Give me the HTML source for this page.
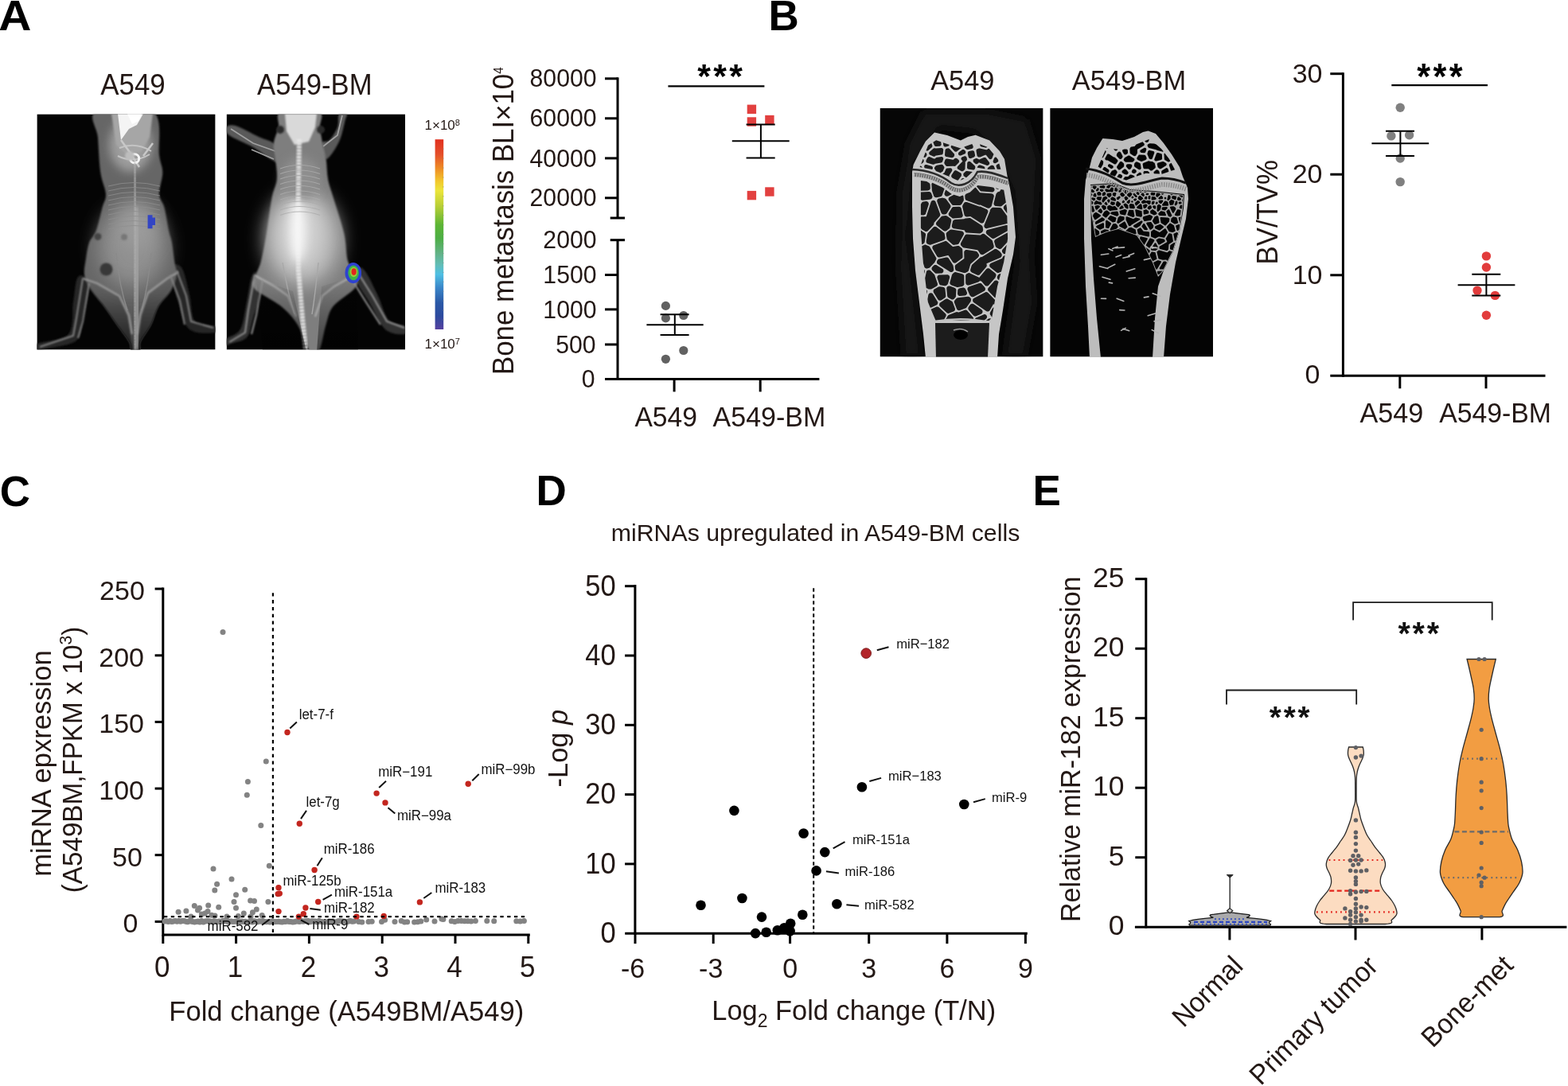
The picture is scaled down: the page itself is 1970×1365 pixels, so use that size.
<!DOCTYPE html>
<html><head><meta charset="utf-8"><title>Figure</title>
<style>
html,body{margin:0;padding:0;background:#fff;}
body{width:1970px;height:1365px;overflow:hidden;}
svg{display:block;}
text{font-family:'Liberation Sans', Arial, Helvetica, sans-serif;}
</style></head><body>
<svg width="1970" height="1365" viewBox="0 0 1970 1365">
<rect width="1970" height="1365" fill="#fff"/>
<text transform="translate(-1.8,37.5) scale(1.075,1.02)" font-size="53" font-weight="bold" fill="#000">A</text>
<text transform="translate(965.6,37.6) scale(1,1.02)" font-size="53" text-anchor="start" font-weight="bold" fill="#000" >B</text>
<text transform="translate(-0.2,635.6) scale(1,1.02)" font-size="53" text-anchor="start" font-weight="bold" fill="#000" >C</text>
<text transform="translate(673.6,634.8) scale(1,1.02)" font-size="53" text-anchor="start" font-weight="bold" fill="#000" >D</text>
<text transform="translate(1297.6,635.0) scale(1,1.02)" font-size="53" text-anchor="start" font-weight="bold" fill="#000" >E</text>
<text transform="translate(167.0,119.4) scale(1,1.04)" font-size="34.9" text-anchor="middle" font-weight="normal" fill="#231815" >A549</text>
<text transform="translate(395.3,119.4) scale(1,1.04)" font-size="34.7" text-anchor="middle" font-weight="normal" fill="#231815" >A549-BM</text>
<defs>
<filter id="b1" x="-20%" y="-20%" width="140%" height="140%"><feGaussianBlur stdDeviation="2.5"/></filter>
<filter id="b2" x="-60%" y="-60%" width="220%" height="220%"><feGaussianBlur stdDeviation="6"/></filter>
<filter id="b3" x="-100%" y="-100%" width="300%" height="300%"><feGaussianBlur stdDeviation="12"/></filter>
<filter id="b05" x="-20%" y="-20%" width="140%" height="140%"><feGaussianBlur stdDeviation="0.7"/></filter>
<filter id="b1s" x="-30%" y="-30%" width="160%" height="160%"><feGaussianBlur stdDeviation="1.2"/></filter>
<clipPath id="cm1"><rect x="46.4" y="143.4" width="224.2" height="296.2"/></clipPath>
<clipPath id="cm2"><rect x="284.6" y="143.4" width="224.5" height="296.2"/></clipPath>
<clipPath id="cb1"><rect x="1105.5" y="136" width="205.1" height="312.5"/></clipPath>
<clipPath id="cb2"><rect x="1319.2" y="136" width="204.8" height="312.5"/></clipPath>
<linearGradient id="cbar" x1="0" y1="0" x2="0" y2="1">
<stop offset="0" stop-color="#e1301f"/><stop offset="0.08" stop-color="#e4502a"/><stop offset="0.15" stop-color="#ee8a25"/>
<stop offset="0.22" stop-color="#f2c72c"/><stop offset="0.27" stop-color="#ece53a"/><stop offset="0.35" stop-color="#b9cf36"/>
<stop offset="0.45" stop-color="#5cb534"/><stop offset="0.52" stop-color="#4dae45"/><stop offset="0.6" stop-color="#62b286"/>
<stop offset="0.66" stop-color="#62bdb6"/><stop offset="0.71" stop-color="#4fbfe3"/><stop offset="0.78" stop-color="#3a86c9"/>
<stop offset="0.86" stop-color="#2a58a6"/><stop offset="0.93" stop-color="#2c4a9e"/><stop offset="1" stop-color="#5641a0"/>
</linearGradient>
<radialGradient id="body1" cx="0.5" cy="0.5" r="0.5"><stop offset="0" stop-color="#a8a8a8"/><stop offset="0.7" stop-color="#8c8c8c"/><stop offset="1" stop-color="#5a5a5a"/></radialGradient>
<radialGradient id="body2" cx="0.45" cy="0.45" r="0.55"><stop offset="0" stop-color="#e8e8e8"/><stop offset="0.5" stop-color="#c4c4c4"/><stop offset="1" stop-color="#7a7a7a"/></radialGradient>
</defs>
<g clip-path="url(#cm1)">
<rect x="46.4" y="143.4" width="224.2" height="296.2" fill="#040404"/>
<path d="M98.0,348.0C101.3,344.0 111.0,347.3 112.0,356.0C113.0,364.7 106.7,388.0 104.0,400.0C101.3,412.0 103.3,421.7 96.0,428.0C88.7,434.3 68.3,436.0 60.0,438.0C51.7,440.0 48.3,441.0 46.0,440.0C43.7,439.0 39.3,435.3 46.0,432.0C52.7,428.7 78.3,428.7 86.0,420.0C93.7,411.3 90.0,392.0 92.0,380.0C94.0,368.0 94.7,352.0 98.0,348.0Z" fill="#262626" filter="url(#b1s)"/>
<path d="M214.0,338.0C214.7,330.7 224.0,330.7 228.0,336.0C232.0,341.3 235.2,358.7 238.0,370.0C240.8,381.3 239.7,397.3 245.0,404.0C250.3,410.7 265.8,407.7 270.0,410.0C274.2,412.3 275.3,417.3 270.0,418.0C264.7,418.7 245.7,420.3 238.0,414.0C230.3,407.7 228.0,392.7 224.0,380.0C220.0,367.3 213.3,345.3 214.0,338.0Z" fill="#262626" filter="url(#b1s)"/>
<path d="M120.8,140.0C109.3,145.5 122.1,160.2 123.0,173.0C123.9,185.8 124.6,205.2 126.3,217.0C128.0,228.8 132.6,236.7 133.0,244.0C133.4,251.3 130.5,253.3 128.5,261.0C126.5,268.7 123.5,282.7 120.8,290.0C118.0,297.3 114.1,299.2 112.0,305.0C109.9,310.8 109.0,318.3 108.0,325.0C107.0,331.7 105.2,338.8 106.0,345.0C106.8,351.2 108.6,355.3 112.7,362.0C116.8,368.7 125.1,377.4 130.8,385.0C136.5,392.6 141.4,400.0 146.7,407.5C152.0,415.0 159.5,424.2 162.6,430.0C165.7,435.8 162.8,440.0 165.0,442.0C167.2,444.0 174.1,444.0 176.0,442.0C177.9,440.0 173.9,435.8 176.2,430.0C178.5,424.2 186.1,415.0 189.9,407.5C193.7,400.0 194.8,392.1 199.0,385.0C203.2,377.9 211.2,371.7 215.0,365.0C218.8,358.3 221.3,350.8 222.0,345.0C222.7,339.2 220.4,336.7 219.4,330.0C218.4,323.3 217.2,311.7 216.0,305.0C214.8,298.3 213.6,297.3 212.0,290.0C210.4,282.7 208.5,268.7 206.5,261.0C204.5,253.3 200.4,251.3 200.0,244.0C199.6,236.7 204.3,225.2 204.3,217.0C204.3,208.8 202.0,207.8 200.0,195.0C198.0,182.2 205.4,149.2 192.2,140.0C179.0,130.8 132.3,134.5 120.8,140.0Z" fill="#666" filter="url(#b1s)"/>
<ellipse cx="166" cy="310" rx="42" ry="50" fill="#8f8f8f" filter="url(#b3)"/>
<ellipse cx="172" cy="285" rx="22" ry="30" fill="#9c9c9c" filter="url(#b3)"/>
<linearGradient id="m1dark" x1="0" y1="0" x2="0" y2="1"><stop offset="0" stop-color="#000" stop-opacity="0"/><stop offset="1" stop-color="#000" stop-opacity="0.55"/></linearGradient>
<clipPath id="m1clip"><path d="M120.8,140.0C109.3,145.5 122.1,160.2 123.0,173.0C123.9,185.8 124.6,205.2 126.3,217.0C128.0,228.8 132.6,236.7 133.0,244.0C133.4,251.3 130.5,253.3 128.5,261.0C126.5,268.7 123.5,282.7 120.8,290.0C118.0,297.3 114.1,299.2 112.0,305.0C109.9,310.8 109.0,318.3 108.0,325.0C107.0,331.7 105.2,338.8 106.0,345.0C106.8,351.2 108.6,355.3 112.7,362.0C116.8,368.7 125.1,377.4 130.8,385.0C136.5,392.6 141.4,400.0 146.7,407.5C152.0,415.0 159.5,424.2 162.6,430.0C165.7,435.8 162.8,440.0 165.0,442.0C167.2,444.0 174.1,444.0 176.0,442.0C177.9,440.0 173.9,435.8 176.2,430.0C178.5,424.2 186.1,415.0 189.9,407.5C193.7,400.0 194.8,392.1 199.0,385.0C203.2,377.9 211.2,371.7 215.0,365.0C218.8,358.3 221.3,350.8 222.0,345.0C222.7,339.2 220.4,336.7 219.4,330.0C218.4,323.3 217.2,311.7 216.0,305.0C214.8,298.3 213.6,297.3 212.0,290.0C210.4,282.7 208.5,268.7 206.5,261.0C204.5,253.3 200.4,251.3 200.0,244.0C199.6,236.7 204.3,225.2 204.3,217.0C204.3,208.8 202.0,207.8 200.0,195.0C198.0,182.2 205.4,149.2 192.2,140.0C179.0,130.8 132.3,134.5 120.8,140.0Z"/></clipPath>
<g clip-path="url(#m1clip)" filter="url(#b1s)"><polygon points="96,346 150,372 160,398 168,445 90,445" fill="url(#m1dark)"/><polygon points="228,338 186,370 178,398 172,445 245,445" fill="url(#m1dark)"/><rect x="90" y="370" width="160" height="75" fill="url(#m1dark)" opacity="0.7"/></g>
<path d="M171,260 L173,330 L173,380 L171,440" stroke="#a8a8a8" stroke-width="8" fill="none" filter="url(#b1)" opacity="0.75"/>
<ellipse cx="164" cy="182" rx="27" ry="34" fill="#9c9c9c" filter="url(#b2)"/>
<path d="M140,143 L192,143 L188,172 L178,190 L160,196 L146,182 Z" fill="#a6a6a6" filter="url(#b1s)"/>
<path d="M150,186 Q170,178 190,190 M148,196 Q168,206 188,194" stroke="#c4c4c4" stroke-width="2" fill="none" filter="url(#b05)"/>
<path d="M148,143 L180,143 L172,157 L162,162 L152,176 Z" fill="#f4f4f4" filter="url(#b05)"/>
<path d="M160,143 L178,143 L174,152 L166,156 Z" fill="#ffffff" filter="url(#b05)"/>
<path d="M152,176 L162,190 L175,210 M192,180 L180,196" stroke="#c8c8c8" stroke-width="2.5" fill="none" filter="url(#b05)"/>
<circle cx="169.1" cy="199.3" r="5.6" fill="none" stroke="#f4f4f4" stroke-width="3"/>
<circle cx="163" cy="196" r="6" fill="#bdbdbd" filter="url(#b1s)"/>
<path d="M169.4,205 L170,260 L169.5,330 L169,400 L169.5,440" stroke="#b0b0b0" stroke-width="4" fill="none" stroke-dasharray="2.2 1.4" filter="url(#b1s)"/>
<path d="M136,234 Q168,225 201,234" stroke="#8e8e8e" stroke-width="1" fill="none" opacity="0.8"/>
<path d="M136,240 Q168,231 201,240" stroke="#8e8e8e" stroke-width="1" fill="none" opacity="0.8"/>
<path d="M136,246 Q168,237 201,246" stroke="#8e8e8e" stroke-width="1" fill="none" opacity="0.8"/>
<path d="M136,252 Q168,243 201,252" stroke="#8e8e8e" stroke-width="1" fill="none" opacity="0.8"/>
<path d="M136,258 Q168,249 201,258" stroke="#8e8e8e" stroke-width="1" fill="none" opacity="0.8"/>
<path d="M136,264 Q168,255 201,264" stroke="#8e8e8e" stroke-width="1" fill="none" opacity="0.8"/>
<path d="M136,270 Q168,261 201,270" stroke="#8e8e8e" stroke-width="1" fill="none" opacity="0.8"/>
<path d="M136,276 Q168,267 201,276" stroke="#8e8e8e" stroke-width="1" fill="none" opacity="0.8"/>
<path d="M136,282 Q168,273 201,282" stroke="#8e8e8e" stroke-width="1" fill="none" opacity="0.8"/>
<path d="M136,288 Q168,279 201,288" stroke="#8e8e8e" stroke-width="1" fill="none" opacity="0.8"/>
<circle cx="122.9" cy="297.4" r="4.5" fill="#444" filter="url(#b1s)"/>
<circle cx="133.5" cy="338.5" r="8" fill="#383838" filter="url(#b1s)"/>
<circle cx="156" cy="298" r="4" fill="#777" filter="url(#b1s)"/>
<path d="M104,350 L122,356 L150,372 L162,396 L166,420 M224,342 L210,350 L186,368 L176,396 L172,420" stroke="#9a9a9a" stroke-width="2.2" fill="none" filter="url(#b1s)"/>
<path d="M104,350 L96,400 L92,422 L50,436 M112,356 L104,404 L98,425" stroke="#858585" stroke-width="2" fill="none" filter="url(#b1s)"/>
<path d="M222,340 L234,372 L240,404 L268,412 M214,346 L226,378 L232,408" stroke="#858585" stroke-width="2" fill="none" filter="url(#b1s)"/>
<path d="M146,318 Q150,360 160,390 M190,318 Q186,360 178,390" stroke="#8a8a8a" stroke-width="1.4" fill="none" filter="url(#b05)"/>
<path d="M185.6,270.2 h5.9 v3.4 h3.5 v9.4 h-3.5 v4.3 h-5.9 z" fill="#3345c4"/>
</g>
<g clip-path="url(#cm2)">
<rect x="284.6" y="143.4" width="224.5" height="296.2" fill="#040404"/>
<path d="M346.0,182.0C350.5,187.3 353.0,201.0 352.0,204.0C351.0,207.0 345.7,203.2 340.0,200.0C334.3,196.8 326.7,190.0 318.0,185.0C309.3,180.0 293.7,174.2 288.0,170.0C282.3,165.8 282.7,162.0 284.0,160.0C285.3,158.0 289.2,156.0 296.0,158.0C302.8,160.0 316.7,168.0 325.0,172.0C333.3,176.0 341.5,176.7 346.0,182.0Z" fill="#5a5a5a" filter="url(#b1s)"/>
<path d="M346,190 L318,180 L290,162 M344,200 L316,188" stroke="#a0a0a0" stroke-width="1.8" fill="none" filter="url(#b05)"/>
<path d="M404.0,180.0C403.3,184.0 406.3,200.3 410.0,200.0C413.7,199.7 422.0,186.3 426.0,178.0C430.0,169.7 432.3,155.8 434.0,150.0C435.7,144.2 437.3,144.2 436.0,143.0C434.7,141.8 428.0,140.2 426.0,143.0C424.0,145.8 426.0,154.5 424.0,160.0C422.0,165.5 417.3,172.7 414.0,176.0C410.7,179.3 404.7,176.0 404.0,180.0Z" fill="#5a5a5a" filter="url(#b1s)"/>
<path d="M406,184 L424,170 L430,145" stroke="#a0a0a0" stroke-width="1.8" fill="none" filter="url(#b05)"/>
<path d="M318.0,344.0C321.7,339.3 332.0,342.7 332.0,352.0C332.0,361.3 321.7,388.0 318.0,400.0C314.3,412.0 314.7,418.7 310.0,424.0C305.3,429.3 294.3,430.3 290.0,432.0C285.7,433.7 285.0,435.0 284.0,434.0C283.0,433.0 281.0,429.3 284.0,426.0C287.0,422.7 297.7,421.7 302.0,414.0C306.3,406.3 307.3,391.7 310.0,380.0C312.7,368.3 314.3,348.7 318.0,344.0Z" fill="#333" filter="url(#b1s)"/>
<path d="M440.0,340.0C438.7,333.0 450.3,333.0 456.0,338.0C461.7,343.0 468.7,359.3 474.0,370.0C479.3,380.7 482.2,395.3 488.0,402.0C493.8,408.7 505.5,407.0 509.0,410.0C512.5,413.0 513.2,419.3 509.0,420.0C504.8,420.7 491.5,420.7 484.0,414.0C476.5,407.3 471.3,392.3 464.0,380.0C456.7,367.7 441.3,347.0 440.0,340.0Z" fill="#333" filter="url(#b1s)"/>
<path d="M353.0,140.0C344.6,143.3 351.5,153.3 350.0,160.0C348.5,166.7 344.5,173.3 343.8,180.0C343.1,186.7 345.3,192.5 346.0,200.0C346.7,207.5 348.7,216.9 348.0,225.0C347.3,233.1 343.8,237.0 341.6,248.5C339.4,260.0 337.1,280.8 334.8,294.0C332.5,307.2 330.1,319.5 328.0,328.0C325.9,336.5 323.5,339.3 322.0,345.0C320.5,350.7 313.8,355.4 318.9,362.0C324.0,368.6 343.8,377.2 352.9,384.8C362.0,392.4 367.3,398.0 373.4,407.5C379.5,417.0 384.8,436.2 389.3,442.0C393.8,447.8 397.2,447.8 400.6,442.0C404.0,436.2 406.7,417.0 409.7,407.5C412.7,398.0 412.8,392.4 418.8,384.8C424.9,377.2 441.1,368.6 446.0,362.0C450.9,355.4 449.5,350.7 448.0,345.0C446.5,339.3 439.6,336.5 437.0,328.0C434.4,319.5 435.4,307.2 432.4,294.0C429.4,280.8 422.2,260.0 418.8,248.5C415.4,237.0 413.5,233.1 412.0,225.0C410.5,216.9 410.8,207.5 409.7,200.0C408.6,192.5 406.5,186.7 405.2,180.0C403.9,173.3 402.8,166.7 402.0,160.0C401.2,153.3 408.8,143.3 400.6,140.0C392.4,136.7 361.4,136.7 353.0,140.0Z" fill="#7e7e7e" filter="url(#b1s)"/>
<ellipse cx="380" cy="300" rx="46" ry="58" fill="#bdbdbd" filter="url(#b3)"/>
<ellipse cx="376" cy="292" rx="22" ry="40" fill="#dadada" filter="url(#b3)"/>
<ellipse cx="378" cy="225" rx="24" ry="28" fill="#8e8e8e" filter="url(#b2)"/>
<path d="M358,143 L398,143 L396,160 L388,178 L370,182 L360,165 Z" fill="#d9d9d9" filter="url(#b1s)"/>
<circle cx="352" cy="163" r="5" fill="#2c2c2c" filter="url(#b1s)"/>
<circle cx="403" cy="163" r="5" fill="#2c2c2c" filter="url(#b1s)"/>
<path d="M376,175 L375,230 L374,290 L375,340 L380,400 L384,440" stroke="#e8e8e8" stroke-width="6" fill="none" stroke-dasharray="3 1.2" filter="url(#b1s)"/>
<ellipse cx="374" cy="290" rx="9" ry="40" fill="#f7f7f7" filter="url(#b2)"/>
<path d="M352,212.0 Q376,203.0 402,212.0" stroke="#ababab" stroke-width="1.1" fill="none" opacity="0.85"/>
<path d="M352,218.5 Q376,209.5 402,218.5" stroke="#ababab" stroke-width="1.1" fill="none" opacity="0.85"/>
<path d="M352,225.0 Q376,216.0 402,225.0" stroke="#ababab" stroke-width="1.1" fill="none" opacity="0.85"/>
<path d="M352,231.5 Q376,222.5 402,231.5" stroke="#ababab" stroke-width="1.1" fill="none" opacity="0.85"/>
<path d="M352,238.0 Q376,229.0 402,238.0" stroke="#ababab" stroke-width="1.1" fill="none" opacity="0.85"/>
<path d="M352,244.5 Q376,235.5 402,244.5" stroke="#ababab" stroke-width="1.1" fill="none" opacity="0.85"/>
<path d="M352,251.0 Q376,242.0 402,251.0" stroke="#ababab" stroke-width="1.1" fill="none" opacity="0.85"/>
<path d="M352,257.5 Q376,248.5 402,257.5" stroke="#ababab" stroke-width="1.1" fill="none" opacity="0.85"/>
<path d="M352,264.0 Q376,255.0 402,264.0" stroke="#ababab" stroke-width="1.1" fill="none" opacity="0.85"/>
<path d="M352,270.5 Q376,261.5 402,270.5" stroke="#ababab" stroke-width="1.1" fill="none" opacity="0.85"/>
<path d="M320,346 L345,360 L362,372 L372,398 M448,344 L420,360 L405,372 L396,398" stroke="#b0b0b0" stroke-width="2.2" fill="none" filter="url(#b1s)"/>
<path d="M320,346 L312,390 L308,418 L288,430 M330,352 L322,396 L316,420" stroke="#959595" stroke-width="2" fill="none" filter="url(#b1s)"/>
<path d="M448,340 L468,372 L486,404 L508,412 M440,348 L460,380 L478,408" stroke="#959595" stroke-width="2" fill="none" filter="url(#b1s)"/>
<path d="M355,330 Q362,370 370,395 M400,330 Q396,370 392,395" stroke="#a8a8a8" stroke-width="1.4" fill="none" filter="url(#b05)"/>
<linearGradient id="m2dark" x1="0" y1="0" x2="0" y2="1"><stop offset="0" stop-color="#000" stop-opacity="0"/><stop offset="1" stop-color="#000" stop-opacity="0.5"/></linearGradient>
<polygon points="322,350 368,366 385,442 330,442" fill="url(#m2dark)"/>
<polygon points="448,346 404,360 398,442 450,442" fill="url(#m2dark)"/>
<ellipse cx="443.8" cy="343.1" rx="10.3" ry="13.1" fill="#2f43d0" filter="url(#b05)"/>
<ellipse cx="444.1" cy="342.8" rx="6.8" ry="9.4" fill="#3fb548"/>
<ellipse cx="444.4" cy="342" rx="4.6" ry="6.2" fill="#9ccc3a"/>
<ellipse cx="444.6" cy="341.6" rx="3.1" ry="4.3" fill="#e3261d"/>
</g>
<rect x="546.6" y="175.2" width="10.6" height="238.8" fill="url(#cbar)"/>
<line x1="556.0" y1="187.1" x2="557.6" y2="187.1" stroke="#888" stroke-width="0.6" />
<line x1="556.0" y1="199.1" x2="557.6" y2="199.1" stroke="#888" stroke-width="0.6" />
<line x1="556.0" y1="211.0" x2="557.6" y2="211.0" stroke="#888" stroke-width="0.6" />
<line x1="556.0" y1="223.0" x2="557.6" y2="223.0" stroke="#888" stroke-width="0.6" />
<line x1="556.0" y1="234.9" x2="557.6" y2="234.9" stroke="#888" stroke-width="0.6" />
<line x1="556.0" y1="246.8" x2="557.6" y2="246.8" stroke="#888" stroke-width="0.6" />
<line x1="556.0" y1="258.8" x2="557.6" y2="258.8" stroke="#888" stroke-width="0.6" />
<line x1="556.0" y1="270.7" x2="557.6" y2="270.7" stroke="#888" stroke-width="0.6" />
<line x1="556.0" y1="282.7" x2="557.6" y2="282.7" stroke="#888" stroke-width="0.6" />
<line x1="556.0" y1="294.6" x2="557.6" y2="294.6" stroke="#888" stroke-width="0.6" />
<line x1="556.0" y1="306.5" x2="557.6" y2="306.5" stroke="#888" stroke-width="0.6" />
<line x1="556.0" y1="318.5" x2="557.6" y2="318.5" stroke="#888" stroke-width="0.6" />
<line x1="556.0" y1="330.4" x2="557.6" y2="330.4" stroke="#888" stroke-width="0.6" />
<line x1="556.0" y1="342.4" x2="557.6" y2="342.4" stroke="#888" stroke-width="0.6" />
<line x1="556.0" y1="354.3" x2="557.6" y2="354.3" stroke="#888" stroke-width="0.6" />
<line x1="556.0" y1="366.2" x2="557.6" y2="366.2" stroke="#888" stroke-width="0.6" />
<line x1="556.0" y1="378.2" x2="557.6" y2="378.2" stroke="#888" stroke-width="0.6" />
<line x1="556.0" y1="390.1" x2="557.6" y2="390.1" stroke="#888" stroke-width="0.6" />
<line x1="556.0" y1="402.1" x2="557.6" y2="402.1" stroke="#888" stroke-width="0.6" />
<text transform="translate(533.5,162.6) scale(1,1.0)" font-size="17" text-anchor="start" font-weight="normal" fill="#231815" >1×10<tspan font-size="11" dy="-5">8</tspan></text>
<text transform="translate(533.5,438.0) scale(1,1.0)" font-size="17" text-anchor="start" font-weight="normal" fill="#231815" >1×10<tspan font-size="11" dy="-5">7</tspan></text>
<line x1="776.0" y1="97.3" x2="776.0" y2="274.0" stroke="#000" stroke-width="3" />
<line x1="766.7" y1="274.0" x2="785.0" y2="274.0" stroke="#000" stroke-width="3" />
<line x1="776.0" y1="301.7" x2="776.0" y2="477.9" stroke="#000" stroke-width="3" />
<line x1="766.7" y1="301.7" x2="785.0" y2="301.7" stroke="#000" stroke-width="3" />
<line x1="760.0" y1="98.8" x2="776.0" y2="98.8" stroke="#000" stroke-width="3" />
<line x1="760.0" y1="148.8" x2="776.0" y2="148.8" stroke="#000" stroke-width="3" />
<line x1="760.0" y1="198.9" x2="776.0" y2="198.9" stroke="#000" stroke-width="3" />
<line x1="760.0" y1="248.8" x2="776.0" y2="248.8" stroke="#000" stroke-width="3" />
<line x1="760.0" y1="345.5" x2="776.0" y2="345.5" stroke="#000" stroke-width="3" />
<line x1="760.0" y1="388.9" x2="776.0" y2="388.9" stroke="#000" stroke-width="3" />
<line x1="760.0" y1="433.0" x2="776.0" y2="433.0" stroke="#000" stroke-width="3" />
<line x1="760.0" y1="476.4" x2="1029.4" y2="476.4" stroke="#000" stroke-width="3" />
<line x1="847.1" y1="476.4" x2="847.1" y2="492.4" stroke="#000" stroke-width="3" />
<line x1="955.2" y1="476.4" x2="955.2" y2="492.4" stroke="#000" stroke-width="3" />
<text transform="translate(749.5,109.4) scale(1,1.04)" font-size="30.2" text-anchor="end" font-weight="normal" fill="#231815" >80000</text>
<text transform="translate(749.5,159.4) scale(1,1.04)" font-size="30.2" text-anchor="end" font-weight="normal" fill="#231815" >60000</text>
<text transform="translate(749.5,209.5) scale(1,1.04)" font-size="30.2" text-anchor="end" font-weight="normal" fill="#231815" >40000</text>
<text transform="translate(749.5,259.4) scale(1,1.04)" font-size="30.2" text-anchor="end" font-weight="normal" fill="#231815" >20000</text>
<text transform="translate(749.5,312.3) scale(1,1.04)" font-size="30.2" text-anchor="end" font-weight="normal" fill="#231815" >2000</text>
<text transform="translate(749.5,356.1) scale(1,1.04)" font-size="30.2" text-anchor="end" font-weight="normal" fill="#231815" >1500</text>
<text transform="translate(749.5,399.5) scale(1,1.04)" font-size="30.2" text-anchor="end" font-weight="normal" fill="#231815" >1000</text>
<text transform="translate(748.5,443.6) scale(1,1.04)" font-size="30.2" text-anchor="end" font-weight="normal" fill="#231815" >500</text>
<text transform="translate(747.5,487.0) scale(1,1.04)" font-size="30.2" text-anchor="end" font-weight="normal" fill="#231815" >0</text>
<text transform="translate(644.5,471.0) rotate(-90) scale(1,1.04)" font-size="34.8" fill="#231815">Bone metastasis BLI×10<tspan font-size="15" dy="-12">4</tspan></text>
<circle cx="836.4" cy="384.4" r="5.6" fill="#616161" />
<circle cx="836.4" cy="399.9" r="5.6" fill="#616161" />
<circle cx="858.8" cy="396.5" r="5.6" fill="#616161" />
<circle cx="858.8" cy="440.5" r="5.6" fill="#616161" />
<circle cx="836.4" cy="451.3" r="5.6" fill="#616161" />
<line x1="812.4" y1="408.3" x2="883.7" y2="408.3" stroke="#000" stroke-width="2" />
<line x1="829.6" y1="395.3" x2="865.6" y2="395.3" stroke="#000" stroke-width="2" />
<line x1="829.6" y1="420.9" x2="865.6" y2="420.9" stroke="#000" stroke-width="2" />
<line x1="847.8" y1="395.3" x2="847.8" y2="420.9" stroke="#000" stroke-width="2" />
<rect x="938.7" y="131.6" width="11.4" height="11.4" fill="#e2403f"/>
<rect x="938.7" y="147.3" width="11.4" height="11.4" fill="#e2403f"/>
<rect x="961.2" y="144.9" width="11.4" height="11.4" fill="#e2403f"/>
<rect x="938.7" y="239.9" width="11.4" height="11.4" fill="#e2403f"/>
<rect x="961.2" y="235.3" width="11.4" height="11.4" fill="#e2403f"/>
<line x1="919.8" y1="177.3" x2="991.7" y2="177.3" stroke="#000" stroke-width="2" />
<line x1="937.6" y1="156.4" x2="973.7" y2="156.4" stroke="#000" stroke-width="2" />
<line x1="937.6" y1="198.6" x2="973.7" y2="198.6" stroke="#000" stroke-width="2" />
<line x1="955.9" y1="156.4" x2="955.9" y2="198.6" stroke="#000" stroke-width="2" />
<line x1="839.4" y1="108.3" x2="960.4" y2="108.3" stroke="#000" stroke-width="2.3" />
<text transform="translate(906.2,110.3) scale(1,0.98)" font-size="42.8" text-anchor="middle" font-weight="bold" fill="#000" letter-spacing="3.3">***</text>
<text transform="translate(836.6,535.8) scale(1,1.04)" font-size="33.6" text-anchor="middle" font-weight="normal" fill="#231815" >A549</text>
<text transform="translate(966.4,535.8) scale(1,1.04)" font-size="34.0" text-anchor="middle" font-weight="normal" fill="#231815" >A549-BM</text>
<text transform="translate(1209.3,113.0) scale(1,1.04)" font-size="34.4" text-anchor="middle" font-weight="normal" fill="#231815" >A549</text>
<text transform="translate(1418.5,113.0) scale(1,1.04)" font-size="34.4" text-anchor="middle" font-weight="normal" fill="#231815" >A549-BM</text>
<g clip-path="url(#cb1)">
<rect x="1105.5" y="136" width="205.1" height="312.5" fill="#060606"/>
<path d="M1160,140 L1240,140 L1290,150 L1305,200 L1302,260 L1296,320 L1300,380 L1288,448 L1262,448 L1278,330 L1272,240 L1250,190 L1225,165 L1180,160 L1150,205 L1142,300 L1158,448 L1135,448 L1128,330 L1130,240 L1140,180 Z" fill="#131313" filter="url(#b2)"/>
<polygon points="1174.0,166.5 1190.0,170.0 1206.9,176.4 1216.0,172.0 1225.6,169.8 1243.2,176.4 1256.0,190.0 1262.0,200.0 1265.5,221.0 1269.0,237.0 1273.0,260.0 1276.0,298.0 1273.0,320.0 1266.0,350.0 1260.0,390.0 1255.0,420.0 1253.0,450.0 1163.0,450.0 1160.0,420.0 1155.0,380.0 1150.0,340.0 1147.0,300.0 1146.0,260.0 1146.0,216.0 1147.6,207.1 1156.0,190.0 1163.0,177.5" fill="#c6c6c6"/>
<path d="M1167.6,238.7L1167.8,238.5L1168.1,238.3L1168.3,238.0L1168.4,237.8L1168.6,237.5L1168.7,237.2L1168.8,236.9L1168.8,236.6L1168.9,236.2L1168.8,235.9L1168.6,232.2L1168.5,231.9L1168.5,231.6L1168.4,231.3L1168.2,231.0L1168.1,230.7L1167.9,230.5L1167.7,230.2L1167.5,230.0L1167.2,229.8L1167.0,229.7L1164.2,228.1L1156.9,227.0L1156.9,239.8L1165.8,239.4L1166.1,239.3L1166.4,239.3L1166.7,239.2L1167.0,239.1L1167.3,238.9ZM1174.5,247.7L1174.7,247.9L1175.0,248.0L1175.3,248.1L1175.6,248.2L1175.9,248.2L1176.2,248.2L1176.5,248.2L1176.8,248.2L1181.5,247.2L1181.8,247.1L1182.1,247.0L1182.4,246.9L1182.7,246.7L1182.9,246.5L1183.2,246.3L1183.4,246.0L1183.6,245.7L1183.7,245.4L1183.9,245.1L1186.6,237.3L1184.5,235.8L1171.4,229.7L1171.3,229.8L1171.1,230.0L1170.9,230.2L1170.8,230.5L1170.6,230.8L1170.5,231.0L1170.4,231.3L1170.4,231.6L1170.4,231.9L1170.4,232.2L1170.9,239.5L1171.0,239.7L1171.0,240.0L1171.1,240.3L1173.1,246.1L1173.3,246.4L1173.4,246.7L1173.6,246.9L1173.8,247.1L1174.0,247.4L1174.2,247.6ZM1159.2,251.7L1159.5,251.7L1168.3,250.7L1168.6,250.6L1168.9,250.5L1169.2,250.4L1169.5,250.3L1169.8,250.1L1170.1,249.9L1170.3,249.7L1170.6,249.5L1170.8,249.2L1171.0,249.0L1171.1,248.7L1171.2,248.4L1171.3,248.1L1171.4,247.8L1171.5,247.5L1171.5,247.1L1171.4,246.8L1171.4,246.5L1171.3,246.2L1170.2,243.2L1170.1,242.9L1170.0,242.7L1169.8,242.4L1169.6,242.2L1169.4,241.9L1169.1,241.7L1168.9,241.6L1168.6,241.4L1168.3,241.3L1168.0,241.2L1167.7,241.1L1167.4,241.1L1167.1,241.1L1156.9,241.6L1156.9,250.9L1157.5,251.2L1157.7,251.4L1158.0,251.5L1158.3,251.6L1158.6,251.7L1158.9,251.7ZM1187.3,249.4L1187.0,249.3L1184.6,248.7L1184.3,248.7L1184.1,248.6L1183.8,248.6L1183.5,248.7L1183.2,248.7L1179.8,249.4L1179.5,249.5L1179.2,249.6L1178.9,249.7L1178.7,249.9L1178.4,250.0L1178.2,250.2L1178.0,250.5L1177.8,250.7L1177.6,251.0L1177.5,251.3L1177.4,251.5L1177.3,251.8L1177.3,252.1L1177.2,252.4L1177.2,252.7L1177.3,253.1L1177.3,253.4L1177.4,253.6L1182.5,267.5L1182.7,267.8L1182.8,268.0L1183.0,268.3L1183.2,268.5L1183.5,268.8L1183.7,269.0L1184.0,269.1L1184.3,269.3L1184.6,269.4L1184.9,269.5L1185.2,269.5L1185.5,269.5L1185.9,269.5L1187.3,269.4L1187.6,269.3L1188.0,269.3L1188.3,269.2L1188.6,269.0L1188.8,268.8L1189.1,268.6L1189.3,268.4L1189.5,268.2L1189.7,267.9L1194.0,261.0L1194.2,260.7L1194.3,260.4L1194.4,260.1L1194.4,259.8L1194.5,259.5L1194.5,259.2L1194.5,258.9L1194.4,258.6L1194.3,258.2L1194.2,258.0L1194.0,257.7L1193.9,257.4L1188.8,250.5L1188.6,250.3L1188.4,250.1L1188.1,249.9L1187.9,249.7L1187.6,249.6ZM1161.9,269.9L1162.2,269.7L1162.4,269.5L1162.6,269.2L1162.8,269.0L1163.0,268.7L1163.1,268.4L1163.2,268.1L1166.7,257.2L1166.7,256.9L1166.8,256.6L1166.8,256.3L1166.8,256.0L1166.8,255.6L1166.7,255.3L1166.6,255.0L1166.4,254.7L1166.3,254.5L1166.1,254.2L1165.9,254.0L1165.6,253.8L1165.4,253.6L1165.1,253.4L1164.8,253.3L1164.5,253.2L1164.2,253.1L1163.9,253.1L1163.6,253.1L1163.2,253.1L1160.3,253.4L1160.0,253.5L1159.7,253.6L1159.4,253.7L1159.1,253.8L1158.8,254.0L1158.6,254.2L1158.3,254.4L1158.1,254.7L1157.9,255.0L1156.9,256.7L1156.9,270.3L1160.1,270.4L1160.4,270.4L1160.8,270.3L1161.1,270.2L1161.4,270.1L1161.6,270.0ZM1174.2,252.2L1173.9,252.1L1173.6,252.0L1173.3,251.9L1173.0,251.8L1172.7,251.8L1172.4,251.8L1172.0,251.9L1171.7,251.9L1171.4,252.0L1171.1,252.2L1170.9,252.3L1170.6,252.5L1170.4,252.7L1170.2,252.9L1170.0,253.2L1169.8,253.5L1169.7,253.8L1169.6,254.1L1164.0,271.5L1164.0,271.7L1163.9,271.7L1163.9,271.8L1163.8,271.9L1163.8,271.9L1163.7,272.0L1163.7,272.1L1163.6,272.1L1163.5,272.1L1163.4,272.2L1163.3,272.2L1163.2,272.2L1163.1,272.2L1158.9,272.2L1158.5,272.2L1158.2,272.2L1157.9,272.3L1157.6,272.4L1157.3,272.5L1157.0,272.7L1156.9,272.8L1156.9,286.0L1156.9,286.1L1157.0,286.4L1157.0,286.7L1157.2,287.0L1157.3,287.3L1157.5,287.5L1157.7,287.8L1157.9,288.0L1158.1,288.2L1158.4,288.4L1162.0,290.6L1162.2,290.7L1162.5,290.9L1162.8,290.9L1163.1,291.0L1163.4,291.0L1163.7,291.1L1164.1,291.0L1164.4,291.0L1164.7,290.9L1164.9,290.8L1165.2,290.6L1165.5,290.5L1165.7,290.3L1166.0,290.1L1172.6,283.1L1172.8,282.8L1172.9,282.6L1173.1,282.3L1173.2,282.0L1173.3,281.8L1173.4,281.5L1173.4,281.2L1173.4,280.8L1173.4,280.4L1173.4,280.3L1173.5,280.2L1173.5,280.1L1173.5,280.0L1173.6,279.9L1173.6,279.8L1173.7,279.7L1180.5,272.0L1180.7,271.7L1180.9,271.5L1181.0,271.2L1181.1,270.9L1181.2,270.6L1181.3,270.3L1181.3,270.0L1181.3,269.7L1181.3,269.3L1181.2,269.0L1181.1,268.7L1175.6,253.9L1175.5,253.6L1175.3,253.3L1175.1,253.1L1174.9,252.8L1174.7,252.6L1174.5,252.4ZM1176.0,280.6L1176.0,280.9L1176.0,281.2L1176.0,281.5L1176.1,281.8L1176.2,282.1L1176.3,282.4L1176.4,282.7L1176.6,282.9L1176.8,283.2L1177.0,283.4L1177.2,283.6L1185.4,289.9L1185.7,290.1L1186.0,290.3L1186.3,290.4L1186.6,290.5L1186.9,290.5L1187.2,290.6L1187.5,290.6L1187.9,290.5L1188.2,290.5L1188.5,290.4L1188.8,290.3L1189.1,290.1L1189.3,289.9L1192.3,287.6L1192.5,287.4L1192.7,287.2L1192.9,286.9L1193.1,286.7L1193.3,286.4L1193.4,286.1L1193.5,285.8L1195.2,277.9L1195.2,277.6L1195.3,277.3L1195.3,277.0L1195.2,276.6L1195.2,276.4L1195.1,276.1L1194.9,275.8L1194.8,275.5L1194.6,275.3L1194.4,275.0L1194.2,274.8L1194.0,274.6L1190.2,271.8L1189.9,271.6L1189.6,271.4L1189.3,271.3L1188.9,271.2L1188.6,271.2L1188.3,271.1L1187.9,271.1L1184.5,271.5L1184.2,271.5L1183.9,271.6L1183.6,271.7L1183.3,271.8L1183.1,272.0L1182.8,272.1L1182.6,272.3L1182.4,272.5L1176.8,278.9L1176.6,279.2L1176.4,279.4L1176.3,279.7L1176.2,280.0L1176.1,280.3ZM1164.1,305.5L1164.3,305.7L1164.5,306.0L1164.7,306.2L1165.0,306.4L1165.3,306.6L1165.5,306.7L1167.3,307.5L1167.6,307.6L1167.9,307.7L1168.2,307.8L1168.5,307.8L1168.8,307.8L1169.1,307.8L1169.4,307.7L1169.7,307.6L1185.4,301.9L1185.7,301.8L1186.0,301.6L1186.3,301.4L1186.5,301.2L1186.8,301.0L1187.0,300.7L1187.1,300.5L1187.3,300.2L1187.4,299.9L1187.5,299.6L1187.5,299.3L1187.6,298.9L1187.5,298.6L1187.5,298.3L1186.8,294.3L1186.7,293.9L1186.6,293.6L1186.4,293.3L1186.3,293.0L1186.1,292.8L1185.8,292.5L1185.6,292.3L1176.7,285.5L1176.5,285.3L1176.2,285.1L1175.9,285.0L1175.6,284.9L1175.3,284.9L1175.0,284.8L1174.7,284.8L1174.4,284.8L1174.1,284.9L1173.8,285.0L1173.5,285.1L1173.2,285.2L1172.9,285.4L1172.7,285.6L1172.5,285.8L1165.9,292.8L1165.7,293.0L1165.5,293.3L1165.3,293.6L1165.2,293.9L1165.1,294.2L1165.0,294.5L1163.7,303.3L1163.7,303.6L1163.7,304.0L1163.7,304.3L1163.8,304.6L1163.9,304.9L1164.0,305.2ZM1161.4,305.1L1161.5,304.9L1161.6,304.6L1161.7,304.3L1161.8,304.0L1163.0,295.6L1163.1,295.3L1163.1,295.0L1163.0,294.7L1163.0,294.4L1162.9,294.1L1162.8,293.8L1162.6,293.5L1162.5,293.3L1162.3,293.0L1162.0,292.8L1161.8,292.6L1161.5,292.4L1156.9,289.6L1156.9,290.0L1158.2,307.2L1160.0,306.4L1160.3,306.2L1160.5,306.0L1160.8,305.8L1161.0,305.6L1161.2,305.4ZM1173.7,330.6L1173.9,330.4L1174.1,330.2L1174.2,329.9L1176.0,326.6L1176.2,326.3L1176.3,326.0L1176.3,325.6L1176.4,325.3L1176.4,325.0L1176.4,324.7L1176.3,324.3L1176.2,324.0L1176.1,323.7L1175.9,323.4L1168.3,310.6L1168.2,310.3L1167.9,310.1L1167.7,309.8L1167.5,309.6L1167.2,309.5L1166.9,309.3L1163.7,307.9L1163.4,307.7L1163.1,307.7L1162.8,307.6L1162.5,307.6L1162.2,307.6L1161.9,307.6L1161.6,307.7L1161.3,307.8L1161.0,307.9L1158.3,309.2L1159.9,329.9L1160.0,331.1L1161.2,335.1L1161.3,335.4L1161.4,335.7L1161.6,336.0L1161.7,336.2L1162.0,336.5L1162.2,336.7L1162.5,336.9L1162.7,337.1L1162.8,337.1L1163.1,337.2L1163.4,337.3L1163.7,337.4L1164.0,337.4L1164.3,337.5L1164.6,337.4L1164.9,337.4L1166.5,337.1L1166.8,337.0L1167.1,336.9L1167.4,336.8L1167.7,336.6L1167.9,336.4L1168.2,336.2ZM1184.3,342.8L1184.5,342.6L1184.7,342.4L1184.9,342.1L1185.1,341.9L1185.2,341.6L1185.3,341.3L1185.4,341.0L1185.4,340.7L1185.4,340.3L1185.4,340.0L1185.3,339.7L1185.3,339.4L1185.1,339.1L1185.0,338.8L1184.8,338.6L1184.6,338.3L1184.4,338.1L1184.2,337.9L1183.9,337.7L1177.0,333.4L1176.8,333.2L1176.5,333.1L1176.2,333.0L1175.9,332.9L1175.6,332.9L1175.3,332.9L1175.0,332.9L1174.7,333.0L1174.4,333.0L1174.1,333.1L1173.8,333.3L1173.5,333.4L1173.3,333.6L1173.1,333.8L1171.4,335.5L1171.2,335.7L1171.0,336.0L1170.9,336.2L1170.7,336.5L1170.6,336.8L1170.6,337.1L1170.5,337.4L1170.5,337.7L1170.5,338.1L1170.6,338.4L1170.7,338.7L1170.8,339.0L1170.9,339.2L1171.1,339.5L1171.2,339.8L1171.5,340.0L1174.3,342.8L1174.6,343.1L1174.8,343.3L1175.1,343.4L1175.4,343.5L1175.7,343.7L1176.0,343.7L1176.3,343.8L1176.7,343.8L1182.3,343.6L1182.6,343.6L1182.9,343.6L1183.2,343.5L1183.5,343.4L1183.8,343.2L1184.1,343.0ZM1161.8,340.1L1161.7,339.8L1161.5,339.6L1161.4,339.3L1161.2,339.1L1161.0,338.9L1161.6,343.9L1162.0,342.0L1162.0,341.7L1162.1,341.3L1162.0,341.0L1162.0,340.7L1161.9,340.4ZM1167.3,339.4L1167.0,339.4L1166.7,339.4L1166.4,339.4L1166.1,339.5L1165.8,339.6L1165.5,339.7L1165.2,339.9L1165.0,340.1L1164.7,340.3L1164.5,340.5L1164.3,340.8L1164.2,341.0L1164.0,341.3L1163.9,341.6L1163.8,341.9L1162.2,349.4L1163.7,361.9L1166.0,363.1L1166.3,363.3L1166.6,363.4L1166.9,363.5L1167.2,363.5L1167.5,363.5L1169.0,363.5L1169.3,363.5L1169.6,363.5L1169.9,363.4L1170.2,363.3L1170.5,363.2L1176.3,360.0L1176.6,359.8L1176.9,359.6L1177.1,359.4L1177.3,359.2L1177.5,358.9L1177.7,358.7L1177.8,358.4L1177.9,358.1L1178.0,357.7L1178.0,357.4L1178.0,357.1L1178.0,356.8L1177.9,356.5L1177.9,356.2L1174.4,345.9L1174.3,345.6L1174.2,345.4L1174.0,345.1L1173.8,344.9L1173.6,344.7L1169.2,340.3L1169.0,340.1L1168.7,339.9L1168.5,339.8L1168.2,339.6L1167.9,339.5L1167.6,339.4ZM1193.0,347.4L1192.9,347.1L1192.8,346.9L1192.6,346.6L1192.4,346.3L1192.2,346.1L1191.9,345.9L1191.7,345.7L1191.4,345.6L1191.1,345.4L1190.8,345.3L1190.5,345.3L1190.2,345.2L1189.9,345.2L1180.5,345.5L1180.2,345.5L1179.9,345.6L1179.6,345.6L1179.3,345.8L1179.0,345.9L1178.8,346.1L1178.5,346.3L1178.3,346.5L1178.1,346.7L1177.9,347.0L1177.7,347.2L1177.6,347.5L1177.5,347.8L1177.4,348.1L1177.4,348.5L1177.4,348.8L1177.4,349.1L1177.5,349.4L1177.6,349.7L1179.9,356.5L1180.0,356.8L1180.1,357.1L1180.3,357.3L1180.5,357.6L1180.7,357.8L1181.0,358.0L1181.2,358.2L1181.5,358.4L1181.8,358.5L1182.1,358.6L1182.4,358.6L1186.6,359.3L1186.9,359.3L1187.2,359.3L1187.5,359.3L1187.8,359.2L1188.1,359.1L1188.4,359.0L1188.7,358.9L1189.0,358.7L1189.9,358.0L1190.2,357.8L1190.4,357.6L1190.6,357.3L1190.7,357.1L1190.9,356.8L1191.0,356.6L1191.1,356.3L1193.1,349.3L1193.1,349.0L1193.2,348.7L1193.2,348.4L1193.2,348.1L1193.1,347.7ZM1164.7,364.9L1164.5,364.7L1164.3,364.4L1164.0,364.2L1164.0,364.2L1164.7,369.7L1165.1,367.1L1165.1,366.8L1165.1,366.5L1165.1,366.2L1165.0,365.8L1164.9,365.5L1164.8,365.2ZM1172.8,364.7L1172.7,365.0L1172.6,365.3L1172.6,365.6L1172.6,365.9L1172.6,366.2L1172.6,366.5L1172.7,366.8L1172.8,367.1L1172.9,367.4L1173.0,367.7L1178.3,376.2L1178.5,376.5L1178.7,376.7L1178.9,377.0L1179.1,377.2L1179.4,377.3L1179.7,377.5L1180.0,377.6L1180.3,377.7L1180.6,377.7L1180.9,377.8L1181.3,377.8L1181.6,377.7L1181.9,377.6L1182.2,377.5L1182.5,377.4L1182.8,377.2L1186.9,374.5L1187.1,374.4L1187.4,374.1L1187.6,373.9L1187.8,373.7L1187.9,373.4L1188.1,373.1L1188.2,372.8L1188.3,372.5L1188.3,372.2L1188.3,371.9L1188.3,371.6L1187.5,363.7L1187.5,363.4L1187.4,363.1L1187.3,362.7L1187.2,362.5L1187.0,362.2L1186.8,361.9L1186.6,361.7L1186.3,361.5L1186.1,361.3L1185.8,361.1L1185.5,361.0L1185.2,360.9L1184.8,360.8L1181.0,360.3L1180.7,360.2L1180.4,360.2L1180.2,360.2L1179.9,360.3L1179.6,360.4L1179.3,360.5L1179.0,360.6L1174.3,363.2L1174.0,363.3L1173.7,363.5L1173.5,363.7L1173.3,364.0L1173.1,364.2L1173.0,364.5ZM1176.7,383.5L1177.0,383.3L1177.2,383.1L1177.5,382.8L1177.7,382.6L1177.8,382.3L1178.0,382.0L1178.0,381.9L1178.1,381.6L1178.2,381.3L1178.3,381.0L1178.3,380.7L1178.3,380.4L1178.3,380.1L1178.2,379.8L1178.1,379.5L1178.0,379.2L1177.8,379.0L1172.2,369.7L1172.0,369.4L1171.8,369.2L1171.6,369.0L1171.3,368.8L1171.1,368.6L1170.8,368.5L1170.5,368.4L1170.2,368.3L1169.9,368.2L1169.6,368.2L1169.3,368.2L1169.0,368.2L1168.7,368.3L1168.4,368.4L1168.1,368.5L1167.8,368.6L1167.6,368.8L1167.3,369.0L1167.1,369.2L1166.9,369.4L1166.7,369.7L1166.6,370.0L1166.5,370.2L1166.4,370.5L1166.3,370.8L1165.4,376.0L1165.9,379.8L1168.8,386.8L1168.9,386.8L1169.2,386.8L1169.5,386.7L1169.8,386.6L1170.1,386.5L1176.4,383.6ZM1188.7,396.0L1188.7,395.7L1188.6,395.4L1188.5,395.1L1188.4,394.9L1188.3,394.6L1188.1,394.3L1187.9,394.1L1187.7,393.9L1179.6,386.3L1179.3,386.1L1179.1,385.9L1178.8,385.8L1178.5,385.7L1178.2,385.6L1177.9,385.5L1177.6,385.5L1177.3,385.5L1177.0,385.5L1176.7,385.5L1176.4,385.6L1176.1,385.8L1169.6,388.7L1175.6,403.1L1185.3,403.1L1188.3,397.8L1188.4,397.5L1188.5,397.2L1188.6,397.0L1188.7,396.7L1188.7,396.3ZM1186.7,244.8L1186.8,245.1L1187.0,245.3L1187.2,245.6L1187.4,245.8L1187.6,246.1L1187.9,246.3L1188.1,246.4L1188.4,246.6L1188.7,246.7L1189.0,246.8L1189.4,246.8L1189.7,246.8L1190.0,246.8L1190.3,246.8L1190.6,246.7L1190.9,246.6L1191.2,246.5L1195.9,243.9L1195.7,243.9L1195.6,243.8L1195.6,243.8L1195.5,243.7L1188.2,238.4L1186.7,242.6L1186.6,242.9L1186.5,243.2L1186.5,243.5L1186.5,243.8L1186.5,244.1L1186.6,244.5ZM1191.9,248.8L1191.8,249.1L1191.7,249.4L1191.6,249.7L1191.6,250.0L1191.6,250.3L1191.6,250.6L1191.7,251.0L1191.7,251.3L1191.9,251.6L1192.0,251.9L1192.2,252.1L1195.7,256.8L1195.9,257.1L1196.1,257.3L1196.3,257.5L1196.6,257.7L1196.9,257.8L1197.1,257.9L1197.4,258.0L1197.7,258.1L1198.0,258.1L1198.4,258.1L1205.7,257.9L1206.0,257.9L1206.3,257.9L1206.6,257.8L1206.9,257.6L1207.2,257.5L1207.5,257.3L1207.7,257.1L1207.9,256.9L1208.1,256.6L1208.3,256.4L1210.4,252.8L1210.6,252.5L1210.7,252.1L1210.8,251.8L1210.9,251.5L1210.9,251.2L1210.9,250.8L1210.5,247.2L1210.5,246.9L1210.4,246.6L1210.3,246.3L1210.1,246.0L1210.0,245.7L1209.8,245.5L1209.7,245.4L1206.3,246.8L1206.3,246.9L1206.2,246.9L1206.1,246.9L1206.0,246.9L1205.9,246.9L1205.8,246.9L1205.7,246.9L1198.4,244.7L1193.3,247.4L1193.0,247.6L1192.7,247.8L1192.5,248.0L1192.3,248.2L1192.1,248.5ZM1206.9,260.6L1206.7,260.4L1206.4,260.3L1206.2,260.1L1205.9,260.0L1205.6,259.9L1205.3,259.8L1205.0,259.8L1204.6,259.8L1198.5,259.9L1198.2,260.0L1197.8,260.0L1197.5,260.1L1197.2,260.2L1197.0,260.4L1196.7,260.5L1196.4,260.7L1196.2,261.0L1196.0,261.2L1195.8,261.5L1192.2,267.4L1192.0,267.6L1191.9,267.9L1191.8,268.2L1191.7,268.6L1191.7,268.9L1191.7,269.2L1191.7,269.5L1191.8,269.8L1191.9,270.1L1192.0,270.4L1192.1,270.7L1192.3,271.0L1192.5,271.2L1192.7,271.4L1193.0,271.6L1196.0,273.8L1196.2,274.0L1196.5,274.2L1196.8,274.3L1197.1,274.4L1197.4,274.4L1197.8,274.5L1198.1,274.5L1206.8,273.8L1207.1,273.8L1207.4,273.7L1207.7,273.6L1208.0,273.5L1208.2,273.4L1208.5,273.2L1208.7,273.0L1208.9,272.8L1209.1,272.5L1209.3,272.3L1209.5,272.0L1209.6,271.7L1209.7,271.4L1209.7,271.1L1209.8,270.8L1209.8,270.5L1209.7,270.2L1209.7,269.9L1207.8,262.2L1207.8,261.9L1207.6,261.6L1207.5,261.4L1207.3,261.1L1207.1,260.9ZM1212.6,254.1L1212.3,254.2L1212.0,254.3L1211.8,254.5L1211.5,254.7L1211.3,254.9L1211.1,255.2L1210.9,255.5L1209.6,257.8L1209.4,258.1L1209.3,258.4L1209.2,258.7L1209.2,259.0L1209.1,259.3L1209.1,259.6L1209.2,259.9L1209.2,260.2L1211.5,270.0L1211.6,270.3L1211.7,270.6L1211.9,270.9L1212.0,271.1L1212.2,271.4L1212.4,271.6L1212.7,271.8L1212.9,272.0L1213.2,272.1L1213.5,272.2L1213.8,272.3L1214.1,272.4L1214.4,272.5L1214.7,272.5L1215.0,272.4L1218.9,272.1L1219.0,272.1L1219.1,272.1L1219.2,272.1L1219.3,272.1L1219.4,272.1L1219.4,272.2L1219.6,272.2L1231.7,280.1L1231.9,280.3L1232.2,280.4L1232.5,280.5L1232.8,280.6L1233.1,280.6L1233.4,280.6L1233.8,280.6L1234.1,280.6L1234.4,280.5L1234.7,280.4L1234.9,280.2L1235.2,280.1L1235.5,279.9L1235.7,279.7L1235.9,279.5L1236.1,279.2L1236.2,278.9L1236.4,278.7L1241.2,267.1L1241.3,266.8L1241.3,266.5L1241.4,266.2L1241.4,265.9L1241.4,265.6L1241.3,265.3L1241.3,265.0L1241.2,264.7L1241.0,264.4L1240.9,264.2L1240.7,263.9L1240.5,263.7L1240.3,263.5L1240.0,263.3L1239.8,263.1L1239.5,263.0L1232.6,259.9L1232.3,259.8L1232.0,259.7L1231.7,259.6L1231.3,259.6L1231.0,259.6L1230.7,259.6L1230.7,259.7L1230.6,259.7L1230.5,259.7L1230.4,259.6L1230.3,259.6L1230.2,259.6L1214.8,254.1L1214.5,254.0L1214.2,253.9L1213.9,253.9L1213.5,253.9L1213.2,253.9L1212.9,254.0ZM1197.8,277.0L1197.6,277.3L1197.4,277.5L1197.2,277.8L1197.1,278.1L1196.9,278.3L1196.9,278.7L1195.8,283.4L1195.8,283.7L1195.8,284.0L1195.8,284.3L1195.8,284.6L1195.9,284.9L1196.0,285.2L1196.1,285.5L1196.2,285.7L1196.4,286.0L1196.6,286.2L1196.8,286.4L1197.1,286.6L1197.3,286.8L1197.6,286.9L1197.9,287.1L1198.2,287.2L1198.5,287.2L1211.1,289.2L1211.3,289.2L1211.3,289.2L1211.4,289.3L1211.5,289.3L1211.6,289.3L1211.6,289.4L1211.7,289.5L1211.8,289.5L1211.8,289.6L1211.9,289.8L1212.4,290.8L1212.5,291.1L1212.7,291.4L1212.9,291.6L1213.1,291.8L1213.4,292.0L1213.6,292.2L1213.9,292.3L1214.2,292.5L1214.5,292.5L1214.8,292.6L1215.1,292.6L1230.3,293.5L1230.6,293.5L1230.9,293.5L1231.2,293.4L1231.5,293.3L1231.8,293.2L1232.1,293.1L1232.3,292.9L1233.7,291.9L1234.0,291.7L1234.2,291.5L1234.4,291.3L1234.5,291.0L1234.7,290.8L1234.8,290.5L1234.9,290.2L1235.1,289.7L1235.1,289.4L1235.2,289.1L1235.2,288.9L1235.2,288.6L1235.1,288.3L1234.7,285.5L1234.6,285.2L1234.6,284.9L1234.4,284.7L1234.3,284.4L1234.1,284.1L1234.0,283.9L1233.8,283.7L1233.5,283.5L1233.3,283.3L1219.7,274.5L1219.5,274.3L1219.2,274.2L1218.9,274.1L1218.6,274.0L1218.3,274.0L1218.0,274.0L1217.7,274.0L1213.2,274.4L1212.9,274.5L1212.6,274.6L1212.3,274.7L1212.0,274.8L1211.7,275.0L1211.5,275.1L1211.5,275.2L1211.4,275.2L1211.3,275.2L1211.3,275.3L1211.2,275.3L1211.1,275.3L1210.9,275.3L1199.8,276.1L1199.4,276.2L1199.1,276.3L1198.8,276.4L1198.5,276.5L1198.3,276.6L1198.0,276.8ZM1188.7,293.6L1188.7,293.9L1188.7,294.2L1188.7,294.5L1188.7,294.9L1189.6,300.0L1189.7,300.3L1189.8,300.6L1189.9,300.9L1190.1,301.1L1190.2,301.4L1190.4,301.6L1190.6,301.8L1196.4,307.0L1196.7,307.2L1196.9,307.4L1197.2,307.6L1197.5,307.7L1197.8,307.8L1198.1,307.8L1198.4,307.9L1198.8,307.9L1199.1,307.8L1202.7,307.2L1203.0,307.2L1203.3,307.1L1203.6,306.9L1203.9,306.8L1204.2,306.6L1204.4,306.4L1204.7,306.1L1204.9,305.9L1205.0,305.6L1210.6,295.2L1210.8,294.9L1210.9,294.6L1210.9,294.3L1211.0,294.0L1211.0,293.7L1211.0,293.4L1210.9,293.0L1210.8,292.7L1210.7,292.4L1210.6,292.1L1210.4,291.9L1210.2,291.6L1210.0,291.4L1209.7,291.2L1209.5,291.0L1209.2,290.8L1208.9,290.7L1208.6,290.6L1208.3,290.5L1195.6,288.6L1195.3,288.6L1195.0,288.6L1194.6,288.6L1194.3,288.7L1194.0,288.8L1193.7,288.9L1193.4,289.0L1193.2,289.2L1189.9,291.8L1189.7,292.0L1189.4,292.2L1189.2,292.4L1189.1,292.7L1188.9,293.0L1188.8,293.3ZM1213.2,295.0L1212.9,295.2L1212.7,295.4L1212.5,295.6L1212.3,295.9L1212.2,296.1L1207.2,305.3L1207.1,305.6L1207.0,305.9L1206.9,306.2L1206.9,306.5L1206.8,306.8L1206.9,307.1L1206.9,307.4L1207.0,307.7L1207.1,308.0L1207.2,308.3L1207.4,308.6L1207.5,308.8L1207.7,309.1L1208.0,309.3L1209.8,310.9L1210.1,311.1L1210.4,311.3L1210.7,311.4L1211.1,311.5L1211.4,311.6L1228.0,314.3L1228.2,314.4L1228.3,314.4L1228.4,314.4L1228.5,314.5L1228.5,314.5L1228.6,314.6L1228.7,314.7L1228.8,314.8L1231.3,318.7L1231.5,319.0L1231.7,319.2L1232.0,319.4L1232.2,319.6L1232.5,319.8L1232.7,319.9L1233.0,320.0L1233.3,320.1L1233.6,320.1L1233.9,320.2L1234.3,320.2L1234.6,320.1L1234.9,320.0L1235.2,319.9L1235.4,319.8L1235.7,319.7L1247.3,312.4L1247.5,312.2L1247.8,312.0L1248.0,311.8L1248.2,311.5L1248.3,311.2L1248.5,310.9L1248.6,310.6L1248.7,310.3L1248.7,310.0L1248.8,309.7L1248.7,309.4L1248.7,309.1L1248.6,308.8L1247.0,303.1L1246.9,302.8L1246.7,302.5L1246.6,302.2L1246.4,302.0L1246.2,301.8L1245.9,301.5L1237.3,294.5L1237.0,294.3L1236.7,294.1L1236.4,294.0L1236.1,293.9L1235.8,293.8L1235.5,293.8L1235.2,293.8L1234.8,293.8L1234.5,293.9L1234.2,294.0L1233.9,294.1L1233.6,294.2L1233.4,294.4L1232.3,295.2L1232.1,295.3L1232.1,295.3L1232.0,295.3L1231.9,295.4L1231.8,295.4L1231.7,295.4L1231.6,295.4L1215.2,294.5L1214.9,294.4L1214.6,294.5L1214.3,294.5L1214.0,294.6L1213.7,294.7L1213.4,294.9ZM1188.2,303.0L1187.9,303.1L1187.6,303.1L1187.3,303.1L1187.0,303.2L1173.4,308.2L1173.1,308.3L1172.8,308.4L1172.6,308.6L1172.3,308.8L1172.1,309.0L1171.9,309.3L1171.8,309.5L1171.6,309.8L1171.5,310.1L1171.4,310.4L1171.3,310.7L1171.3,311.0L1171.3,311.3L1171.3,311.6L1171.4,312.0L1171.5,312.2L1171.6,312.5L1171.7,312.8L1177.2,321.9L1177.3,322.2L1177.5,322.4L1177.7,322.6L1178.0,322.8L1178.2,323.0L1178.5,323.2L1178.8,323.3L1179.1,323.4L1179.4,323.5L1179.7,323.5L1180.0,323.5L1180.3,323.5L1180.6,323.4L1190.8,321.1L1191.0,321.1L1191.1,321.1L1191.2,321.1L1191.2,321.1L1191.3,321.1L1191.4,321.1L1191.5,321.2L1191.6,321.2L1191.7,321.3L1191.7,321.3L1191.8,321.4L1191.9,321.5L1196.9,329.2L1197.1,329.5L1197.3,329.7L1197.5,329.9L1197.7,330.1L1198.0,330.3L1198.2,330.4L1198.5,330.5L1198.8,330.6L1199.1,330.6L1199.4,330.7L1199.7,330.7L1200.0,330.6L1200.3,330.6L1200.6,330.5L1200.9,330.4L1201.2,330.2L1201.4,330.1L1208.2,325.1L1208.5,324.9L1208.7,324.7L1208.9,324.5L1209.1,324.2L1209.2,323.9L1209.4,323.7L1209.5,323.4L1209.5,323.0L1209.6,322.7L1209.6,322.4L1209.3,314.1L1209.3,313.8L1209.2,313.5L1209.1,313.1L1209.0,312.8L1208.8,312.5L1208.6,312.3L1208.4,312.0L1208.2,311.8L1205.7,309.7L1205.5,309.5L1205.2,309.4L1204.9,309.2L1204.7,309.1L1204.4,309.0L1204.1,309.0L1203.8,309.0L1203.4,309.0L1203.1,309.0L1197.5,309.9L1197.3,309.9L1197.2,309.9L1197.1,309.9L1197.1,309.9L1197.0,309.9L1196.9,309.8L1196.8,309.8L1196.7,309.8L1196.6,309.7L1190.2,303.9L1190.0,303.7L1189.7,303.5L1189.4,303.4L1189.2,303.2L1188.9,303.1L1188.5,303.1ZM1230.0,321.4L1230.0,321.1L1230.0,320.8L1230.0,320.4L1229.9,320.1L1229.8,319.8L1229.7,319.5L1229.5,319.2L1228.2,317.2L1228.0,317.0L1227.8,316.7L1227.5,316.5L1227.3,316.3L1227.0,316.1L1226.7,316.0L1226.4,315.9L1226.1,315.8L1214.9,314.0L1214.6,314.0L1214.3,313.9L1214.0,314.0L1213.7,314.0L1213.4,314.1L1213.1,314.2L1212.8,314.4L1212.5,314.5L1212.3,314.7L1212.1,315.0L1211.9,315.2L1211.7,315.5L1211.5,315.7L1211.4,316.0L1211.3,316.3L1211.2,316.6L1211.2,316.9L1211.2,317.3L1211.4,324.5L1211.4,324.6L1211.4,324.7L1211.4,324.8L1211.4,324.9L1211.3,325.0L1211.3,325.0L1211.3,325.1L1211.2,325.2L1211.1,325.2L1211.0,325.3L1201.0,332.6L1200.7,332.8L1200.5,333.0L1200.3,333.3L1200.1,333.5L1200.0,333.8L1199.9,334.1L1199.8,334.4L1199.7,334.7L1199.7,335.0L1199.7,335.3L1199.7,335.6L1200.0,337.9L1200.1,338.3L1200.2,338.5L1200.3,338.8L1200.4,339.1L1200.6,339.4L1200.8,339.6L1201.0,339.8L1201.2,340.0L1201.5,340.2L1201.8,340.4L1202.0,340.5L1202.3,340.6L1210.9,343.0L1211.3,343.0L1211.6,343.1L1211.9,343.1L1212.3,343.1L1212.6,343.0L1212.9,342.9L1213.2,342.8L1215.4,341.7L1215.7,341.5L1216.0,341.3L1216.2,341.1L1216.4,340.9L1216.6,340.6L1216.8,340.3L1216.9,340.0L1217.1,339.7L1219.2,332.4L1219.2,332.2L1219.3,332.2L1219.3,332.1L1219.4,332.0L1219.4,332.0L1219.5,331.8L1229.0,323.4L1229.2,323.1L1229.4,322.9L1229.6,322.6L1229.7,322.3L1229.9,322.0L1230.0,321.7ZM1195.2,342.1L1195.5,342.0L1195.8,342.0L1196.1,341.9L1196.4,341.8L1196.7,341.6L1197.0,341.5L1197.2,341.3L1197.4,341.1L1197.6,340.8L1197.8,340.6L1198.0,340.3L1198.1,340.0L1198.2,339.7L1198.3,339.4L1198.3,339.1L1198.3,338.7L1198.3,338.4L1197.7,334.4L1197.6,334.0L1197.5,333.7L1197.4,333.4L1197.2,333.1L1191.9,324.8L1191.7,324.6L1191.5,324.3L1191.2,324.1L1191.0,323.9L1190.7,323.8L1190.4,323.6L1190.1,323.5L1189.8,323.4L1189.5,323.4L1189.1,323.4L1188.8,323.4L1188.5,323.5L1179.9,325.4L1179.6,325.5L1179.3,325.6L1179.1,325.7L1178.8,325.9L1178.6,326.1L1178.4,326.3L1178.2,326.5L1178.0,326.8L1177.8,327.0L1177.3,327.9L1177.2,328.2L1177.1,328.5L1177.0,328.8L1177.0,329.1L1177.0,329.4L1177.0,329.8L1177.0,330.1L1177.1,330.4L1177.2,330.7L1177.4,331.0L1177.5,331.3L1177.7,331.5L1177.9,331.7L1178.2,331.9L1178.4,332.1L1193.4,341.6L1193.7,341.7L1194.0,341.9L1194.3,342.0L1194.6,342.0L1194.9,342.1ZM1193.5,354.5L1193.4,354.8L1193.4,355.1L1193.3,355.4L1193.4,355.8L1193.4,356.1L1193.5,356.4L1193.6,356.7L1193.8,357.0L1193.9,357.2L1194.1,357.5L1194.3,357.7L1194.6,357.9L1194.8,358.1L1195.1,358.2L1195.4,358.4L1201.7,360.8L1201.9,360.9L1202.2,360.9L1202.5,361.0L1202.8,361.0L1203.1,361.0L1203.4,360.9L1208.8,359.9L1209.1,359.8L1209.4,359.7L1209.7,359.6L1210.0,359.4L1210.2,359.2L1210.5,359.0L1210.7,358.8L1210.9,358.5L1211.0,358.3L1211.2,358.0L1211.3,357.7L1211.4,357.4L1211.4,357.1L1211.4,356.7L1211.3,347.4L1211.3,347.0L1211.3,346.7L1211.2,346.4L1211.1,346.1L1210.9,345.8L1210.8,345.6L1210.6,345.3L1210.4,345.1L1210.1,344.9L1209.9,344.7L1209.6,344.5L1209.3,344.4L1209.0,344.3L1201.3,342.2L1201.0,342.1L1200.7,342.1L1200.4,342.1L1200.1,342.1L1199.8,342.1L1199.5,342.2L1199.2,342.3L1198.9,342.4L1198.7,342.6L1198.4,342.8L1197.0,344.0L1196.8,344.2L1196.6,344.4L1196.4,344.7L1196.2,345.0L1196.1,345.3L1196.0,345.6ZM1237.7,364.4L1237.9,364.1L1237.9,363.8L1238.0,363.5L1238.0,363.2L1238.0,362.9L1237.9,362.5L1237.8,362.2L1237.7,361.9L1237.6,361.7L1237.4,361.4L1237.2,361.1L1233.6,357.0L1233.4,356.7L1233.2,356.5L1232.9,356.3L1232.7,356.2L1232.4,356.1L1232.1,356.0L1231.8,355.9L1231.4,355.9L1231.1,355.8L1230.8,355.9L1230.5,355.9L1230.2,356.0L1217.6,360.3L1217.3,360.4L1217.0,360.5L1216.7,360.7L1216.5,360.9L1216.3,361.1L1216.0,361.3L1215.9,361.6L1215.7,361.9L1215.6,362.1L1215.5,362.4L1215.4,362.7L1215.4,363.1L1215.4,363.4L1215.4,363.7L1215.5,364.0L1215.5,364.3L1215.6,364.6L1218.3,370.7L1218.4,370.9L1218.6,371.2L1218.8,371.4L1219.0,371.6L1219.6,372.3L1219.9,372.5L1220.1,372.7L1220.4,372.9L1220.7,373.0L1221.0,373.1L1221.3,373.2L1221.6,373.3L1221.9,373.3L1222.2,373.3L1222.5,373.2L1222.8,373.1L1223.1,373.0L1223.4,372.9L1236.3,366.0L1236.6,365.9L1236.8,365.7L1237.1,365.5L1237.3,365.2L1237.5,365.0L1237.6,364.7ZM1212.0,362.0L1211.7,361.9L1211.5,361.8L1211.2,361.7L1210.9,361.6L1210.6,361.5L1210.3,361.5L1210.0,361.5L1209.6,361.6L1205.8,362.3L1205.5,362.4L1205.2,362.5L1204.9,362.6L1204.6,362.8L1204.4,362.9L1204.2,363.1L1204.0,363.4L1203.8,363.6L1203.6,363.9L1203.5,364.1L1203.3,364.4L1203.3,364.7L1203.2,365.0L1203.2,365.3L1203.0,368.8L1203.0,369.1L1203.0,369.4L1203.1,369.7L1203.2,370.0L1203.3,370.3L1203.4,370.6L1203.6,370.8L1203.8,371.1L1204.0,371.3L1204.2,371.5L1204.5,371.7L1204.8,371.8L1205.0,371.9L1205.3,372.0L1205.6,372.1L1205.9,372.1L1206.3,372.1L1206.6,372.1L1212.2,371.5L1212.5,371.4L1212.8,371.3L1213.1,371.2L1213.4,371.1L1213.6,370.9L1213.9,370.7L1214.1,370.5L1214.3,370.3L1214.5,370.0L1214.7,369.7L1214.8,369.5L1214.9,369.2L1215.0,368.9L1215.0,368.5L1215.0,368.2L1215.0,367.9L1214.9,367.6L1214.9,367.3L1214.7,367.0L1213.2,363.4L1213.0,363.2L1212.9,362.9L1212.7,362.7L1212.5,362.4L1212.3,362.2ZM1191.5,359.5L1191.2,359.7L1190.9,359.8L1190.6,360.0L1190.4,360.1L1190.2,360.4L1190.0,360.6L1189.8,360.8L1189.6,361.1L1189.5,361.4L1189.4,361.7L1189.3,362.0L1189.3,362.3L1189.3,362.6L1189.3,362.9L1190.1,371.7L1190.2,372.0L1190.3,372.3L1190.4,372.6L1190.5,372.9L1190.6,373.2L1190.8,373.4L1191.0,373.6L1191.2,373.9L1191.5,374.0L1191.7,374.2L1194.9,376.0L1195.2,376.2L1195.5,376.3L1195.8,376.4L1196.1,376.4L1196.4,376.4L1196.7,376.4L1197.0,376.4L1197.3,376.4L1197.6,376.3L1197.9,376.2L1198.1,376.0L1198.4,375.9L1198.6,375.7L1198.8,375.5L1200.2,374.1L1200.4,373.8L1200.6,373.5L1200.7,373.3L1200.8,373.0L1200.9,372.7L1201.0,372.3L1201.0,372.0L1201.4,365.0L1201.4,364.6L1201.4,364.3L1201.3,364.0L1201.2,363.7L1201.1,363.5L1201.0,363.2L1200.8,362.9L1200.6,362.7L1200.4,362.5L1200.1,362.3L1199.9,362.1L1199.6,361.9L1199.3,361.8L1193.6,359.6L1193.3,359.5L1193.0,359.4L1192.7,359.4L1192.4,359.4L1192.1,359.4L1191.8,359.5ZM1203.4,389.8L1203.6,389.9L1203.9,390.1L1204.2,390.1L1204.5,390.2L1204.9,390.2L1205.2,390.2L1205.5,390.2L1205.8,390.1L1206.1,390.0L1212.8,387.5L1213.1,387.4L1213.4,387.2L1213.7,387.1L1213.9,386.9L1214.1,386.6L1214.3,386.4L1219.2,379.6L1219.4,379.3L1219.5,379.0L1219.7,378.8L1219.7,378.5L1219.8,378.2L1220.0,377.0L1220.0,376.7L1220.0,376.4L1219.9,376.0L1219.9,375.7L1219.8,375.4L1219.6,375.1L1219.5,374.8L1219.3,374.6L1219.1,374.3L1218.6,373.8L1218.3,373.6L1218.1,373.4L1217.8,373.2L1217.5,373.1L1217.2,373.0L1216.9,372.9L1216.5,372.8L1216.2,372.8L1215.9,372.8L1203.4,374.3L1203.1,374.3L1202.8,374.4L1202.5,374.5L1202.2,374.7L1202.0,374.9L1201.7,375.1L1201.5,375.3L1199.7,377.2L1199.5,377.4L1199.3,377.7L1199.2,378.0L1199.0,378.3L1198.9,378.6L1198.9,378.9L1198.8,379.2L1198.8,379.5L1198.9,379.9L1198.9,380.2L1199.0,380.5L1202.0,388.2L1202.1,388.5L1202.3,388.7L1202.4,389.0L1202.6,389.2L1202.9,389.4L1203.1,389.6ZM1180.3,381.7L1180.2,382.0L1180.1,382.3L1180.1,382.6L1180.1,382.9L1180.1,383.3L1180.1,383.6L1180.2,383.9L1180.3,384.2L1180.5,384.5L1180.6,384.8L1180.8,385.0L1181.1,385.2L1189.4,393.0L1189.6,393.2L1189.9,393.4L1190.2,393.6L1190.5,393.7L1190.8,393.8L1191.1,393.8L1191.5,393.9L1191.8,393.9L1192.1,393.8L1192.4,393.7L1192.7,393.6L1198.0,391.6L1198.2,391.4L1198.5,391.3L1198.8,391.1L1199.0,390.9L1199.2,390.7L1199.4,390.4L1199.6,390.2L1199.7,389.9L1199.8,389.6L1199.9,389.3L1200.0,389.0L1200.0,388.7L1200.0,388.4L1199.9,388.1L1199.9,387.8L1199.8,387.5L1197.0,380.1L1196.8,379.8L1196.7,379.5L1196.5,379.3L1196.3,379.0L1196.1,378.8L1195.8,378.6L1195.6,378.5L1191.2,376.0L1190.9,375.8L1190.6,375.7L1190.3,375.6L1190.0,375.6L1189.7,375.5L1189.3,375.6L1189.0,375.6L1188.7,375.7L1188.4,375.8L1188.1,375.9L1187.8,376.1L1181.5,380.2L1181.2,380.4L1181.0,380.6L1180.8,380.9L1180.6,381.1L1180.4,381.4ZM1234.1,393.2L1234.3,393.0L1234.4,392.7L1234.4,392.4L1234.5,392.1L1234.5,391.8L1234.5,391.4L1234.5,391.1L1234.4,390.8L1234.3,390.5L1234.1,390.3L1234.0,390.0L1233.8,389.7L1233.6,389.5L1233.4,389.3L1233.1,389.1L1223.3,382.3L1223.1,382.2L1222.8,382.0L1222.5,381.9L1222.2,381.8L1221.9,381.8L1221.6,381.7L1221.3,381.8L1221.0,381.8L1220.7,381.9L1220.4,382.0L1220.1,382.1L1219.8,382.2L1219.6,382.4L1219.3,382.6L1219.1,382.8L1218.9,383.1L1216.9,385.8L1216.8,386.1L1216.6,386.3L1216.5,386.6L1216.4,386.9L1216.4,387.2L1216.3,387.5L1216.3,387.8L1216.4,388.1L1216.4,388.4L1216.5,388.7L1216.6,389.0L1216.8,389.3L1216.9,389.5L1217.1,389.8L1222.9,396.4L1223.1,396.6L1223.4,396.8L1223.6,397.0L1223.9,397.2L1224.2,397.3L1224.5,397.4L1224.8,397.5L1225.1,397.5L1225.4,397.5L1225.7,397.5L1226.0,397.4L1226.3,397.4L1226.6,397.3L1232.6,394.7L1232.9,394.5L1233.1,394.4L1233.4,394.2L1233.6,394.0L1233.8,393.8L1234.0,393.5ZM1223.0,399.8L1222.9,399.5L1222.8,399.2L1222.6,398.9L1222.5,398.7L1222.3,398.5L1215.5,390.7L1215.3,390.4L1215.0,390.2L1214.8,390.0L1214.5,389.9L1214.2,389.7L1213.9,389.7L1213.6,389.6L1213.2,389.6L1212.9,389.6L1212.6,389.6L1212.3,389.7L1212.0,389.8L1204.6,392.5L1204.4,392.6L1204.3,392.6L1204.3,392.6L1204.2,392.6L1204.1,392.6L1204.0,392.6L1203.8,392.5L1203.2,392.3L1202.9,392.2L1202.6,392.1L1202.2,392.1L1201.9,392.1L1201.6,392.2L1201.3,392.2L1201.0,392.3L1192.3,395.7L1192.1,395.9L1191.8,396.0L1191.5,396.2L1191.3,396.4L1191.1,396.6L1190.9,396.9L1190.7,397.1L1187.4,403.1L1222.7,403.1L1222.8,402.9L1222.8,402.6L1223.0,401.0L1223.1,400.7L1223.1,400.4L1223.0,400.1ZM1253.0,237.7L1253.3,237.8L1253.6,237.8L1253.9,237.8L1254.2,237.8L1254.5,237.7L1254.8,237.6L1255.1,237.5L1255.3,237.4L1251.0,236.3L1251.2,236.5L1251.4,236.8L1251.6,237.0L1251.8,237.2L1252.1,237.4L1252.4,237.5L1252.7,237.6ZM1232.8,240.5L1233.1,240.5L1233.4,240.6L1246.0,241.6L1246.4,241.6L1246.7,241.5L1247.0,241.5L1247.3,241.4L1247.6,241.3L1247.9,241.1L1248.2,241.0L1248.4,240.8L1248.6,240.5L1248.8,240.3L1249.0,240.0L1249.2,239.8L1249.3,239.5L1249.4,239.2L1249.5,238.9L1249.5,238.5L1249.5,238.2L1249.5,237.9L1249.4,237.6L1249.3,237.3L1249.2,237.0L1249.0,236.7L1248.9,236.4L1248.3,235.7L1244.8,234.9L1228.3,232.9L1226.9,234.2L1231.2,239.4L1231.4,239.6L1231.6,239.9L1231.9,240.1L1232.2,240.2L1232.4,240.4ZM1255.7,240.8L1255.6,240.8L1255.5,240.8L1254.4,241.1L1254.1,241.2L1253.8,241.3L1253.5,241.4L1253.3,241.6L1253.1,241.8L1252.8,242.0L1252.2,242.7L1252.0,242.9L1251.8,243.2L1251.6,243.5L1251.5,243.8L1251.4,244.1L1248.6,255.1L1248.5,255.4L1248.5,255.7L1248.5,256.1L1248.5,256.4L1248.6,256.7L1248.7,257.0L1248.8,257.3L1248.9,257.5L1249.1,257.8L1249.3,258.1L1249.5,258.3L1249.8,258.5L1250.0,258.7L1250.3,258.8L1250.6,258.9L1250.9,259.0L1251.2,259.1L1251.5,259.1L1256.8,259.4L1257.1,259.4L1257.4,259.3L1257.7,259.3L1258.0,259.2L1258.3,259.1L1258.5,259.0L1258.8,258.8L1259.0,258.6L1263.9,254.6L1261.2,238.7L1257.6,237.9L1256.2,240.3L1256.1,240.5L1256.0,240.5L1256.0,240.6L1255.9,240.7L1255.8,240.7ZM1218.6,241.7L1218.5,241.7L1218.4,241.8L1218.3,241.8L1213.7,243.8L1213.3,244.1L1213.1,244.4L1212.9,244.6L1212.7,244.9L1212.6,245.2L1212.4,245.5L1212.3,245.8L1212.3,246.1L1212.3,246.5L1212.3,246.8L1212.5,249.4L1212.6,249.7L1212.6,250.0L1212.7,250.3L1212.9,250.5L1213.0,250.8L1213.2,251.1L1213.4,251.3L1213.6,251.5L1213.8,251.7L1214.1,251.8L1214.4,252.0L1214.6,252.1L1229.7,257.5L1230.0,257.6L1230.4,257.7L1230.7,257.7L1231.0,257.7L1231.4,257.6L1231.6,257.6L1231.7,257.6L1231.8,257.6L1231.8,257.6L1231.9,257.6L1232.0,257.6L1232.1,257.7L1240.5,261.5L1240.8,261.6L1241.1,261.7L1241.5,261.7L1241.8,261.7L1242.1,261.7L1242.4,261.7L1242.7,261.6L1243.0,261.5L1243.3,261.4L1243.6,261.2L1243.8,261.0L1244.1,260.8L1245.0,259.9L1245.2,259.7L1245.4,259.5L1245.5,259.2L1245.7,259.0L1245.8,258.7L1245.9,258.4L1248.7,247.3L1248.8,247.0L1248.8,246.7L1248.8,246.4L1248.8,246.1L1248.7,245.8L1248.6,245.5L1248.5,245.2L1248.4,244.9L1248.2,244.7L1248.0,244.4L1247.8,244.2L1247.5,244.0L1247.3,243.8L1247.0,243.7L1246.7,243.5L1246.4,243.4L1246.1,243.4L1245.8,243.3L1231.6,242.2L1231.4,242.2L1231.3,242.2L1231.2,242.2L1231.2,242.1L1231.1,242.1L1231.0,242.0L1230.9,242.0L1230.8,241.8L1226.5,236.6L1226.3,236.3L1226.1,236.1L1225.8,235.9L1225.6,235.8L1225.3,235.6L1225.3,235.6ZM1261.0,259.9L1260.9,260.2L1260.8,260.5L1260.8,260.8L1260.8,261.1L1260.8,261.4L1260.8,261.7L1260.9,262.1L1261.0,262.4L1261.2,262.6L1261.4,262.9L1265.3,268.2L1265.1,262.1L1264.2,256.6L1261.9,258.6L1261.7,258.8L1261.5,259.0L1261.3,259.3L1261.1,259.6ZM1236.5,285.0L1236.6,285.3L1236.8,285.6L1236.9,285.8L1237.1,286.1L1237.4,286.3L1237.6,286.5L1237.9,286.7L1238.1,286.9L1238.4,287.0L1238.7,287.1L1239.1,287.2L1239.4,287.2L1239.7,287.2L1240.0,287.2L1240.3,287.1L1264.4,281.2L1264.5,281.1L1264.6,281.1L1264.7,281.1L1264.8,281.1L1264.9,281.1L1265.6,281.3L1265.3,271.4L1258.8,262.4L1258.6,262.2L1258.4,262.0L1258.1,261.8L1257.9,261.6L1257.6,261.4L1257.3,261.3L1257.0,261.2L1256.7,261.2L1256.4,261.1L1248.2,260.7L1247.9,260.7L1247.5,260.8L1247.2,260.8L1246.9,260.9L1246.6,261.1L1246.3,261.2L1246.1,261.4L1245.8,261.6L1244.8,262.7L1244.6,262.9L1244.4,263.1L1244.2,263.4L1244.1,263.7L1244.0,263.9L1243.9,264.2L1243.8,264.5L1243.8,264.9L1243.8,265.2L1243.8,265.2L1243.8,265.3L1243.8,265.4L1243.8,265.4L1243.7,265.6L1236.6,282.8L1236.5,283.1L1236.4,283.4L1236.4,283.7L1236.4,284.0L1236.4,284.4L1236.4,284.7ZM1239.4,289.9L1239.2,290.2L1239.1,290.4L1239.0,290.7L1238.9,291.0L1238.8,291.3L1238.8,291.6L1238.7,291.9L1238.8,292.2L1238.8,292.5L1238.9,292.8L1239.0,293.1L1239.1,293.4L1239.3,293.7L1239.5,293.9L1239.7,294.1L1239.9,294.4L1245.9,299.2L1246.1,299.4L1246.4,299.5L1246.7,299.7L1247.0,299.8L1247.3,299.8L1247.6,299.9L1247.9,299.9L1248.3,299.9L1248.6,299.8L1248.9,299.7L1249.2,299.6L1249.5,299.5L1265.8,290.2L1265.7,283.2L1265.4,283.1L1265.1,283.0L1264.8,283.0L1264.5,283.0L1264.2,283.1L1263.9,283.1L1241.2,288.8L1240.9,288.9L1240.6,289.0L1240.3,289.1L1240.1,289.3L1239.8,289.5L1239.6,289.7ZM1250.5,301.0L1250.2,301.2L1250.0,301.4L1249.8,301.6L1249.6,301.9L1249.5,302.1L1249.4,302.4L1249.3,302.7L1249.2,303.0L1249.1,303.3L1249.1,303.6L1249.1,303.9L1249.2,304.2L1249.3,304.5L1250.7,309.4L1250.8,309.7L1250.9,310.0L1251.1,310.2L1251.3,310.5L1251.5,310.7L1251.7,310.9L1251.9,311.1L1252.2,311.3L1252.5,311.4L1253.5,311.9L1253.6,312.0L1253.8,312.1L1254.3,312.4L1254.5,312.6L1254.8,312.7L1255.1,312.8L1255.4,312.9L1255.7,313.0L1256.0,313.0L1256.3,313.0L1256.6,313.0L1256.9,312.9L1257.2,312.8L1257.5,312.7L1257.8,312.6L1258.1,312.4L1258.3,312.2L1258.5,312.0L1265.4,304.4L1266.1,299.9L1265.9,292.6L1265.7,292.6L1265.4,292.7L1265.1,292.8L1264.8,292.9L1264.6,293.0L1250.7,300.8ZM1258.9,315.1L1258.9,315.4L1258.9,315.7L1258.9,316.0L1259.0,316.4L1259.1,316.7L1259.2,317.0L1259.4,317.2L1259.6,317.5L1260.0,318.1L1260.2,318.3L1260.4,318.5L1260.7,318.7L1260.9,318.8L1261.2,319.0L1261.4,319.1L1261.7,319.2L1262.0,319.2L1262.3,319.3L1262.9,319.3L1264.8,307.7L1259.7,313.4L1259.5,313.6L1259.3,313.9L1259.2,314.2L1259.0,314.5L1259.0,314.8ZM1231.4,323.6L1231.2,323.8L1221.5,332.5L1221.3,332.7L1221.1,332.9L1221.0,333.1L1220.8,333.4L1220.7,333.7L1220.6,333.9L1219.2,338.6L1219.2,338.9L1219.1,339.2L1219.1,339.6L1219.1,339.9L1219.2,340.2L1219.3,340.5L1219.4,340.8L1219.5,341.1L1219.7,341.4L1219.9,341.6L1220.1,341.8L1220.4,342.1L1220.7,342.2L1220.9,342.4L1227.5,345.5L1227.8,345.7L1228.1,345.8L1228.4,345.8L1228.8,345.9L1229.1,345.9L1229.4,345.8L1229.7,345.8L1230.0,345.7L1230.3,345.5L1230.6,345.4L1230.9,345.2L1231.1,345.0L1231.3,344.7L1239.0,335.7L1239.2,335.4L1239.4,335.1L1239.6,334.8L1239.7,334.5L1239.7,334.2L1239.8,333.9L1239.8,333.6L1239.8,333.2L1239.7,332.9L1239.6,332.0L1239.5,331.9L1239.5,331.8L1239.5,331.7L1239.5,331.6L1239.6,331.5L1239.6,331.4L1239.6,331.4L1239.7,331.3L1239.7,331.2L1239.8,331.1L1239.8,331.1L1239.9,331.0L1240.0,331.0L1240.1,330.9L1256.6,324.0L1256.8,323.8L1257.1,323.7L1257.4,323.5L1257.6,323.3L1257.8,323.0L1258.0,322.8L1258.2,322.5L1258.4,322.0L1258.5,321.7L1258.6,321.4L1258.7,321.1L1258.8,320.8L1258.8,320.5L1258.8,320.2L1258.7,319.9L1258.6,319.6L1258.5,319.3L1258.4,319.1L1258.3,318.8L1258.1,318.5L1256.3,316.3L1256.2,316.1L1256.0,315.9L1255.7,315.7L1253.0,313.7L1252.7,313.5L1252.4,313.4L1252.0,313.2L1251.7,313.1L1251.4,313.0L1251.1,312.9L1250.8,312.9L1250.5,312.9L1250.2,313.0L1249.8,313.0L1249.5,313.1L1249.3,313.3L1249.0,313.4L1234.1,322.8L1233.9,322.9L1233.8,323.0L1233.7,323.0L1233.7,323.0L1233.6,323.0L1233.4,323.0L1233.2,323.0L1232.9,323.0L1232.6,323.1L1232.3,323.2L1232.0,323.3L1231.7,323.5ZM1243.5,332.2L1243.4,332.5L1243.3,332.8L1243.2,333.1L1243.2,333.4L1243.2,333.7L1243.2,334.1L1243.2,334.4L1243.3,334.7L1243.4,335.0L1243.6,335.2L1243.7,335.5L1243.9,335.8L1244.1,336.0L1244.4,336.2L1251.9,342.3L1252.2,342.4L1252.4,342.6L1252.7,342.7L1253.0,342.8L1253.3,342.9L1253.6,342.9L1253.9,343.0L1254.2,342.9L1254.5,342.9L1254.8,342.8L1255.1,342.7L1258.0,341.6L1261.1,329.8L1262.6,321.1L1262.4,321.1L1262.1,321.2L1261.8,321.3L1261.5,321.4L1261.3,321.5L1261.0,321.7L1260.8,321.9L1260.5,322.1L1260.3,322.3L1260.2,322.6L1260.0,322.8L1259.1,324.6L1259.0,324.7L1259.0,324.8L1258.9,324.8L1258.8,324.9L1258.8,325.0L1258.7,325.0L1258.5,325.1L1245.1,330.8L1244.8,330.9L1244.6,331.1L1244.3,331.2L1244.1,331.5L1243.9,331.7L1243.7,331.9ZM1253.8,345.7L1253.7,345.9L1253.5,346.2L1253.4,346.5L1253.0,347.5L1252.9,347.8L1252.8,348.1L1252.8,348.4L1252.8,348.7L1252.8,349.0L1252.9,349.3L1252.9,349.6L1253.0,349.9L1253.2,350.2L1253.3,350.4L1253.5,350.7L1253.7,350.9L1255.1,352.3L1257.4,343.8L1255.2,344.6L1255.0,344.7L1254.7,344.9L1254.5,345.1L1254.2,345.2L1254.0,345.5ZM1214.0,357.4L1214.2,357.7L1214.4,357.9L1214.7,358.1L1214.9,358.2L1215.2,358.4L1215.5,358.5L1215.8,358.5L1216.2,358.6L1216.5,358.6L1216.8,358.6L1217.1,358.5L1217.4,358.4L1229.2,354.4L1229.5,354.3L1229.8,354.2L1230.0,354.0L1230.3,353.8L1230.5,353.6L1230.7,353.4L1230.9,353.1L1231.1,352.8L1231.1,352.7L1231.1,352.7L1231.4,352.9L1231.7,353.0L1231.9,353.2L1232.2,353.3L1232.5,353.4L1232.5,353.4L1232.8,353.4L1232.9,353.4L1232.9,353.5L1233.0,353.5L1233.1,353.6L1233.2,353.6L1233.3,353.8L1237.3,358.5L1237.6,358.8L1237.8,359.0L1238.1,359.2L1238.4,359.3L1238.7,359.4L1239.0,359.5L1239.3,359.6L1239.6,359.6L1239.9,359.6L1240.2,359.6L1240.6,359.5L1240.9,359.5L1241.2,359.3L1241.4,359.2L1241.7,359.0L1242.0,358.8L1242.2,358.6L1250.1,349.6L1250.2,349.4L1250.4,349.2L1250.5,348.9L1250.6,348.6L1251.3,346.9L1251.4,346.6L1251.5,346.3L1251.5,346.0L1251.5,345.7L1251.5,345.4L1251.4,345.1L1251.4,344.8L1251.2,344.5L1251.1,344.2L1250.9,344.0L1250.8,343.7L1250.5,343.5L1250.3,343.3L1243.6,337.9L1243.3,337.7L1243.1,337.6L1242.8,337.4L1242.5,337.3L1242.2,337.2L1241.9,337.2L1241.6,337.2L1241.3,337.2L1241.0,337.2L1240.7,337.3L1240.4,337.4L1240.1,337.6L1239.8,337.7L1239.6,337.9L1239.4,338.1L1239.1,338.3L1230.8,348.2L1230.6,348.4L1230.4,348.7L1230.3,349.0L1230.3,349.0L1230.1,348.9L1229.8,348.7L1229.6,348.5L1218.8,343.4L1218.5,343.2L1218.2,343.2L1217.9,343.1L1217.6,343.1L1217.3,343.1L1216.9,343.1L1216.6,343.2L1216.3,343.3L1216.0,343.4L1214.9,343.9L1214.6,344.1L1214.4,344.3L1214.1,344.5L1213.9,344.7L1213.7,345.0L1213.5,345.3L1213.4,345.6L1213.3,345.9L1213.2,346.2L1213.1,346.5L1213.1,346.8L1213.2,355.4L1213.2,355.7L1213.3,356.0L1213.3,356.3L1213.5,356.6L1213.6,356.9L1213.8,357.2ZM1241.0,363.7L1241.1,364.0L1241.1,364.3L1241.2,364.6L1241.3,364.9L1241.4,365.2L1241.6,365.5L1241.8,365.8L1242.0,366.0L1249.7,373.9L1250.0,374.1L1250.2,374.3L1250.5,374.5L1250.5,374.5L1253.1,359.8L1253.1,359.8L1254.6,354.3L1253.7,353.4L1253.4,353.2L1253.2,353.0L1252.9,352.8L1252.7,352.7L1252.4,352.6L1252.1,352.5L1251.8,352.5L1251.5,352.5L1251.2,352.5L1250.8,352.5L1250.5,352.6L1250.3,352.7L1250.0,352.8L1249.7,352.9L1249.5,353.1L1249.2,353.3L1249.0,353.5L1241.8,361.7L1241.6,361.9L1241.5,362.2L1241.3,362.5L1241.2,362.8L1241.1,363.1L1241.1,363.4ZM1222.3,376.3L1222.2,376.6L1222.1,376.9L1222.1,377.2L1222.1,377.5L1222.1,377.9L1222.1,378.2L1222.2,378.5L1222.3,378.8L1222.4,379.0L1222.6,379.3L1222.8,379.6L1223.0,379.8L1223.2,380.0L1223.5,380.2L1239.0,391.0L1239.2,391.1L1239.5,391.3L1239.8,391.4L1240.1,391.5L1240.4,391.5L1240.7,391.5L1241.0,391.5L1241.3,391.5L1241.7,391.4L1241.9,391.3L1242.2,391.2L1242.5,391.0L1242.8,390.9L1243.0,390.7L1243.2,390.4L1243.4,390.2L1243.6,389.9L1247.6,382.9L1247.7,382.7L1247.7,382.7L1247.8,382.6L1247.9,382.5L1247.9,382.5L1248.0,382.4L1248.1,382.4L1248.2,382.4L1248.3,382.4L1248.5,382.3L1248.7,382.3L1248.7,382.3L1248.9,382.5L1249.1,382.7L1250.1,376.9L1250.1,376.8L1249.9,376.7L1241.4,368.0L1241.1,367.8L1240.9,367.6L1240.6,367.4L1240.3,367.3L1240.0,367.2L1239.7,367.1L1239.4,367.0L1239.1,367.0L1238.8,367.0L1238.5,367.1L1238.2,367.2L1237.9,367.3L1237.6,367.4L1223.8,374.8L1223.5,374.9L1223.3,375.1L1223.0,375.3L1222.8,375.5L1222.6,375.8L1222.5,376.1ZM1243.8,394.7L1243.8,395.0L1243.9,395.3L1244.0,395.6L1244.2,395.8L1244.4,396.1L1244.6,396.3L1244.8,396.6L1244.8,396.6L1245.0,396.7L1245.0,396.8L1245.1,396.9L1246.3,398.7L1248.5,386.4L1248.2,386.5L1248.0,386.6L1247.7,386.8L1247.4,387.0L1247.2,387.3L1247.0,387.5L1246.9,387.8L1244.1,392.6L1244.0,392.9L1243.9,393.1L1243.8,393.4L1243.7,393.8L1243.7,394.1L1243.7,394.4ZM1240.0,398.9L1240.0,398.6L1240.0,398.3L1240.0,397.9L1240.0,397.6L1239.9,397.3L1239.8,397.0L1239.6,396.8L1239.5,396.5L1239.3,396.2L1239.1,396.0L1238.8,395.8L1238.6,395.6L1238.3,395.5L1238.0,395.3L1237.7,395.2L1237.4,395.1L1237.1,395.1L1236.8,395.1L1236.5,395.1L1236.2,395.2L1235.9,395.2L1235.6,395.4L1226.7,399.2L1226.4,399.3L1226.1,399.5L1225.8,399.7L1225.6,399.9L1225.4,400.2L1225.2,400.4L1225.1,400.7L1224.9,401.0L1224.8,401.4L1224.8,401.7L1224.7,402.3L1224.7,402.6L1224.7,402.9L1224.7,403.1L1236.1,403.1L1238.9,400.7L1239.1,400.5L1239.3,400.3L1239.5,400.0L1239.7,399.8L1239.8,399.5L1239.9,399.2ZM1243.2,400.2L1242.8,400.3L1242.5,400.4L1242.2,400.5L1242.0,400.6L1241.7,400.8L1241.4,401.0L1238.9,403.1L1242.6,403.1L1245.1,400.6L1245.0,400.6L1244.7,400.4L1244.4,400.3L1244.1,400.3L1243.8,400.2L1243.5,400.2Z" fill="#1c1c1c"/>
<path d="M1174.3,183.3L1174.5,183.5L1174.6,183.6L1174.9,183.7L1175.1,183.8L1175.3,183.9L1175.4,183.9L1175.6,184.0L1175.8,184.0L1176.1,184.0L1176.3,184.0L1180.4,183.7L1180.6,183.7L1180.9,183.7L1181.1,183.6L1181.3,183.5L1181.5,183.4L1181.7,183.3L1181.9,183.1L1182.0,183.0L1182.2,182.8L1182.3,182.6L1182.4,182.4L1182.5,182.2L1182.6,181.9L1182.6,181.7L1182.6,181.5L1182.6,181.3L1182.6,181.0L1182.2,178.3L1176.2,176.3L1172.3,178.8L1173.8,182.5L1173.9,182.7L1174.0,182.9L1174.1,183.1ZM1185.9,183.8L1186.0,184.0L1186.2,184.1L1186.4,184.3L1186.6,184.4L1186.8,184.5L1187.1,184.5L1187.3,184.6L1187.5,184.6L1187.8,184.6L1188.0,184.6L1188.3,184.5L1190.9,183.8L1191.1,183.8L1191.3,183.7L1191.5,183.6L1191.7,183.4L1191.8,183.3L1192.0,183.2L1192.1,183.0L1193.0,181.9L1184.8,179.2L1185.3,182.5L1185.3,182.8L1185.4,183.0L1185.5,183.2L1185.6,183.4L1185.7,183.6ZM1164.8,189.6L1165.1,189.6L1165.3,189.6L1165.5,189.5L1165.8,189.4L1166.0,189.3L1166.2,189.2L1166.4,189.0L1170.6,185.3L1170.7,185.2L1170.9,185.0L1171.0,184.8L1171.1,184.6L1171.2,184.4L1171.3,184.2L1171.4,184.0L1171.4,183.7L1171.4,183.5L1171.4,183.3L1171.4,183.1L1171.3,182.8L1171.2,182.6L1170.4,180.5L1170.3,180.3L1170.2,180.1L1166.0,182.8L1163.5,189.3L1163.7,189.4L1163.9,189.5L1164.1,189.5L1164.4,189.6L1164.6,189.6ZM1194.7,184.1L1194.7,184.3L1194.7,184.6L1194.7,184.8L1194.8,185.0L1194.8,185.3L1194.9,185.5L1195.1,185.7L1195.2,185.9L1195.4,186.1L1199.1,190.0L1199.3,190.2L1199.5,190.3L1199.7,190.5L1199.9,190.6L1200.1,190.6L1200.3,190.7L1200.6,190.7L1200.8,190.8L1201.0,190.8L1201.3,190.7L1201.5,190.7L1201.7,190.6L1201.9,190.5L1202.2,190.4L1202.3,190.2L1206.9,186.5L1207.1,186.4L1207.2,186.2L1207.4,186.0L1207.5,185.8L1207.6,185.7L1206.4,186.1L1206.3,186.2L1206.2,186.2L1206.1,186.2L1206.0,186.2L1205.8,186.2L1205.7,186.2L1205.6,186.1L1195.4,182.7L1195.2,183.0L1195.1,183.2L1194.9,183.4L1194.8,183.6L1194.8,183.8ZM1167.2,192.0L1167.2,192.2L1167.2,192.5L1167.2,192.7L1167.2,193.0L1167.3,193.2L1167.3,193.4L1167.4,193.6L1167.5,193.9L1167.7,194.1L1167.8,194.2L1168.0,194.4L1168.2,194.6L1168.4,194.7L1168.6,194.8L1172.5,196.5L1172.7,196.6L1173.0,196.7L1173.2,196.7L1173.5,196.7L1173.7,196.7L1174.0,196.7L1174.2,196.6L1174.4,196.5L1174.7,196.4L1174.9,196.3L1175.8,195.6L1175.9,195.5L1176.0,195.5L1176.1,195.4L1176.2,195.4L1176.4,195.4L1182.7,194.6L1182.9,194.6L1183.1,194.5L1183.4,194.5L1183.6,194.4L1183.8,194.2L1184.0,194.1L1184.1,193.9L1184.3,193.8L1184.4,193.6L1184.5,193.4L1184.6,193.2L1184.7,192.9L1184.8,192.7L1184.8,192.5L1185.2,188.6L1185.2,188.4L1185.2,188.1L1185.1,187.9L1185.1,187.7L1185.0,187.5L1184.9,187.3L1184.8,187.1L1184.6,186.9L1184.5,186.7L1184.3,186.6L1184.1,186.4L1183.9,186.3L1183.7,186.2L1183.5,186.1L1183.3,186.0L1183.1,186.0L1182.8,186.0L1182.6,186.0L1175.8,186.5L1175.7,186.5L1175.6,186.5L1175.5,186.5L1175.3,186.4L1174.9,186.3L1174.6,186.2L1174.4,186.2L1174.1,186.2L1173.9,186.2L1173.6,186.2L1173.4,186.3L1173.2,186.4L1173.0,186.5L1172.8,186.6L1172.6,186.8L1168.0,190.8L1167.8,191.0L1167.7,191.1L1167.5,191.3L1167.4,191.5L1167.3,191.8ZM1187.3,195.8L1187.4,196.0L1187.6,196.2L1187.8,196.4L1187.9,196.6L1188.1,196.7L1188.3,196.8L1188.6,196.9L1188.8,197.0L1189.0,197.0L1195.6,198.2L1195.9,198.2L1196.1,198.2L1196.4,198.2L1196.6,198.1L1196.8,198.1L1197.1,198.0L1197.3,197.9L1197.5,197.7L1197.7,197.6L1198.3,197.0L1198.5,196.8L1198.6,196.6L1198.8,196.4L1198.9,196.2L1199.0,196.0L1199.0,195.7L1199.1,195.5L1199.1,194.8L1199.2,194.5L1199.1,194.3L1199.1,194.1L1199.1,193.9L1199.0,193.6L1198.9,193.4L1198.8,193.2L1198.6,193.0L1198.5,192.9L1193.0,187.0L1192.8,186.9L1192.6,186.7L1192.4,186.6L1192.2,186.5L1192.0,186.4L1191.7,186.4L1191.5,186.3L1191.3,186.3L1191.1,186.3L1190.8,186.3L1190.6,186.4L1189.3,186.7L1189.1,186.8L1188.9,186.9L1188.6,187.0L1188.5,187.2L1188.3,187.3L1188.1,187.5L1188.0,187.7L1187.8,187.9L1187.7,188.1L1187.6,188.4L1187.6,188.6L1187.5,188.8L1187.0,194.5L1187.0,194.7L1187.0,194.9L1187.1,195.2L1187.1,195.4L1187.2,195.6ZM1161.5,197.9L1161.8,197.9L1162.0,197.8L1162.2,197.7L1162.5,197.6L1162.7,197.5L1162.9,197.4L1163.1,197.2L1163.2,197.1L1163.4,196.9L1163.5,196.7L1164.1,195.6L1164.3,195.4L1164.3,195.2L1164.4,194.9L1164.4,194.7L1164.5,194.5L1164.5,194.2L1164.4,194.0L1164.4,193.8L1164.3,193.4L1164.2,193.2L1164.1,193.0L1164.0,192.8L1163.9,192.6L1163.8,192.4L1163.6,192.2L1163.4,192.1L1163.3,192.0L1162.7,191.6L1160.4,197.6L1160.4,197.6L1160.6,197.7L1160.8,197.8L1161.1,197.8L1161.3,197.9ZM1173.2,206.8L1173.4,206.7L1173.6,206.6L1173.9,206.5L1174.1,206.4L1174.2,206.2L1174.4,206.0L1174.4,206.0L1174.5,206.0L1174.6,205.9L1174.7,205.8L1174.8,205.8L1174.9,205.8L1175.1,205.7L1182.4,204.4L1182.6,204.4L1182.8,204.3L1183.1,204.2L1183.3,204.1L1183.5,204.0L1183.6,203.8L1183.8,203.6L1183.9,203.4L1184.1,203.2L1184.2,203.0L1184.3,202.8L1185.1,200.2L1185.2,200.0L1185.2,199.7L1185.2,199.5L1185.2,199.3L1185.2,199.0L1185.1,198.8L1185.1,198.6L1185.0,198.3L1184.8,198.1L1184.7,197.9L1184.5,197.8L1184.4,197.6L1184.2,197.5L1184.0,197.3L1183.7,197.2L1183.5,197.1L1183.3,197.1L1183.0,197.1L1182.8,197.1L1182.6,197.1L1177.6,197.7L1177.3,197.7L1177.1,197.8L1176.9,197.8L1176.7,197.9L1176.4,198.1L1174.6,199.4L1174.5,199.5L1174.4,199.5L1174.3,199.6L1174.1,199.6L1174.0,199.6L1173.9,199.6L1173.8,199.6L1173.6,199.6L1173.5,199.6L1173.3,199.5L1168.4,197.3L1168.2,197.2L1167.9,197.2L1167.7,197.1L1167.5,197.1L1167.2,197.1L1167.0,197.1L1166.8,197.2L1166.6,197.3L1166.3,197.4L1166.1,197.5L1166.0,197.6L1165.8,197.8L1165.6,197.9L1165.5,198.1L1165.3,198.3L1163.9,200.8L1163.8,201.0L1163.7,201.2L1163.5,201.7L1163.5,201.9L1163.4,202.1L1163.4,202.4L1163.4,202.6L1163.4,202.8L1163.5,203.0L1163.5,203.3L1163.6,203.5L1163.7,203.7L1163.9,203.9L1164.0,204.1L1164.2,204.2L1164.3,204.4L1164.5,204.5L1164.7,204.6L1164.9,204.7L1165.2,204.8L1172.0,206.7L1172.2,206.8L1172.5,206.8L1172.7,206.8L1173.0,206.8ZM1158.5,205.5L1159.6,204.6L1159.7,204.4L1159.9,204.3L1160.0,204.1L1160.2,203.9L1160.3,203.7L1160.4,203.5L1160.6,202.8L1160.7,202.6L1160.7,202.4L1160.7,202.1L1160.7,201.9L1160.7,201.7L1160.7,201.4L1160.6,201.2L1160.5,201.0L1160.4,200.8L1160.3,200.6L1160.1,200.4L1160.0,200.3L1159.8,200.1L1159.6,200.0L1159.5,199.9L1157.2,206.0L1157.3,206.0L1157.6,205.9L1157.8,205.8L1158.0,205.7L1158.3,205.6ZM1188.6,199.8L1188.3,200.0L1188.1,200.1L1188.0,200.2L1187.8,200.4L1187.6,200.6L1187.5,200.8L1187.4,201.0L1187.3,201.3L1186.4,203.9L1186.3,204.2L1186.3,204.4L1186.3,204.7L1186.3,204.9L1186.3,205.1L1186.4,205.4L1186.5,205.6L1186.6,205.8L1186.7,206.0L1188.0,207.9L1188.1,208.1L1188.3,208.3L1188.5,208.5L1188.7,208.6L1188.9,208.7L1189.1,208.8L1189.3,208.9L1189.6,209.0L1189.8,209.0L1190.1,209.0L1197.6,208.7L1197.7,208.7L1197.9,208.7L1198.0,208.7L1198.1,208.7L1198.3,208.8L1198.6,208.9L1198.8,208.9L1199.1,208.9L1199.3,208.9L1199.5,208.9L1199.8,208.8L1200.0,208.8L1200.2,208.7L1200.4,208.5L1200.6,208.4L1200.8,208.2L1204.5,204.4L1204.6,204.2L1204.8,204.0L1204.9,203.8L1205.0,203.6L1205.1,203.4L1205.1,203.1L1205.1,202.9L1205.2,202.7L1205.1,202.4L1205.1,202.2L1205.0,202.0L1204.9,201.7L1204.8,201.5L1204.7,201.3L1204.5,201.1L1204.4,201.0L1202.8,199.6L1202.6,199.4L1202.4,199.3L1202.1,199.1L1201.8,199.0L1201.6,198.9L1201.4,198.8L1201.1,198.8L1200.9,198.8L1200.7,198.8L1200.4,198.8L1200.2,198.9L1200.0,198.9L1199.8,199.0L1199.6,199.1L1199.4,199.3L1199.2,199.4L1198.0,200.5L1197.9,200.6L1197.8,200.7L1197.7,200.7L1197.6,200.8L1197.5,200.8L1197.3,200.8L1197.2,200.9L1197.1,200.9L1196.9,200.8L1190.0,199.6L1189.7,199.6L1189.5,199.6L1189.3,199.6L1189.0,199.7L1188.8,199.8ZM1157.4,208.9L1157.2,208.8L1157.0,208.7L1156.8,208.6L1156.6,208.5L1156.4,208.5L1156.2,208.5L1155.6,210.1L1158.8,210.7L1158.2,209.7L1158.1,209.5L1157.9,209.3L1157.8,209.1L1157.6,209.0ZM1162.8,207.0L1162.5,207.1L1162.3,207.2L1162.1,207.3L1161.9,207.5L1161.8,207.6L1161.6,207.8L1161.5,208.0L1161.4,208.2L1161.3,208.4L1161.2,208.7L1161.1,208.9L1161.1,209.1L1161.1,209.4L1161.1,209.6L1161.2,209.8L1161.2,210.1L1161.3,210.3L1161.4,210.5L1161.8,211.3L1170.2,212.8L1170.3,212.8L1170.4,212.9L1170.8,213.0L1170.9,213.0L1171.1,212.9L1171.2,212.7L1171.4,212.5L1171.5,212.4L1171.7,212.2L1171.8,211.9L1171.8,211.7L1171.9,211.5L1171.9,211.2L1171.9,211.0L1171.9,210.8L1171.9,210.5L1171.8,210.3L1171.8,210.1L1171.6,209.9L1171.5,209.7L1171.4,209.5L1171.2,209.3L1171.0,209.1L1170.8,209.0L1170.6,208.9L1170.4,208.8L1170.2,208.7L1164.2,207.0L1163.9,206.9L1163.7,206.9L1163.5,206.9L1163.2,206.9L1163.0,207.0ZM1174.1,210.6L1174.0,210.8L1173.9,211.0L1173.9,211.3L1173.9,211.5L1173.9,211.8L1174.0,212.0L1174.0,212.2L1174.1,212.4L1174.2,212.6L1174.4,212.8L1174.5,213.0L1174.7,213.2L1174.9,213.3L1175.0,213.4L1175.0,213.5L1175.1,213.6L1175.2,213.7L1175.9,215.1L1181.6,217.3L1181.7,217.3L1183.9,215.8L1184.1,215.7L1184.3,215.5L1184.4,215.4L1184.6,215.2L1184.7,215.0L1184.8,214.8L1186.2,211.6L1186.3,211.4L1186.3,211.2L1186.4,210.9L1186.4,210.7L1186.4,210.4L1186.4,210.2L1186.3,210.0L1186.2,209.7L1186.1,209.5L1186.0,209.3L1185.0,207.9L1184.9,207.7L1184.7,207.5L1184.6,207.3L1184.4,207.2L1184.2,207.1L1184.0,207.0L1183.8,206.9L1183.5,206.8L1183.3,206.8L1183.1,206.8L1182.8,206.8L1182.6,206.8L1177.0,207.8L1176.7,207.9L1176.5,208.0L1176.3,208.1L1176.1,208.2L1175.9,208.3L1175.7,208.5L1175.5,208.6L1175.4,208.8L1175.1,209.2L1175.0,209.3L1175.0,209.4L1174.9,209.5L1174.7,209.6L1174.5,209.8L1174.4,210.0L1174.3,210.2L1174.2,210.4ZM1196.3,213.6L1196.3,213.3L1196.3,213.1L1196.2,212.9L1196.1,212.6L1196.0,212.4L1195.9,212.2L1195.7,212.0L1195.6,211.9L1195.4,211.7L1195.2,211.6L1195.0,211.5L1194.8,211.4L1194.5,211.3L1194.3,211.3L1194.1,211.2L1193.8,211.2L1190.4,211.4L1190.1,211.4L1189.9,211.5L1189.7,211.5L1189.4,211.6L1189.2,211.7L1189.0,211.9L1188.8,212.0L1188.7,212.2L1188.5,212.4L1188.4,212.6L1188.3,212.8L1186.6,216.7L1186.5,216.8L1186.4,216.9L1186.4,217.0L1186.3,217.1L1186.2,217.2L1186.1,217.3L1184.6,218.2L1184.4,218.4L1184.3,218.4L1190.4,220.9L1190.5,220.9L1192.7,221.9L1192.7,221.8L1192.7,221.6L1192.7,221.4L1192.6,220.8L1192.6,220.6L1192.6,220.5L1192.6,220.4L1192.6,220.2L1192.7,220.1L1192.7,220.0L1192.8,219.9L1196.0,214.9L1196.1,214.7L1196.2,214.5L1196.3,214.3L1196.3,214.0L1196.3,213.8ZM1195.2,221.1L1195.2,221.4L1195.2,221.6L1195.2,221.9L1195.3,222.1L1195.4,222.3L1195.5,222.5L1195.6,222.7L1195.8,222.9L1195.9,223.1L1196.1,223.2L1196.3,223.4L1198.0,224.4L1203.0,226.7L1203.1,226.7L1203.3,226.6L1203.5,226.6L1203.7,226.4L1203.9,226.3L1204.1,226.2L1204.3,226.0L1204.4,225.8L1207.4,221.8L1207.6,221.6L1207.7,221.4L1207.8,221.1L1207.8,220.9L1207.9,220.7L1207.9,220.4L1207.9,219.5L1207.9,219.2L1207.9,219.0L1207.9,218.8L1207.8,218.5L1207.7,218.3L1207.6,218.1L1207.4,217.9L1207.3,217.7L1207.1,217.6L1206.9,217.4L1206.7,217.3L1201.8,214.5L1201.6,214.4L1201.4,214.3L1201.2,214.2L1201.0,214.2L1200.7,214.1L1200.5,214.1L1200.3,214.2L1200.1,214.2L1199.8,214.3L1199.6,214.4L1199.4,214.5L1199.2,214.6L1199.0,214.7L1198.9,214.9L1198.7,215.1L1198.6,215.3L1195.5,220.0L1195.4,220.2L1195.3,220.5L1195.3,220.7L1195.2,220.9ZM1231.7,183.5L1231.9,183.7L1232.0,183.9L1232.2,184.1L1232.4,184.2L1232.6,184.3L1232.8,184.4L1233.0,184.5L1233.2,184.6L1237.9,185.6L1238.1,185.6L1238.3,185.7L1238.6,185.7L1238.8,185.6L1239.0,185.6L1239.3,185.5L1239.5,185.4L1239.7,185.3L1239.9,185.1L1240.4,184.7L1231.2,181.2L1231.3,182.5L1231.4,182.7L1231.4,182.9L1231.5,183.1L1231.6,183.3ZM1212.0,185.5L1212.1,185.7L1214.0,187.4L1214.1,187.5L1214.3,187.6L1214.5,187.8L1214.7,187.8L1215.0,187.9L1215.2,188.0L1215.4,188.0L1215.6,188.0L1215.9,188.0L1216.1,187.9L1220.8,186.9L1221.0,186.9L1221.3,186.8L1221.5,186.7L1221.7,186.6L1221.9,186.4L1222.0,186.2L1222.2,186.1L1222.3,185.9L1222.5,185.7L1222.6,185.5L1222.6,185.2L1222.7,185.0L1222.7,184.8L1222.7,184.5L1222.7,184.3L1222.7,184.1L1222.6,183.8L1222.5,183.6L1221.3,180.9L1211.4,184.4L1211.4,184.5L1211.5,184.8L1211.6,185.0L1211.7,185.2L1211.8,185.4ZM1204.1,192.4L1204.0,192.7L1204.0,192.9L1203.9,193.1L1204.0,193.4L1204.0,193.6L1204.0,193.8L1204.1,194.1L1204.2,194.3L1204.3,194.5L1204.5,194.7L1204.6,194.8L1204.8,195.0L1205.0,195.1L1205.2,195.3L1205.4,195.4L1205.6,195.5L1205.8,195.5L1206.1,195.6L1206.3,195.6L1206.5,195.6L1206.8,195.5L1207.0,195.5L1207.2,195.4L1211.8,193.6L1212.0,193.5L1212.2,193.4L1212.4,193.3L1212.6,193.1L1212.8,192.9L1212.9,192.7L1213.1,192.5L1213.2,192.3L1213.2,192.1L1213.3,191.8L1213.3,191.6L1213.3,191.4L1213.3,191.1L1213.3,190.8L1213.3,190.6L1213.2,190.4L1213.1,190.1L1213.0,189.9L1212.9,189.7L1212.7,189.5L1212.6,189.3L1211.6,188.5L1211.4,188.3L1211.2,188.2L1211.0,188.1L1210.8,188.0L1210.5,187.9L1210.3,187.9L1210.1,187.8L1209.8,187.8L1209.6,187.9L1209.3,187.9L1209.1,188.0L1208.9,188.1L1208.7,188.2L1208.5,188.4L1204.8,191.3L1204.7,191.5L1204.5,191.6L1204.4,191.8L1204.2,192.0L1204.1,192.2ZM1227.0,187.9L1226.9,188.1L1226.7,188.3L1226.6,188.5L1226.6,188.7L1226.5,189.0L1226.5,189.2L1226.5,189.4L1226.5,189.7L1226.5,189.9L1227.5,195.4L1227.6,195.7L1227.7,195.9L1227.8,196.1L1227.9,196.3L1228.0,196.5L1228.2,196.6L1228.3,196.8L1228.5,196.9L1228.7,197.1L1228.9,197.2L1229.4,197.4L1229.6,197.5L1229.8,197.6L1230.0,197.6L1230.3,197.6L1230.5,197.6L1230.7,197.6L1230.9,197.6L1231.1,197.5L1231.4,197.5L1237.7,194.8L1237.9,194.7L1238.0,194.7L1238.1,194.7L1238.2,194.7L1238.3,194.7L1238.5,194.7L1238.6,194.7L1238.7,194.8L1238.8,194.8L1238.9,194.9L1239.0,195.0L1239.1,195.0L1239.2,195.2L1242.4,199.3L1242.5,199.5L1242.7,199.6L1242.9,199.8L1243.1,199.9L1243.3,200.0L1243.5,200.1L1243.7,200.2L1244.0,200.2L1244.2,200.2L1244.5,200.2L1244.7,200.2L1244.9,200.1L1245.2,200.1L1245.4,200.0L1245.6,199.8L1245.8,199.7L1246.0,199.5L1246.1,199.3L1246.3,199.2L1246.4,198.9L1246.5,198.7L1248.5,193.8L1242.8,186.9L1242.7,186.9L1242.4,186.8L1242.2,186.9L1242.0,186.9L1241.7,186.9L1241.5,187.0L1241.3,187.1L1241.1,187.2L1240.9,187.4L1240.1,188.1L1239.9,188.2L1239.8,188.2L1239.7,188.3L1239.6,188.3L1239.5,188.3L1239.4,188.3L1239.2,188.3L1239.1,188.3L1239.0,188.3L1231.1,186.6L1230.8,186.5L1230.6,186.5L1230.3,186.5L1230.1,186.6L1229.8,186.6L1228.1,187.2L1227.9,187.2L1227.7,187.3L1227.5,187.5L1227.3,187.6L1227.1,187.8ZM1216.4,190.7L1216.3,190.9L1216.2,191.1L1216.0,191.3L1215.9,191.5L1215.9,191.7L1215.8,192.0L1215.8,192.2L1215.8,192.4L1215.8,193.4L1215.8,193.6L1215.8,193.8L1215.9,194.0L1216.8,197.4L1216.9,197.6L1217.0,197.9L1217.1,198.1L1217.3,198.3L1217.4,198.4L1217.6,198.6L1217.8,198.8L1218.0,198.9L1218.2,199.0L1218.4,199.1L1218.7,199.1L1218.9,199.2L1219.2,199.2L1219.4,199.2L1219.6,199.1L1219.9,199.1L1220.1,199.0L1223.6,197.5L1223.8,197.4L1224.0,197.3L1224.2,197.1L1224.3,197.0L1224.5,196.8L1224.6,196.6L1224.7,196.4L1224.8,196.2L1224.9,196.0L1225.0,195.8L1225.0,195.5L1225.0,195.3L1225.0,195.1L1225.0,194.8L1224.3,191.2L1224.2,190.9L1224.2,190.7L1224.1,190.5L1223.9,190.3L1223.8,190.1L1223.6,189.9L1223.5,189.7L1223.3,189.6L1223.1,189.5L1222.8,189.4L1222.6,189.3L1222.4,189.2L1222.1,189.2L1221.9,189.2L1221.7,189.2L1221.4,189.3L1217.7,190.1L1217.4,190.1L1217.2,190.2L1217.0,190.3L1216.8,190.4L1216.6,190.6ZM1247.7,203.3L1247.7,203.6L1247.8,203.8L1247.9,204.0L1248.0,204.2L1248.2,204.4L1248.3,204.5L1248.5,204.7L1248.7,204.8L1248.9,205.0L1249.1,205.1L1249.3,205.1L1249.6,205.2L1249.8,205.2L1250.0,205.2L1250.3,205.2L1250.5,205.2L1250.7,205.1L1251.0,205.0L1251.2,204.9L1253.3,203.8L1253.5,203.6L1253.7,203.5L1253.8,203.3L1254.0,203.2L1254.1,203.0L1254.2,202.8L1254.3,202.6L1254.4,202.3L1254.4,202.3L1253.9,200.6L1251.5,197.5L1251.3,197.5L1251.1,197.5L1250.9,197.5L1250.6,197.6L1250.4,197.6L1250.2,197.7L1250.0,197.8L1249.8,198.0L1249.6,198.1L1249.5,198.3L1249.3,198.4L1249.2,198.6L1249.1,198.8L1249.0,199.0L1247.8,201.9L1247.7,202.2L1247.7,202.4L1247.6,202.6L1247.6,202.9L1247.6,203.1ZM1230.6,204.5L1230.8,204.6L1231.0,204.7L1239.5,207.8L1239.7,207.9L1239.9,208.0L1240.2,208.0L1240.4,208.0L1240.6,208.0L1240.9,207.9L1241.1,207.8L1241.3,207.8L1241.5,207.6L1241.7,207.5L1242.3,207.1L1242.4,207.0L1242.6,206.8L1242.8,206.6L1242.9,206.4L1243.0,206.2L1243.1,206.0L1243.2,205.8L1243.2,205.5L1243.2,205.3L1243.2,205.0L1243.2,204.8L1243.1,204.6L1243.1,204.3L1243.0,204.1L1242.9,203.9L1242.7,203.7L1238.9,198.8L1238.8,198.6L1238.6,198.4L1238.4,198.3L1238.2,198.2L1238.0,198.1L1237.8,198.0L1237.5,197.9L1237.3,197.9L1237.1,197.9L1236.8,197.9L1236.6,197.9L1236.3,198.0L1236.1,198.0L1230.9,200.2L1230.7,200.4L1230.5,200.5L1230.3,200.6L1230.3,200.6L1230.2,200.6L1230.1,200.4L1229.9,200.3L1229.7,200.2L1227.7,199.2L1227.4,199.2L1227.2,199.1L1227.0,199.0L1226.8,199.0L1226.6,199.0L1226.3,199.0L1226.1,199.1L1225.9,199.1L1225.7,199.2L1224.0,199.9L1223.8,200.0L1223.6,200.1L1223.4,200.3L1223.2,200.4L1223.1,200.6L1222.9,200.8L1222.8,201.0L1222.7,201.2L1222.7,201.5L1222.6,201.7L1222.6,201.9L1222.6,202.2L1222.6,202.4L1222.6,202.7L1222.7,202.9L1222.8,203.1L1222.9,203.3L1223.0,203.5L1223.2,203.7L1223.3,203.9L1225.2,205.6L1225.3,205.7L1225.5,205.9L1225.7,206.0L1225.9,206.1L1226.2,206.1L1226.4,206.2L1226.6,206.2L1226.9,206.2L1227.1,206.2L1227.3,206.2L1227.5,206.1L1227.7,206.0L1228.0,205.9L1228.2,205.8L1228.3,205.7L1228.5,205.5L1229.2,204.8L1229.3,204.7L1229.4,204.7L1229.5,204.6L1229.7,204.5L1229.9,204.4L1230.1,204.3L1230.2,204.2L1230.2,204.2L1230.4,204.4ZM1202.7,210.3L1202.6,210.5L1202.6,210.8L1202.6,211.0L1202.7,211.2L1202.7,211.4L1202.8,211.7L1202.9,211.9L1203.0,212.1L1203.1,212.3L1203.3,212.4L1203.4,212.6L1203.6,212.7L1203.8,212.8L1207.6,215.0L1207.8,215.1L1208.0,215.2L1208.2,215.3L1208.5,215.3L1208.7,215.3L1208.9,215.3L1209.1,215.3L1209.4,215.3L1209.6,215.2L1209.8,215.1L1210.0,215.0L1210.2,214.9L1210.4,214.7L1211.7,213.6L1211.9,213.4L1212.1,213.2L1212.2,213.0L1212.3,212.8L1212.4,212.6L1212.5,212.3L1212.5,212.1L1212.5,211.9L1212.8,205.3L1212.8,205.0L1212.8,204.8L1212.8,204.6L1212.7,204.4L1212.6,204.1L1212.5,203.9L1212.4,203.8L1212.6,203.7L1212.8,203.6L1213.0,203.5L1213.1,203.3L1213.3,203.1L1214.5,201.6L1214.6,201.4L1214.7,201.2L1214.8,201.0L1214.9,200.8L1215.0,200.6L1215.0,200.4L1215.0,200.2L1215.0,199.9L1215.0,199.7L1214.9,199.5L1214.5,198.0L1214.4,197.8L1214.3,197.5L1214.2,197.3L1214.1,197.1L1213.9,197.0L1213.8,196.8L1213.6,196.7L1213.4,196.5L1213.2,196.4L1212.9,196.3L1212.7,196.3L1212.5,196.2L1212.2,196.2L1212.0,196.2L1211.8,196.3L1211.5,196.3L1211.3,196.4L1209.1,197.3L1208.8,197.4L1208.6,197.5L1208.4,197.6L1208.3,197.8L1208.1,197.9L1208.0,198.1L1207.8,198.3L1207.7,198.5L1207.6,198.7L1207.6,199.0L1207.5,199.2L1207.5,199.4L1207.5,199.7L1207.6,199.9L1207.6,200.1L1207.7,200.3L1207.8,200.6L1207.9,200.8L1208.0,201.0L1208.2,201.1L1208.3,201.3L1208.7,201.6L1208.8,201.8L1208.9,201.8L1209.0,201.9L1209.0,202.1L1209.1,202.2L1209.1,202.3L1209.2,202.6L1209.3,202.8L1209.4,203.0L1209.4,203.0L1209.2,203.1L1209.1,203.2L1208.9,203.3L1208.7,203.5L1203.3,209.1L1203.1,209.3L1203.0,209.5L1202.9,209.7L1202.8,209.9L1202.7,210.1ZM1218.1,202.9L1217.9,202.8L1217.7,202.8L1217.5,202.9L1217.2,202.9L1217.0,203.0L1216.8,203.0L1216.6,203.1L1216.4,203.3L1216.2,203.4L1216.0,203.6L1215.9,203.8L1215.7,203.9L1215.6,204.1L1215.5,204.3L1215.4,204.6L1215.3,204.8L1215.2,205.1L1215.2,205.3L1215.0,210.3L1215.0,210.5L1215.0,210.7L1215.1,211.0L1215.1,211.2L1215.2,211.4L1215.3,211.6L1215.5,211.8L1215.6,212.0L1215.8,212.2L1216.0,212.3L1216.2,212.4L1216.4,212.5L1216.6,212.6L1216.8,212.7L1217.0,212.8L1222.3,213.6L1222.5,213.6L1222.8,213.6L1223.0,213.6L1223.2,213.5L1223.5,213.5L1223.7,213.4L1223.9,213.3L1224.1,213.1L1224.3,213.0L1224.4,212.8L1224.6,212.6L1224.7,212.4L1224.8,212.2L1224.9,212.0L1225.0,211.8L1225.3,210.6L1225.3,210.4L1225.3,210.1L1225.3,209.9L1225.3,209.7L1225.2,209.5L1225.2,209.2L1225.1,209.0L1225.0,208.8L1224.9,208.6L1224.7,208.5L1224.6,208.3L1219.4,203.5L1219.2,203.3L1219.0,203.2L1218.8,203.1L1218.6,203.0L1218.4,202.9ZM1252.4,207.0L1252.2,207.2L1252.1,207.4L1251.9,207.6L1251.8,207.8L1251.7,208.0L1251.6,208.2L1251.6,208.4L1251.6,208.6L1251.5,208.9L1251.6,209.1L1251.6,209.3L1251.6,209.6L1251.7,209.8L1252.9,212.8L1257.4,212.8L1255.3,205.5L1255.2,205.5L1255.0,205.6L1254.8,205.7L1252.8,206.8L1252.6,206.9ZM1237.4,211.0L1237.3,210.8L1237.3,210.5L1237.2,210.3L1237.1,210.1L1236.9,209.9L1236.8,209.7L1236.6,209.5L1236.4,209.4L1236.3,209.3L1236.0,209.1L1235.8,209.1L1231.8,207.6L1231.6,207.5L1231.4,207.5L1231.2,207.4L1230.9,207.4L1230.7,207.4L1230.5,207.5L1230.3,207.5L1230.0,207.6L1229.8,207.7L1229.6,207.8L1229.5,208.0L1229.3,208.1L1228.5,209.0L1228.3,209.1L1228.2,209.3L1228.1,209.5L1228.0,209.7L1227.9,209.9L1227.8,210.1L1227.7,210.9L1227.7,210.8L1227.8,210.8L1228.0,210.8L1228.1,210.8L1228.2,210.8L1237.2,212.3L1237.2,212.2L1237.3,212.0L1237.4,211.7L1237.4,211.5L1237.4,211.2ZM1240.8,211.7L1240.7,212.0L1240.6,212.2L1240.6,212.4L1240.6,212.7L1240.6,212.8L1250.3,212.8L1248.9,209.3L1248.8,209.1L1248.7,208.9L1248.6,208.7L1248.4,208.5L1248.3,208.3L1248.1,208.2L1247.9,208.1L1247.7,208.0L1247.4,207.9L1247.1,207.8L1246.9,207.7L1246.6,207.7L1246.4,207.7L1246.2,207.7L1246.0,207.7L1245.7,207.7L1245.5,207.8L1245.3,207.9L1245.1,208.0L1244.9,208.1L1241.6,210.6L1241.4,210.7L1241.2,210.9L1241.1,211.1L1241.0,211.3L1240.8,211.5ZM1214.0,215.0L1213.8,215.1L1213.6,215.2L1213.4,215.3L1213.2,215.5L1211.2,217.2L1211.0,217.4L1210.8,217.6L1210.7,217.8L1210.6,218.0L1210.5,218.2L1210.4,218.5L1210.4,218.7L1210.4,218.9L1210.3,219.5L1210.3,219.8L1210.4,220.0L1210.4,220.2L1210.5,220.4L1210.6,220.7L1210.7,220.9L1210.8,221.1L1210.9,221.2L1211.1,221.4L1211.3,221.5L1211.5,221.7L1213.9,223.2L1214.3,223.0L1221.9,216.0L1215.2,214.9L1214.9,214.9L1214.7,214.9L1214.5,214.9L1214.2,214.9ZM1210.1,224.0L1209.9,224.0L1209.6,224.0L1209.4,224.1L1209.2,224.1L1208.9,224.2L1208.7,224.3L1208.5,224.5L1208.4,224.6L1208.2,224.8L1208.0,225.0L1206.7,226.8L1211.4,224.5L1211.2,224.3L1211.0,224.2L1210.8,224.1L1210.6,224.1L1210.3,224.0Z" fill="#1c1c1c"/>
<path d="M1146,213 C1170,214 1185,222 1195,230 C1205,236 1220,232 1228,216 C1240,214 1255,220 1266,224" stroke="#2a2a2a" stroke-width="2.6" fill="none"/>
<path d="M1148,219.5 C1170,220.5 1185,228.5 1195,236.5 C1205,242.5 1220,238.5 1228,222.5 C1240,220.5 1255,226.5 1267,230.5" stroke="#6a6a6a" stroke-width="5" fill="none"/>
<path d="M1148,220 C1170,221 1185,229 1195,237 C1205,243 1220,239 1228,223 C1240,221 1255,227 1267,231" stroke="#b5b5b5" stroke-width="5" fill="none" stroke-dasharray="1.2 1.8"/>
<polygon points="1175,406 1243,406 1241,450 1176,450" fill="#1c1c1c"/>
<path d="M1174,404 Q1210,398 1244,405" stroke="#c0c0c0" stroke-width="2.4" fill="none"/>
<ellipse cx="1207" cy="421" rx="9" ry="6" fill="#000"/>
<path d="M1198,415 Q1208,411 1216,417" stroke="#9a9a9a" stroke-width="1.5" fill="none"/>
</g>
<g clip-path="url(#cb2)">
<rect x="1319.2" y="136" width="204.8" height="312.5" fill="#040404"/>
<polygon points="1385.4,174.0 1398.0,175.0 1410.0,177.0 1425.0,172.0 1436.0,166.0 1442.6,164.5 1452.0,168.0 1462.0,180.0 1472.0,194.0 1482.0,210.0 1486.0,222.0 1492.0,236.0 1493.0,250.0 1490.0,275.0 1484.0,300.0 1477.0,330.0 1470.0,370.0 1465.0,410.0 1462.0,450.0 1369.0,450.0 1367.0,410.0 1364.0,360.0 1362.0,300.0 1362.0,250.0 1364.0,226.0 1369.0,210.0 1372.0,198.0 1378.0,186.0" fill="#bdbdbd"/>
<polygon points="1370.0,232.0 1400.0,230.0 1420.0,238.0 1450.0,240.0 1488.0,244.0 1487.0,262.0 1482.0,290.0 1474.0,316.0 1462.0,340.0 1455.0,360.0 1451.0,400.0 1448.0,450.0 1383.0,450.0 1378.0,400.0 1374.0,350.0 1371.0,300.0" fill="#050505"/>
<polygon points="1370.0,233.0 1400.0,231.0 1420.0,239.0 1450.0,241.0 1487.0,245.0 1486.0,262.0 1482.0,290.0 1474.0,316.0 1462.0,340.0 1455.0,348.0 1448.0,330.0 1438.0,310.0 1428.0,296.0 1405.0,288.0 1390.0,292.0 1376.0,298.0 1371.0,268.0" fill="#a6a6a6"/>
<path d="M1389.7,232.8L1389.8,232.8L1389.9,232.8L1390.1,232.7L1390.2,232.7L1390.3,232.6L1390.3,232.5L1388.8,232.6L1388.9,232.7L1389.0,232.8L1389.2,232.8L1389.3,232.8L1389.4,232.8L1389.5,232.9L1389.6,232.9ZM1380.2,233.5L1380.3,233.4L1380.4,233.4L1380.5,233.3L1380.6,233.2L1380.7,233.2L1379.0,233.3L1379.3,233.5L1379.4,233.5L1379.5,233.5L1379.6,233.6L1379.7,233.6L1379.9,233.6L1380.0,233.6L1380.1,233.5ZM1390.2,235.1L1390.2,235.2L1390.2,235.4L1390.2,235.5L1390.3,235.6L1390.3,235.7L1390.4,235.8L1390.4,235.9L1390.5,236.0L1390.6,236.1L1390.7,236.1L1390.8,236.2L1390.9,236.3L1391.0,236.3L1392.7,236.8L1392.8,236.8L1392.9,236.8L1393.0,236.8L1393.1,236.8L1393.3,236.8L1393.4,236.7L1393.5,236.7L1393.6,236.6L1393.7,236.6L1393.8,236.5L1393.9,236.4L1394.0,236.3L1394.0,236.2L1395.3,234.1L1395.3,234.0L1395.4,234.0L1395.4,233.9L1395.5,233.9L1395.5,233.8L1395.6,233.8L1395.6,233.8L1395.7,233.8L1395.8,233.8L1395.8,233.7L1395.9,233.7L1396.0,233.8L1396.0,233.8L1396.1,233.8L1399.1,234.9L1399.3,234.9L1399.4,234.9L1399.5,234.9L1399.6,234.9L1399.7,234.9L1399.8,234.9L1400.0,234.9L1400.1,234.8L1400.2,234.8L1400.3,234.7L1400.4,234.6L1400.5,234.5L1400.5,234.4L1400.6,234.3L1400.6,234.2L1400.7,234.1L1400.7,234.0L1400.7,233.9L1400.7,233.8L1400.7,233.6L1400.6,232.6L1400.6,232.5L1400.6,232.3L1400.6,232.2L1400.5,232.2L1399.9,231.9L1392.5,232.4L1390.5,234.3L1390.5,234.4L1390.4,234.5L1390.3,234.6L1390.3,234.7L1390.2,234.8L1390.2,234.9L1390.2,235.0ZM1387.5,236.6L1387.6,236.5L1387.7,236.4L1387.8,236.3L1387.8,236.3L1387.8,236.2L1387.9,236.2L1388.0,236.1L1388.1,236.0L1388.1,235.9L1388.2,235.8L1388.2,235.7L1388.4,235.2L1388.4,235.1L1388.4,235.0L1388.4,234.9L1388.4,234.7L1388.4,234.6L1388.4,234.5L1388.3,234.4L1388.3,234.3L1388.2,234.2L1388.1,234.1L1387.2,233.0L1387.2,232.9L1387.1,232.8L1387.0,232.8L1385.2,232.9L1383.6,233.5L1383.5,233.5L1383.5,233.6L1383.4,233.6L1383.3,233.6L1383.3,233.6L1383.2,233.6L1383.0,233.5L1382.9,233.5L1382.8,233.5L1382.7,233.5L1382.5,233.5L1382.4,233.6L1382.3,233.6L1382.2,233.6L1382.1,233.7L1382.0,233.8L1382.0,233.8L1381.9,233.9L1381.8,234.0L1381.8,234.1L1381.7,234.1L1381.7,234.3L1381.6,234.4L1381.6,234.5L1381.6,234.6L1381.6,234.7L1381.6,234.8L1381.6,234.9L1381.6,235.1L1381.6,235.2L1381.8,235.6L1381.8,235.7L1381.9,235.8L1382.0,235.9L1382.0,236.0L1382.1,236.0L1382.2,236.1L1382.3,236.2L1382.4,236.2L1382.5,236.3L1382.6,236.3L1382.8,236.3L1386.7,236.8L1386.8,236.8L1386.9,236.8L1387.0,236.8L1387.1,236.8L1387.2,236.7L1387.3,236.7L1387.4,236.6ZM1371.3,235.5L1371.4,234.1L1371.4,234.0L1371.3,233.8L1371.3,233.8L1370.9,233.8L1371.0,236.4L1371.1,236.3L1371.1,236.2L1371.2,236.1L1371.2,236.0L1371.3,235.9L1371.3,235.8L1371.3,235.7ZM1377.7,234.9L1377.7,234.7L1377.6,234.6L1377.6,234.5L1377.5,234.4L1377.5,234.3L1377.4,234.2L1377.3,234.1L1377.2,234.1L1377.1,234.0L1377.0,234.0L1376.0,233.5L1372.8,233.7L1372.8,233.8L1372.8,233.9L1372.7,235.5L1372.7,235.6L1372.8,235.7L1372.8,235.8L1372.8,235.9L1372.9,236.0L1372.9,236.1L1373.0,236.2L1373.1,236.3L1373.1,236.4L1374.5,237.6L1374.6,237.7L1374.7,237.7L1374.8,237.8L1374.9,237.8L1375.0,237.9L1375.1,237.9L1375.2,237.9L1375.3,237.9L1375.5,237.9L1375.6,237.9L1375.7,237.8L1375.8,237.8L1375.9,237.7L1376.0,237.7L1376.1,237.6L1376.2,237.5L1376.2,237.4L1377.5,235.8L1377.5,235.7L1377.6,235.5L1377.6,235.4L1377.7,235.3L1377.7,235.2L1377.7,235.1L1377.7,235.0ZM1377.0,239.4L1377.0,239.5L1377.0,239.7L1377.1,239.8L1377.1,239.9L1377.2,240.0L1377.3,240.1L1377.3,240.1L1377.4,240.2L1377.5,240.3L1377.6,240.3L1377.8,240.4L1377.9,240.4L1378.0,240.4L1378.1,240.4L1378.2,240.4L1378.3,240.4L1378.5,240.4L1378.6,240.4L1378.7,240.3L1379.7,239.8L1379.8,239.7L1379.9,239.6L1380.0,239.6L1380.1,239.5L1380.2,239.4L1380.2,239.3L1380.3,239.2L1380.3,239.1L1380.4,239.0L1380.6,237.7L1380.7,237.6L1380.7,237.5L1380.7,237.3L1380.7,237.2L1380.6,237.1L1380.6,237.0L1380.5,236.9L1380.5,236.8L1380.4,236.7L1380.3,236.6L1380.3,236.5L1380.2,236.5L1380.1,236.4L1380.0,236.3L1379.9,236.3L1379.7,236.3L1379.6,236.2L1379.5,236.2L1379.4,236.2L1379.3,236.2L1379.2,236.3L1379.1,236.3L1379.0,236.3L1378.8,236.4L1378.8,236.5L1378.7,236.5L1378.6,236.6L1378.5,236.7L1377.2,238.5L1377.1,238.6L1377.1,238.7L1377.0,238.8L1377.0,238.9L1377.0,239.1L1376.9,239.2L1376.9,239.3ZM1389.1,237.6L1389.0,237.6L1388.9,237.7L1388.8,237.8L1388.7,237.9L1388.7,238.0L1388.6,238.1L1388.5,238.2L1388.5,238.3L1388.5,238.4L1388.5,238.5L1388.4,239.1L1388.4,239.2L1388.4,239.3L1388.5,239.5L1388.5,239.6L1388.5,239.7L1388.6,239.8L1388.6,239.9L1388.7,240.0L1388.8,240.0L1390.0,241.3L1390.1,241.3L1390.2,241.4L1390.3,241.5L1390.4,241.5L1390.5,241.6L1390.6,241.6L1390.7,241.6L1390.8,241.6L1390.9,241.6L1391.0,241.6L1395.1,240.9L1395.2,240.9L1395.2,240.9L1395.3,240.9L1395.4,240.9L1395.4,240.9L1395.5,241.0L1395.6,241.0L1396.4,241.5L1396.5,241.5L1396.6,241.5L1396.7,241.6L1396.8,241.6L1396.9,241.6L1397.0,241.6L1397.1,241.6L1397.3,241.6L1397.4,241.5L1397.5,241.5L1397.6,241.5L1397.7,241.4L1398.2,241.0L1398.3,241.0L1398.3,240.9L1398.4,240.8L1398.5,240.7L1398.5,240.6L1398.6,240.5L1398.6,240.4L1398.6,240.3L1398.7,240.2L1399.0,237.3L1399.0,237.2L1399.0,237.1L1399.0,236.9L1399.0,236.8L1398.9,236.7L1398.9,236.6L1398.8,236.5L1398.8,236.4L1398.7,236.3L1398.6,236.3L1398.5,236.2L1398.4,236.1L1398.3,236.1L1398.2,236.0L1397.1,235.6L1397.0,235.6L1396.9,235.6L1396.8,235.6L1396.7,235.6L1396.5,235.6L1396.4,235.6L1396.3,235.6L1396.2,235.7L1396.1,235.7L1396.0,235.8L1395.9,235.9L1395.8,236.0L1395.7,236.1L1395.7,236.1L1394.5,238.1L1394.4,238.2L1394.4,238.3L1394.3,238.3L1394.3,238.4L1394.2,238.4L1394.2,238.5L1394.1,238.5L1394.0,238.5L1394.0,238.5L1393.9,238.5L1393.8,238.5L1393.8,238.5L1393.7,238.5L1390.0,237.5L1389.9,237.4L1389.8,237.4L1389.6,237.4L1389.5,237.4L1389.4,237.4L1389.3,237.5L1389.2,237.5ZM1386.4,239.5L1386.5,239.4L1386.5,239.3L1386.5,239.1L1386.4,239.0L1386.4,238.9L1386.4,238.8L1386.3,238.7L1386.3,238.6L1386.2,238.5L1386.1,238.4L1386.0,238.3L1385.9,238.3L1385.8,238.2L1385.7,238.1L1385.6,238.1L1385.5,238.1L1385.4,238.1L1383.2,237.8L1383.0,237.8L1382.9,237.8L1382.8,237.8L1382.7,237.8L1382.6,237.9L1382.5,237.9L1382.4,238.0L1382.3,238.0L1382.2,238.1L1382.1,238.2L1382.0,238.3L1382.0,238.4L1381.9,238.5L1381.9,238.6L1381.8,238.7L1381.8,238.8L1381.8,238.9L1381.8,239.0L1381.8,239.2L1381.8,239.3L1381.8,239.4L1381.9,239.5L1381.9,239.6L1382.0,239.7L1382.0,239.8L1382.1,239.9L1382.2,240.0L1382.3,240.0L1382.4,240.1L1383.7,240.9L1383.8,240.9L1383.9,241.0L1384.0,241.0L1384.1,241.1L1384.2,241.1L1384.3,241.1L1384.5,241.1L1384.6,241.0L1384.7,241.0L1384.8,241.0L1384.9,240.9L1385.0,240.9L1385.9,240.2L1386.0,240.2L1386.1,240.1L1386.2,240.0L1386.3,239.9L1386.3,239.8L1386.4,239.7L1386.4,239.6ZM1372.1,237.8L1372.0,237.9L1371.9,237.9L1371.8,237.9L1371.7,238.0L1371.6,238.0L1371.5,238.1L1371.4,238.2L1371.3,238.2L1371.2,238.3L1371.2,238.4L1371.1,238.5L1371.1,238.6L1371.1,241.7L1371.2,241.7L1371.3,241.7L1371.4,241.8L1371.5,241.8L1373.4,242.0L1373.5,242.0L1373.6,242.0L1373.8,242.0L1373.9,241.9L1374.0,241.9L1374.4,241.7L1374.5,241.7L1374.6,241.6L1374.7,241.5L1374.8,241.4L1374.9,241.4L1374.9,241.3L1375.0,241.1L1375.0,241.0L1375.1,240.9L1375.1,240.8L1375.1,240.7L1375.1,240.6L1375.1,240.5L1375.1,240.3L1375.0,240.2L1375.0,240.1L1374.9,240.0L1374.9,239.9L1374.8,239.8L1374.7,239.7L1373.0,238.2L1372.9,238.1L1372.8,238.0L1372.7,238.0L1372.6,237.9L1372.5,237.9L1372.4,237.9L1372.2,237.8ZM1383.3,242.3L1383.2,242.2L1383.1,242.2L1383.0,242.1L1381.4,241.1L1381.3,241.1L1381.2,241.0L1381.0,241.0L1380.9,241.0L1380.8,241.0L1380.7,241.0L1380.6,241.0L1380.4,241.0L1380.3,241.0L1380.2,241.1L1378.8,241.8L1378.7,241.9L1378.6,241.9L1378.5,242.0L1378.5,242.1L1378.4,242.2L1378.3,242.3L1378.3,242.4L1378.2,242.5L1378.2,242.6L1378.2,242.7L1378.2,242.8L1378.2,243.0L1378.2,243.1L1378.2,243.2L1378.7,244.9L1378.7,245.0L1378.8,245.1L1378.9,245.2L1378.9,245.3L1379.0,245.4L1379.1,245.5L1379.2,245.6L1379.3,245.6L1379.4,245.7L1379.5,245.7L1379.6,245.8L1379.7,245.8L1379.8,245.8L1382.2,245.8L1382.3,245.8L1382.4,245.8L1382.6,245.8L1382.7,245.7L1382.8,245.7L1382.9,245.6L1383.0,245.6L1383.1,245.5L1383.1,245.4L1383.2,245.3L1383.3,245.2L1383.3,245.1L1383.4,245.0L1383.4,244.9L1383.4,244.7L1383.6,243.2L1383.6,243.1L1383.5,243.0L1383.5,242.9L1383.5,242.8L1383.5,242.6L1383.4,242.5L1383.3,242.4ZM1385.1,245.8L1385.1,245.9L1385.2,246.0L1385.3,246.0L1385.4,246.1L1385.5,246.1L1385.6,246.2L1385.7,246.2L1385.8,246.2L1386.0,246.2L1386.1,246.2L1386.2,246.2L1386.3,246.2L1386.4,246.2L1388.3,245.5L1388.4,245.4L1388.5,245.4L1388.6,245.3L1388.7,245.2L1388.8,245.1L1388.8,245.0L1388.9,244.9L1389.0,244.8L1389.0,244.7L1389.0,244.6L1389.3,243.3L1389.3,243.2L1389.3,243.1L1389.3,243.0L1389.3,242.8L1389.3,242.7L1389.2,242.6L1389.2,242.5L1389.1,242.4L1389.1,242.3L1389.0,242.2L1388.3,241.5L1388.2,241.4L1388.1,241.4L1388.0,241.3L1387.9,241.3L1387.8,241.2L1387.7,241.2L1387.5,241.2L1387.4,241.2L1387.3,241.2L1387.2,241.2L1387.1,241.2L1387.0,241.3L1386.9,241.3L1386.8,241.4L1385.5,242.2L1385.4,242.3L1385.3,242.4L1385.2,242.4L1385.2,242.5L1385.1,242.6L1385.1,242.7L1385.0,242.9L1385.0,243.0L1385.0,243.1L1384.8,244.9L1384.8,245.0L1384.8,245.2L1384.8,245.3L1384.8,245.4L1384.9,245.5L1384.9,245.6L1385.0,245.7ZM1372.0,245.6L1372.1,245.5L1372.1,245.4L1372.3,244.8L1372.4,244.7L1372.4,244.5L1372.4,244.4L1372.4,244.3L1372.4,244.2L1372.4,244.1L1372.3,243.9L1372.3,243.8L1372.2,243.7L1372.1,243.6L1372.1,243.5L1372.0,243.4L1371.9,243.4L1371.8,243.3L1371.7,243.2L1371.6,243.2L1371.4,243.2L1371.3,243.2L1371.2,243.1L1371.3,246.1L1371.4,246.1L1371.5,246.0L1371.6,246.0L1371.7,245.9L1371.8,245.8L1371.9,245.7L1371.9,245.7ZM1376.3,242.9L1376.2,242.9L1376.1,242.8L1376.0,242.8L1375.8,242.8L1375.7,242.8L1375.6,242.8L1375.5,242.8L1375.4,242.8L1375.3,242.9L1374.8,243.0L1374.7,243.1L1374.6,243.2L1374.5,243.2L1374.4,243.3L1374.4,243.4L1374.3,243.5L1374.2,243.6L1374.2,243.7L1373.5,245.6L1373.5,245.7L1373.4,245.8L1373.4,246.0L1373.4,246.1L1373.4,246.2L1373.5,246.3L1373.5,246.4L1373.5,246.5L1373.6,246.6L1373.6,246.7L1373.7,246.8L1373.8,246.9L1373.9,247.0L1374.0,247.0L1374.1,247.1L1374.2,247.2L1374.3,247.2L1375.8,247.6L1375.9,247.7L1376.0,247.7L1376.2,247.7L1376.3,247.7L1376.4,247.7L1376.5,247.6L1376.6,247.6L1376.7,247.5L1376.8,247.5L1376.9,247.4L1377.0,247.3L1377.1,247.2L1377.2,247.1L1377.4,246.8L1377.4,246.7L1377.5,246.6L1377.5,246.5L1377.5,246.4L1377.6,246.3L1377.6,246.2L1377.6,246.1L1377.5,245.9L1377.5,245.8L1376.9,243.6L1376.9,243.5L1376.8,243.4L1376.7,243.3L1376.7,243.2L1376.6,243.1L1376.5,243.0L1376.4,243.0ZM1393.9,248.2L1394.0,248.2L1394.1,248.2L1394.2,248.2L1394.3,248.1L1394.4,248.1L1394.5,248.0L1394.6,247.9L1394.7,247.8L1396.1,246.3L1396.2,246.3L1396.3,246.2L1396.3,246.1L1396.4,245.9L1396.4,245.8L1396.4,245.7L1396.4,245.6L1396.4,245.5L1396.4,243.8L1396.4,243.6L1396.4,243.5L1396.3,243.4L1396.3,243.3L1396.2,243.2L1396.2,243.1L1396.1,243.0L1396.0,242.9L1395.9,242.8L1395.8,242.7L1395.5,242.5L1395.3,242.5L1395.2,242.4L1395.1,242.4L1395.0,242.4L1394.9,242.4L1394.8,242.4L1394.6,242.4L1391.6,242.9L1391.5,243.0L1391.4,243.0L1391.2,243.0L1391.1,243.1L1391.0,243.2L1391.0,243.2L1390.9,243.3L1390.8,243.4L1390.7,243.5L1390.7,243.6L1390.6,243.8L1390.6,243.9L1390.4,244.8L1390.4,244.9L1390.4,245.1L1390.4,245.2L1390.4,245.3L1390.4,245.4L1390.5,245.5L1390.5,245.6L1390.6,245.7L1390.6,245.8L1390.7,245.9L1390.8,246.0L1393.0,247.9L1393.1,248.0L1393.2,248.1L1393.3,248.1L1393.4,248.2L1393.6,248.2L1393.7,248.2L1393.8,248.2ZM1383.9,247.8L1383.9,247.7L1383.8,247.6L1383.7,247.5L1383.6,247.5L1383.5,247.4L1383.4,247.3L1383.3,247.3L1383.2,247.3L1383.0,247.2L1382.9,247.2L1379.5,247.2L1379.3,247.2L1379.2,247.2L1379.1,247.2L1379.0,247.3L1378.9,247.3L1378.8,247.4L1378.7,247.5L1378.6,247.5L1378.5,247.6L1378.4,247.7L1377.9,248.6L1377.8,248.7L1377.8,248.8L1377.7,248.9L1377.7,249.0L1377.7,249.1L1377.7,249.3L1377.7,249.7L1377.7,249.8L1377.7,249.9L1377.8,250.0L1377.8,250.2L1377.9,250.3L1377.9,250.4L1378.0,250.4L1378.1,250.5L1378.2,250.6L1378.3,250.7L1379.9,251.6L1380.0,251.7L1380.1,251.7L1380.2,251.8L1380.4,251.8L1380.5,251.8L1382.0,251.9L1382.2,251.9L1382.3,251.9L1382.4,251.9L1382.5,251.9L1382.6,251.8L1382.7,251.8L1382.8,251.7L1382.9,251.6L1383.0,251.5L1383.1,251.4L1383.2,251.3L1383.2,251.2L1383.3,251.1L1384.0,248.8L1384.1,248.7L1384.1,248.6L1384.1,248.5L1384.1,248.4L1384.1,248.2L1384.1,248.1L1384.0,248.0L1384.0,247.9ZM1372.0,248.5L1371.9,248.5L1371.8,248.6L1371.7,248.7L1371.6,248.8L1371.6,248.9L1371.5,249.0L1371.5,249.1L1371.4,249.4L1371.4,249.5L1371.4,249.7L1371.4,249.8L1371.4,249.9L1371.4,250.0L1371.4,250.1L1371.5,250.2L1371.5,250.3L1371.6,250.4L1371.7,250.5L1371.7,250.6L1371.8,250.7L1373.5,252.0L1373.6,252.1L1373.7,252.2L1373.8,252.2L1373.9,252.2L1374.0,252.3L1374.1,252.3L1374.2,252.3L1374.3,252.3L1374.5,252.3L1374.6,252.2L1374.7,252.2L1374.8,252.2L1374.9,252.1L1375.0,252.0L1375.1,252.0L1375.2,251.9L1376.0,250.9L1376.1,250.8L1376.1,250.7L1376.2,250.6L1376.2,250.5L1376.3,250.4L1376.3,250.3L1376.3,250.1L1376.3,250.0L1376.3,249.9L1376.2,249.8L1376.2,249.7L1376.1,249.6L1376.1,249.5L1376.0,249.4L1375.9,249.3L1375.8,249.2L1375.7,249.1L1375.6,249.1L1375.5,249.0L1375.4,249.0L1373.0,248.3L1372.9,248.2L1372.8,248.2L1372.6,248.2L1372.5,248.2L1372.4,248.3L1372.3,248.3L1372.2,248.3L1372.1,248.4ZM1385.7,254.5L1385.8,254.5L1385.9,254.5L1386.0,254.5L1386.1,254.5L1386.3,254.5L1386.4,254.4L1386.5,254.4L1386.6,254.3L1386.7,254.2L1386.8,254.2L1386.9,254.1L1386.9,254.0L1389.1,251.0L1389.1,251.0L1389.2,250.9L1389.2,250.9L1389.3,250.8L1389.3,250.8L1389.4,250.8L1389.4,250.8L1389.5,250.7L1389.6,250.7L1389.7,250.6L1390.8,250.0L1390.9,249.9L1391.0,249.8L1391.1,249.7L1391.2,249.6L1391.3,249.5L1391.3,249.4L1391.4,249.3L1391.4,249.2L1391.4,249.1L1391.4,249.0L1391.4,248.9L1391.4,248.7L1391.4,248.6L1391.4,248.5L1391.3,248.4L1391.3,248.3L1391.2,248.2L1391.1,248.1L1391.0,248.0L1389.9,247.0L1389.8,247.0L1389.7,246.9L1389.6,246.9L1389.5,246.8L1389.4,246.8L1389.3,246.8L1389.2,246.7L1389.0,246.8L1388.9,246.8L1388.8,246.8L1388.7,246.8L1386.4,247.7L1386.3,247.7L1386.2,247.8L1386.1,247.8L1386.0,247.9L1385.9,248.0L1385.8,248.1L1385.8,248.2L1385.7,248.3L1385.7,248.4L1385.6,248.5L1385.6,248.5L1384.4,252.2L1384.4,252.3L1384.3,252.4L1384.3,252.5L1384.3,252.6L1384.3,252.7L1384.4,252.8L1384.4,252.9L1384.4,253.0L1384.5,253.1L1384.9,253.9L1385.0,254.0L1385.1,254.1L1385.1,254.2L1385.2,254.2L1385.3,254.3L1385.4,254.4L1385.5,254.4ZM1392.6,254.7L1392.7,254.7L1392.8,254.7L1392.9,254.7L1393.0,254.7L1393.1,254.7L1393.2,254.7L1393.4,254.7L1393.5,254.6L1393.6,254.6L1393.7,254.5L1393.8,254.4L1393.8,254.4L1393.9,254.3L1394.0,254.2L1394.0,254.1L1394.1,254.0L1394.1,253.8L1394.5,252.5L1394.5,252.4L1394.5,252.3L1394.5,252.1L1394.5,252.0L1394.5,251.9L1394.4,251.8L1394.2,251.2L1394.2,251.1L1394.1,251.0L1394.1,250.9L1394.0,250.8L1393.9,250.8L1393.8,250.7L1393.7,250.6L1393.6,250.6L1393.5,250.5L1393.4,250.5L1393.3,250.5L1393.2,250.4L1393.1,250.4L1392.9,250.4L1392.8,250.5L1392.7,250.5L1392.6,250.6L1392.5,250.6L1391.7,251.1L1391.6,251.2L1391.5,251.2L1391.4,251.3L1391.3,251.4L1391.3,251.5L1391.2,251.6L1391.2,251.7L1391.1,251.8L1391.1,252.0L1391.1,252.1L1391.1,252.2L1391.1,252.3L1391.1,252.4L1391.2,252.5L1391.2,252.6L1391.9,254.1L1391.9,254.2L1392.0,254.3L1392.1,254.3L1392.2,254.4L1392.2,254.5L1392.3,254.6L1392.4,254.6ZM1373.4,253.9L1373.3,253.8L1373.2,253.7L1373.2,253.6L1373.1,253.5L1371.4,252.2L1371.6,257.0L1372.0,257.0L1372.1,257.0L1372.2,257.0L1372.3,256.9L1372.4,256.9L1372.5,256.8L1372.6,256.8L1372.7,256.7L1372.8,256.6L1372.9,256.5L1373.0,256.4L1373.0,256.3L1373.1,256.2L1373.1,256.1L1373.5,254.7L1373.5,254.6L1373.5,254.5L1373.5,254.4L1373.5,254.3L1373.5,254.2L1373.5,254.1L1373.4,254.0ZM1374.8,256.7L1374.8,256.8L1374.9,256.9L1375.0,257.0L1375.1,257.1L1375.2,257.1L1375.3,257.2L1375.4,257.2L1375.5,257.3L1375.6,257.3L1375.7,257.3L1375.9,257.3L1376.0,257.3L1376.1,257.3L1379.0,256.5L1379.1,256.5L1379.1,256.5L1379.2,256.5L1379.2,256.5L1379.3,256.5L1379.4,256.6L1382.7,257.6L1382.8,257.6L1382.9,257.6L1383.0,257.6L1383.1,257.6L1383.3,257.6L1383.4,257.6L1383.5,257.5L1383.6,257.5L1383.7,257.4L1383.8,257.3L1384.0,257.1L1384.1,257.0L1384.2,257.0L1384.3,256.9L1384.3,256.8L1384.4,256.6L1384.4,256.5L1384.4,256.4L1384.5,256.3L1384.5,256.2L1384.4,256.1L1384.4,256.0L1384.4,255.8L1384.4,255.7L1384.3,255.6L1383.3,254.0L1383.3,253.9L1383.2,253.8L1383.1,253.7L1383.0,253.6L1382.9,253.5L1382.8,253.5L1382.7,253.4L1382.6,253.4L1382.5,253.4L1382.4,253.4L1379.9,253.2L1379.9,253.2L1379.8,253.2L1379.7,253.1L1379.7,253.1L1379.6,253.1L1378.1,252.2L1378.0,252.1L1377.9,252.1L1377.7,252.0L1377.6,252.0L1377.5,252.0L1377.4,252.0L1377.3,252.0L1377.1,252.0L1377.0,252.1L1376.9,252.1L1376.8,252.2L1376.7,252.2L1376.6,252.3L1376.5,252.4L1375.3,253.9L1375.2,254.0L1375.2,254.0L1375.1,254.1L1375.1,254.2L1375.0,254.3L1374.6,255.8L1374.6,255.9L1374.6,256.0L1374.6,256.1L1374.6,256.3L1374.6,256.4L1374.7,256.5L1374.7,256.6ZM1389.8,253.8L1389.7,253.8L1389.6,253.8L1389.5,253.8L1389.4,253.8L1389.2,253.8L1389.1,253.8L1389.0,253.9L1388.9,253.9L1388.8,254.0L1388.7,254.0L1388.6,254.1L1388.5,254.2L1388.5,254.3L1387.8,255.3L1387.7,255.4L1387.6,255.5L1387.6,255.6L1387.6,255.7L1387.5,255.8L1387.5,255.9L1387.5,256.0L1387.5,256.1L1387.6,256.2L1387.6,256.4L1387.6,256.5L1387.7,256.6L1387.8,256.7L1387.8,256.7L1387.9,256.8L1388.0,256.9L1388.1,257.0L1388.2,257.0L1389.7,257.8L1389.8,257.9L1389.9,257.9L1390.1,257.9L1390.2,257.9L1390.3,257.9L1390.4,257.9L1390.5,257.9L1390.7,257.9L1390.8,257.8L1390.9,257.8L1391.0,257.7L1391.1,257.6L1391.1,257.6L1391.2,257.5L1391.3,257.4L1391.3,257.3L1391.4,257.2L1391.4,257.0L1391.5,256.9L1391.5,256.8L1391.5,256.7L1391.5,256.6L1391.4,256.5L1391.4,256.3L1391.4,256.2L1390.5,254.5L1390.5,254.4L1390.4,254.3L1390.3,254.2L1390.2,254.1L1390.1,254.0L1390.0,253.9L1389.9,253.9ZM1383.9,259.5L1383.9,259.7L1383.9,259.8L1383.9,259.9L1383.9,260.0L1384.0,260.1L1384.0,260.2L1384.1,260.3L1386.1,263.5L1386.2,263.6L1386.2,263.7L1386.3,263.7L1386.4,263.8L1386.5,263.9L1386.6,263.9L1386.7,264.0L1386.8,264.0L1386.9,264.0L1387.1,264.0L1387.2,264.0L1387.3,264.0L1387.4,264.0L1387.5,264.0L1387.6,263.9L1387.7,263.8L1389.2,262.9L1389.3,262.8L1389.4,262.8L1389.5,262.7L1389.5,262.6L1389.6,262.5L1389.7,262.4L1389.7,262.3L1389.7,262.2L1389.8,262.1L1389.8,262.0L1389.8,261.9L1389.7,260.1L1389.7,260.0L1389.7,259.8L1389.7,259.7L1389.6,259.6L1389.6,259.5L1389.5,259.4L1389.4,259.3L1389.3,259.2L1389.3,259.2L1389.2,259.1L1389.1,259.0L1386.6,257.8L1386.5,257.7L1386.3,257.7L1386.2,257.7L1386.1,257.7L1386.0,257.6L1385.9,257.7L1385.8,257.7L1385.7,257.7L1385.5,257.8L1385.4,257.8L1385.3,257.9L1385.2,257.9L1384.3,258.8L1384.2,258.8L1384.1,258.9L1384.1,259.0L1384.0,259.1L1384.0,259.2L1383.9,259.3L1383.9,259.4ZM1377.1,263.6L1377.2,263.7L1377.3,263.7L1377.5,263.7L1377.6,263.8L1377.7,263.8L1377.8,263.7L1377.9,263.7L1378.1,263.7L1378.2,263.6L1378.3,263.6L1378.4,263.5L1378.5,263.4L1381.5,260.5L1381.6,260.5L1381.6,260.4L1381.7,260.3L1381.8,260.2L1381.8,260.0L1381.8,259.9L1381.8,259.8L1381.9,259.7L1381.9,259.6L1381.8,259.5L1381.8,259.3L1381.8,259.2L1381.7,259.1L1381.7,259.0L1381.6,258.9L1381.5,258.8L1381.4,258.8L1381.3,258.7L1381.2,258.6L1381.1,258.6L1381.0,258.5L1379.5,258.0L1379.4,258.0L1379.2,258.0L1379.1,258.0L1379.0,258.0L1378.9,258.0L1378.8,258.0L1376.4,258.6L1376.3,258.7L1376.2,258.7L1376.1,258.8L1376.0,258.8L1375.9,258.9L1375.8,259.0L1375.7,259.1L1375.7,259.2L1375.6,259.3L1375.6,259.4L1375.5,259.5L1375.5,259.6L1375.5,259.7L1375.5,259.8L1375.5,259.9L1375.5,260.1L1375.6,260.2L1376.5,262.9L1376.5,263.1L1376.6,263.2L1376.7,263.3L1376.7,263.4L1376.8,263.4L1376.9,263.5L1377.0,263.6ZM1373.0,258.8L1372.9,258.7L1372.8,258.7L1372.6,258.7L1372.5,258.6L1372.4,258.6L1371.6,258.7L1371.8,266.1L1372.4,266.5L1372.5,266.6L1372.6,266.6L1372.7,266.7L1372.8,266.7L1372.9,266.7L1373.0,266.7L1373.2,266.7L1373.3,266.7L1373.4,266.7L1373.5,266.7L1373.6,266.6L1373.7,266.6L1373.8,266.5L1374.8,265.7L1374.9,265.6L1375.0,265.6L1375.1,265.5L1375.1,265.4L1375.2,265.3L1375.2,265.2L1375.3,265.1L1375.3,264.9L1375.3,264.8L1375.3,264.7L1375.3,264.6L1375.3,264.5L1375.2,264.4L1373.6,259.4L1373.5,259.3L1373.5,259.2L1373.4,259.1L1373.3,259.0L1373.3,259.0L1373.2,258.9L1373.1,258.8ZM1382.9,262.2L1382.8,262.2L1382.7,262.2L1382.6,262.2L1382.4,262.2L1382.3,262.2L1382.2,262.3L1382.1,262.3L1382.0,262.4L1381.9,262.4L1381.8,262.5L1379.8,264.4L1379.7,264.5L1379.7,264.6L1379.6,264.7L1379.5,264.8L1379.5,264.9L1379.5,265.0L1379.4,265.2L1379.4,265.3L1379.4,265.4L1379.5,265.5L1379.5,265.6L1379.5,265.8L1379.6,265.9L1379.6,266.0L1379.7,266.1L1379.8,266.2L1379.9,266.2L1380.0,266.3L1382.6,268.0L1382.7,268.0L1382.8,268.1L1382.9,268.1L1383.0,268.1L1383.1,268.2L1383.2,268.2L1383.4,268.2L1383.5,268.1L1383.6,268.1L1383.7,268.1L1383.8,268.0L1383.9,268.0L1384.0,267.9L1384.1,267.8L1384.2,267.7L1384.2,267.6L1384.3,267.5L1385.1,266.1L1385.1,266.0L1385.2,265.9L1385.2,265.8L1385.2,265.7L1385.2,265.5L1385.2,265.4L1385.2,265.3L1385.2,265.2L1385.1,265.1L1385.1,265.0L1385.0,264.9L1383.7,262.7L1383.6,262.6L1383.5,262.5L1383.4,262.5L1383.3,262.4L1383.2,262.3L1383.1,262.3L1383.0,262.2ZM1389.5,273.6L1389.6,273.6L1389.8,273.6L1389.9,273.5L1390.0,273.5L1390.1,273.4L1390.2,273.3L1390.2,273.2L1394.0,269.1L1394.1,269.0L1394.1,268.9L1394.2,268.9L1394.3,268.8L1394.4,268.7L1394.4,268.6L1394.5,268.5L1394.5,268.4L1394.5,268.2L1394.6,268.1L1394.6,268.0L1394.6,267.9L1394.5,267.8L1394.5,267.7L1394.5,267.5L1394.4,267.4L1394.4,267.3L1394.3,267.2L1394.2,267.2L1394.1,267.1L1391.1,264.6L1391.0,264.6L1390.9,264.5L1390.8,264.5L1390.7,264.4L1390.6,264.4L1390.5,264.4L1390.4,264.4L1390.3,264.4L1390.1,264.4L1390.0,264.4L1389.9,264.4L1389.8,264.5L1389.7,264.6L1387.5,266.0L1387.4,266.0L1387.3,266.1L1387.2,266.2L1387.1,266.3L1387.1,266.4L1385.3,269.6L1385.3,269.7L1385.2,269.8L1385.2,269.9L1385.2,270.1L1385.2,270.2L1385.2,270.3L1385.2,270.4L1385.2,270.5L1385.2,270.6L1385.3,270.8L1385.4,270.9L1385.4,271.0L1385.5,271.1L1385.6,271.2L1385.6,271.3L1385.7,271.3L1388.7,273.4L1388.7,273.5L1388.9,273.5L1389.0,273.6L1389.1,273.6L1389.2,273.6L1389.3,273.6L1389.4,273.6ZM1376.6,266.9L1376.5,266.9L1376.4,266.9L1376.3,267.0L1376.2,267.1L1374.2,268.6L1374.1,268.6L1374.0,268.7L1374.0,268.8L1373.9,268.9L1373.8,269.0L1373.8,269.1L1373.1,271.0L1373.1,271.2L1373.0,271.3L1373.0,271.4L1373.0,271.5L1373.0,271.7L1373.1,271.8L1373.1,271.9L1373.2,272.0L1375.0,275.6L1375.1,275.7L1375.1,275.8L1375.2,275.9L1375.3,276.0L1375.4,276.1L1375.5,276.2L1375.6,276.2L1375.7,276.2L1375.8,276.3L1376.0,276.3L1376.1,276.3L1376.2,276.3L1376.3,276.3L1376.4,276.2L1376.5,276.2L1376.7,276.1L1376.8,276.1L1382.4,272.1L1382.5,272.0L1382.6,272.0L1382.7,271.9L1382.8,271.8L1382.8,271.7L1382.9,271.6L1382.9,271.5L1382.9,271.3L1382.9,271.2L1382.9,271.1L1382.9,271.0L1382.9,270.9L1382.9,270.8L1382.8,270.7L1382.8,270.5L1382.7,270.4L1382.7,270.4L1382.6,270.3L1382.5,270.2L1382.4,270.1L1377.6,267.0L1377.5,266.9L1377.4,266.9L1377.2,266.9L1377.1,266.8L1377.0,266.8L1376.9,266.8L1376.8,266.8ZM1391.9,274.7L1391.9,274.9L1392.0,275.0L1392.0,275.1L1392.0,275.2L1392.1,275.3L1392.2,275.4L1392.3,275.5L1392.3,275.6L1392.4,275.6L1397.5,279.2L1397.6,279.2L1397.7,279.3L1397.8,279.3L1398.0,279.4L1398.1,279.4L1398.2,279.4L1398.3,279.4L1400.5,279.1L1400.6,279.1L1400.7,279.1L1400.8,279.0L1400.9,279.0L1401.0,278.9L1401.1,278.8L1401.2,278.8L1401.3,278.7L1401.4,278.6L1401.4,278.5L1401.5,278.4L1401.5,278.2L1402.4,274.7L1402.4,274.6L1402.4,274.5L1402.4,274.4L1402.4,274.2L1402.4,274.1L1402.4,274.0L1402.3,273.9L1402.3,273.8L1402.2,273.7L1402.1,273.6L1402.1,273.5L1402.0,273.4L1401.9,273.4L1401.8,273.3L1401.7,273.3L1395.7,271.1L1395.6,271.0L1395.5,271.0L1395.4,271.0L1395.3,271.0L1395.2,271.0L1395.0,271.0L1394.9,271.1L1394.8,271.1L1394.7,271.2L1394.6,271.2L1394.5,271.3L1394.4,271.4L1392.2,273.9L1392.2,273.9L1392.1,274.0L1392.0,274.2L1392.0,274.3L1392.0,274.4L1391.9,274.5L1391.9,274.6ZM1376.2,281.5L1376.3,281.5L1376.4,281.6L1376.5,281.7L1376.6,281.8L1376.7,281.8L1376.8,281.9L1376.9,281.9L1377.0,281.9L1377.1,281.9L1377.2,281.9L1377.3,281.9L1377.4,281.9L1377.6,281.9L1377.7,281.8L1386.9,277.5L1387.0,277.4L1387.1,277.4L1387.2,277.3L1387.3,277.2L1387.4,277.1L1387.5,277.0L1387.5,276.9L1387.8,276.3L1387.8,276.2L1387.9,276.1L1387.9,276.0L1387.9,275.9L1387.9,275.7L1387.9,275.6L1387.9,275.5L1387.8,275.4L1387.8,275.3L1387.7,275.2L1387.6,275.1L1387.6,275.0L1387.5,274.9L1387.4,274.8L1385.3,273.4L1385.2,273.3L1385.1,273.3L1385.0,273.2L1384.9,273.2L1384.8,273.2L1384.7,273.2L1384.6,273.2L1384.5,273.2L1384.4,273.2L1384.3,273.2L1384.2,273.3L1384.0,273.3L1384.0,273.4L1376.6,278.5L1376.5,278.6L1376.4,278.7L1376.4,278.7L1376.3,278.8L1376.2,278.9L1376.2,279.0L1376.1,279.1L1376.1,279.2L1376.1,279.4L1376.0,280.6L1376.0,280.7L1376.0,280.8L1376.0,280.9L1376.0,281.1L1376.0,281.2L1376.1,281.3L1376.1,281.4ZM1373.3,276.6L1374.0,280.7L1374.2,278.8L1374.3,278.7L1374.3,278.6L1374.2,278.5L1374.2,278.4L1374.2,278.2L1374.1,278.1ZM1390.2,276.8L1390.1,276.9L1390.0,276.9L1389.9,276.9L1389.8,277.0L1389.7,277.1L1389.6,277.1L1389.5,277.2L1389.4,277.3L1389.4,277.4L1389.3,277.5L1389.1,278.0L1389.1,278.1L1389.0,278.2L1389.0,278.3L1389.0,278.5L1389.0,285.4L1389.0,285.5L1389.0,285.6L1389.0,285.8L1389.1,285.9L1389.1,286.0L1389.2,286.1L1389.2,286.2L1389.3,286.2L1389.4,286.3L1389.5,286.4L1389.6,286.5L1389.7,286.5L1389.8,286.6L1389.9,286.6L1391.9,287.1L1392.0,287.1L1392.2,287.1L1392.3,287.1L1392.4,287.1L1392.5,287.1L1392.6,287.1L1392.8,287.0L1392.9,287.0L1393.0,286.9L1393.1,286.8L1393.1,286.7L1393.2,286.6L1393.3,286.5L1395.9,281.7L1395.9,281.6L1396.0,281.5L1396.0,281.3L1396.0,281.2L1396.0,281.1L1396.0,281.0L1396.0,280.9L1396.0,280.8L1395.9,280.7L1395.9,280.5L1395.8,280.4L1395.8,280.4L1395.7,280.3L1395.6,280.2L1395.5,280.1L1391.1,277.0L1391.0,277.0L1390.9,276.9L1390.8,276.9L1390.7,276.8L1390.6,276.8L1390.4,276.8L1390.3,276.8ZM1377.2,284.6L1377.1,284.8L1377.1,284.9L1377.1,285.0L1377.1,285.1L1377.2,285.2L1377.2,285.3L1377.2,285.5L1377.3,285.6L1377.4,285.7L1377.5,285.7L1377.5,285.8L1377.6,285.9L1381.4,288.5L1381.5,288.6L1381.6,288.7L1381.7,288.7L1381.8,288.7L1381.9,288.8L1382.0,288.8L1382.1,288.8L1382.2,288.7L1382.3,288.7L1382.5,288.7L1382.6,288.6L1386.4,286.8L1386.5,286.8L1386.6,286.7L1386.7,286.6L1386.8,286.5L1386.8,286.4L1386.9,286.3L1387.0,286.2L1387.0,286.1L1387.0,286.0L1387.1,285.9L1387.1,285.7L1387.1,281.4L1387.1,281.3L1387.1,281.2L1387.0,281.0L1387.0,280.9L1386.9,280.8L1386.9,280.7L1386.8,280.6L1386.7,280.5L1386.6,280.5L1386.5,280.4L1386.4,280.3L1386.3,280.3L1386.2,280.2L1386.1,280.2L1386.0,280.2L1385.8,280.2L1385.7,280.2L1385.6,280.2L1385.5,280.3L1385.4,280.3L1377.8,283.8L1377.7,283.9L1377.6,284.0L1377.5,284.0L1377.4,284.1L1377.4,284.2L1377.3,284.3L1377.2,284.4L1377.2,284.5ZM1392.3,289.1L1388.5,288.2L1388.4,288.2L1388.3,288.2L1388.2,288.2L1388.1,288.2L1387.9,288.2L1387.8,288.2L1387.7,288.3L1383.7,290.2L1383.6,290.3L1383.5,290.3L1383.4,290.4L1383.3,290.5L1383.2,290.6L1383.2,290.7L1383.1,290.8L1383.1,290.9L1383.0,291.0L1383.0,291.1L1383.0,291.2L1383.0,291.4L1383.0,291.5L1383.1,292.6L1383.2,292.7L1383.2,292.8L1383.2,292.9L1383.3,293.0L1383.3,293.1L1383.4,293.2L1383.5,293.3L1383.6,293.3L1383.7,293.4L1384.0,293.6L1389.6,291.2L1389.8,291.1L1393.3,290.2L1393.0,289.7L1392.9,289.6L1392.8,289.5L1392.8,289.4L1392.7,289.3L1392.6,289.3L1392.5,289.2L1392.4,289.2ZM1381.3,293.1L1381.0,291.1L1381.0,291.0L1381.0,290.9L1380.9,290.7L1380.9,290.6L1380.8,290.5L1380.7,290.4L1380.6,290.4L1380.5,290.3L1376.5,287.4L1376.4,287.4L1376.3,287.3L1376.2,287.3L1376.1,287.3L1376.0,287.2L1375.9,287.2L1375.7,287.2L1375.6,287.2L1375.5,287.3L1375.4,287.3L1375.3,287.3L1375.2,287.4L1375.2,287.4L1376.7,296.7L1380.3,295.2L1381.1,293.8L1381.2,293.7L1381.2,293.6L1381.3,293.5L1381.3,293.4L1381.3,293.3L1381.3,293.2ZM1402.5,234.1L1402.6,234.2L1402.7,234.2L1402.8,234.3L1402.9,234.3L1403.0,234.4L1405.2,234.9L1405.3,234.9L1405.4,234.9L1405.5,234.9L1405.6,234.9L1405.7,234.9L1405.8,234.9L1405.9,234.8L1406.5,234.6L1402.1,232.8L1402.1,233.3L1402.1,233.4L1402.2,233.5L1402.2,233.6L1402.2,233.7L1402.3,233.8L1402.4,233.9L1402.4,234.0ZM1411.5,237.0L1411.6,237.1L1411.7,237.1L1411.8,237.1L1413.6,237.4L1410.9,236.3L1410.9,236.5L1411.0,236.6L1411.1,236.7L1411.1,236.8L1411.2,236.8L1411.3,236.9L1411.4,237.0ZM1400.4,240.2L1400.5,240.3L1400.6,240.4L1400.7,240.4L1400.8,240.5L1400.9,240.6L1401.0,240.6L1401.1,240.6L1401.2,240.6L1402.7,240.8L1402.8,240.8L1402.9,240.8L1403.1,240.8L1403.2,240.8L1403.3,240.7L1403.4,240.7L1403.5,240.6L1403.6,240.6L1403.7,240.5L1403.8,240.4L1403.8,240.3L1403.9,240.2L1404.0,240.1L1404.0,240.0L1404.0,239.9L1404.6,237.4L1404.6,237.3L1404.6,237.2L1404.6,237.0L1404.6,236.9L1404.5,236.8L1404.5,236.7L1404.5,236.6L1404.4,236.5L1404.3,236.4L1404.3,236.3L1404.2,236.2L1404.1,236.2L1404.0,236.1L1403.9,236.1L1403.8,236.0L1403.7,236.0L1402.2,235.6L1402.1,235.6L1402.0,235.6L1401.9,235.6L1401.7,235.6L1401.6,235.6L1401.5,235.6L1401.4,235.7L1401.3,235.7L1401.2,235.8L1401.0,236.0L1400.9,236.0L1400.8,236.1L1400.7,236.2L1400.6,236.3L1400.6,236.4L1400.5,236.5L1400.5,236.6L1400.5,236.7L1400.5,236.8L1400.2,239.3L1400.2,239.4L1400.2,239.6L1400.2,239.7L1400.2,239.8L1400.2,239.9L1400.3,240.0L1400.3,240.1ZM1405.5,241.2L1405.6,241.3L1405.6,241.4L1405.7,241.5L1405.8,241.6L1405.9,241.6L1406.0,241.7L1406.1,241.7L1406.2,241.8L1406.4,241.8L1406.5,241.8L1406.6,241.8L1406.7,241.8L1406.8,241.8L1406.9,241.7L1407.0,241.7L1409.1,240.8L1409.2,240.7L1409.3,240.6L1409.4,240.6L1409.4,240.5L1409.5,240.4L1409.6,240.3L1409.6,240.2L1409.7,240.1L1409.7,239.9L1409.7,239.8L1410.0,238.1L1410.0,238.0L1410.0,237.9L1410.0,237.8L1409.9,237.7L1409.9,237.6L1409.9,237.5L1409.3,236.2L1409.2,236.1L1409.1,236.0L1409.1,235.9L1409.0,235.8L1408.9,235.7L1408.8,235.7L1408.7,235.6L1408.6,235.6L1408.5,235.5L1408.4,235.5L1408.2,235.5L1408.1,235.5L1408.0,235.5L1407.9,235.5L1407.8,235.5L1407.7,235.6L1406.8,236.0L1406.7,236.0L1406.6,236.1L1406.5,236.2L1406.4,236.2L1406.3,236.3L1406.3,236.4L1406.2,236.5L1406.2,236.6L1406.1,236.7L1406.1,236.8L1405.4,240.4L1405.3,240.5L1405.3,240.6L1405.3,240.7L1405.3,240.8L1405.4,240.9L1405.4,241.0L1405.5,241.1ZM1419.6,240.2L1419.7,240.3L1419.9,240.3L1422.1,240.9L1422.3,240.9L1422.4,240.9L1422.5,240.9L1422.6,240.9L1422.7,240.9L1422.8,240.9L1422.9,240.8L1423.1,240.8L1423.1,240.7L1423.2,240.6L1423.3,240.6L1423.4,240.5L1423.5,240.4L1423.5,240.3L1423.6,240.2L1423.6,240.1L1419.9,239.9L1419.8,239.9L1419.8,239.9L1419.7,239.8L1419.0,239.6L1419.1,239.6L1419.1,239.7L1419.2,239.8L1419.3,239.9L1419.3,240.0L1419.4,240.1L1419.5,240.2ZM1417.2,240.3L1417.2,240.1L1417.1,240.0L1417.1,239.9L1417.0,239.8L1417.0,239.7L1416.9,239.6L1416.8,239.5L1416.7,239.4L1416.6,239.4L1416.5,239.3L1416.4,239.3L1416.3,239.2L1416.2,239.2L1412.5,238.7L1412.4,238.6L1412.3,238.6L1412.2,238.7L1412.1,238.7L1412.0,238.7L1411.8,238.8L1411.7,238.8L1411.6,238.9L1411.5,239.0L1411.5,239.0L1411.4,239.1L1411.3,239.2L1411.3,239.3L1411.2,239.5L1411.2,239.6L1411.2,239.7L1411.1,240.1L1411.1,240.2L1411.1,240.3L1411.1,240.4L1411.1,240.5L1411.2,240.6L1411.2,240.7L1411.3,240.8L1411.3,240.9L1411.4,241.0L1411.5,241.1L1413.7,243.1L1413.8,243.2L1413.9,243.3L1414.0,243.3L1414.1,243.4L1414.2,243.4L1414.3,243.4L1414.4,243.5L1414.5,243.5L1414.6,243.5L1414.8,243.4L1414.9,243.4L1415.0,243.4L1415.1,243.3L1415.2,243.3L1415.3,243.2L1415.4,243.1L1415.4,243.0L1416.9,241.1L1417.0,241.1L1417.1,240.9L1417.1,240.8L1417.2,240.7L1417.2,240.6L1417.2,240.5L1417.2,240.4ZM1429.4,241.0L1429.2,241.0L1429.1,241.0L1429.0,241.0L1428.9,241.0L1428.1,241.2L1428.0,241.3L1427.9,241.3L1427.8,241.4L1427.7,241.5L1427.6,241.5L1427.5,241.6L1427.4,241.7L1427.4,241.8L1427.3,241.9L1427.3,242.0L1427.3,242.2L1427.2,242.3L1427.2,242.4L1427.2,242.5L1427.3,242.6L1427.3,242.7L1427.3,242.9L1427.4,243.0L1427.4,243.1L1427.5,243.2L1427.6,243.2L1429.1,244.7L1429.2,244.8L1429.3,244.9L1429.4,245.0L1429.5,245.0L1429.6,245.0L1429.7,245.1L1429.8,245.1L1429.9,245.1L1430.0,245.1L1430.2,245.1L1430.3,245.0L1430.4,245.0L1430.5,245.0L1430.6,244.9L1430.7,244.8L1431.1,244.5L1431.2,244.4L1431.3,244.3L1431.3,244.2L1431.4,244.1L1431.4,244.0L1431.5,243.9L1431.5,243.8L1431.5,243.7L1431.5,243.6L1431.5,243.5L1431.5,243.4L1431.5,243.2L1431.5,243.1L1431.4,243.0L1431.3,242.9L1431.3,242.8L1430.2,241.4L1430.1,241.3L1430.0,241.2L1429.9,241.2L1429.8,241.1L1429.7,241.1L1429.6,241.0L1429.5,241.0ZM1400.9,246.9L1401.0,246.8L1401.1,246.8L1401.2,246.7L1401.3,246.6L1401.4,246.6L1401.4,246.5L1401.5,246.4L1401.6,246.3L1401.6,246.2L1401.7,246.1L1402.4,243.6L1402.4,243.5L1402.4,243.4L1402.4,243.3L1402.4,243.1L1402.4,243.0L1402.4,242.9L1402.3,242.8L1402.3,242.7L1402.2,242.6L1402.1,242.5L1402.1,242.4L1402.0,242.3L1401.9,242.3L1401.8,242.2L1401.7,242.2L1401.6,242.1L1401.5,242.1L1401.4,242.1L1399.9,241.9L1399.8,241.9L1399.7,241.9L1399.6,241.9L1399.5,241.9L1399.4,242.0L1399.3,242.0L1399.2,242.1L1399.1,242.1L1398.3,242.7L1398.2,242.7L1398.1,242.8L1398.0,242.9L1398.0,243.0L1397.9,243.1L1397.9,243.2L1397.8,243.3L1397.8,243.4L1397.8,243.5L1397.8,243.7L1397.8,245.1L1397.8,245.2L1397.9,245.3L1397.9,245.4L1397.9,245.5L1398.0,245.6L1398.1,245.7L1398.1,245.8L1398.2,245.9L1398.3,246.0L1398.4,246.1L1398.5,246.1L1400.0,246.8L1400.1,246.9L1400.2,246.9L1400.3,246.9L1400.4,246.9L1400.5,246.9L1400.7,246.9L1400.8,246.9ZM1409.1,246.9L1409.2,247.0L1409.3,247.1L1409.4,247.1L1409.5,247.2L1409.6,247.2L1409.7,247.2L1409.8,247.2L1410.8,247.3L1410.9,247.3L1411.1,247.3L1411.2,247.3L1411.3,247.3L1411.4,247.2L1411.5,247.2L1411.6,247.1L1411.7,247.0L1412.8,246.0L1412.9,245.9L1413.0,245.9L1413.0,245.8L1413.1,245.7L1413.1,245.5L1413.2,245.4L1413.2,245.3L1413.2,245.2L1413.2,245.1L1413.2,245.0L1413.2,244.9L1413.1,244.7L1413.1,244.6L1413.0,244.5L1413.0,244.4L1412.9,244.3L1412.8,244.3L1410.8,242.3L1410.7,242.3L1410.6,242.2L1410.5,242.1L1410.4,242.1L1410.2,242.1L1410.1,242.0L1410.0,242.0L1409.9,242.0L1409.8,242.0L1409.7,242.1L1409.5,242.1L1409.4,242.1L1408.0,242.8L1407.9,242.9L1407.8,242.9L1407.7,243.0L1407.6,243.1L1407.5,243.2L1407.4,243.3L1407.4,243.4L1407.3,243.5L1407.3,243.6L1407.3,243.7L1407.3,243.9L1407.3,244.0L1407.3,244.1L1407.4,244.7L1407.4,244.8L1407.4,244.9L1407.5,245.0L1407.5,245.1L1407.6,245.2L1407.6,245.3L1409.0,246.8ZM1416.0,245.1L1416.0,245.2L1416.0,245.3L1416.1,245.4L1416.1,245.5L1416.2,245.6L1416.2,245.7L1416.3,245.8L1416.4,245.9L1418.3,247.5L1418.3,247.6L1418.4,247.7L1418.5,247.7L1418.7,247.8L1418.8,247.8L1418.9,247.8L1419.0,247.8L1419.1,247.8L1419.2,247.8L1419.3,247.8L1419.4,247.8L1419.5,247.7L1419.6,247.7L1419.7,247.6L1419.8,247.5L1419.9,247.5L1420.0,247.4L1422.0,244.9L1422.0,244.8L1422.1,244.7L1422.1,244.6L1422.2,244.4L1422.2,244.3L1422.2,244.2L1422.3,243.4L1422.3,243.3L1422.3,243.1L1422.2,243.0L1422.2,242.9L1422.2,242.8L1422.1,242.7L1422.0,242.6L1422.0,242.5L1421.9,242.4L1421.8,242.4L1421.7,242.3L1421.6,242.2L1421.5,242.2L1421.4,242.1L1419.3,241.6L1419.2,241.6L1419.0,241.6L1418.9,241.6L1418.8,241.6L1418.7,241.6L1418.6,241.6L1418.5,241.7L1418.4,241.7L1418.3,241.8L1418.2,241.9L1418.1,241.9L1418.0,242.0L1416.3,244.2L1416.2,244.3L1416.1,244.4L1416.1,244.5L1416.0,244.6L1416.0,244.7L1416.0,244.9L1416.0,245.0ZM1423.9,245.0L1426.3,247.6L1426.4,247.7L1426.5,247.8L1426.6,247.8L1426.7,247.9L1426.8,247.9L1426.9,248.0L1427.0,248.0L1427.3,248.0L1427.4,248.1L1427.5,248.1L1427.6,248.1L1427.8,248.0L1427.9,248.0L1428.0,248.0L1428.1,247.9L1428.2,247.9L1428.3,247.8L1428.4,247.7L1428.5,247.6L1428.5,247.5L1428.6,247.4L1428.6,247.3L1428.7,247.2L1428.7,247.1L1428.7,247.0L1428.7,246.9L1428.7,246.7L1428.7,246.6L1428.7,246.5L1428.6,246.4L1428.6,246.3L1428.5,246.2L1428.5,246.1L1428.4,246.0L1425.7,243.3L1425.6,243.2L1425.5,243.2L1425.4,243.1L1425.3,243.0L1425.2,243.0L1425.1,243.0L1424.9,243.0L1424.8,243.0L1424.7,243.0L1424.6,243.0L1424.5,243.0L1424.4,243.1L1424.2,243.1L1424.1,243.2L1424.0,243.2L1424.0,243.3L1423.9,243.4L1423.8,243.5L1423.8,243.6L1423.7,243.7L1423.7,243.8L1423.6,244.0L1423.6,244.1L1423.6,244.1L1423.6,244.2L1423.6,244.3L1423.7,244.4L1423.7,244.6L1423.7,244.7L1423.8,244.8L1423.9,244.9ZM1421.5,248.3L1421.5,248.4L1421.5,248.6L1421.6,248.7L1421.6,248.8L1421.7,248.9L1421.8,249.0L1421.9,249.1L1421.9,249.1L1422.0,249.2L1422.2,249.3L1422.3,249.3L1422.4,249.3L1422.5,249.4L1422.6,249.4L1422.7,249.4L1422.9,249.4L1423.0,249.3L1423.1,249.3L1423.2,249.3L1423.7,249.0L1423.8,249.0L1423.9,248.9L1424.0,248.8L1424.0,248.7L1424.1,248.7L1424.2,248.6L1424.2,248.5L1424.3,248.3L1424.3,248.2L1424.3,248.1L1424.3,248.0L1424.3,247.9L1424.3,247.8L1424.3,247.7L1424.3,247.5L1424.2,247.4L1424.2,247.3L1424.1,247.2L1424.0,247.1L1423.9,247.0L1423.8,246.9L1423.7,246.8L1423.6,246.8L1423.5,246.7L1423.4,246.7L1423.3,246.6L1423.2,246.6L1423.1,246.6L1422.9,246.6L1422.8,246.6L1422.7,246.6L1422.6,246.6L1422.5,246.7L1422.4,246.7L1422.3,246.8L1422.2,246.9L1422.1,246.9L1422.0,247.0L1421.7,247.4L1421.7,247.5L1421.6,247.6L1421.5,247.7L1421.5,247.9L1421.5,248.0L1421.5,248.1L1421.5,248.2ZM1402.8,248.7L1402.8,248.9L1402.8,249.0L1402.8,249.1L1402.8,249.2L1402.8,249.3L1402.8,249.4L1402.9,249.6L1403.3,250.5L1403.4,250.6L1403.4,250.7L1403.5,250.8L1403.6,250.9L1403.7,251.0L1403.8,251.1L1403.9,251.1L1404.0,251.2L1404.1,251.2L1404.2,251.2L1404.3,251.3L1404.4,251.3L1404.6,251.2L1404.7,251.2L1404.8,251.2L1404.9,251.1L1405.0,251.1L1405.1,251.0L1405.2,251.0L1405.3,250.9L1407.3,248.7L1407.4,248.6L1407.5,248.5L1407.5,248.4L1407.6,248.3L1407.6,248.1L1407.6,248.0L1407.6,247.9L1407.6,247.8L1407.6,247.7L1407.6,247.6L1407.6,247.5L1407.5,247.4L1407.5,247.3L1407.4,247.2L1407.4,247.1L1407.3,246.9L1407.2,246.9L1407.1,246.8L1407.0,246.7L1406.9,246.7L1406.8,246.6L1406.7,246.6L1406.6,246.5L1406.4,246.5L1406.3,246.5L1406.2,246.5L1406.1,246.6L1406.0,246.6L1405.9,246.6L1405.8,246.7L1403.4,248.0L1403.3,248.1L1403.2,248.2L1403.1,248.2L1403.0,248.3L1403.0,248.4L1402.9,248.5L1402.9,248.6ZM1412.5,248.6L1412.5,248.7L1412.6,248.8L1412.6,248.9L1412.6,249.1L1412.7,249.2L1413.6,251.3L1413.7,251.4L1413.7,251.5L1413.8,251.6L1413.9,251.7L1414.0,251.7L1414.1,251.8L1414.2,251.9L1414.3,251.9L1414.4,251.9L1414.5,252.0L1414.6,252.0L1414.7,252.0L1414.8,252.0L1415.0,252.0L1415.1,251.9L1415.2,251.9L1415.3,251.8L1415.4,251.8L1415.5,251.7L1415.6,251.6L1417.1,250.1L1417.2,250.0L1417.2,249.9L1417.3,249.8L1417.4,249.7L1417.4,249.6L1417.4,249.5L1417.4,249.3L1417.4,249.2L1417.4,249.1L1417.4,249.0L1417.4,248.9L1417.4,248.8L1417.3,248.7L1417.3,248.6L1417.2,248.5L1417.1,248.4L1417.0,248.3L1415.5,246.9L1415.4,246.9L1415.3,246.8L1415.2,246.7L1415.1,246.7L1415.0,246.7L1414.8,246.6L1414.7,246.6L1414.6,246.6L1414.5,246.7L1414.4,246.7L1414.3,246.7L1414.2,246.8L1414.1,246.8L1414.0,246.9L1413.9,246.9L1412.9,247.8L1412.9,247.9L1412.8,247.9L1412.7,248.0L1412.7,248.1L1412.6,248.3L1412.6,248.4L1412.6,248.5ZM1398.0,247.4L1397.9,247.4L1397.8,247.4L1397.7,247.4L1397.5,247.4L1397.4,247.4L1397.3,247.4L1397.2,247.4L1397.1,247.5L1397.0,247.5L1396.9,247.6L1396.8,247.7L1396.7,247.7L1395.6,248.9L1395.5,249.0L1395.5,249.1L1395.4,249.2L1395.4,249.3L1395.3,249.5L1395.3,249.6L1395.3,249.7L1395.3,249.8L1395.3,249.9L1395.3,250.0L1395.3,250.2L1395.6,250.9L1395.6,251.0L1395.7,251.1L1395.8,251.2L1395.8,251.3L1395.9,251.4L1396.0,251.5L1396.1,251.5L1396.2,251.6L1396.3,251.6L1396.5,251.7L1400.6,252.7L1400.7,252.7L1400.8,252.7L1401.0,252.7L1401.1,252.7L1401.2,252.7L1401.3,252.6L1401.4,252.6L1401.5,252.5L1401.6,252.5L1401.7,252.4L1401.8,252.3L1401.9,252.2L1401.9,252.1L1402.0,252.0L1402.0,251.9L1402.1,251.8L1402.1,251.7L1402.1,251.6L1402.1,251.5L1402.1,251.4L1402.1,251.3L1402.0,251.1L1402.0,251.0L1401.2,249.3L1401.2,249.2L1401.1,249.1L1401.0,249.0L1400.9,248.9L1400.8,248.8L1400.7,248.7L1400.6,248.7L1398.1,247.5ZM1424.2,250.8L1424.2,250.9L1424.2,251.0L1424.2,251.2L1424.2,251.3L1424.3,251.4L1424.3,251.5L1424.4,251.6L1424.4,251.7L1424.5,251.8L1424.6,251.9L1424.7,252.0L1425.2,252.4L1425.3,252.5L1425.4,252.5L1425.5,252.6L1425.6,252.6L1425.7,252.6L1425.8,252.7L1425.9,252.7L1426.1,252.7L1426.2,252.6L1426.3,252.6L1426.4,252.6L1426.5,252.5L1426.6,252.4L1426.7,252.4L1427.7,251.5L1427.8,251.4L1427.9,251.4L1427.9,251.3L1428.0,251.2L1428.0,251.0L1428.1,250.9L1428.1,250.8L1428.1,250.7L1428.1,250.6L1428.1,250.5L1428.1,250.4L1428.1,250.2L1428.0,250.1L1428.0,250.0L1427.9,249.9L1427.8,249.8L1427.7,249.8L1427.7,249.7L1427.6,249.6L1427.5,249.5L1427.4,249.5L1427.2,249.5L1427.1,249.4L1426.7,249.4L1426.6,249.3L1426.5,249.3L1426.4,249.3L1426.3,249.4L1426.2,249.4L1426.1,249.4L1426.0,249.5L1424.9,250.0L1424.8,250.0L1424.7,250.1L1424.6,250.2L1424.5,250.3L1424.4,250.4L1424.4,250.5L1424.3,250.6L1424.3,250.7ZM1422.2,252.3L1422.1,252.3L1422.0,252.3L1421.9,252.4L1421.8,252.4L1421.7,252.5L1421.6,252.5L1421.5,252.6L1421.4,252.7L1421.3,252.8L1421.3,252.9L1421.2,253.0L1421.2,253.1L1421.2,253.2L1421.1,253.3L1421.1,253.4L1421.1,253.5L1421.1,253.6L1421.2,253.7L1421.2,253.8L1421.2,253.9L1421.3,254.0L1421.3,254.1L1421.4,254.2L1421.5,254.3L1421.6,254.4L1421.7,254.5L1421.8,254.5L1421.9,254.6L1422.0,254.6L1422.1,254.7L1422.1,254.7L1422.2,254.7L1422.4,254.7L1422.5,254.7L1422.6,254.7L1422.7,254.6L1422.8,254.6L1422.9,254.6L1423.0,254.5L1423.1,254.4L1423.2,254.4L1423.3,254.3L1423.4,254.2L1423.4,254.1L1423.5,254.0L1423.5,253.8L1423.6,253.7L1423.6,253.6L1423.6,253.5L1423.6,253.4L1423.6,253.3L1423.5,253.1L1423.5,253.0L1423.4,252.9L1423.4,252.8L1423.3,252.7L1423.2,252.6L1423.1,252.6L1423.1,252.5L1423.0,252.5L1422.9,252.4L1422.8,252.3L1422.7,252.3L1422.6,252.3L1422.5,252.3L1422.3,252.3ZM1415.6,254.1L1415.6,254.2L1415.6,254.3L1415.6,254.4L1415.6,254.6L1415.7,254.7L1415.8,254.8L1415.8,254.9L1415.9,254.9L1416.0,255.0L1416.1,255.1L1417.0,255.8L1417.1,255.8L1417.2,255.9L1417.4,255.9L1417.5,255.9L1417.6,256.0L1417.7,256.0L1417.8,256.0L1417.9,256.0L1418.0,255.9L1418.2,255.9L1418.3,255.9L1418.4,255.8L1418.5,255.7L1418.5,255.7L1419.3,254.9L1419.4,254.9L1419.5,254.8L1419.5,254.7L1419.6,254.5L1419.6,254.4L1419.6,254.3L1419.7,254.2L1419.8,252.3L1419.8,252.2L1419.8,252.1L1419.8,252.0L1419.8,251.8L1419.8,251.7L1419.7,251.6L1419.6,251.5L1419.6,251.4L1419.5,251.3L1419.4,251.3L1419.3,251.2L1419.2,251.1L1419.1,251.1L1419.0,251.0L1418.9,251.0L1418.8,251.0L1418.6,251.0L1418.5,251.0L1418.4,251.0L1418.3,251.0L1418.2,251.1L1418.1,251.1L1418.0,251.2L1417.9,251.3L1417.8,251.4L1415.9,253.3L1415.8,253.4L1415.8,253.4L1415.7,253.5L1415.7,253.7L1415.6,253.8L1415.6,253.9L1415.6,254.0ZM1409.7,254.4L1409.8,254.5L1409.8,254.7L1409.9,254.8L1409.9,254.9L1410.0,254.9L1410.1,255.0L1410.2,255.1L1410.3,255.2L1410.4,255.2L1410.5,255.3L1410.6,255.3L1410.7,255.3L1410.9,255.3L1411.0,255.3L1411.1,255.3L1411.2,255.3L1411.3,255.2L1411.4,255.2L1412.4,254.7L1412.5,254.6L1412.6,254.5L1412.7,254.5L1412.7,254.4L1412.8,254.3L1412.9,254.2L1412.9,254.1L1413.0,253.9L1413.0,253.8L1413.0,253.7L1413.0,253.6L1413.0,253.5L1413.0,253.3L1412.9,253.2L1412.9,253.1L1412.6,252.5L1412.6,252.4L1412.5,252.3L1412.4,252.2L1412.3,252.1L1412.2,252.0L1412.1,251.9L1412.0,251.9L1411.9,251.8L1411.8,251.8L1411.7,251.8L1411.6,251.8L1411.5,251.8L1411.3,251.8L1411.2,251.8L1411.1,251.8L1411.0,251.9L1410.9,252.0L1410.8,252.0L1410.7,252.1L1410.6,252.2L1410.5,252.3L1410.5,252.4L1409.8,253.5L1409.8,253.6L1409.7,253.7L1409.7,253.8L1409.7,254.0L1409.7,254.1L1409.7,254.2L1409.7,254.3ZM1425.8,255.2L1425.8,255.3L1425.8,255.5L1425.8,255.6L1425.8,255.7L1425.8,255.8L1425.9,255.9L1426.4,257.6L1426.5,257.7L1426.5,257.8L1426.6,257.9L1426.7,258.0L1426.7,258.1L1426.8,258.2L1426.9,258.2L1427.0,258.3L1427.1,258.3L1427.2,258.4L1427.4,258.4L1427.5,258.4L1427.6,258.4L1427.7,258.4L1427.8,258.4L1427.9,258.3L1428.0,258.3L1428.2,258.3L1428.3,258.2L1428.3,258.1L1431.9,255.1L1432.0,255.0L1432.0,254.9L1432.1,254.8L1432.2,254.7L1432.2,254.6L1432.2,254.5L1432.3,254.4L1432.3,254.3L1432.3,254.2L1432.3,254.0L1432.3,253.9L1432.2,253.8L1432.2,253.7L1432.1,253.6L1432.1,253.5L1432.0,253.4L1431.9,253.3L1431.9,253.2L1431.8,253.2L1430.4,252.2L1430.3,252.2L1430.2,252.1L1430.0,252.1L1429.9,252.0L1429.8,252.0L1429.7,252.0L1429.6,252.0L1429.5,252.1L1429.3,252.1L1429.2,252.1L1429.1,252.2L1429.0,252.2L1428.9,252.3L1426.4,254.4L1426.4,254.5L1426.4,254.5L1426.3,254.6L1426.2,254.6L1426.1,254.7L1426.0,254.8L1426.0,254.9L1425.9,255.0L1425.9,255.1ZM1395.2,256.6L1395.3,256.7L1395.3,256.8L1395.4,256.9L1395.5,256.9L1395.6,257.0L1395.7,257.1L1397.2,257.8L1397.3,257.8L1397.4,257.9L1397.5,257.9L1397.6,257.9L1397.7,257.9L1397.8,257.9L1397.9,257.9L1399.6,257.6L1399.7,257.6L1399.8,257.5L1399.9,257.5L1400.0,257.4L1400.1,257.4L1400.2,257.3L1400.3,257.2L1400.4,257.1L1400.4,257.0L1400.5,256.9L1400.5,256.8L1400.6,256.7L1400.8,255.4L1400.9,255.3L1400.9,255.1L1400.9,255.0L1400.8,254.9L1400.8,254.8L1400.8,254.7L1400.7,254.6L1400.7,254.5L1400.6,254.4L1400.5,254.3L1400.5,254.2L1400.4,254.2L1400.3,254.1L1400.2,254.0L1400.1,254.0L1399.9,254.0L1396.9,253.2L1396.8,253.2L1396.7,253.2L1396.6,253.2L1396.5,253.2L1396.4,253.2L1396.3,253.3L1396.1,253.3L1396.0,253.4L1395.9,253.4L1395.9,253.5L1395.8,253.6L1395.7,253.7L1395.6,253.8L1395.6,253.9L1395.5,254.0L1395.5,254.1L1395.1,255.7L1395.1,255.8L1395.1,255.9L1395.1,256.0L1395.1,256.2L1395.1,256.3L1395.1,256.4L1395.2,256.5ZM1408.3,256.4L1408.3,256.3L1408.3,256.2L1408.2,256.1L1408.2,256.0L1408.1,255.9L1408.1,255.8L1408.0,255.7L1407.9,255.6L1407.8,255.5L1407.7,255.5L1405.0,253.2L1405.0,253.1L1404.9,253.1L1404.8,253.0L1404.6,253.0L1404.5,253.0L1404.4,252.9L1404.3,252.9L1404.1,252.9L1404.0,252.9L1403.9,252.9L1403.8,253.0L1403.7,253.0L1403.6,253.0L1403.5,253.1L1403.4,253.2L1403.3,253.2L1403.2,253.3L1402.8,253.8L1402.7,253.9L1402.6,254.0L1402.6,254.1L1402.5,254.2L1402.5,254.4L1401.9,257.2L1401.9,257.3L1401.8,257.4L1401.9,257.6L1401.9,257.7L1401.9,257.8L1401.9,257.9L1402.0,258.0L1402.0,258.1L1402.1,258.2L1402.2,258.3L1403.9,260.0L1403.9,260.1L1404.0,260.2L1404.1,260.2L1404.2,260.3L1404.3,260.3L1404.5,260.4L1404.6,260.4L1404.7,260.4L1404.8,260.4L1404.9,260.4L1405.0,260.3L1405.1,260.3L1405.3,260.3L1405.4,260.2L1405.5,260.1L1405.5,260.1L1405.6,260.0L1408.0,257.3L1408.1,257.2L1408.1,257.1L1408.2,257.0L1408.2,256.9L1408.3,256.8L1408.3,256.7L1408.3,256.5ZM1411.6,257.0L1411.6,257.2L1411.6,257.3L1411.6,257.4L1411.6,257.5L1411.6,257.6L1411.6,257.7L1411.7,257.8L1411.7,258.0L1411.8,258.1L1413.7,261.1L1413.8,261.2L1413.9,261.3L1414.0,261.4L1414.1,261.5L1414.2,261.5L1414.3,261.6L1416.0,262.4L1416.1,262.4L1416.3,262.4L1416.4,262.4L1416.5,262.5L1416.6,262.5L1416.7,262.4L1416.8,262.4L1416.9,262.4L1417.0,262.3L1417.1,262.3L1417.2,262.2L1417.3,262.1L1417.4,262.1L1417.5,262.0L1417.5,261.9L1417.6,261.8L1417.6,261.7L1417.7,261.6L1417.7,261.4L1417.7,261.3L1417.7,261.2L1417.7,261.1L1417.3,258.1L1417.3,258.0L1417.3,257.9L1417.2,257.8L1417.2,257.7L1417.1,257.6L1417.0,257.5L1416.9,257.4L1416.8,257.3L1414.6,255.8L1414.5,255.7L1414.4,255.7L1414.3,255.6L1414.2,255.6L1414.1,255.6L1414.0,255.6L1413.8,255.6L1413.7,255.6L1413.6,255.6L1413.5,255.7L1413.4,255.7L1412.2,256.3L1412.1,256.4L1412.0,256.5L1411.9,256.6L1411.8,256.6L1411.8,256.7L1411.7,256.8L1411.7,256.9ZM1424.1,256.6L1424.0,256.5L1421.1,255.9L1421.0,255.9L1420.9,255.8L1420.8,255.8L1420.7,255.9L1420.5,255.9L1420.4,255.9L1420.3,256.0L1420.2,256.0L1420.1,256.1L1420.0,256.2L1419.1,257.1L1419.0,257.1L1418.9,257.2L1418.9,257.3L1418.8,257.4L1418.8,257.5L1418.8,257.6L1418.7,257.7L1418.7,257.9L1418.7,258.0L1418.7,258.1L1419.1,261.1L1419.1,261.2L1419.2,261.3L1419.2,261.4L1419.3,261.5L1419.3,261.6L1419.4,261.7L1419.5,261.8L1419.6,261.9L1419.7,261.9L1419.8,262.0L1419.9,262.0L1420.0,262.1L1420.1,262.1L1420.2,262.1L1424.2,262.3L1424.4,262.3L1424.5,262.3L1424.6,262.3L1424.7,262.3L1424.8,262.2L1424.9,262.2L1425.0,262.1L1425.1,262.0L1425.4,261.7L1425.5,261.7L1425.6,261.6L1425.7,261.5L1425.7,261.4L1425.8,261.3L1425.8,261.2L1425.8,261.1L1425.9,260.9L1425.9,260.7L1425.9,260.6L1425.9,260.5L1425.9,260.4L1425.8,260.2L1424.8,257.3L1424.8,257.2L1424.7,257.1L1424.7,257.0L1424.6,256.9L1424.5,256.8L1424.4,256.7L1424.3,256.7L1424.2,256.6ZM1406.4,261.9L1406.4,262.1L1406.4,262.2L1406.5,262.3L1406.5,262.4L1406.6,262.5L1406.7,262.6L1406.8,262.6L1406.8,262.7L1407.0,262.8L1407.1,262.8L1407.2,262.9L1407.3,262.9L1407.4,262.9L1407.5,262.9L1407.6,262.9L1407.8,262.9L1407.9,262.9L1410.8,262.0L1410.9,262.0L1411.0,261.9L1411.1,261.9L1411.2,261.8L1411.3,261.7L1411.4,261.7L1411.5,261.6L1411.5,261.5L1411.6,261.4L1411.6,261.2L1411.7,261.1L1411.7,261.0L1411.7,260.9L1411.7,260.8L1411.7,260.7L1411.6,260.5L1411.6,260.4L1411.6,260.3L1411.5,260.2L1410.6,258.8L1410.5,258.7L1410.4,258.6L1410.3,258.5L1410.2,258.5L1410.2,258.4L1410.0,258.3L1409.9,258.3L1409.8,258.3L1409.7,258.3L1409.6,258.2L1409.5,258.2L1409.4,258.3L1409.2,258.3L1409.1,258.3L1409.0,258.4L1408.9,258.4L1408.8,258.5L1408.7,258.6L1408.7,258.6L1406.6,260.9L1406.6,261.0L1406.5,261.1L1406.4,261.2L1406.4,261.4L1406.4,261.5L1406.3,261.6L1406.3,261.7L1406.3,261.8ZM1403.9,263.6L1403.9,263.5L1404.0,263.4L1404.1,263.3L1404.1,263.2L1404.1,263.1L1404.1,262.9L1404.1,262.8L1404.1,262.7L1404.1,262.6L1404.1,262.5L1404.1,262.4L1404.0,262.3L1404.0,262.2L1403.9,262.1L1403.8,262.0L1401.2,259.3L1401.1,259.2L1401.0,259.1L1400.9,259.1L1400.8,259.0L1400.7,259.0L1400.6,258.9L1400.5,258.9L1400.3,258.9L1400.2,258.9L1400.1,258.9L1397.6,259.4L1397.5,259.4L1397.4,259.4L1397.4,259.4L1397.3,259.4L1397.2,259.4L1397.2,259.4L1397.1,259.3L1394.5,258.0L1394.3,258.0L1394.2,257.9L1394.1,257.9L1394.0,257.9L1393.9,257.9L1393.7,257.9L1393.6,257.9L1393.5,258.0L1393.1,258.1L1393.0,258.1L1392.9,258.2L1391.7,259.0L1391.6,259.0L1391.5,259.1L1391.4,259.2L1391.4,259.3L1391.3,259.4L1391.2,259.5L1391.2,259.6L1391.2,259.7L1391.1,259.8L1391.1,259.9L1391.1,260.0L1391.2,262.0L1391.2,262.1L1391.2,262.3L1391.2,262.4L1391.3,262.5L1391.3,262.6L1391.4,262.7L1391.5,262.8L1391.5,262.9L1391.6,262.9L1394.2,265.0L1394.3,265.1L1394.4,265.2L1394.5,265.2L1394.6,265.2L1394.7,265.3L1394.9,265.3L1395.0,265.3L1395.1,265.3L1395.2,265.3L1395.3,265.3L1395.4,265.2L1395.5,265.2L1395.6,265.1L1395.7,265.0L1395.9,264.9L1396.0,264.9L1396.0,264.8L1396.1,264.8L1396.1,264.8L1396.2,264.8L1396.3,264.7L1403.1,264.0L1403.2,264.0L1403.3,264.0L1403.4,263.9L1403.5,263.9L1403.6,263.8L1403.7,263.7L1403.8,263.7ZM1406.6,265.3L1406.6,265.4L1406.6,265.6L1406.5,265.7L1406.5,265.8L1406.5,265.9L1406.5,266.0L1406.5,266.1L1406.6,266.3L1407.3,268.7L1407.4,268.8L1407.4,268.9L1407.5,269.0L1407.5,269.1L1407.6,269.2L1407.7,269.3L1407.8,269.3L1407.9,269.4L1408.0,269.5L1408.1,269.5L1408.2,269.5L1412.9,270.5L1413.0,270.5L1413.1,270.5L1413.2,270.5L1413.3,270.5L1413.4,270.5L1413.6,270.4L1413.7,270.4L1413.8,270.3L1413.9,270.3L1413.9,270.2L1414.0,270.1L1414.1,270.0L1414.2,269.9L1414.2,269.8L1414.3,269.7L1415.8,265.3L1415.9,265.2L1415.9,265.1L1415.9,264.9L1415.9,264.8L1415.9,264.7L1415.9,264.6L1415.8,264.5L1415.8,264.4L1415.7,264.2L1415.7,264.1L1415.6,264.1L1415.5,264.0L1415.4,263.9L1415.3,263.8L1415.2,263.8L1413.8,263.2L1413.7,263.1L1413.6,263.1L1413.5,263.1L1413.3,263.1L1413.2,263.1L1413.1,263.1L1413.0,263.1L1407.4,264.8L1407.3,264.8L1407.1,264.8L1407.0,264.9L1407.0,265.0L1406.9,265.1L1406.8,265.1L1406.7,265.2ZM1416.5,270.1L1416.6,270.2L1416.6,270.3L1416.7,270.4L1416.8,270.5L1416.9,270.5L1417.0,270.6L1417.1,270.7L1417.2,270.7L1423.2,272.9L1423.3,272.9L1423.4,272.9L1423.5,272.9L1423.6,272.9L1423.7,272.9L1423.8,272.9L1423.9,272.9L1424.0,272.8L1424.1,272.8L1424.8,272.4L1424.9,272.3L1425.0,272.3L1425.1,272.2L1425.2,272.1L1425.2,272.0L1425.3,271.9L1425.3,271.8L1425.4,271.7L1425.4,271.6L1425.4,271.5L1425.4,271.4L1425.4,271.3L1425.4,271.1L1424.3,264.9L1424.3,264.8L1424.3,264.7L1424.2,264.6L1424.2,264.5L1424.1,264.4L1424.0,264.3L1423.9,264.2L1423.8,264.1L1423.7,264.1L1423.6,264.0L1423.5,264.0L1423.4,264.0L1423.3,263.9L1423.2,263.9L1419.4,263.7L1419.3,263.7L1419.2,263.7L1419.0,263.8L1418.9,263.8L1418.8,263.9L1418.7,263.9L1418.6,264.0L1418.5,264.1L1418.4,264.2L1418.3,264.2L1418.2,264.3L1418.2,264.4L1418.1,264.5L1418.1,264.6L1416.5,269.2L1416.4,269.3L1416.4,269.4L1416.4,269.5L1416.4,269.6L1416.4,269.7L1416.4,269.9L1416.5,270.0ZM1395.3,267.9L1395.3,268.0L1395.3,268.1L1395.3,268.2L1395.3,268.4L1395.4,268.5L1395.4,268.6L1395.5,268.7L1395.5,268.8L1395.6,268.9L1395.7,268.9L1395.8,269.0L1395.9,269.1L1396.0,269.1L1396.1,269.2L1402.9,271.7L1403.0,271.7L1403.1,271.8L1403.2,271.8L1403.4,271.8L1403.5,271.8L1403.6,271.7L1403.7,271.7L1403.8,271.6L1403.9,271.6L1404.0,271.5L1404.1,271.4L1405.2,270.4L1405.3,270.3L1405.3,270.2L1405.4,270.1L1405.4,270.0L1405.5,269.9L1405.5,269.8L1405.5,269.7L1405.5,269.6L1405.5,269.4L1405.5,269.3L1405.5,269.2L1404.6,266.5L1404.6,266.4L1404.5,266.3L1404.5,266.2L1404.4,266.1L1404.3,266.0L1404.2,265.9L1404.1,265.8L1404.0,265.8L1403.9,265.7L1403.8,265.7L1403.7,265.7L1403.6,265.6L1403.5,265.6L1403.4,265.6L1397.1,266.3L1396.9,266.3L1396.8,266.4L1396.7,266.4L1396.6,266.5L1396.5,266.5L1396.4,266.6L1395.8,267.1L1395.7,267.2L1395.6,267.3L1395.5,267.4L1395.5,267.5L1395.4,267.6L1395.4,267.7L1395.3,267.8ZM1412.6,275.6L1412.6,275.5L1412.6,275.4L1412.6,273.4L1412.6,273.2L1412.6,273.1L1412.5,273.0L1412.5,272.9L1412.4,272.8L1412.4,272.7L1412.3,272.6L1412.2,272.5L1412.2,272.4L1412.1,272.4L1412.0,272.3L1411.9,272.2L1411.7,272.2L1411.6,272.2L1407.7,271.4L1407.6,271.3L1407.5,271.3L1407.4,271.3L1407.2,271.4L1407.1,271.4L1407.0,271.4L1406.9,271.5L1406.8,271.5L1406.7,271.6L1406.6,271.7L1404.9,273.3L1404.8,273.4L1404.8,273.5L1404.7,273.6L1404.7,273.7L1404.6,273.8L1404.6,273.9L1403.3,279.0L1403.2,279.1L1403.2,279.2L1403.2,279.3L1403.2,279.5L1403.3,279.6L1403.3,279.7L1403.4,279.8L1403.4,279.9L1403.5,280.0L1403.6,280.1L1403.9,280.5L1404.0,280.6L1404.1,280.6L1404.2,280.7L1404.3,280.8L1404.4,280.8L1404.5,280.8L1404.7,280.8L1404.8,280.9L1404.9,280.9L1405.0,280.8L1405.1,280.8L1405.2,280.8L1405.4,280.7L1405.5,280.7L1412.0,276.4L1412.1,276.3L1412.2,276.2L1412.3,276.1L1412.4,276.0L1412.4,275.9L1412.5,275.8L1412.5,275.7ZM1415.2,272.4L1415.0,272.4L1414.9,272.5L1414.9,272.6L1414.8,272.7L1414.7,272.8L1414.6,272.9L1414.6,273.0L1414.5,273.1L1414.5,273.2L1414.5,273.3L1414.5,273.4L1414.5,276.0L1414.5,276.1L1414.5,276.2L1414.5,276.4L1414.5,276.5L1414.6,276.6L1417.9,283.6L1418.0,283.7L1418.1,283.8L1418.1,283.8L1418.2,283.9L1418.3,284.0L1418.4,284.1L1418.5,284.1L1418.6,284.2L1418.7,284.2L1418.8,284.2L1419.0,284.2L1419.1,284.2L1419.2,284.2L1419.3,284.2L1420.1,284.0L1420.3,284.0L1420.4,283.9L1420.5,283.9L1420.6,283.8L1420.6,283.7L1420.7,283.7L1420.8,283.6L1420.9,283.5L1420.9,283.4L1421.0,283.3L1421.0,283.3L1421.0,283.2L1421.1,283.1L1421.1,283.0L1421.2,283.0L1421.3,282.9L1421.4,282.8L1431.7,276.6L1431.8,276.5L1431.9,276.4L1432.0,276.4L1432.1,276.3L1432.2,276.2L1432.2,276.1L1432.3,276.0L1432.3,275.9L1432.3,275.8L1432.3,275.6L1432.3,275.5L1432.3,275.4L1432.3,275.3L1432.3,275.2L1432.2,275.1L1432.2,275.0L1432.1,274.9L1432.0,274.8L1432.0,274.7L1431.9,274.6L1431.8,274.6L1431.7,274.5L1431.6,274.4L1431.5,274.4L1431.4,274.4L1427.2,273.6L1427.1,273.6L1427.0,273.6L1426.9,273.6L1426.7,273.6L1426.6,273.6L1426.5,273.7L1426.4,273.7L1424.2,274.9L1424.1,275.0L1424.0,275.0L1424.0,275.0L1423.9,275.0L1423.8,275.0L1423.7,275.0L1423.6,275.0L1423.5,275.0L1423.4,275.0L1416.1,272.3L1416.0,272.3L1415.9,272.3L1415.7,272.3L1415.6,272.3L1415.5,272.3L1415.4,272.3L1415.3,272.3ZM1413.8,287.9L1413.9,287.8L1414.0,287.8L1414.1,287.7L1414.2,287.6L1416.0,285.9L1416.1,285.8L1416.2,285.8L1416.3,285.7L1416.3,285.5L1416.4,285.4L1416.4,285.3L1416.4,285.2L1416.4,285.1L1416.4,285.0L1416.4,284.9L1416.4,284.8L1416.4,284.6L1416.3,284.5L1413.7,279.1L1413.7,279.0L1413.6,278.9L1413.5,278.8L1413.4,278.8L1413.3,278.7L1413.2,278.6L1413.1,278.6L1413.0,278.5L1412.9,278.5L1412.8,278.5L1412.7,278.5L1412.6,278.5L1412.4,278.5L1412.3,278.5L1412.2,278.6L1412.1,278.6L1412.0,278.7L1406.6,282.2L1406.5,282.3L1406.4,282.3L1406.3,282.4L1406.3,282.5L1406.2,282.6L1406.1,282.7L1406.1,282.8L1406.1,282.9L1406.0,283.0L1406.0,283.2L1406.0,283.3L1406.1,283.4L1406.1,283.5L1406.1,283.6L1406.2,283.7L1406.5,284.5L1406.6,284.6L1406.6,284.7L1406.7,284.8L1406.8,284.8L1406.9,284.9L1407.0,285.0L1407.1,285.0L1412.9,287.8L1413.0,287.9L1413.1,287.9L1413.2,288.0L1413.3,288.0L1413.5,288.0L1413.6,288.0L1413.7,287.9ZM1404.6,285.1L1404.6,285.0L1404.6,284.8L1404.5,284.7L1404.5,284.6L1403.8,283.2L1403.7,283.0L1403.6,282.9L1403.6,282.8L1402.1,281.3L1402.0,281.2L1401.9,281.2L1401.8,281.1L1401.7,281.1L1401.6,281.0L1401.5,281.0L1401.3,281.0L1401.2,281.0L1401.1,281.0L1398.9,281.2L1398.7,281.3L1398.6,281.3L1398.5,281.3L1398.4,281.4L1398.3,281.4L1398.2,281.5L1398.1,281.6L1398.1,281.7L1398.0,281.8L1397.9,281.9L1394.8,287.7L1394.7,287.9L1394.7,288.0L1394.6,288.1L1394.6,288.2L1394.6,288.3L1394.6,288.4L1394.6,288.5L1394.7,288.7L1394.7,288.8L1394.8,288.9L1394.8,289.0L1395.3,289.7L1402.5,287.7L1404.3,286.0L1404.3,285.9L1404.4,285.8L1404.5,285.7L1404.5,285.6L1404.6,285.4L1404.6,285.3L1404.6,285.2ZM1406.1,287.0L1406.0,287.1L1405.9,287.1L1405.8,287.2L1405.7,287.2L1405.6,287.3L1411.6,289.3L1407.0,287.1L1406.9,287.0L1406.7,287.0L1406.6,287.0L1406.5,287.0L1406.4,287.0L1406.3,287.0L1406.2,287.0ZM1427.5,293.5L1427.5,293.4L1427.5,293.2L1427.6,293.1L1427.6,293.0L1427.6,292.9L1427.5,292.8L1426.8,289.1L1426.8,289.0L1426.7,288.8L1426.7,288.7L1426.6,288.6L1426.6,288.5L1426.5,288.5L1426.4,288.4L1426.3,288.3L1426.2,288.2L1421.8,285.9L1421.7,285.8L1421.6,285.8L1421.5,285.8L1421.4,285.7L1421.2,285.7L1421.1,285.7L1421.0,285.7L1420.9,285.8L1418.6,286.3L1418.5,286.4L1418.4,286.4L1418.3,286.5L1418.2,286.5L1418.1,286.6L1414.5,290.0L1414.4,290.1L1414.3,290.2L1414.2,290.2L1414.2,290.2L1426.2,294.4L1426.9,294.1L1427.0,294.0L1427.1,293.9L1427.2,293.9L1427.3,293.8L1427.4,293.7L1427.4,293.6ZM1432.8,242.1L1432.9,242.1L1433.1,242.1L1433.2,242.1L1433.3,242.1L1433.4,242.0L1433.5,242.0L1433.6,241.9L1435.2,241.1L1435.3,241.0L1435.4,241.0L1435.4,240.9L1431.4,240.7L1432.1,241.6L1432.2,241.7L1432.3,241.8L1432.4,241.9L1432.5,241.9L1432.6,242.0L1432.7,242.0ZM1437.7,241.7L1437.8,241.7L1437.9,241.8L1438.0,241.8L1438.1,241.8L1438.2,241.9L1438.3,241.9L1438.5,241.9L1438.6,241.9L1441.5,241.3L1437.2,241.1L1437.2,241.1L1437.3,241.2L1437.3,241.3L1437.4,241.4L1437.5,241.5L1437.5,241.5L1437.6,241.6ZM1445.8,242.7L1445.7,242.9L1445.7,243.0L1445.7,243.1L1445.7,243.2L1445.6,243.9L1445.7,244.0L1445.7,244.1L1445.7,244.2L1445.7,244.3L1445.8,244.5L1445.9,244.6L1445.9,244.7L1446.3,245.1L1446.4,245.2L1446.4,245.2L1446.5,245.3L1446.6,245.4L1446.8,245.4L1446.9,245.5L1447.0,245.5L1447.1,245.5L1449.7,245.7L1449.9,245.7L1450.0,245.7L1450.1,245.7L1450.2,245.6L1450.3,245.6L1450.4,245.5L1450.5,245.5L1450.6,245.4L1450.7,245.3L1450.8,245.2L1450.8,245.1L1450.9,245.0L1450.9,244.9L1451.0,244.8L1451.0,244.7L1451.3,243.2L1451.3,243.0L1451.3,242.9L1451.3,242.8L1451.3,242.7L1451.2,242.6L1451.2,242.5L1451.2,242.4L1451.1,242.3L1451.0,242.2L1450.9,242.1L1450.8,242.0L1450.8,242.0L1449.9,241.9L1447.1,241.7L1446.3,242.1L1446.2,242.2L1446.1,242.3L1446.0,242.4L1445.9,242.4L1445.9,242.5L1445.8,242.6ZM1439.8,243.4L1439.7,243.5L1439.7,243.6L1439.6,243.7L1439.6,243.8L1439.6,244.0L1439.6,244.1L1439.6,244.2L1439.6,244.3L1439.6,244.4L1439.6,244.5L1439.7,244.6L1439.7,244.8L1439.8,244.8L1439.9,244.9L1440.0,245.0L1440.1,245.1L1440.2,245.2L1440.3,245.2L1440.4,245.2L1440.5,245.3L1440.6,245.3L1440.7,245.3L1441.5,245.3L1441.6,245.3L1441.8,245.3L1441.9,245.3L1442.0,245.2L1442.1,245.2L1442.6,244.9L1442.7,244.9L1442.8,244.8L1442.9,244.7L1443.0,244.7L1443.0,244.6L1443.1,244.5L1443.2,244.4L1443.2,244.3L1443.2,244.1L1443.2,244.0L1443.3,243.9L1443.3,243.8L1443.2,243.7L1443.2,243.6L1443.2,243.4L1443.1,243.3L1443.1,243.2L1443.0,243.1L1442.9,243.0L1442.8,243.0L1442.7,242.9L1442.6,242.8L1442.5,242.8L1442.4,242.7L1442.3,242.7L1442.2,242.7L1442.1,242.7L1442.0,242.7L1441.8,242.7L1440.5,242.9L1440.4,243.0L1440.3,243.0L1440.2,243.0L1440.1,243.1L1440.0,243.2L1439.9,243.2L1439.8,243.3ZM1433.6,244.0L1433.5,244.1L1433.5,244.2L1433.5,244.3L1433.5,244.4L1433.5,244.5L1433.6,244.7L1433.6,244.8L1433.7,244.9L1433.7,245.0L1433.8,245.1L1433.9,245.2L1434.0,245.2L1435.8,246.8L1435.9,246.8L1436.0,246.9L1436.1,246.9L1436.2,247.0L1436.3,247.0L1436.5,247.0L1436.6,247.0L1436.7,247.0L1436.8,247.0L1436.9,247.0L1437.0,246.9L1437.1,246.9L1437.2,246.8L1437.3,246.8L1437.4,246.7L1437.5,246.6L1437.6,246.5L1437.7,246.3L1437.7,246.2L1437.8,246.1L1437.8,246.0L1437.9,245.9L1437.9,245.8L1437.9,245.6L1437.9,245.5L1437.9,245.4L1437.8,245.3L1437.2,243.3L1437.1,243.2L1437.1,243.1L1437.0,243.0L1436.9,242.9L1436.8,242.8L1436.7,242.7L1436.6,242.7L1436.5,242.6L1436.4,242.5L1436.3,242.5L1436.2,242.5L1436.1,242.4L1436.0,242.4L1435.8,242.4L1435.7,242.5L1435.6,242.5L1435.5,242.5L1435.4,242.6L1434.1,243.3L1434.0,243.3L1434.0,243.4L1433.9,243.5L1433.8,243.6L1433.7,243.6L1433.7,243.7L1433.6,243.9ZM1457.8,244.4L1457.8,244.3L1457.8,244.2L1457.8,244.1L1457.8,244.0L1457.6,243.5L1457.6,243.4L1457.5,243.3L1457.5,243.2L1457.4,243.1L1457.3,243.0L1457.2,243.0L1457.1,242.9L1457.0,242.8L1456.9,242.8L1456.8,242.8L1456.6,242.7L1456.5,242.7L1453.9,242.6L1453.7,242.6L1453.6,242.6L1453.5,242.7L1453.4,242.7L1453.3,242.7L1453.2,242.8L1453.1,242.8L1453.0,242.9L1452.9,243.0L1452.9,243.1L1452.8,243.2L1452.7,243.3L1452.7,243.4L1452.7,243.5L1452.6,243.6L1452.2,245.8L1452.2,245.9L1452.2,246.0L1452.2,246.1L1452.2,246.2L1452.3,246.4L1452.3,246.5L1452.4,246.6L1452.4,246.7L1452.5,246.8L1452.9,247.3L1453.0,247.4L1453.1,247.5L1453.2,247.5L1453.3,247.6L1453.4,247.7L1453.5,247.7L1453.6,247.7L1453.7,247.7L1453.8,247.8L1454.0,247.7L1454.1,247.7L1454.2,247.7L1454.3,247.7L1454.4,247.6L1454.5,247.6L1454.6,247.5L1457.4,245.3L1457.5,245.2L1457.5,245.1L1457.6,245.0L1457.7,244.9L1457.7,244.8L1457.8,244.7L1457.8,244.5ZM1442.7,246.9L1442.7,247.0L1442.7,247.1L1442.6,247.2L1442.6,249.4L1442.6,249.5L1442.6,249.6L1442.6,249.7L1442.7,249.9L1442.7,250.0L1442.8,250.1L1442.8,250.2L1442.9,250.3L1443.0,250.3L1443.1,250.4L1443.2,250.5L1443.3,250.5L1443.4,250.6L1443.5,250.6L1443.7,250.6L1443.9,250.6L1444.0,250.6L1444.1,250.6L1444.3,250.6L1444.4,250.6L1444.5,250.6L1444.6,250.5L1444.7,250.4L1444.8,250.4L1444.9,250.3L1445.0,250.2L1445.0,250.1L1445.1,250.0L1445.1,249.9L1445.2,249.8L1445.2,249.7L1445.2,249.6L1445.5,247.1L1445.5,247.0L1445.5,246.9L1445.4,246.8L1445.4,246.7L1445.4,246.6L1445.3,246.5L1445.3,246.4L1445.2,246.3L1445.1,246.2L1445.0,246.1L1444.9,246.0L1444.8,246.0L1444.7,245.9L1444.6,245.9L1444.5,245.9L1444.4,245.8L1444.3,245.8L1444.2,245.8L1444.1,245.8L1443.9,245.9L1443.8,245.9L1443.7,245.9L1443.3,246.2L1443.2,246.2L1443.1,246.3L1443.0,246.4L1442.9,246.4L1442.9,246.5L1442.8,246.6L1442.7,246.7ZM1437.8,249.3L1437.8,249.4L1437.8,249.5L1437.9,249.6L1437.9,249.7L1438.0,249.8L1438.1,249.9L1438.2,250.0L1438.3,250.0L1438.4,250.1L1438.5,250.2L1439.5,250.6L1439.6,250.7L1439.7,250.7L1439.8,250.7L1440.0,250.7L1440.1,250.7L1440.2,250.7L1440.3,250.7L1440.4,250.6L1440.5,250.6L1440.6,250.5L1440.7,250.5L1440.8,250.4L1440.9,250.3L1441.0,250.2L1441.0,250.1L1441.1,250.0L1441.1,249.9L1441.2,249.8L1441.2,249.7L1441.2,249.6L1441.2,247.9L1441.2,247.8L1441.2,247.7L1441.2,247.6L1441.1,247.5L1441.1,247.4L1441.0,247.2L1441.0,247.2L1440.9,247.1L1440.8,247.0L1440.7,246.9L1440.6,246.8L1440.5,246.8L1440.4,246.8L1440.3,246.7L1440.2,246.7L1440.1,246.7L1439.8,246.7L1439.7,246.7L1439.6,246.7L1439.4,246.7L1439.3,246.8L1439.2,246.8L1439.1,246.9L1439.0,246.9L1438.9,247.0L1438.9,247.1L1438.8,247.2L1438.0,248.4L1437.9,248.5L1437.9,248.6L1437.8,248.7L1437.8,248.8L1437.8,248.9L1437.8,249.0L1437.8,249.2ZM1436.1,249.5L1436.1,249.4L1436.1,249.3L1436.1,249.1L1436.1,249.0L1436.0,248.9L1436.0,248.8L1435.9,248.7L1435.8,248.6L1435.8,248.5L1435.7,248.4L1432.8,246.1L1432.7,246.1L1432.6,246.0L1432.5,245.9L1432.4,245.9L1432.3,245.9L1432.2,245.9L1432.1,245.9L1432.0,245.9L1431.8,245.9L1431.7,245.9L1431.6,245.9L1431.5,246.0L1431.4,246.1L1431.3,246.1L1430.7,246.7L1430.6,246.7L1430.5,246.8L1430.4,246.9L1430.4,247.0L1430.3,247.1L1430.3,247.2L1429.8,248.6L1429.8,248.8L1429.7,248.9L1429.7,249.0L1429.7,249.1L1429.7,249.2L1429.8,249.3L1429.8,249.5L1430.0,250.0L1430.1,250.1L1430.1,250.2L1430.2,250.3L1430.3,250.4L1430.4,250.5L1430.5,250.6L1432.3,251.9L1432.4,251.9L1432.5,252.0L1432.6,252.0L1432.7,252.0L1432.9,252.1L1433.0,252.1L1433.1,252.1L1433.2,252.0L1433.3,252.0L1433.4,252.0L1433.5,251.9L1433.6,251.9L1433.7,251.8L1435.6,250.3L1435.7,250.2L1435.8,250.1L1435.9,250.0L1436.0,249.9L1436.0,249.8L1436.0,249.7L1436.1,249.6ZM1446.8,251.2L1446.9,251.3L1447.0,251.4L1447.1,251.4L1447.2,251.5L1447.3,251.6L1447.4,251.6L1447.5,251.6L1447.6,251.6L1447.8,251.6L1447.9,251.6L1448.0,251.6L1451.7,250.9L1451.8,250.8L1451.9,250.8L1452.1,250.7L1452.2,250.7L1452.2,250.6L1452.3,250.5L1452.4,250.4L1452.5,250.3L1452.5,250.2L1452.6,250.1L1452.6,250.0L1452.7,249.9L1452.7,249.8L1452.7,249.7L1452.7,249.6L1452.7,249.5L1452.6,249.3L1452.6,249.2L1452.5,249.1L1452.5,249.0L1452.4,248.9L1451.4,247.6L1451.3,247.5L1451.2,247.4L1451.1,247.4L1451.0,247.3L1450.9,247.2L1450.8,247.2L1450.6,247.2L1450.5,247.2L1448.1,247.0L1447.9,247.0L1447.8,247.0L1447.7,247.0L1447.6,247.0L1447.5,247.1L1447.4,247.1L1447.3,247.2L1447.2,247.2L1447.1,247.3L1447.0,247.4L1447.0,247.5L1446.9,247.6L1446.9,247.7L1446.8,247.8L1446.8,247.9L1446.8,248.1L1446.6,250.3L1446.6,250.5L1446.6,250.6L1446.6,250.7L1446.6,250.8L1446.6,250.9L1446.7,251.0L1446.8,251.1ZM1433.9,253.8L1433.9,254.0L1433.9,254.1L1433.9,254.2L1434.0,254.3L1434.0,254.4L1434.0,254.5L1434.1,254.6L1434.1,254.7L1434.2,254.8L1434.9,255.6L1435.0,255.7L1435.1,255.7L1435.2,255.8L1435.3,255.9L1435.4,255.9L1435.5,256.0L1435.6,256.0L1435.7,256.0L1435.8,256.0L1435.9,256.0L1436.0,256.0L1440.3,255.1L1440.4,255.1L1440.5,255.1L1440.5,255.1L1440.6,255.1L1440.7,255.1L1440.7,255.1L1440.8,255.2L1440.9,255.2L1440.9,255.3L1442.7,256.7L1442.8,256.8L1442.9,256.9L1443.0,256.9L1443.1,257.0L1443.2,257.0L1443.3,257.0L1443.4,257.0L1443.6,257.0L1443.7,257.0L1444.5,256.9L1444.6,256.8L1444.7,256.8L1444.8,256.7L1444.9,256.7L1445.0,256.6L1445.1,256.5L1445.2,256.4L1445.2,256.3L1445.3,256.2L1445.3,256.1L1445.4,256.0L1445.4,255.9L1445.8,253.5L1445.8,253.4L1445.8,253.3L1445.8,253.1L1445.7,253.0L1445.7,252.9L1445.7,252.8L1445.6,252.7L1445.5,252.6L1445.4,252.5L1445.4,252.4L1445.3,252.3L1445.2,252.3L1445.1,252.2L1444.9,252.2L1444.8,252.1L1444.7,252.1L1442.2,251.9L1442.1,251.9L1442.0,251.9L1441.9,251.9L1441.8,251.9L1441.7,251.9L1440.5,252.4L1440.5,252.4L1440.4,252.4L1440.3,252.4L1440.2,252.4L1440.2,252.4L1440.1,252.4L1440.0,252.4L1440.0,252.4L1437.6,251.3L1437.5,251.3L1437.4,251.3L1437.3,251.2L1437.2,251.2L1437.1,251.2L1437.0,251.2L1436.8,251.3L1436.7,251.3L1436.6,251.4L1436.5,251.4L1436.4,251.5L1434.4,253.1L1434.3,253.1L1434.2,253.2L1434.1,253.3L1434.1,253.4L1434.0,253.5L1434.0,253.6L1434.0,253.7ZM1447.1,256.7L1447.1,256.8L1447.2,256.9L1447.3,257.0L1447.4,257.0L1447.5,257.1L1447.6,257.1L1447.7,257.2L1447.9,257.2L1448.0,257.2L1448.1,257.2L1448.2,257.2L1448.3,257.2L1448.8,257.0L1448.9,257.0L1449.1,256.9L1449.2,256.9L1449.3,256.8L1449.4,256.7L1449.4,256.6L1449.5,256.5L1449.6,256.4L1450.6,254.5L1450.6,254.4L1450.7,254.3L1450.7,254.2L1450.7,254.1L1450.7,254.0L1450.7,253.8L1450.7,253.7L1450.6,253.6L1450.6,253.5L1450.6,253.4L1450.5,253.3L1450.4,253.2L1450.3,253.1L1450.3,253.0L1450.2,253.0L1450.1,252.9L1450.0,252.9L1449.8,252.8L1449.7,252.8L1449.6,252.8L1449.5,252.8L1449.4,252.8L1449.3,252.8L1448.0,253.0L1447.9,253.1L1447.8,253.1L1447.7,253.2L1447.6,253.2L1447.5,253.3L1447.4,253.4L1447.3,253.5L1447.3,253.6L1447.2,253.7L1447.2,253.8L1447.1,253.9L1447.1,254.0L1446.8,255.8L1446.8,255.9L1446.8,256.1L1446.8,256.2L1446.9,256.3L1446.9,256.4L1446.9,256.5L1447.0,256.6ZM1453.8,253.7L1453.6,253.7L1453.5,253.6L1453.4,253.6L1453.3,253.6L1453.2,253.6L1453.1,253.7L1453.0,253.7L1452.9,253.7L1452.7,253.8L1452.7,253.8L1452.6,253.9L1452.5,254.0L1452.4,254.1L1452.3,254.2L1452.3,254.3L1451.9,255.0L1451.9,255.1L1451.8,255.2L1451.8,255.3L1451.8,255.4L1451.8,255.5L1451.8,255.7L1451.8,255.8L1451.8,255.9L1451.9,256.0L1451.9,256.1L1452.0,256.2L1452.0,256.3L1452.1,256.4L1452.2,256.5L1452.3,256.5L1452.4,256.6L1452.5,256.6L1452.6,256.7L1452.7,256.7L1452.8,256.7L1453.0,256.7L1453.1,256.7L1453.2,256.7L1453.3,256.7L1453.4,256.6L1453.5,256.6L1453.6,256.5L1453.7,256.5L1454.2,256.1L1454.3,256.0L1454.4,255.9L1454.5,255.8L1454.5,255.7L1454.6,255.6L1454.6,255.5L1454.7,255.4L1454.7,255.3L1454.7,255.2L1454.7,255.0L1454.7,254.9L1454.6,254.8L1454.6,254.7L1454.6,254.6L1454.4,254.3L1454.4,254.2L1454.3,254.1L1454.2,254.0L1454.1,253.9L1454.1,253.9L1454.0,253.8L1453.9,253.7ZM1441.6,258.0L1441.6,257.9L1441.5,257.8L1441.5,257.7L1441.4,257.6L1441.4,257.5L1441.3,257.4L1441.2,257.3L1440.7,256.9L1440.6,256.8L1440.5,256.8L1440.4,256.7L1440.3,256.7L1440.2,256.6L1440.1,256.6L1439.9,256.6L1439.8,256.6L1439.7,256.6L1437.0,257.2L1436.9,257.2L1436.8,257.3L1436.7,257.3L1436.6,257.4L1436.5,257.4L1436.4,257.5L1436.4,257.6L1436.3,257.7L1436.2,257.8L1436.2,257.9L1436.1,258.0L1436.1,258.1L1436.1,258.2L1436.1,258.3L1436.1,258.5L1436.1,258.6L1436.5,261.0L1436.6,261.1L1436.6,261.2L1436.7,261.3L1436.7,261.4L1436.8,261.5L1436.9,261.6L1437.0,261.7L1437.1,261.8L1437.2,261.8L1437.3,261.9L1437.4,261.9L1437.5,262.0L1437.6,262.0L1437.7,262.0L1437.8,262.0L1438.0,262.0L1438.1,261.9L1439.4,261.5L1439.5,261.5L1439.6,261.4L1439.7,261.4L1439.8,261.3L1439.9,261.2L1439.9,261.1L1440.0,261.0L1441.4,258.9L1441.5,258.8L1441.5,258.7L1441.6,258.6L1441.6,258.5L1441.6,258.4L1441.6,258.2L1441.6,258.1ZM1428.1,260.7L1428.1,260.8L1428.2,261.0L1428.2,261.1L1428.2,261.2L1428.3,261.3L1428.3,261.4L1428.4,261.5L1428.5,261.6L1428.6,261.6L1428.7,261.7L1428.8,261.8L1428.9,261.8L1429.0,261.9L1433.8,263.2L1433.9,263.2L1434.0,263.2L1434.1,263.2L1434.2,263.2L1434.3,263.2L1434.5,263.2L1434.6,263.1L1434.7,263.1L1434.8,263.0L1434.9,263.0L1434.9,262.9L1435.0,262.8L1435.1,262.7L1435.1,262.6L1435.2,262.5L1435.2,262.4L1435.3,262.3L1435.3,262.2L1435.3,262.1L1435.3,261.9L1435.3,261.8L1434.5,257.5L1434.5,257.4L1434.4,257.3L1434.4,257.2L1434.3,257.0L1434.2,256.9L1434.0,256.7L1433.9,256.6L1433.8,256.5L1433.7,256.4L1433.6,256.4L1433.5,256.3L1433.4,256.3L1433.3,256.3L1433.2,256.3L1433.1,256.3L1432.9,256.3L1432.8,256.3L1432.7,256.3L1432.6,256.4L1432.5,256.4L1432.4,256.5L1432.3,256.6L1428.5,259.8L1428.5,259.9L1428.4,260.0L1428.3,260.1L1428.3,260.2L1428.2,260.3L1428.2,260.4L1428.1,260.5L1428.1,260.6ZM1448.3,259.1L1448.2,259.2L1448.2,259.3L1448.2,259.4L1448.2,259.6L1448.2,259.7L1448.2,259.8L1448.2,259.9L1448.5,260.9L1448.6,261.0L1448.6,261.1L1448.7,261.2L1448.7,261.3L1448.8,261.3L1448.9,261.4L1449.0,261.5L1450.3,262.5L1450.4,262.5L1450.5,262.6L1450.6,262.6L1450.7,262.7L1450.8,262.7L1451.0,262.7L1451.1,262.7L1451.2,262.7L1451.3,262.7L1451.4,262.6L1451.5,262.6L1451.6,262.5L1451.7,262.4L1451.8,262.4L1451.9,262.3L1452.0,262.2L1452.0,262.1L1452.1,262.0L1452.1,261.9L1452.2,261.8L1452.2,261.6L1452.2,261.5L1452.2,259.6L1452.2,259.5L1452.2,259.4L1452.2,259.3L1452.2,259.2L1452.1,259.1L1452.1,259.0L1452.0,258.9L1451.9,258.8L1451.8,258.7L1451.7,258.6L1451.6,258.6L1451.5,258.5L1451.4,258.5L1451.3,258.4L1451.2,258.4L1450.1,258.2L1450.0,258.2L1449.9,258.2L1449.7,258.2L1449.6,258.3L1449.1,258.4L1449.0,258.4L1448.8,258.5L1448.7,258.6L1448.6,258.6L1448.6,258.7L1448.5,258.8L1448.4,258.9L1448.3,259.0ZM1445.9,258.3L1445.8,258.2L1445.7,258.2L1445.6,258.2L1445.5,258.1L1445.3,258.1L1445.2,258.1L1445.1,258.2L1443.8,258.4L1443.7,258.4L1443.6,258.5L1443.5,258.5L1443.4,258.6L1443.3,258.7L1443.2,258.8L1443.1,258.8L1443.1,258.9L1441.8,260.8L1441.8,260.9L1441.7,261.0L1441.7,261.2L1441.6,261.3L1441.6,261.4L1441.6,261.5L1441.6,261.6L1441.6,261.7L1441.7,261.8L1441.7,262.0L1441.8,262.1L1441.8,262.2L1441.9,262.2L1442.0,262.3L1442.1,262.4L1442.1,262.5L1443.3,263.3L1443.4,263.4L1443.5,263.4L1443.6,263.4L1443.7,263.5L1443.8,263.5L1444.0,263.5L1444.1,263.5L1444.2,263.5L1444.3,263.5L1444.4,263.4L1444.5,263.4L1444.6,263.3L1444.7,263.3L1446.5,261.9L1446.6,261.8L1446.7,261.7L1446.8,261.6L1446.9,261.5L1446.9,261.4L1447.0,261.3L1447.0,261.2L1447.0,261.1L1447.0,261.0L1447.0,260.8L1447.0,260.7L1447.0,260.6L1446.5,259.0L1446.5,258.9L1446.4,258.8L1446.3,258.7L1446.3,258.6L1446.2,258.5L1446.1,258.4L1446.0,258.3ZM1455.7,256.8L1455.6,256.8L1455.5,256.9L1455.4,256.9L1455.3,257.0L1454.1,258.0L1454.0,258.0L1453.9,258.1L1453.9,258.2L1453.8,258.3L1453.8,258.4L1453.7,258.5L1453.7,258.6L1453.7,258.8L1453.7,258.9L1453.5,264.6L1453.5,264.7L1453.6,264.8L1453.6,264.9L1453.6,265.0L1453.7,265.1L1453.7,265.2L1453.8,265.3L1453.9,265.4L1453.9,265.5L1454.0,265.6L1454.1,265.7L1454.2,265.7L1454.3,265.8L1454.4,265.8L1454.5,265.9L1454.7,265.9L1454.8,265.9L1454.9,265.9L1455.0,265.9L1455.1,265.9L1455.2,265.8L1455.4,265.8L1455.5,265.7L1455.6,265.7L1455.6,265.6L1457.4,263.9L1457.5,263.8L1457.6,263.7L1457.7,263.6L1457.7,263.5L1457.8,263.4L1458.9,259.9L1458.9,259.8L1458.9,259.7L1458.9,259.5L1458.9,259.4L1458.9,259.3L1458.9,259.2L1458.8,259.1L1458.6,258.3L1458.5,258.2L1458.4,258.1L1458.4,258.0L1458.3,257.9L1458.2,257.8L1458.1,257.7L1458.0,257.7L1456.6,256.9L1456.5,256.8L1456.4,256.8L1456.3,256.8L1456.2,256.8L1456.1,256.7L1455.9,256.7L1455.8,256.8ZM1436.6,264.5L1436.5,264.6L1436.5,264.7L1436.5,264.8L1436.5,264.9L1436.4,265.0L1436.5,265.1L1436.7,268.5L1436.7,268.7L1436.8,268.8L1436.8,268.9L1436.8,269.0L1436.9,269.1L1437.0,269.2L1437.0,269.3L1437.1,269.4L1437.2,269.4L1437.3,269.5L1437.4,269.5L1437.5,269.6L1437.6,269.6L1437.8,269.6L1437.9,269.7L1438.0,269.7L1438.1,269.6L1438.2,269.6L1442.4,268.5L1442.6,268.5L1442.7,268.4L1442.8,268.4L1442.9,268.3L1443.0,268.2L1443.0,268.1L1443.1,268.0L1443.2,267.9L1443.2,267.8L1443.3,267.7L1443.3,267.6L1443.3,267.5L1443.3,267.3L1443.3,267.2L1443.2,265.7L1443.2,265.6L1443.1,265.5L1443.1,265.4L1443.0,265.3L1443.0,265.2L1442.9,265.1L1442.8,265.0L1442.8,264.9L1442.7,264.9L1440.5,263.4L1440.4,263.3L1440.3,263.3L1440.2,263.2L1440.1,263.2L1440.0,263.2L1439.9,263.2L1439.7,263.2L1439.6,263.2L1439.5,263.2L1437.3,263.9L1437.2,263.9L1437.1,264.0L1437.0,264.1L1436.9,264.1L1436.8,264.2L1436.7,264.3L1436.7,264.4ZM1453.4,268.7L1453.4,268.6L1453.5,268.5L1453.5,268.3L1453.5,268.2L1453.5,268.1L1453.5,267.9L1453.5,267.8L1453.4,267.7L1453.4,267.6L1453.3,267.5L1453.3,267.4L1452.3,266.0L1452.2,265.9L1452.1,265.8L1452.0,265.8L1448.7,263.4L1448.6,263.3L1448.5,263.3L1448.4,263.2L1448.3,263.2L1448.2,263.2L1448.1,263.1L1448.0,263.1L1447.9,263.2L1447.7,263.2L1447.6,263.2L1447.5,263.3L1447.4,263.3L1447.3,263.4L1445.6,264.7L1445.5,264.8L1445.4,264.8L1445.3,264.9L1445.2,265.0L1445.2,265.2L1445.1,265.3L1445.1,265.4L1445.1,265.5L1445.1,265.6L1445.1,265.8L1445.3,267.7L1445.3,267.8L1445.3,267.9L1445.4,268.0L1445.4,268.1L1445.5,268.2L1445.5,268.3L1445.6,268.4L1445.7,268.4L1445.8,268.5L1445.9,268.6L1446.0,268.6L1449.5,270.3L1449.6,270.4L1449.7,270.4L1449.9,270.4L1450.0,270.4L1450.1,270.4L1450.2,270.4L1450.3,270.4L1450.4,270.4L1450.5,270.3L1452.7,269.4L1452.8,269.4L1452.9,269.3L1453.0,269.2L1453.1,269.1L1453.2,269.0L1453.3,268.9L1453.3,268.8ZM1426.8,263.3L1426.7,263.4L1426.6,263.4L1426.5,263.5L1426.4,263.6L1426.4,263.7L1426.3,263.8L1426.3,263.9L1426.2,264.0L1426.2,264.1L1426.2,264.2L1426.2,264.3L1426.2,264.5L1426.2,264.6L1427.3,270.9L1427.3,271.0L1427.4,271.1L1427.4,271.2L1427.5,271.3L1427.6,271.4L1427.6,271.5L1427.7,271.6L1427.8,271.7L1427.9,271.7L1428.0,271.8L1428.1,271.8L1428.3,271.8L1433.2,272.8L1433.3,272.8L1433.4,272.8L1433.5,272.8L1433.6,272.8L1433.8,272.8L1433.9,272.7L1434.0,272.7L1434.1,272.6L1434.2,272.5L1434.3,272.4L1434.3,272.3L1434.4,272.2L1434.5,272.1L1434.9,271.3L1434.9,271.2L1435.0,271.1L1435.0,270.9L1435.0,270.8L1435.0,270.7L1434.6,266.0L1434.6,265.8L1434.6,265.7L1434.5,265.6L1434.5,265.5L1434.4,265.4L1434.3,265.3L1434.3,265.2L1434.2,265.1L1434.1,265.1L1434.0,265.0L1433.9,264.9L1433.7,264.9L1427.7,263.2L1427.6,263.2L1427.5,263.2L1427.4,263.2L1427.2,263.2L1427.1,263.2L1427.0,263.2L1426.9,263.3ZM1437.9,278.1L1438.0,278.1L1438.1,278.1L1438.3,278.1L1438.4,278.1L1438.5,278.1L1445.4,277.0L1445.5,277.0L1445.6,277.0L1445.7,276.9L1445.9,276.9L1446.0,276.8L1446.0,276.7L1446.1,276.6L1446.2,276.5L1446.3,276.4L1448.1,273.1L1448.1,273.0L1448.2,272.9L1448.2,272.8L1448.2,272.7L1448.2,272.6L1448.2,272.5L1448.2,272.3L1448.2,272.2L1448.1,272.1L1448.1,272.0L1448.0,271.9L1448.0,271.8L1447.9,271.7L1447.8,271.7L1447.7,271.6L1447.6,271.5L1447.5,271.5L1444.8,270.1L1444.6,270.1L1444.5,270.1L1444.4,270.0L1444.3,270.0L1444.2,270.0L1444.1,270.0L1443.9,270.1L1437.2,271.9L1437.1,271.9L1437.0,271.9L1436.9,272.0L1436.8,272.1L1436.7,272.1L1436.6,272.2L1436.5,272.3L1436.5,272.4L1436.4,272.5L1435.9,273.6L1435.8,273.7L1435.8,273.9L1435.8,274.0L1435.7,274.1L1435.7,274.2L1435.8,274.3L1435.8,274.5L1435.8,274.6L1436.0,275.2L1436.1,275.3L1437.2,277.5L1437.3,277.6L1437.4,277.7L1437.4,277.8L1437.5,277.8L1437.6,277.9L1437.7,278.0L1437.8,278.0ZM1453.7,271.2L1453.6,271.2L1453.5,271.2L1453.4,271.2L1453.2,271.3L1451.1,272.2L1451.0,272.2L1450.9,272.3L1450.8,272.3L1450.7,272.4L1450.6,272.5L1450.5,272.6L1450.5,272.7L1448.1,277.1L1448.0,277.2L1448.0,277.3L1447.9,277.4L1447.9,277.6L1447.9,277.7L1447.9,277.8L1447.9,277.9L1448.0,278.0L1448.0,278.1L1448.1,278.3L1448.1,278.4L1450.3,281.6L1450.4,281.7L1450.5,281.8L1450.5,281.8L1450.6,281.9L1450.7,282.0L1450.8,282.0L1451.0,282.1L1451.1,282.1L1451.2,282.1L1451.3,282.1L1451.4,282.1L1451.5,282.1L1451.6,282.1L1451.8,282.0L1455.7,280.4L1455.8,280.4L1455.9,280.3L1456.0,280.2L1456.1,280.2L1456.2,280.1L1456.3,280.0L1456.3,279.9L1456.4,279.8L1456.4,279.7L1456.4,279.6L1456.5,279.4L1456.5,279.3L1456.5,279.2L1456.5,279.1L1455.4,272.7L1455.4,272.5L1455.3,272.4L1455.3,272.3L1455.2,272.2L1455.1,272.1L1455.1,272.0L1454.5,271.5L1454.5,271.4L1454.4,271.4L1454.3,271.3L1454.2,271.2L1454.0,271.2L1453.9,271.2L1453.8,271.2ZM1424.0,283.9L1424.0,284.0L1424.0,284.1L1424.0,284.3L1424.0,284.4L1424.0,284.5L1424.0,284.6L1424.1,284.7L1424.2,284.8L1424.2,284.9L1424.3,285.0L1424.4,285.1L1424.5,285.2L1424.6,285.2L1426.9,286.5L1427.0,286.5L1427.1,286.6L1427.2,286.6L1427.3,286.6L1427.4,286.6L1427.6,286.6L1427.7,286.6L1427.8,286.6L1427.9,286.5L1428.0,286.5L1428.1,286.4L1432.1,284.0L1432.2,284.0L1432.3,283.9L1432.4,283.8L1432.5,283.7L1432.5,283.6L1435.4,279.3L1435.4,279.2L1435.5,279.1L1435.5,279.0L1435.5,278.9L1435.5,278.8L1435.5,278.7L1435.5,278.5L1435.5,278.4L1435.5,278.3L1435.5,278.2L1435.4,278.1L1435.4,278.1L1435.4,278.0L1435.3,277.9L1435.2,277.8L1435.1,277.7L1435.0,277.7L1434.9,277.6L1434.8,277.5L1434.7,277.5L1434.6,277.5L1434.5,277.5L1434.4,277.4L1434.3,277.4L1434.2,277.5L1434.0,277.5L1433.9,277.5L1433.8,277.6L1433.7,277.6L1424.5,283.1L1424.4,283.2L1424.3,283.3L1424.3,283.4L1424.2,283.5L1424.1,283.6L1424.1,283.7L1424.0,283.8ZM1445.2,288.8L1445.3,288.8L1445.5,288.8L1445.6,288.8L1445.7,288.8L1445.8,288.8L1445.9,288.7L1446.0,288.7L1446.1,288.6L1446.2,288.5L1448.3,286.9L1448.4,286.8L1448.5,286.8L1448.6,286.7L1448.6,286.6L1448.7,286.5L1448.7,286.4L1448.8,286.3L1449.3,284.3L1449.3,284.2L1449.4,284.0L1449.4,283.9L1449.4,283.8L1449.3,283.7L1449.3,283.6L1449.3,283.5L1449.2,283.4L1449.2,283.3L1446.6,279.5L1446.5,279.4L1446.4,279.3L1446.3,279.2L1446.3,279.1L1446.2,279.1L1446.1,279.0L1446.0,279.0L1445.8,279.0L1445.7,279.0L1445.6,278.9L1445.5,278.9L1445.4,279.0L1441.2,279.6L1441.1,279.6L1441.0,279.7L1440.9,279.7L1440.8,279.8L1440.7,279.8L1440.6,279.9L1440.5,280.0L1440.5,280.1L1440.4,280.2L1440.3,280.3L1440.3,280.4L1440.3,280.5L1440.2,280.6L1440.2,280.7L1440.2,280.9L1440.2,281.0L1440.3,281.1L1440.3,281.2L1440.3,281.3L1440.4,281.4L1444.5,288.2L1444.5,288.3L1444.6,288.4L1444.7,288.5L1444.8,288.6L1444.9,288.6L1445.0,288.7L1445.1,288.7ZM1437.5,281.0L1437.4,280.9L1437.3,280.9L1437.2,280.9L1437.1,280.9L1437.0,281.0L1436.8,281.0L1436.7,281.0L1436.6,281.1L1436.5,281.1L1436.4,281.2L1436.4,281.3L1436.3,281.4L1436.2,281.5L1434.7,283.8L1434.6,283.9L1434.6,284.0L1434.5,284.1L1434.5,284.2L1434.5,284.3L1434.5,284.5L1434.5,284.6L1434.5,284.7L1434.5,284.8L1434.6,284.9L1434.6,285.0L1434.7,285.1L1434.7,285.2L1437.4,288.5L1437.4,288.6L1437.5,288.7L1437.6,288.8L1437.7,288.8L1437.9,288.9L1438.0,288.9L1438.1,289.0L1438.2,289.0L1440.6,289.2L1440.7,289.2L1440.9,289.2L1441.0,289.1L1441.1,289.1L1441.2,289.1L1441.3,289.0L1441.4,289.0L1441.5,288.9L1441.6,288.8L1441.7,288.7L1441.7,288.6L1441.8,288.5L1441.8,288.4L1441.9,288.3L1441.9,288.2L1441.9,288.0L1441.9,287.9L1441.9,287.8L1441.9,287.7L1441.8,287.6L1441.8,287.5L1441.7,287.4L1438.2,281.5L1438.2,281.4L1438.1,281.3L1438.0,281.2L1437.9,281.2L1437.8,281.1L1437.7,281.0L1437.6,281.0ZM1451.2,284.7L1451.1,284.8L1450.9,285.8L1450.8,285.9L1450.8,286.0L1450.8,286.1L1450.8,286.3L1450.9,286.4L1450.9,286.5L1450.9,286.6L1451.0,286.7L1451.0,286.8L1451.1,286.9L1451.2,287.0L1451.3,287.1L1451.4,287.1L1451.5,287.2L1456.0,289.5L1456.1,289.6L1456.2,289.6L1456.4,289.6L1456.5,289.6L1456.6,289.6L1456.7,289.6L1456.8,289.6L1457.0,289.6L1457.1,289.5L1457.2,289.5L1457.3,289.4L1461.5,286.2L1461.6,286.2L1461.7,286.1L1461.7,286.0L1461.8,285.9L1461.9,285.8L1461.9,285.7L1461.9,285.5L1462.0,285.4L1462.0,285.3L1462.0,285.2L1462.0,285.1L1461.9,284.9L1461.9,284.8L1461.8,284.7L1461.8,284.6L1461.7,284.5L1461.6,284.4L1461.5,284.3L1461.4,284.3L1458.1,282.1L1458.0,282.0L1457.9,282.0L1457.8,281.9L1457.7,281.9L1457.6,281.9L1457.4,281.9L1457.3,281.9L1457.2,281.9L1457.1,281.9L1457.0,282.0L1451.8,284.0L1451.7,284.1L1451.6,284.2L1451.5,284.2L1451.4,284.3L1451.4,284.4L1451.3,284.5L1451.2,284.6ZM1432.7,286.2L1432.6,286.2L1432.5,286.2L1432.3,286.2L1432.2,286.2L1432.1,286.3L1432.0,286.3L1431.9,286.4L1429.3,287.9L1429.2,288.0L1429.1,288.1L1429.0,288.2L1429.0,288.3L1428.9,288.4L1428.8,288.5L1428.8,288.6L1428.8,288.7L1428.7,288.8L1428.7,288.9L1428.7,289.1L1428.8,289.2L1429.6,293.2L1429.6,293.3L1429.6,293.4L1429.7,293.5L1429.8,293.6L1429.8,293.7L1429.9,293.8L1430.0,293.9L1431.4,295.0L1431.5,295.1L1431.6,295.1L1431.7,295.2L1431.8,295.2L1431.9,295.2L1432.0,295.3L1432.2,295.3L1432.3,295.2L1432.7,295.2L1432.8,295.2L1432.9,295.2L1433.0,295.2L1433.1,295.2L1442.6,297.4L1442.7,297.5L1442.8,297.5L1442.9,297.5L1443.1,297.5L1443.2,297.4L1443.3,297.4L1443.4,297.3L1443.5,297.3L1443.6,297.2L1443.7,297.1L1443.8,297.1L1443.8,297.0L1443.9,296.9L1444.0,296.7L1444.0,296.6L1444.0,296.5L1444.0,296.4L1444.1,296.3L1444.1,292.5L1444.1,292.3L1444.0,292.2L1444.0,292.1L1444.0,292.0L1443.9,291.9L1443.9,291.8L1443.8,291.7L1443.7,291.6L1443.6,291.5L1443.5,291.5L1443.4,291.4L1443.3,291.3L1443.2,291.3L1443.1,291.3L1443.0,291.3L1437.2,290.8L1437.0,290.8L1436.9,290.8L1436.8,290.7L1436.7,290.7L1436.7,290.6L1436.6,290.6L1436.5,290.5L1436.4,290.4L1433.5,286.7L1433.4,286.6L1433.3,286.5L1433.2,286.4L1433.1,286.4L1433.0,286.3L1432.9,286.3L1432.8,286.2ZM1430.2,296.6L1430.2,296.5L1430.1,296.4L1430.0,296.3L1429.3,295.8L1429.2,295.7L1429.1,295.7L1429.0,295.6L1428.9,295.6L1428.8,295.5L1428.8,295.5L1430.4,297.8L1430.4,297.4L1430.5,297.3L1430.4,297.1L1430.4,297.0L1430.4,296.9L1430.4,296.8L1430.3,296.7ZM1432.8,297.5L1432.7,297.5L1432.6,297.6L1432.5,297.7L1432.5,297.8L1432.4,297.9L1432.3,298.0L1432.3,298.1L1432.3,298.2L1432.3,298.3L1432.1,300.2L1437.6,307.9L1437.6,307.8L1437.7,307.7L1437.8,307.7L1437.8,307.6L1437.9,307.5L1441.6,300.7L1441.7,300.6L1441.7,300.5L1441.7,300.4L1441.8,300.3L1441.8,300.2L1441.8,300.1L1441.8,299.9L1441.7,299.8L1441.7,299.7L1441.6,299.6L1441.6,299.5L1441.5,299.4L1441.4,299.3L1441.4,299.2L1441.3,299.2L1441.2,299.1L1441.1,299.1L1441.0,299.0L1440.9,299.0L1433.7,297.3L1433.6,297.3L1433.5,297.3L1433.4,297.3L1433.3,297.3L1433.1,297.3L1433.0,297.3L1432.9,297.4ZM1444.8,299.4L1444.7,299.5L1444.6,299.5L1444.5,299.6L1444.4,299.7L1444.4,299.8L1444.3,299.9L1444.2,300.0L1440.0,307.6L1440.0,307.7L1439.9,307.8L1439.9,307.9L1439.9,308.0L1439.9,308.1L1439.9,308.3L1439.9,308.4L1439.9,308.5L1439.9,308.6L1440.0,308.7L1440.0,308.8L1440.1,308.9L1440.2,309.0L1440.3,309.1L1440.4,309.1L1443.3,311.3L1443.4,311.3L1443.5,311.4L1443.6,311.4L1443.7,311.5L1443.9,311.5L1444.0,311.5L1444.1,311.5L1444.2,311.5L1444.3,311.4L1444.4,311.4L1444.5,311.4L1444.6,311.3L1444.7,311.3L1444.8,311.2L1444.9,311.1L1445.0,311.0L1445.0,310.9L1450.1,302.9L1450.2,302.8L1450.2,302.7L1450.2,302.5L1450.3,302.4L1450.3,302.3L1450.3,302.2L1450.3,302.1L1450.3,302.0L1450.2,301.8L1450.2,301.7L1450.1,301.6L1450.0,301.5L1450.0,301.4L1449.9,301.3L1449.8,301.3L1449.7,301.2L1449.6,301.1L1445.8,299.4L1445.7,299.4L1445.5,299.4L1445.4,299.3L1445.3,299.3L1445.2,299.3L1445.1,299.4L1445.0,299.4ZM1451.7,305.3L1451.6,305.3L1451.4,305.3L1451.3,305.3L1451.2,305.4L1451.1,305.4L1451.0,305.4L1450.9,305.5L1450.8,305.5L1450.7,305.6L1450.6,305.7L1450.5,305.8L1450.5,305.9L1446.2,312.7L1446.1,312.8L1446.1,312.9L1446.0,313.0L1446.0,313.1L1446.0,313.2L1446.0,313.4L1446.0,313.5L1446.0,313.6L1446.0,313.7L1446.1,313.8L1446.1,313.9L1446.2,314.0L1446.3,314.2L1446.4,314.3L1446.5,314.4L1446.5,314.5L1446.6,314.5L1446.7,314.6L1446.9,314.6L1447.0,314.7L1447.1,314.7L1447.2,314.7L1451.5,315.0L1451.6,315.0L1451.7,315.0L1451.9,315.0L1452.0,315.0L1452.1,314.9L1452.2,314.9L1452.3,314.8L1454.2,313.3L1454.3,313.3L1454.3,313.2L1454.4,313.1L1454.5,313.0L1454.5,312.9L1454.6,312.8L1454.6,312.7L1454.6,312.6L1454.6,312.5L1454.6,312.3L1454.5,309.9L1454.5,309.8L1454.5,309.7L1454.5,309.6L1454.4,309.5L1454.4,309.4L1452.5,306.0L1452.5,305.9L1452.4,305.8L1452.3,305.7L1452.2,305.6L1452.1,305.5L1452.0,305.5L1451.9,305.4L1451.8,305.4ZM1444.7,315.4L1444.7,315.2L1444.6,315.1L1444.6,315.0L1444.1,314.2L1444.0,314.1L1443.9,314.0L1443.8,314.0L1443.7,313.9L1439.4,310.8L1443.3,318.6L1444.6,316.3L1444.7,316.2L1444.7,316.0L1444.7,315.9L1444.8,315.8L1444.8,315.7L1444.8,315.6L1444.8,315.5ZM1446.5,316.9L1446.5,317.0L1446.4,317.1L1446.3,317.2L1446.2,317.3L1444.3,320.7L1448.2,328.3L1452.8,326.0L1452.9,326.0L1453.0,325.9L1453.0,325.8L1453.1,325.7L1453.2,325.6L1453.3,325.5L1453.3,325.4L1453.4,325.3L1453.4,325.2L1453.4,325.1L1453.4,325.0L1453.4,324.9L1453.4,324.8L1453.4,324.7L1451.7,317.8L1451.7,317.7L1451.6,317.6L1451.6,317.5L1451.5,317.4L1451.4,317.3L1451.3,317.2L1451.3,317.1L1451.2,317.0L1451.1,317.0L1450.9,316.9L1450.8,316.9L1450.7,316.9L1450.6,316.9L1447.4,316.6L1447.3,316.6L1447.2,316.6L1447.0,316.7L1446.9,316.7L1446.8,316.7L1446.7,316.8L1446.6,316.8ZM1453.0,338.6L1453.1,338.5L1453.2,338.5L1453.4,338.5L1453.5,338.4L1453.6,338.4L1453.7,338.3L1453.8,338.2L1453.8,338.2L1453.9,338.1L1454.0,338.0L1458.8,329.7L1458.8,329.6L1458.9,329.5L1458.9,329.4L1458.9,329.3L1458.9,329.2L1458.9,329.1L1458.9,328.9L1458.9,328.8L1458.9,328.7L1458.8,328.6L1458.8,328.5L1458.7,328.4L1458.6,328.3L1458.6,328.2L1458.5,328.2L1458.4,328.1L1458.3,328.0L1458.2,328.0L1458.1,328.0L1455.3,327.2L1455.1,327.2L1455.0,327.2L1454.9,327.2L1454.8,327.2L1454.7,327.2L1454.5,327.3L1454.4,327.3L1449.0,330.0L1452.2,338.3L1452.2,338.3L1452.3,338.4L1452.4,338.4L1452.5,338.5L1452.6,338.5L1452.8,338.5L1452.9,338.6ZM1459.8,244.6L1459.9,244.6L1460.0,244.7L1460.1,244.7L1460.2,244.7L1460.4,244.7L1460.5,244.7L1460.6,244.7L1460.7,244.7L1460.8,244.6L1460.9,244.6L1461.0,244.5L1461.9,243.9L1462.0,243.9L1462.1,243.8L1462.2,243.7L1462.2,243.6L1462.3,243.5L1462.4,243.4L1462.4,243.3L1462.4,243.2L1458.9,242.9L1459.2,243.9L1459.3,244.0L1459.3,244.1L1459.4,244.2L1459.4,244.3L1459.5,244.4L1459.6,244.5L1459.7,244.5ZM1471.9,245.4L1472.0,245.3L1472.1,245.3L1472.2,245.3L1472.3,245.2L1473.8,244.6L1473.9,244.6L1474.0,244.5L1474.0,244.5L1474.1,244.5L1474.2,244.5L1474.3,244.5L1478.2,245.2L1478.3,245.2L1478.4,245.2L1478.5,245.2L1478.7,245.2L1478.8,245.2L1478.9,245.1L1479.0,245.1L1479.0,245.0L1470.5,244.1L1470.5,244.2L1470.5,244.3L1470.5,244.4L1470.6,244.5L1470.6,244.6L1470.7,244.7L1470.8,244.8L1471.0,245.0L1471.1,245.1L1471.2,245.2L1471.3,245.2L1471.4,245.3L1471.5,245.3L1471.6,245.3L1471.8,245.3ZM1481.4,246.0L1484.3,248.0L1484.4,248.0L1484.5,248.1L1484.6,248.1L1484.7,248.2L1484.8,248.2L1484.9,248.2L1485.0,248.2L1485.2,248.2L1485.3,248.2L1485.4,248.1L1485.5,248.1L1485.6,248.0L1485.9,247.8L1486.1,245.8L1480.9,245.3L1481.0,245.3L1481.0,245.4L1481.0,245.5L1481.1,245.6L1481.2,245.7L1481.2,245.8L1481.3,245.9ZM1455.4,249.1L1455.4,249.2L1455.4,249.3L1455.4,249.4L1455.5,249.5L1455.5,249.6L1455.6,249.7L1455.6,249.8L1455.7,249.9L1455.8,250.0L1455.9,250.1L1455.9,250.2L1456.0,250.2L1456.2,250.3L1456.3,250.3L1456.4,250.4L1456.5,250.4L1456.6,250.4L1456.7,250.4L1460.1,250.1L1460.2,250.1L1460.3,250.1L1460.4,250.0L1460.5,250.0L1460.6,249.9L1460.7,249.9L1460.8,249.8L1460.9,249.7L1461.0,249.6L1461.0,249.5L1461.1,249.4L1461.1,249.3L1461.2,249.2L1461.2,249.1L1461.2,248.9L1461.2,248.8L1461.2,248.7L1461.1,248.6L1461.1,248.3L1461.0,248.2L1461.0,248.1L1460.9,248.0L1460.1,246.6L1460.0,246.5L1459.9,246.4L1459.9,246.3L1459.8,246.3L1459.7,246.2L1459.6,246.1L1459.4,246.1L1459.3,246.1L1459.2,246.0L1459.1,246.0L1459.0,246.0L1458.8,246.1L1458.7,246.1L1458.6,246.1L1458.5,246.2L1458.4,246.2L1458.3,246.3L1455.9,248.3L1455.8,248.3L1455.7,248.4L1455.6,248.5L1455.6,248.6L1455.5,248.7L1455.5,248.8L1455.5,248.9ZM1466.5,251.4L1466.6,251.5L1466.7,251.6L1466.8,251.7L1466.9,251.7L1467.0,251.8L1467.1,251.9L1467.2,251.9L1467.3,251.9L1467.4,252.0L1467.5,252.0L1467.6,252.0L1467.7,252.0L1467.9,251.9L1468.0,251.9L1468.1,251.9L1468.2,251.8L1468.3,251.7L1468.4,251.7L1470.3,250.0L1470.3,249.9L1470.4,249.8L1470.5,249.7L1470.5,249.6L1470.6,249.5L1470.6,249.4L1470.6,249.3L1470.7,249.1L1470.7,247.2L1470.7,247.1L1470.7,247.0L1470.7,246.9L1470.6,246.7L1470.6,246.6L1470.5,246.5L1470.4,246.4L1470.4,246.3L1469.5,245.5L1469.4,245.4L1469.3,245.3L1469.2,245.3L1469.1,245.2L1469.0,245.2L1468.9,245.1L1468.7,245.1L1468.6,245.1L1468.5,245.1L1468.4,245.1L1468.3,245.2L1468.1,245.2L1468.0,245.3L1467.9,245.3L1467.8,245.4L1467.8,245.5L1467.7,245.6L1467.6,245.8L1467.5,245.9L1467.4,246.0L1467.4,246.1L1467.4,246.2L1466.4,250.5L1466.4,250.6L1466.4,250.7L1466.4,250.9L1466.4,251.0L1466.4,251.1L1466.4,251.2L1466.5,251.3ZM1472.4,249.5L1472.5,249.6L1472.5,249.6L1472.6,249.7L1472.7,249.8L1472.8,249.8L1475.9,251.0L1476.1,251.1L1476.2,251.1L1476.3,251.1L1476.4,251.1L1476.5,251.1L1476.6,251.1L1476.8,251.0L1476.9,251.0L1477.0,250.9L1477.1,250.9L1477.2,250.8L1477.3,250.7L1477.3,250.6L1477.4,250.5L1477.5,250.4L1477.5,250.3L1477.5,250.2L1478.1,247.9L1478.1,247.8L1478.1,247.7L1478.1,247.6L1478.1,247.5L1478.1,247.3L1478.1,247.2L1478.0,247.1L1478.0,247.0L1477.9,246.9L1477.8,246.8L1477.7,246.8L1477.7,246.7L1477.6,246.6L1477.5,246.6L1477.4,246.5L1477.2,246.5L1477.1,246.5L1474.6,246.0L1474.5,246.0L1474.3,246.0L1474.2,246.0L1474.1,246.0L1474.0,246.1L1473.9,246.1L1472.8,246.6L1472.7,246.6L1472.6,246.7L1472.5,246.8L1472.4,246.9L1472.3,246.9L1472.3,247.0L1472.2,247.2L1472.2,247.3L1472.1,247.4L1472.1,247.5L1472.1,247.6L1472.1,248.6L1472.1,248.8L1472.1,248.9L1472.1,249.0L1472.1,249.1L1472.2,249.2L1472.2,249.3L1472.3,249.4ZM1462.8,248.5L1462.8,248.6L1462.8,248.7L1462.8,248.8L1462.7,249.0L1462.8,249.1L1462.8,249.2L1462.8,249.3L1462.9,249.6L1462.9,249.7L1463.0,249.8L1463.0,249.9L1463.1,250.0L1463.2,250.1L1463.2,250.1L1463.3,250.2L1463.4,250.3L1463.5,250.3L1463.7,250.4L1463.8,250.4L1463.9,250.4L1464.0,250.4L1464.1,250.4L1464.2,250.4L1464.3,250.4L1464.5,250.3L1464.6,250.3L1464.7,250.2L1464.8,250.2L1464.9,250.1L1464.9,250.0L1465.0,249.9L1465.1,249.8L1465.1,249.7L1465.2,249.6L1465.2,249.5L1465.3,249.2L1465.3,249.1L1465.3,248.9L1465.3,248.8L1465.3,248.7L1465.2,248.6L1465.2,248.5L1465.2,248.4L1465.1,248.3L1465.0,248.2L1464.9,248.1L1464.9,248.0L1464.8,247.9L1464.7,247.9L1464.5,247.8L1464.4,247.8L1464.3,247.7L1464.2,247.7L1464.1,247.7L1464.0,247.7L1463.8,247.7L1463.7,247.8L1463.6,247.8L1463.5,247.9L1463.4,247.9L1463.3,248.0L1463.2,248.1L1463.1,248.1L1463.0,248.2L1462.9,248.3L1462.9,248.4ZM1480.4,247.4L1480.3,247.4L1480.2,247.5L1480.1,247.5L1480.0,247.6L1479.9,247.6L1479.8,247.7L1479.7,247.8L1479.6,247.9L1479.6,248.0L1479.5,248.1L1479.5,248.2L1479.4,248.3L1479.0,250.3L1478.9,250.4L1478.9,250.5L1478.9,250.6L1478.9,250.7L1479.0,250.9L1479.0,251.0L1479.1,251.1L1479.1,251.2L1479.2,251.3L1479.3,251.4L1479.3,251.5L1479.4,251.5L1479.5,251.6L1480.0,251.9L1480.1,251.9L1480.2,252.0L1480.3,252.0L1480.4,252.0L1480.5,252.0L1480.6,252.0L1482.6,252.0L1482.7,252.0L1482.8,252.0L1482.9,251.9L1483.0,251.9L1483.1,251.8L1483.2,251.8L1483.3,251.7L1483.4,251.6L1483.5,251.5L1483.5,251.4L1483.6,251.3L1483.6,251.2L1483.7,251.1L1483.9,250.4L1483.9,250.3L1483.9,250.2L1483.9,250.0L1483.9,249.9L1483.9,249.8L1483.9,249.7L1483.8,249.6L1483.7,249.5L1483.7,249.4L1483.6,249.3L1483.5,249.2L1483.4,249.1L1481.3,247.6L1481.2,247.5L1481.1,247.5L1481.0,247.4L1480.9,247.4L1480.8,247.4L1480.6,247.4L1480.5,247.4ZM1485.0,252.8L1485.1,252.9L1485.2,253.0L1485.6,253.5L1485.8,249.5L1485.8,249.6L1485.7,249.6L1485.6,249.7L1485.5,249.8L1485.5,249.9L1485.4,250.1L1485.4,250.2L1484.9,251.9L1484.9,252.0L1484.9,252.1L1484.9,252.2L1484.9,252.3L1484.9,252.4L1484.9,252.6L1485.0,252.7ZM1461.3,252.5L1461.3,252.4L1461.2,252.3L1461.2,252.2L1461.1,252.1L1461.0,252.0L1461.0,251.9L1460.9,251.8L1460.8,251.7L1460.7,251.7L1460.6,251.6L1460.5,251.6L1460.4,251.6L1460.2,251.5L1460.1,251.5L1460.0,251.5L1456.6,251.8L1456.5,251.8L1456.4,251.8L1456.2,251.9L1456.1,251.9L1456.0,252.0L1455.9,252.1L1455.9,252.1L1455.8,252.2L1455.7,252.3L1455.6,252.4L1455.6,252.5L1455.5,252.6L1455.5,252.7L1455.5,252.8L1455.5,253.0L1455.5,253.1L1455.5,253.2L1455.5,253.3L1455.6,253.4L1455.6,253.5L1456.2,254.8L1456.3,254.9L1456.4,255.0L1456.4,255.1L1456.5,255.2L1456.6,255.3L1456.7,255.3L1457.9,256.0L1458.0,256.0L1458.1,256.1L1458.2,256.1L1458.3,256.1L1458.4,256.1L1458.5,256.1L1458.6,256.1L1458.8,256.1L1458.9,256.1L1459.0,256.0L1459.1,256.0L1459.2,255.9L1459.3,255.8L1459.3,255.7L1459.4,255.6L1461.1,253.4L1461.1,253.3L1461.2,253.2L1461.2,253.1L1461.3,253.0L1461.3,252.9L1461.3,252.8L1461.3,252.7ZM1468.7,253.7L1468.7,253.8L1468.8,253.9L1468.8,254.0L1469.5,257.0L1469.5,257.1L1469.6,257.2L1469.6,257.3L1469.7,257.4L1469.8,257.5L1469.9,257.6L1469.9,257.7L1470.0,257.7L1470.1,257.8L1470.3,257.8L1470.4,257.9L1470.5,257.9L1470.6,257.9L1470.7,257.9L1470.8,257.9L1473.3,257.6L1473.4,257.6L1473.5,257.6L1473.6,257.5L1473.7,257.5L1473.8,257.4L1473.9,257.4L1474.0,257.3L1474.1,257.2L1474.2,257.1L1474.2,257.0L1474.3,256.9L1474.3,256.8L1475.4,253.5L1475.4,253.4L1475.4,253.3L1475.4,253.1L1475.4,253.0L1475.4,252.9L1475.4,252.8L1475.3,252.7L1475.3,252.6L1475.2,252.5L1475.1,252.4L1475.0,252.3L1475.0,252.2L1474.9,252.1L1474.8,252.1L1474.6,252.0L1472.2,251.0L1472.0,251.0L1471.9,251.0L1471.8,251.0L1471.7,251.0L1471.6,251.0L1471.4,251.0L1471.3,251.0L1471.2,251.1L1471.1,251.1L1471.0,251.2L1470.9,251.3L1469.1,252.9L1469.1,252.9L1469.0,253.0L1468.9,253.1L1468.9,253.2L1468.8,253.3L1468.8,253.5L1468.8,253.6ZM1481.2,256.3L1481.3,256.3L1481.4,256.4L1481.5,256.5L1481.6,256.5L1481.7,256.6L1481.8,256.6L1481.9,256.6L1482.1,256.6L1482.2,256.6L1482.3,256.6L1483.8,256.2L1483.9,256.2L1484.0,256.1L1484.1,256.1L1484.2,256.0L1484.3,255.9L1484.4,255.9L1484.5,255.8L1484.5,255.7L1484.6,255.6L1484.6,255.5L1484.7,255.4L1484.7,255.2L1484.7,255.1L1484.7,255.0L1484.7,254.9L1484.7,254.8L1484.7,254.7L1484.6,254.6L1484.6,254.5L1484.5,254.4L1484.4,254.3L1484.0,253.8L1484.0,253.7L1483.9,253.6L1483.8,253.6L1483.7,253.5L1483.6,253.5L1483.4,253.4L1483.3,253.4L1483.2,253.4L1483.1,253.4L1482.0,253.4L1481.9,253.4L1481.8,253.4L1481.6,253.5L1481.5,253.5L1481.4,253.5L1481.3,253.6L1481.2,253.7L1481.2,253.8L1481.1,253.8L1481.0,253.9L1481.0,254.0L1480.9,254.1L1480.9,254.3L1480.8,254.4L1480.8,254.5L1480.8,254.6L1480.8,255.4L1480.8,255.5L1480.8,255.6L1480.9,255.8L1480.9,255.9L1481.0,256.0L1481.0,256.1L1481.1,256.2ZM1475.8,257.8L1475.9,257.9L1476.0,258.0L1476.0,258.0L1476.1,258.1L1476.2,258.2L1476.3,258.3L1476.4,258.3L1476.5,258.3L1476.7,258.4L1476.8,258.4L1476.9,258.4L1477.0,258.4L1477.1,258.4L1477.2,258.4L1477.3,258.3L1477.4,258.3L1477.6,258.2L1477.6,258.2L1477.7,258.1L1477.8,258.0L1479.1,256.5L1479.2,256.4L1479.3,256.3L1479.3,256.2L1479.4,256.1L1479.4,255.9L1479.4,255.8L1479.4,255.7L1479.4,253.8L1479.4,253.7L1479.4,253.6L1479.4,253.5L1479.3,253.4L1479.3,253.3L1479.2,253.2L1479.2,253.1L1479.1,253.0L1479.0,252.9L1478.9,252.9L1478.8,252.8L1478.6,252.7L1478.5,252.6L1478.4,252.6L1478.3,252.6L1478.2,252.5L1478.0,252.5L1477.9,252.5L1477.8,252.5L1477.7,252.6L1477.6,252.6L1477.5,252.7L1477.4,252.7L1477.3,252.8L1477.2,252.9L1477.1,252.9L1477.0,253.0L1477.0,253.1L1476.9,253.2L1476.9,253.4L1475.8,256.8L1475.7,257.0L1475.7,257.1L1475.7,257.2L1475.7,257.3L1475.7,257.4L1475.8,257.5L1475.8,257.6ZM1460.1,257.8L1460.1,257.9L1460.1,258.0L1460.2,258.1L1460.2,258.2L1460.3,258.3L1460.4,258.4L1460.5,258.5L1460.6,258.6L1460.7,258.6L1460.8,258.7L1460.9,258.7L1461.0,258.7L1461.1,258.7L1461.2,258.8L1467.0,258.7L1467.1,258.7L1467.2,258.7L1467.3,258.6L1467.4,258.6L1467.5,258.5L1467.6,258.5L1467.7,258.4L1467.8,258.3L1467.9,258.2L1468.0,258.1L1468.0,258.0L1468.1,257.9L1468.1,257.8L1468.1,257.7L1468.2,257.6L1468.2,257.4L1468.1,257.3L1468.1,257.2L1467.4,254.2L1467.3,254.1L1467.3,253.9L1467.2,253.8L1467.2,253.7L1467.1,253.6L1467.0,253.6L1466.9,253.5L1466.8,253.4L1466.7,253.4L1465.3,252.8L1465.1,252.7L1465.0,252.7L1464.3,252.5L1464.2,252.5L1464.1,252.5L1463.9,252.5L1463.8,252.6L1463.7,252.6L1463.6,252.6L1463.5,252.7L1463.4,252.8L1463.3,252.8L1463.2,252.9L1463.1,253.0L1460.3,256.8L1460.2,256.9L1460.1,257.0L1460.1,257.1L1460.1,257.3L1460.0,257.4L1460.0,257.5L1460.0,257.6L1460.0,257.7ZM1482.7,258.3L1482.6,258.4L1481.8,260.4L1481.8,260.5L1481.8,260.6L1481.7,260.7L1481.7,260.9L1481.7,261.0L1481.8,261.1L1481.8,261.2L1481.8,261.3L1481.9,261.4L1481.9,261.5L1482.0,261.6L1482.1,261.7L1482.2,261.8L1482.3,261.8L1482.4,261.9L1482.5,262.0L1482.6,262.0L1482.7,262.0L1484.2,262.4L1484.3,262.4L1484.4,262.4L1484.6,262.4L1484.7,262.4L1484.8,262.4L1484.9,262.3L1485.0,262.3L1485.1,262.3L1485.1,261.9L1485.3,258.2L1485.3,258.2L1485.3,258.1L1485.2,258.0L1485.1,257.9L1485.0,257.8L1484.9,257.7L1484.8,257.7L1484.7,257.6L1484.6,257.6L1484.5,257.6L1484.3,257.6L1484.2,257.6L1484.1,257.6L1484.0,257.6L1483.5,257.7L1483.4,257.8L1483.3,257.8L1483.2,257.9L1483.1,257.9L1483.0,258.0L1482.9,258.1L1482.8,258.1L1482.7,258.2ZM1466.8,261.4L1466.8,261.3L1466.8,261.2L1466.8,261.0L1466.8,260.9L1466.7,260.8L1466.7,260.7L1466.6,260.6L1466.5,260.5L1466.5,260.4L1466.4,260.4L1466.3,260.3L1466.2,260.2L1466.1,260.2L1466.0,260.2L1465.8,260.1L1465.7,260.1L1465.6,260.1L1461.1,260.2L1461.0,260.2L1460.9,260.2L1460.8,260.2L1460.6,260.2L1460.5,260.3L1460.4,260.4L1460.4,260.4L1460.3,260.5L1460.2,260.6L1460.1,260.7L1460.1,260.8L1460.0,260.9L1460.0,261.0L1459.6,262.3L1459.5,262.4L1459.5,262.5L1459.5,262.6L1459.5,262.8L1459.5,262.9L1459.5,263.0L1459.6,263.1L1459.6,263.2L1459.7,263.3L1459.8,263.4L1459.8,263.5L1459.9,263.6L1460.0,263.6L1460.1,263.7L1460.2,263.7L1460.3,263.8L1460.4,263.8L1463.2,264.5L1463.3,264.5L1463.4,264.5L1463.6,264.5L1463.7,264.5L1463.8,264.5L1463.9,264.4L1464.0,264.4L1464.1,264.3L1464.2,264.3L1464.3,264.2L1466.4,262.2L1466.5,262.1L1466.6,262.0L1466.7,261.9L1466.7,261.8L1466.8,261.7L1466.8,261.6L1466.8,261.5ZM1470.2,260.0L1470.2,260.1L1470.1,260.2L1470.1,260.3L1470.0,260.4L1470.0,260.6L1470.0,260.7L1470.0,260.8L1470.0,260.9L1470.0,261.0L1470.1,261.1L1470.1,261.3L1472.8,267.1L1472.9,267.2L1473.0,267.3L1473.0,267.4L1473.1,267.5L1473.2,267.5L1473.3,267.6L1473.4,267.7L1473.5,267.7L1473.7,267.7L1473.8,267.8L1473.9,267.8L1474.0,267.8L1474.1,267.7L1474.3,267.7L1474.4,267.7L1474.5,267.6L1474.6,267.6L1474.7,267.5L1474.8,267.4L1474.9,267.3L1474.9,267.2L1475.0,267.1L1477.3,262.9L1477.3,262.8L1477.4,262.7L1477.4,262.6L1477.4,262.4L1477.4,262.3L1477.4,262.2L1477.4,262.1L1477.4,262.0L1477.3,261.9L1477.3,261.8L1477.2,261.7L1476.6,260.7L1476.6,260.6L1476.5,260.5L1476.4,260.5L1476.3,260.4L1476.3,260.3L1474.7,259.4L1474.6,259.3L1474.5,259.3L1474.4,259.2L1474.3,259.2L1474.2,259.2L1474.1,259.2L1474.0,259.2L1471.1,259.6L1470.9,259.6L1470.8,259.6L1470.7,259.6L1470.6,259.7L1470.5,259.8L1470.4,259.8L1470.3,259.9ZM1479.4,263.3L1479.3,263.4L1479.2,263.4L1479.1,263.5L1479.1,263.6L1479.0,263.7L1478.9,263.8L1476.0,269.2L1476.0,269.3L1475.9,269.4L1475.9,269.5L1475.9,269.7L1475.9,269.8L1475.9,269.9L1475.9,270.0L1475.9,270.1L1476.0,270.2L1476.0,270.3L1476.1,270.4L1476.1,270.5L1476.2,270.6L1476.3,270.7L1476.4,270.8L1476.5,270.8L1476.6,270.9L1476.7,270.9L1476.8,271.0L1478.9,271.5L1479.0,271.5L1479.2,271.5L1479.3,271.5L1479.4,271.5L1482.0,270.9L1482.1,270.9L1482.2,270.9L1482.3,270.8L1482.4,270.7L1482.5,270.7L1482.6,270.6L1482.7,270.5L1482.7,270.4L1482.8,270.3L1482.8,270.2L1482.9,270.0L1482.9,269.9L1483.6,265.1L1483.6,264.9L1483.6,264.8L1483.6,264.7L1483.6,264.6L1483.5,264.5L1483.5,264.4L1483.4,264.3L1483.3,264.2L1483.3,264.1L1483.2,264.0L1483.1,263.9L1483.0,263.8L1482.9,263.8L1482.8,263.7L1482.7,263.7L1480.3,263.2L1480.2,263.2L1480.1,263.2L1480.0,263.2L1479.9,263.2L1479.8,263.2L1479.6,263.2L1479.5,263.3ZM1465.4,265.8L1465.4,265.9L1465.4,266.1L1465.5,266.2L1465.5,266.3L1465.5,266.4L1467.8,271.4L1467.8,271.5L1467.9,271.6L1468.0,271.7L1468.1,271.8L1468.2,271.9L1468.3,271.9L1468.4,272.0L1469.7,272.6L1469.8,272.6L1469.9,272.7L1470.0,272.7L1470.1,272.7L1470.2,272.7L1470.4,272.7L1470.5,272.7L1470.6,272.6L1470.7,272.6L1470.8,272.6L1470.9,272.5L1471.0,272.4L1471.9,271.6L1472.0,271.5L1472.1,271.4L1472.1,271.3L1472.2,271.2L1472.3,271.1L1472.3,271.0L1472.3,270.9L1472.3,270.8L1472.3,270.7L1472.3,270.5L1472.3,270.4L1472.3,270.3L1472.2,270.2L1469.3,264.0L1469.2,263.8L1469.2,263.7L1469.1,263.7L1469.0,263.6L1468.9,263.5L1468.8,263.4L1468.7,263.4L1468.6,263.3L1468.5,263.3L1468.4,263.3L1468.2,263.3L1468.1,263.3L1468.0,263.3L1467.9,263.3L1467.8,263.3L1467.7,263.4L1467.6,263.4L1467.5,263.5L1467.4,263.6L1465.8,265.0L1465.7,265.1L1465.7,265.2L1465.6,265.3L1465.5,265.4L1465.5,265.5L1465.5,265.6L1465.4,265.7ZM1455.5,269.8L1455.6,269.8L1455.7,269.9L1456.3,270.6L1456.4,270.7L1456.5,270.7L1456.6,270.8L1456.7,270.8L1456.8,270.9L1457.0,270.9L1457.1,270.9L1463.7,271.3L1463.9,271.3L1464.0,271.3L1464.1,271.3L1464.2,271.3L1464.3,271.2L1464.4,271.2L1464.5,271.1L1464.6,271.0L1464.7,271.0L1464.8,270.9L1464.8,270.8L1464.9,270.7L1464.9,270.6L1465.0,270.5L1465.0,270.3L1465.0,270.2L1465.0,270.1L1465.0,270.0L1465.0,269.9L1465.0,269.8L1464.9,269.7L1463.6,266.7L1463.5,266.6L1463.5,266.5L1463.4,266.4L1463.3,266.3L1463.2,266.3L1463.1,266.2L1463.0,266.1L1462.9,266.1L1462.8,266.1L1459.2,265.2L1459.1,265.2L1459.0,265.2L1458.8,265.2L1458.7,265.2L1458.6,265.2L1458.5,265.3L1458.4,265.3L1458.3,265.4L1458.2,265.5L1458.1,265.5L1455.7,267.8L1455.7,267.8L1455.6,267.9L1455.5,268.0L1455.5,268.1L1455.4,268.2L1455.4,268.3L1455.4,268.4L1455.3,268.9L1455.3,269.0L1455.3,269.1L1455.3,269.2L1455.3,269.3L1455.4,269.4L1455.4,269.6L1455.4,269.7ZM1481.3,273.1L1481.2,273.1L1481.1,273.2L1481.0,273.3L1480.9,273.4L1480.9,273.5L1480.8,273.5L1480.7,273.7L1480.7,273.8L1480.7,273.9L1480.7,274.0L1480.6,274.1L1480.7,274.2L1480.7,274.3L1480.7,274.4L1482.2,279.8L1482.2,279.9L1482.3,280.0L1482.3,280.1L1482.4,280.2L1482.5,280.3L1482.5,280.3L1483.6,272.6L1483.5,272.6L1483.4,272.6L1483.3,272.6L1483.2,272.6L1481.6,272.9L1481.5,273.0L1481.4,273.0ZM1473.8,272.5L1473.7,272.6L1473.6,272.7L1471.8,274.2L1471.7,274.3L1471.6,274.4L1471.5,274.5L1471.5,274.6L1471.4,274.7L1471.4,274.9L1471.4,275.0L1471.0,277.7L1471.0,277.8L1471.0,277.9L1471.0,278.1L1471.0,278.2L1471.0,278.3L1471.1,278.4L1471.1,278.5L1471.2,278.6L1471.3,278.7L1471.3,278.8L1471.4,278.8L1471.5,278.9L1475.5,281.4L1475.6,281.5L1475.7,281.5L1475.8,281.6L1475.9,281.6L1476.0,281.6L1476.1,281.6L1476.2,281.6L1476.4,281.6L1476.5,281.6L1479.3,280.7L1479.4,280.7L1479.5,280.6L1479.6,280.5L1479.7,280.5L1479.7,280.4L1479.8,280.3L1479.9,280.2L1479.9,280.1L1480.0,280.0L1480.0,279.9L1480.1,279.8L1480.1,279.7L1480.1,279.6L1480.1,279.5L1480.1,279.3L1480.1,279.2L1478.6,274.0L1478.6,273.9L1478.5,273.8L1478.4,273.6L1478.4,273.6L1478.3,273.5L1478.2,273.4L1478.1,273.3L1478.0,273.2L1477.9,273.2L1477.8,273.2L1477.7,273.1L1474.7,272.4L1474.5,272.4L1474.4,272.4L1474.3,272.4L1474.2,272.4L1474.1,272.4L1474.0,272.4L1473.9,272.5ZM1457.9,273.3L1457.8,273.4L1457.7,273.5L1457.7,273.6L1457.6,273.7L1457.6,273.9L1457.6,274.0L1457.6,274.1L1457.6,274.2L1457.6,274.3L1458.5,279.6L1458.5,279.7L1458.5,279.8L1458.6,279.9L1458.6,280.0L1458.7,280.1L1458.8,280.2L1458.9,280.3L1459.0,280.4L1463.4,283.3L1463.5,283.3L1463.6,283.4L1463.7,283.4L1463.8,283.4L1463.9,283.5L1464.0,283.5L1464.1,283.5L1464.2,283.5L1464.3,283.4L1464.5,283.4L1464.6,283.3L1464.7,283.3L1464.8,283.2L1464.8,283.2L1464.9,283.1L1468.7,278.8L1468.8,278.7L1468.9,278.6L1468.9,278.5L1468.9,278.4L1469.0,278.3L1469.0,278.2L1469.4,275.5L1469.4,275.4L1469.4,275.3L1469.4,275.1L1469.4,275.0L1469.3,274.9L1469.3,274.8L1469.2,274.7L1469.2,274.6L1469.1,274.5L1469.0,274.4L1468.9,274.4L1468.8,274.3L1468.7,274.2L1467.2,273.5L1467.1,273.5L1467.0,273.5L1466.9,273.4L1466.8,273.4L1458.9,272.9L1458.7,272.9L1458.6,272.9L1458.5,273.0L1458.4,273.0L1458.3,273.1L1458.2,273.1L1458.1,273.2L1458.0,273.2ZM1479.1,289.8L1479.2,289.9L1479.3,289.9L1479.5,289.9L1479.6,289.9L1479.7,289.9L1479.8,289.9L1479.9,289.9L1480.0,289.8L1480.2,289.8L1480.3,289.7L1480.4,289.7L1480.4,289.6L1481.3,288.8L1482.2,282.3L1481.9,282.2L1481.8,282.1L1481.7,282.1L1481.6,282.1L1481.4,282.1L1481.3,282.1L1481.2,282.1L1481.1,282.1L1481.0,282.1L1478.0,283.1L1477.9,283.1L1477.8,283.2L1477.7,283.2L1477.6,283.3L1477.6,283.4L1477.5,283.4L1477.4,283.5L1477.4,283.6L1477.3,283.7L1477.3,283.8L1477.2,284.0L1477.2,284.1L1477.2,284.2L1477.2,284.3L1477.2,284.4L1477.2,284.5L1478.5,289.0L1478.5,289.1L1478.5,289.3L1478.6,289.4L1478.7,289.5L1478.7,289.5L1478.8,289.6L1478.9,289.7L1479.0,289.8ZM1465.8,285.5L1465.8,285.6L1465.8,285.7L1465.8,285.8L1465.9,285.9L1465.9,286.0L1468.6,290.7L1468.7,290.8L1468.8,290.9L1468.9,291.0L1469.0,291.1L1469.1,291.2L1469.2,291.2L1469.3,291.3L1469.4,291.3L1472.7,292.1L1472.9,292.1L1473.0,292.1L1473.1,292.1L1473.2,292.1L1473.4,292.0L1473.5,292.0L1475.9,291.0L1476.0,290.9L1476.1,290.8L1476.2,290.8L1476.3,290.7L1476.4,290.6L1476.5,290.5L1476.5,290.4L1476.6,290.3L1476.6,290.2L1476.6,290.1L1476.7,290.0L1476.7,289.9L1476.7,289.8L1476.7,289.6L1476.6,289.5L1475.1,283.8L1475.1,283.7L1475.0,283.6L1475.0,283.5L1474.9,283.4L1474.8,283.3L1474.8,283.3L1474.7,283.2L1474.6,283.1L1470.9,280.7L1470.8,280.7L1470.7,280.6L1470.6,280.6L1470.4,280.6L1470.3,280.6L1470.2,280.6L1470.1,280.6L1470.0,280.6L1469.8,280.6L1469.7,280.7L1469.6,280.7L1469.5,280.8L1469.4,280.9L1469.3,281.0L1466.1,284.6L1466.0,284.7L1465.9,284.8L1465.9,284.9L1465.8,285.0L1465.8,285.1L1465.8,285.3L1465.8,285.4ZM1463.0,298.5L1463.1,298.4L1463.2,298.4L1463.3,298.3L1463.4,298.2L1463.4,298.1L1466.8,292.6L1466.9,292.5L1466.9,292.4L1466.9,292.3L1467.0,292.2L1467.0,292.1L1467.0,291.9L1467.0,291.8L1466.9,291.7L1466.9,291.6L1466.9,291.5L1466.8,291.4L1464.8,287.8L1464.7,287.7L1464.6,287.6L1464.6,287.6L1464.5,287.5L1464.4,287.4L1464.3,287.4L1464.1,287.3L1464.0,287.3L1463.9,287.2L1463.8,287.2L1463.7,287.2L1463.6,287.2L1463.4,287.3L1463.3,287.3L1463.2,287.3L1463.1,287.4L1463.0,287.5L1457.4,291.7L1457.3,291.8L1457.2,291.8L1457.1,291.9L1457.0,291.9L1456.9,291.9L1456.8,291.9L1456.7,291.9L1456.6,291.9L1456.5,291.9L1456.4,291.9L1456.3,291.8L1450.3,288.7L1450.2,288.6L1450.1,288.6L1450.0,288.6L1449.8,288.6L1449.7,288.6L1449.6,288.6L1449.5,288.6L1449.4,288.6L1449.3,288.6L1449.2,288.7L1449.1,288.7L1449.0,288.8L1446.4,290.8L1446.3,290.9L1446.3,291.0L1446.2,291.1L1446.1,291.2L1446.1,291.3L1446.0,291.4L1446.0,291.5L1446.0,291.6L1446.0,291.7L1446.0,296.7L1446.0,296.8L1446.0,296.9L1446.0,297.0L1446.0,297.1L1446.1,297.2L1446.1,297.3L1446.2,297.4L1446.3,297.5L1446.4,297.6L1446.5,297.6L1446.6,297.7L1446.7,297.8L1450.8,299.6L1450.9,299.7L1451.0,299.7L1451.2,299.7L1451.3,299.7L1451.4,299.7L1451.5,299.7L1451.6,299.7L1451.7,299.6L1451.9,299.6L1455.7,297.5L1455.8,297.5L1455.9,297.4L1456.0,297.4L1456.1,297.4L1456.2,297.4L1456.3,297.4L1456.4,297.4L1462.2,298.7L1462.3,298.7L1462.4,298.7L1462.5,298.7L1462.6,298.7L1462.7,298.6L1462.8,298.6L1462.9,298.6ZM1476.2,302.6L1476.3,302.6L1476.4,302.7L1476.5,302.7L1476.6,302.7L1476.7,302.8L1476.8,302.8L1476.9,302.8L1477.1,302.8L1477.1,302.7L1480.1,293.2L1479.7,292.7L1479.6,292.6L1479.5,292.5L1479.4,292.4L1479.3,292.3L1479.2,292.3L1479.1,292.2L1479.0,292.2L1478.9,292.2L1478.5,292.1L1478.4,292.1L1478.3,292.1L1478.2,292.1L1478.1,292.1L1477.9,292.2L1477.8,292.2L1475.2,293.4L1475.0,293.4L1475.0,293.5L1474.9,293.5L1474.8,293.6L1474.7,293.7L1474.6,293.8L1474.6,293.9L1474.5,294.0L1474.5,294.1L1474.4,294.2L1474.4,294.3L1474.4,294.4L1474.4,294.5L1474.4,294.7L1475.7,301.8L1475.7,301.9L1475.7,302.0L1475.8,302.1L1475.8,302.2L1475.9,302.3L1476.0,302.4L1476.1,302.5ZM1452.8,301.7L1452.7,301.8L1452.7,301.9L1452.7,302.0L1452.7,302.1L1452.7,302.2L1452.8,302.4L1452.8,302.5L1452.8,302.6L1455.2,307.0L1455.3,307.1L1455.4,307.2L1455.5,307.3L1455.5,307.3L1455.6,307.4L1455.7,307.5L1455.9,307.5L1456.0,307.6L1456.1,307.6L1456.2,307.6L1456.3,307.6L1456.4,307.6L1456.6,307.6L1456.7,307.5L1456.8,307.5L1456.9,307.4L1463.1,303.9L1463.2,303.8L1463.3,303.8L1463.4,303.7L1463.5,303.6L1463.5,303.5L1463.6,303.4L1463.6,303.3L1463.7,303.2L1463.7,303.0L1463.7,302.9L1463.7,302.8L1463.7,302.7L1463.7,302.6L1463.6,302.5L1463.6,302.3L1463.1,301.3L1463.0,301.2L1462.9,301.1L1462.9,301.0L1462.8,300.9L1462.7,300.8L1462.6,300.7L1462.5,300.7L1462.4,300.7L1462.2,300.6L1456.8,299.4L1456.6,299.4L1456.5,299.4L1456.4,299.4L1456.3,299.4L1456.2,299.5L1456.1,299.5L1455.9,299.5L1453.3,300.9L1453.2,301.0L1453.1,301.1L1453.1,301.2L1453.0,301.2L1452.9,301.3L1452.8,301.4L1452.8,301.5ZM1473.9,303.1L1473.9,303.0L1473.9,302.9L1473.9,302.8L1473.9,302.7L1472.5,294.7L1472.5,294.6L1472.5,294.5L1472.4,294.4L1472.4,294.3L1472.3,294.2L1472.2,294.1L1472.1,294.0L1472.0,293.9L1471.9,293.9L1471.8,293.8L1471.7,293.8L1471.6,293.8L1469.6,293.3L1469.5,293.3L1469.3,293.3L1469.2,293.3L1469.1,293.3L1469.0,293.3L1468.9,293.3L1468.8,293.4L1468.7,293.4L1468.6,293.5L1468.5,293.6L1468.4,293.7L1468.3,293.7L1468.3,293.8L1464.9,299.4L1464.8,299.5L1464.8,299.6L1464.7,299.7L1464.7,299.9L1464.7,300.0L1464.7,300.1L1464.7,300.2L1464.7,300.3L1464.8,300.4L1464.8,300.6L1466.2,303.3L1466.2,303.4L1466.2,303.5L1466.3,303.6L1466.3,303.7L1466.3,303.8L1466.3,303.9L1466.2,304.0L1466.2,304.1L1466.2,304.2L1466.1,304.2L1466.1,304.3L1466.0,304.4L1465.9,304.5L1465.9,304.5L1465.8,304.6L1457.1,309.5L1457.0,309.6L1456.9,309.7L1456.8,309.8L1456.7,309.8L1456.6,309.9L1456.6,310.1L1456.5,310.2L1456.5,310.3L1456.5,310.4L1456.5,310.5L1456.5,310.6L1456.5,311.8L1456.5,311.9L1456.5,312.0L1456.6,312.2L1456.6,312.3L1456.7,312.4L1456.7,312.5L1456.8,312.6L1456.9,312.6L1457.0,312.7L1457.1,312.8L1457.2,312.8L1457.3,312.9L1457.4,312.9L1465.4,315.1L1465.5,315.2L1465.6,315.2L1465.8,315.2L1465.9,315.2L1466.0,315.2L1466.1,315.1L1466.2,315.1L1466.4,315.0L1466.5,314.9L1466.5,314.9L1467.6,313.9L1467.7,313.8L1467.8,313.7L1467.8,313.6L1467.9,313.5L1467.9,313.3L1468.0,313.2L1468.0,313.1L1468.4,307.5L1468.4,307.4L1468.5,307.3L1468.5,307.2L1468.5,307.1L1468.6,307.0L1468.6,306.9L1468.7,306.9L1468.8,306.8L1468.9,306.7L1473.4,303.9L1473.5,303.8L1473.5,303.7L1473.6,303.7L1473.7,303.6L1473.8,303.5L1473.8,303.4L1473.9,303.3ZM1470.2,313.3L1470.3,313.4L1470.4,313.5L1470.5,313.5L1470.6,313.6L1470.7,313.6L1473.5,314.6L1476.4,305.2L1476.3,305.1L1476.2,305.0L1476.1,305.0L1476.0,305.0L1475.9,304.9L1475.8,304.9L1475.7,304.9L1475.6,304.9L1475.4,304.9L1475.3,304.9L1475.2,305.0L1475.1,305.0L1475.0,305.1L1470.8,307.8L1470.7,307.9L1470.6,307.9L1470.5,308.0L1470.4,308.1L1470.4,308.2L1470.3,308.3L1470.3,308.5L1470.2,308.6L1470.2,308.7L1469.9,312.4L1469.9,312.5L1469.9,312.6L1470.0,312.8L1470.0,312.9L1470.0,313.0L1470.1,313.1L1470.2,313.2ZM1453.5,316.7L1453.5,316.8L1453.5,316.9L1453.5,317.1L1453.5,317.2L1455.3,324.6L1455.4,324.7L1455.4,324.8L1455.5,325.0L1455.5,325.0L1455.6,325.1L1455.7,325.2L1455.8,325.3L1455.9,325.4L1456.0,325.4L1456.1,325.5L1456.2,325.5L1460.9,326.7L1461.0,326.8L1461.1,326.8L1461.2,326.8L1461.3,326.8L1464.6,326.4L1464.8,326.4L1464.9,326.4L1465.0,326.4L1465.0,326.5L1465.1,326.5L1465.2,326.5L1465.3,326.6L1465.4,326.6L1465.5,326.7L1466.9,328.1L1472.8,316.3L1469.8,315.3L1469.7,315.3L1469.6,315.2L1469.4,315.2L1469.3,315.2L1469.2,315.3L1469.1,315.3L1469.0,315.3L1468.9,315.4L1468.8,315.4L1468.7,315.5L1468.6,315.6L1467.0,317.1L1466.9,317.1L1466.8,317.2L1466.7,317.2L1466.6,317.3L1466.5,317.3L1466.4,317.3L1466.4,317.3L1466.3,317.3L1466.2,317.3L1466.0,317.3L1456.4,314.6L1456.3,314.6L1456.2,314.6L1456.1,314.6L1455.9,314.6L1455.8,314.6L1455.7,314.6L1455.6,314.7L1455.5,314.8L1455.4,314.8L1453.9,315.9L1453.8,316.0L1453.8,316.1L1453.7,316.2L1453.6,316.3L1453.6,316.4L1453.5,316.5L1453.5,316.6ZM1464.0,328.4L1463.9,328.4L1462.2,328.6L1462.1,328.6L1462.0,328.6L1461.9,328.7L1461.8,328.7L1461.7,328.8L1461.6,328.9L1461.5,328.9L1461.4,329.0L1461.4,329.1L1461.3,329.2L1456.8,336.8L1456.8,336.9L1456.7,337.0L1456.7,337.1L1456.7,337.3L1456.7,337.4L1456.7,337.5L1456.7,337.6L1456.7,337.7L1456.8,337.8L1456.8,337.9L1456.9,338.1L1456.9,338.1L1457.0,338.2L1457.1,338.3L1457.2,338.4L1457.3,338.5L1457.4,338.5L1457.5,338.6L1457.6,338.6L1457.7,338.6L1457.8,338.6L1457.9,338.6L1461.8,338.4L1466.0,329.9L1464.8,328.8L1464.7,328.7L1464.7,328.6L1464.6,328.5L1464.4,328.5L1464.3,328.5L1464.2,328.4L1464.1,328.4ZM1454.1,341.2L1454.1,341.3L1454.0,341.4L1454.0,341.5L1453.9,341.6L1453.9,341.7L1453.9,341.8L1453.9,342.6L1454.6,344.6L1454.7,344.7L1454.8,344.7L1454.9,344.8L1455.1,344.8L1455.2,344.9L1455.3,344.9L1455.4,344.9L1455.5,344.9L1455.6,344.9L1456.6,344.7L1460.5,340.4L1455.0,340.7L1454.9,340.7L1454.8,340.7L1454.7,340.8L1454.6,340.8L1454.5,340.9L1454.4,340.9L1454.3,341.0L1454.2,341.1Z" fill="#050505"/>
<path d="M1397.7,312.4l6.4,-2.3M1385.0,348.2l10.0,3.1M1437.4,326.6l7.6,-1.7M1392.9,312.7l5.0,2.3M1442.2,396.8l9.2,-2.9M1403.2,375.2l8.6,3.2M1446.0,310.4l8.1,1.4M1417.9,321.3l6.7,-2.9M1450.1,403.9l7.7,-1.6M1448.2,368.7l9.6,3.5M1418.1,349.7l8.2,-0.6M1392.1,336.6l8.7,-4.3M1383.5,375.2l6.0,0.2M1415.3,341.1l10.5,-3.3M1411.0,324.3l8.2,-1.9M1406.7,389.6l6.2,0.4M1447.8,312.1l4.3,-1.2M1437.4,373.9l5.6,-1.0M1393.3,355.1l4.2,0.8M1447.2,414.6l8.2,4.1M1381.4,334.7l10.4,2.9M1410.8,413.2l7.9,2.6M1402.0,323.0l6.6,-2.5M1408.6,415.4l5.6,-3.0M1383.4,320.3l9.4,-1.3M1401.8,311.7l10.8,-0.8" stroke="#b5b5b5" stroke-width="1.6" fill="none" stroke-linecap="round"/>
<path d="M1390.9,187.0L1391.1,187.0L1391.3,186.9L1391.5,186.9L1391.7,186.8L1391.9,186.7L1392.1,186.6L1392.1,186.6L1389.8,186.4L1389.7,186.6L1389.9,186.7L1390.1,186.8L1390.3,186.9L1390.5,186.9L1390.7,187.0ZM1401.3,189.4L1401.5,189.5L1401.7,189.5L1401.9,189.5L1402.1,189.5L1402.3,189.5L1402.5,189.5L1402.7,189.4L1402.9,189.3L1403.0,189.2L1403.2,189.1L1403.3,189.0L1403.5,188.9L1404.4,187.8L1399.0,187.3L1400.5,188.9L1400.7,189.0L1400.8,189.2L1401.0,189.3L1401.1,189.4ZM1410.1,189.2L1410.1,189.4L1410.1,189.6L1410.1,189.8L1410.2,190.0L1410.2,190.2L1410.3,190.4L1412.0,193.4L1412.1,193.5L1412.2,193.7L1412.3,193.8L1412.5,194.0L1412.6,194.1L1412.8,194.2L1413.0,194.3L1413.2,194.3L1413.4,194.4L1413.6,194.4L1413.7,194.4L1413.9,194.4L1414.1,194.4L1414.3,194.3L1414.5,194.3L1414.7,194.2L1416.0,193.5L1416.1,193.4L1416.3,193.2L1416.4,193.1L1416.6,192.9L1416.7,192.8L1416.8,192.6L1416.9,192.4L1416.9,192.2L1417.0,192.0L1417.0,191.8L1417.0,191.6L1416.9,189.4L1416.9,189.2L1416.8,189.0L1416.8,188.8L1416.7,188.6L1416.6,188.5L1416.5,188.3L1416.4,188.1L1416.2,188.0L1416.1,187.9L1415.9,187.8L1415.7,187.7L1415.5,187.6L1415.4,187.5L1415.2,187.5L1415.0,187.5L1412.5,187.4L1410.5,188.2L1410.5,188.2L1410.4,188.3L1410.3,188.4L1410.2,188.6L1410.2,188.8L1410.1,189.0ZM1385.6,198.1L1385.7,198.0L1385.9,197.8L1386.0,197.7L1386.1,197.5L1386.2,197.4L1389.4,191.6L1389.4,191.4L1389.5,191.2L1389.6,191.1L1389.6,190.9L1389.6,190.7L1389.6,190.5L1389.6,190.3L1389.5,190.1L1389.5,189.9L1389.4,189.8L1389.3,189.6L1389.2,189.4L1389.1,189.3L1388.9,189.2L1388.8,189.0L1388.7,189.0L1384.5,198.4L1384.7,198.4L1384.8,198.4L1385.0,198.3L1385.2,198.3L1385.4,198.2ZM1407.3,200.0L1407.5,200.0L1407.6,200.0L1407.8,200.0L1408.0,200.0L1408.2,200.0L1408.4,199.9L1408.6,199.8L1408.7,199.7L1408.9,199.6L1409.0,199.5L1409.2,199.3L1409.3,199.2L1410.2,197.9L1410.3,197.7L1410.4,197.5L1410.5,197.3L1410.5,197.1L1410.5,196.9L1410.5,196.7L1410.5,196.5L1410.5,196.3L1410.5,196.1L1410.4,195.9L1410.3,195.8L1408.1,191.6L1408.0,191.5L1407.8,191.3L1407.7,191.2L1407.6,191.0L1407.4,190.9L1407.3,190.8L1407.1,190.8L1406.9,190.7L1406.7,190.6L1406.5,190.6L1406.3,190.6L1406.1,190.6L1405.9,190.6L1405.8,190.7L1405.6,190.7L1405.4,190.8L1405.2,190.9L1405.1,191.0L1404.9,191.1L1404.8,191.3L1403.6,192.7L1403.4,192.8L1403.3,193.0L1403.2,193.2L1403.2,193.3L1403.1,193.5L1402.8,194.7L1402.8,194.9L1402.8,195.1L1402.8,195.3L1402.8,195.5L1402.8,195.6L1402.9,195.8L1402.9,196.0L1403.0,196.2L1403.1,196.3L1403.2,196.5L1403.4,196.6L1406.2,199.5L1406.4,199.6L1406.5,199.7L1406.7,199.8L1406.9,199.9L1407.1,200.0ZM1425.4,200.9L1425.4,200.7L1425.4,200.5L1425.4,200.3L1425.4,200.1L1425.3,199.9L1425.2,199.7L1425.1,199.6L1425.0,199.4L1424.9,199.3L1424.8,199.1L1424.6,199.0L1424.5,198.9L1419.3,195.7L1419.2,195.6L1419.0,195.6L1418.8,195.5L1418.6,195.5L1418.4,195.4L1418.2,195.4L1418.0,195.4L1417.9,195.5L1417.7,195.5L1417.5,195.6L1417.3,195.7L1413.7,197.7L1413.6,197.8L1413.4,197.9L1413.3,198.0L1413.2,198.1L1413.0,198.3L1412.1,199.7L1412.0,199.9L1411.9,200.0L1411.8,200.2L1411.8,200.4L1411.8,200.6L1411.7,200.8L1411.7,201.0L1411.8,201.2L1411.8,201.3L1411.9,201.5L1411.9,201.7L1412.0,201.9L1412.1,202.0L1412.3,202.2L1412.4,202.3L1413.4,203.2L1413.5,203.3L1413.7,203.4L1413.8,203.5L1414.0,203.6L1414.2,203.7L1414.4,203.7L1414.5,203.7L1414.7,203.7L1422.4,203.8L1422.6,203.7L1422.8,203.7L1423.0,203.7L1423.1,203.6L1423.3,203.5L1423.5,203.4L1423.6,203.3L1423.8,203.2L1423.9,203.1L1424.9,201.9L1425.1,201.8L1425.2,201.6L1425.2,201.4L1425.3,201.2L1425.4,201.1ZM1388.3,199.6L1388.3,199.8L1388.4,200.0L1388.4,200.2L1388.5,200.4L1388.6,200.5L1388.7,200.7L1388.9,200.8L1389.0,201.0L1389.1,201.1L1389.3,201.2L1389.5,201.3L1389.7,201.3L1389.8,201.4L1390.0,201.4L1390.2,201.5L1390.4,201.5L1390.8,201.4L1391.0,201.4L1391.1,201.4L1391.2,201.5L1391.3,201.5L1391.4,201.5L1391.6,201.6L1399.9,206.2L1400.1,206.3L1400.3,206.4L1400.4,206.4L1400.6,206.5L1400.8,206.5L1401.0,206.5L1401.2,206.4L1401.4,206.4L1401.6,206.3L1401.8,206.2L1402.0,206.1L1402.1,206.0L1402.3,205.9L1402.4,205.7L1402.5,205.6L1404.1,203.3L1404.2,203.1L1404.3,202.9L1404.3,202.7L1404.4,202.5L1404.4,202.3L1404.4,202.1L1404.4,201.9L1404.4,201.7L1404.3,201.6L1404.3,201.4L1404.2,201.2L1404.1,201.0L1403.9,200.9L1403.8,200.7L1401.2,198.2L1401.1,198.1L1400.9,197.9L1400.7,197.8L1400.6,197.8L1400.4,197.7L1400.2,197.6L1400.0,197.6L1399.8,197.6L1399.7,197.6L1399.6,197.6L1399.4,197.5L1399.3,197.5L1399.2,197.4L1393.6,193.7L1393.5,193.6L1393.3,193.5L1393.1,193.5L1392.9,193.4L1392.7,193.4L1392.5,193.4L1392.3,193.4L1392.2,193.4L1392.0,193.5L1391.8,193.5L1391.6,193.6L1391.4,193.7L1391.3,193.8L1391.1,193.9L1391.0,194.1L1390.9,194.2L1390.8,194.4L1388.6,198.5L1388.5,198.7L1388.4,198.9L1388.4,199.0L1388.3,199.2L1388.3,199.4ZM1386.2,203.9L1386.2,203.7L1386.2,203.5L1386.2,203.3L1386.1,203.1L1386.0,202.9L1385.9,202.7L1385.8,202.6L1385.5,202.1L1385.3,201.9L1385.2,201.8L1385.0,201.6L1384.8,201.5L1384.6,201.4L1383.4,200.9L1379.6,209.5L1382.7,211.5L1382.8,211.5L1382.9,211.4L1383.0,211.2L1383.2,211.1L1383.3,210.9L1385.6,207.0L1385.7,206.8L1385.8,206.7L1385.8,206.5L1385.9,206.3L1386.2,204.1ZM1403.1,210.0L1403.1,210.1L1403.1,210.3L1403.2,210.5L1403.2,210.7L1403.3,210.9L1403.4,211.0L1403.5,211.2L1404.7,212.7L1404.8,212.9L1404.9,213.0L1405.1,213.2L1405.2,213.3L1405.4,213.4L1405.6,213.4L1405.8,213.5L1406.0,213.5L1406.2,213.5L1406.4,213.5L1406.6,213.5L1406.8,213.5L1407.0,213.4L1407.1,213.3L1407.3,213.2L1407.5,213.1L1411.5,210.0L1411.6,209.9L1411.7,209.8L1411.8,209.6L1411.9,209.5L1412.0,209.3L1412.1,209.1L1412.2,209.0L1412.2,208.8L1412.2,208.6L1412.2,208.4L1412.2,206.5L1412.2,206.3L1412.1,206.1L1412.1,205.9L1412.0,205.7L1411.9,205.5L1411.8,205.3L1411.7,205.2L1411.5,205.0L1409.8,203.5L1409.7,203.4L1409.5,203.2L1409.3,203.2L1409.2,203.1L1409.0,203.0L1408.8,203.0L1408.6,203.0L1408.4,203.0L1408.2,203.0L1408.0,203.0L1407.9,203.1L1407.7,203.1L1407.5,203.2L1407.3,203.3L1407.2,203.4L1407.0,203.6L1406.9,203.7L1406.8,203.8L1403.4,208.9L1403.3,209.0L1403.3,209.2L1403.2,209.4L1403.1,209.6L1403.1,209.8ZM1393.8,206.2L1393.6,206.2L1393.4,206.3L1393.2,206.3L1393.1,206.4L1392.9,206.5L1392.7,206.6L1392.6,206.7L1392.4,206.9L1392.3,207.0L1392.2,207.2L1392.1,207.4L1392.1,207.5L1392.0,207.7L1392.0,207.9L1391.9,208.1L1391.9,208.3L1392.0,208.5L1392.0,208.7L1392.1,208.9L1392.1,209.0L1392.2,209.2L1392.3,209.4L1392.5,209.5L1392.6,209.7L1392.7,209.8L1395.1,211.6L1395.3,211.7L1395.4,211.8L1395.6,211.8L1395.8,211.9L1396.0,211.9L1396.2,212.0L1396.4,212.0L1396.6,212.0L1396.8,211.9L1397.0,211.9L1397.1,211.8L1397.6,211.6L1397.8,211.5L1397.9,211.4L1398.1,211.3L1398.2,211.1L1398.4,211.0L1398.5,210.8L1398.6,210.7L1398.6,210.5L1398.7,210.3L1398.8,210.1L1398.8,209.9L1398.8,209.7L1398.8,209.6L1398.8,209.4L1398.7,209.2L1398.6,209.0L1398.6,208.8L1398.5,208.7L1398.3,208.5L1398.2,208.4L1398.1,208.2L1397.9,208.1L1397.8,208.0L1394.9,206.4L1394.7,206.4L1394.6,206.3L1394.4,206.2L1394.2,206.2L1394.0,206.2ZM1415.2,209.9L1415.4,210.1L1417.5,212.4L1417.7,212.5L1417.8,212.6L1418.0,212.7L1418.1,212.8L1418.3,212.9L1418.5,212.9L1418.7,213.0L1418.9,213.0L1419.1,213.0L1419.3,213.0L1419.5,212.9L1419.7,212.9L1419.8,212.8L1420.0,212.7L1420.2,212.6L1420.3,212.5L1420.5,212.3L1420.6,212.2L1420.7,212.0L1422.0,209.9L1422.0,209.7L1422.1,209.6L1422.2,209.4L1422.2,209.2L1422.2,209.0L1422.3,208.5L1422.3,208.3L1422.3,208.1L1422.3,207.9L1422.2,207.8L1422.1,207.6L1422.1,207.4L1422.0,207.2L1421.8,207.1L1421.7,206.9L1421.6,206.8L1421.4,206.7L1421.2,206.6L1421.1,206.5L1420.9,206.4L1420.7,206.4L1420.5,206.4L1420.3,206.3L1416.8,206.3L1416.6,206.3L1416.4,206.4L1416.2,206.4L1416.1,206.5L1415.9,206.6L1415.7,206.7L1415.5,206.8L1415.4,206.9L1415.3,207.1L1415.2,207.3L1415.1,207.4L1415.0,207.6L1414.9,207.8L1414.9,208.0L1414.8,208.2L1414.8,208.4L1414.8,208.8L1414.9,209.0L1414.9,209.2L1415.0,209.4L1415.0,209.6L1415.1,209.7ZM1393.5,214.7L1393.5,214.5L1393.5,214.3L1393.5,214.2L1393.4,214.0L1393.4,213.8L1393.3,213.6L1393.2,213.5L1393.0,213.3L1392.9,213.2L1392.8,213.0L1389.2,210.4L1389.0,210.3L1388.9,210.2L1388.7,210.1L1388.5,210.0L1388.3,210.0L1388.1,210.0L1387.9,210.0L1387.7,210.0L1387.5,210.0L1387.3,210.1L1387.1,210.2L1387.0,210.3L1386.8,210.4L1386.7,210.5L1386.5,210.6L1386.4,210.8L1386.3,211.0L1385.1,213.0L1392.1,217.6L1393.3,215.7L1393.4,215.5L1393.4,215.3L1393.5,215.1L1393.5,214.9ZM1421.8,215.8L1421.9,216.0L1421.9,216.2L1422.0,216.4L1422.0,216.6L1422.1,216.8L1422.3,216.9L1422.4,217.1L1422.5,217.2L1422.7,217.3L1422.9,217.4L1423.0,217.5L1423.2,217.6L1424.3,217.9L1424.5,218.0L1424.7,218.0L1424.9,218.0L1425.1,218.0L1425.3,218.0L1425.5,218.0L1425.6,217.9L1425.8,217.8L1426.0,217.7L1426.1,217.6L1427.1,216.9L1427.2,216.8L1427.4,216.6L1427.5,216.4L1427.6,216.3L1427.7,216.1L1427.7,215.9L1427.8,215.7L1427.8,215.5L1427.8,215.3L1427.8,215.1L1427.8,214.9L1427.7,214.7L1427.7,214.5L1427.6,214.3L1427.5,214.2L1427.3,214.0L1427.2,213.9L1427.1,213.7L1426.9,213.6L1425.6,212.8L1425.5,212.7L1425.3,212.6L1425.1,212.6L1424.9,212.5L1424.7,212.5L1424.5,212.5L1424.3,212.5L1424.1,212.6L1423.9,212.6L1423.7,212.7L1423.5,212.8L1423.4,212.9L1423.2,213.0L1423.1,213.2L1423.0,213.3L1422.8,213.5L1422.1,214.7L1422.0,214.8L1422.0,215.0L1421.9,215.2L1421.9,215.4L1421.8,215.6ZM1409.6,215.2L1409.5,215.4L1409.5,215.6L1409.5,215.8L1409.5,216.0L1409.5,216.2L1409.6,216.4L1409.6,216.6L1409.7,216.7L1409.8,216.9L1409.9,217.1L1410.0,217.2L1410.2,217.4L1410.3,217.5L1410.5,217.6L1412.9,219.0L1413.1,219.1L1413.3,219.1L1413.5,219.2L1413.7,219.2L1415.2,219.4L1415.4,219.4L1415.6,219.4L1415.8,219.3L1416.0,219.3L1416.2,219.2L1416.3,219.1L1416.5,219.0L1416.7,218.9L1416.8,218.7L1417.1,218.4L1417.2,218.3L1417.3,218.1L1417.4,217.9L1417.5,217.8L1417.6,217.6L1417.6,217.4L1417.6,217.2L1417.6,217.0L1417.6,216.8L1417.6,216.6L1417.5,216.4L1417.4,216.2L1417.3,216.0L1417.2,215.9L1417.1,215.7L1414.7,213.1L1414.5,213.0L1414.4,212.9L1414.2,212.8L1414.0,212.7L1413.9,212.6L1413.7,212.5L1413.5,212.5L1413.3,212.5L1413.1,212.5L1412.9,212.5L1412.7,212.6L1412.5,212.6L1412.3,212.7L1412.2,212.8L1412.0,212.9L1410.3,214.3L1410.1,214.4L1410.0,214.5L1409.8,214.7L1409.7,214.8L1409.7,215.0ZM1403.7,216.4L1403.7,216.2L1403.6,216.0L1403.6,215.8L1403.5,215.6L1403.4,215.4L1403.3,215.3L1402.4,214.0L1402.2,213.9L1402.1,213.7L1402.0,213.6L1401.8,213.5L1401.6,213.4L1401.4,213.3L1401.3,213.3L1401.1,213.2L1400.9,213.2L1400.7,213.2L1400.5,213.2L1400.3,213.3L1400.1,213.3L1399.9,213.4L1397.4,214.5L1397.2,214.6L1397.0,214.7L1396.9,214.9L1396.7,215.0L1396.6,215.2L1396.5,215.3L1394.4,218.9L1394.3,219.0L1395.6,219.8L1400.8,221.7L1403.4,217.5L1403.5,217.3L1403.6,217.2L1403.6,217.0L1403.7,216.8L1403.7,216.6ZM1410.1,221.8L1410.1,221.6L1410.1,221.4L1410.0,221.2L1410.0,221.0L1409.9,220.8L1409.9,220.6L1409.8,220.4L1409.7,220.3L1409.5,220.1L1409.4,220.0L1409.2,219.9L1409.1,219.8L1407.8,219.0L1407.6,218.9L1407.4,218.9L1407.2,218.8L1407.1,218.8L1406.9,218.8L1406.7,218.8L1406.5,218.8L1406.3,218.8L1406.1,218.9L1405.9,219.0L1405.8,219.1L1405.6,219.2L1405.5,219.3L1405.3,219.4L1405.2,219.6L1405.1,219.7L1403.4,222.5L1408.5,224.3L1409.7,222.7L1409.8,222.5L1409.9,222.3L1410.0,222.1L1410.0,222.0ZM1424.4,220.7L1424.2,220.6L1424.0,220.6L1421.1,219.6L1420.9,219.6L1420.7,219.6L1420.5,219.6L1420.3,219.6L1420.1,219.6L1419.9,219.6L1419.7,219.7L1419.5,219.8L1419.3,219.9L1419.2,220.0L1419.0,220.2L1417.6,221.7L1417.5,221.8L1417.4,221.9L1417.3,221.9L1417.2,222.0L1417.0,222.0L1416.9,222.1L1416.8,222.1L1416.7,222.1L1416.5,222.1L1414.7,221.9L1414.5,221.9L1414.3,221.9L1414.1,221.9L1413.9,222.0L1413.7,222.1L1413.6,222.1L1413.4,222.2L1413.2,222.3L1413.1,222.5L1413.0,222.6L1412.9,222.7L1411.0,225.2L1415.0,226.6L1424.5,222.8L1424.6,222.8L1425.7,222.4L1425.1,221.5L1425.0,221.3L1424.9,221.1L1424.7,221.0L1424.6,220.8ZM1439.9,178.9L1440.1,178.9L1440.3,179.0L1440.5,179.0L1440.7,179.0L1440.9,179.0L1441.1,179.0L1441.2,178.9L1441.4,178.8L1441.6,178.8L1442.3,178.4L1442.4,178.3L1442.6,178.2L1442.7,178.1L1442.9,177.9L1443.0,177.8L1443.1,177.6L1443.2,177.4L1443.2,177.2L1443.3,177.1L1443.7,174.9L1438.1,177.2L1439.2,178.3L1439.3,178.5L1439.4,178.6L1439.6,178.7L1439.8,178.8ZM1441.8,182.0L1441.7,182.2L1441.7,182.3L1441.6,182.5L1441.6,182.7L1441.6,182.9L1441.6,183.1L1441.6,183.3L1441.7,183.5L1441.8,183.7L1441.9,183.9L1442.5,185.0L1442.6,185.1L1442.7,185.3L1442.8,185.4L1443.0,185.6L1443.1,185.7L1443.3,185.8L1443.5,185.9L1443.7,185.9L1452.7,188.3L1452.9,188.3L1453.0,188.4L1453.1,188.5L1453.2,188.5L1453.3,188.6L1453.5,188.7L1453.7,188.9L1453.9,188.9L1454.1,189.0L1460.0,190.6L1460.2,190.7L1460.3,190.7L1460.5,190.7L1460.7,190.7L1460.9,190.7L1461.1,190.6L1461.3,190.5L1461.4,190.5L1461.6,190.4L1461.7,190.3L1459.0,186.9L1452.7,181.4L1450.1,180.5L1450.0,180.4L1449.7,180.4L1449.5,180.4L1445.1,180.2L1444.9,180.2L1444.7,180.2L1444.5,180.2L1444.3,180.3L1444.1,180.4L1442.7,181.1L1442.5,181.2L1442.3,181.4L1442.2,181.5L1442.0,181.6L1441.9,181.8ZM1425.4,184.0L1425.3,184.0L1425.1,184.0L1425.0,184.1L1421.8,184.4L1421.6,184.4L1421.4,184.5L1421.2,184.5L1421.1,184.6L1420.9,184.7L1420.7,184.8L1420.6,185.0L1420.5,185.1L1420.3,185.3L1419.8,186.1L1419.7,186.3L1419.6,186.4L1419.5,186.6L1419.5,186.8L1419.4,187.0L1419.4,187.1L1419.4,187.3L1419.6,191.8L1419.6,192.0L1419.7,192.2L1419.7,192.4L1419.8,192.6L1419.9,192.7L1420.0,192.9L1420.1,193.0L1420.2,193.2L1420.4,193.3L1420.6,193.4L1424.5,195.9L1424.7,196.0L1424.9,196.0L1425.1,196.1L1425.3,196.1L1425.5,196.2L1425.7,196.2L1425.9,196.2L1426.1,196.1L1426.2,196.1L1426.4,196.0L1426.6,195.9L1426.8,195.8L1426.9,195.7L1427.1,195.5L1427.2,195.4L1427.3,195.2L1428.6,193.1L1428.7,192.9L1428.8,192.8L1428.8,192.6L1428.9,192.4L1428.9,192.2L1428.9,192.0L1428.9,188.6L1428.9,188.4L1428.9,188.3L1428.9,188.2L1428.9,188.1L1429.0,188.0L1429.1,187.8L1429.1,187.7L1429.2,187.6L1429.3,187.6L1429.4,187.5L1429.5,187.4L1436.8,183.2L1437.0,183.1L1437.1,183.0L1437.3,182.9L1437.4,182.7L1437.5,182.6L1437.6,182.4L1437.7,182.2L1437.8,182.0L1437.8,181.8L1437.8,181.6L1437.8,181.4L1437.8,181.2L1437.8,181.0L1437.7,180.8L1437.6,180.7L1437.5,180.5L1437.4,180.3L1437.3,180.2L1435.5,178.2L1427.5,181.4L1425.9,183.5L1425.8,183.7L1425.7,183.8L1425.6,183.8L1425.5,183.9ZM1432.6,189.1L1432.5,189.2L1432.4,189.4L1432.4,189.6L1432.4,189.8L1432.3,190.0L1432.4,190.2L1432.4,190.4L1432.5,190.6L1432.5,190.8L1432.6,190.9L1432.7,191.1L1432.8,191.3L1433.0,191.4L1433.1,191.5L1433.3,191.6L1433.5,191.7L1433.6,191.8L1433.8,191.9L1434.0,191.9L1434.2,191.9L1437.4,192.2L1437.6,192.2L1437.8,192.1L1437.9,192.1L1438.1,192.1L1438.3,192.0L1438.5,191.9L1438.6,191.8L1438.8,191.7L1438.9,191.6L1439.1,191.4L1439.2,191.3L1439.3,191.1L1439.3,190.9L1439.4,190.8L1440.2,188.3L1440.2,188.1L1440.3,187.9L1440.3,187.7L1440.3,187.5L1440.2,187.3L1440.2,187.1L1440.1,186.9L1440.0,186.8L1439.9,186.6L1439.8,186.4L1439.7,186.3L1439.5,186.1L1439.4,186.0L1439.2,185.9L1439.0,185.8L1438.8,185.8L1438.6,185.7L1438.4,185.7L1438.2,185.7L1438.0,185.7L1437.8,185.7L1437.6,185.8L1437.5,185.9L1437.3,186.0L1433.4,188.2L1433.2,188.3L1433.0,188.4L1432.9,188.6L1432.8,188.7L1432.7,188.9ZM1446.6,200.1L1446.8,200.1L1447.0,200.0L1447.2,199.9L1447.3,199.7L1447.5,199.6L1447.6,199.4L1447.7,199.3L1447.8,199.1L1447.9,198.9L1450.2,192.6L1450.3,192.4L1450.3,192.2L1450.4,192.0L1450.4,191.8L1450.3,191.6L1450.3,191.4L1450.2,191.3L1450.2,191.1L1450.1,190.9L1450.0,190.7L1449.9,190.6L1449.7,190.4L1449.6,190.3L1449.4,190.2L1449.2,190.1L1449.1,190.0L1448.9,190.0L1444.7,188.9L1444.5,188.8L1444.3,188.8L1444.2,188.8L1444.0,188.8L1443.8,188.9L1443.6,188.9L1443.4,189.0L1443.2,189.1L1443.1,189.2L1442.9,189.3L1442.8,189.4L1442.7,189.6L1442.6,189.7L1442.5,189.9L1442.4,190.0L1442.3,190.2L1441.5,192.8L1441.4,193.0L1441.4,193.2L1441.4,193.4L1441.4,193.6L1441.4,193.8L1441.5,194.0L1441.6,194.2L1443.6,198.9L1443.7,199.0L1443.8,199.2L1443.9,199.4L1444.0,199.5L1444.2,199.6L1444.3,199.7L1444.5,199.8L1444.7,199.9L1444.9,200.0L1445.4,200.1L1445.6,200.2L1445.8,200.2L1446.0,200.2L1446.2,200.2L1446.4,200.2ZM1450.3,200.8L1450.3,201.0L1450.4,201.2L1450.5,201.4L1450.6,201.5L1450.7,201.7L1450.8,201.8L1451.0,201.9L1451.1,202.0L1451.3,202.2L1451.5,202.3L1451.7,202.3L1451.8,202.4L1452.0,202.5L1452.2,202.5L1452.4,202.5L1452.6,202.5L1452.8,202.5L1452.9,202.4L1458.6,201.0L1458.8,200.9L1459.0,200.8L1459.2,200.7L1459.3,200.6L1459.5,200.5L1459.6,200.4L1459.7,200.2L1459.9,200.0L1459.9,199.9L1460.0,199.7L1460.1,199.5L1460.1,199.3L1460.1,199.1L1460.1,198.9L1459.9,194.7L1459.9,194.5L1459.8,194.3L1459.8,194.2L1459.7,194.0L1459.6,193.8L1459.5,193.6L1459.4,193.5L1459.3,193.4L1459.1,193.2L1459.0,193.1L1458.8,193.0L1458.6,193.0L1458.4,192.9L1455.2,192.0L1455.0,192.0L1454.8,191.9L1454.6,191.9L1454.4,192.0L1454.2,192.0L1454.0,192.0L1453.8,192.1L1453.6,192.2L1453.5,192.3L1453.3,192.4L1453.2,192.6L1453.1,192.7L1452.9,192.9L1452.8,193.1L1452.8,193.2L1450.4,199.7L1450.3,199.9L1450.3,200.1L1450.2,200.2L1450.2,200.4L1450.3,200.6ZM1462.6,193.2L1462.6,193.3L1462.5,193.5L1462.5,193.7L1462.5,193.9L1462.5,194.1L1462.8,199.7L1462.8,199.9L1462.8,200.1L1462.9,200.3L1463.0,200.4L1463.1,200.6L1463.2,200.8L1463.3,200.9L1463.4,201.1L1463.6,201.2L1463.8,201.3L1467.1,203.2L1467.3,203.3L1467.4,203.4L1467.6,203.4L1467.8,203.5L1468.0,203.5L1468.2,203.5L1468.4,203.5L1468.5,203.4L1468.7,203.4L1468.9,203.3L1469.1,203.2L1470.4,202.5L1468.9,199.7L1463.3,192.4L1463.2,192.4L1463.1,192.6L1462.9,192.7L1462.8,192.8L1462.7,193.0ZM1428.3,199.2L1428.3,199.4L1428.4,199.6L1428.4,199.8L1428.5,200.0L1428.6,200.1L1428.7,200.3L1428.8,200.4L1429.0,200.6L1429.1,200.7L1429.3,200.8L1429.5,200.9L1433.3,202.7L1433.4,202.8L1433.6,202.8L1433.9,202.9L1434.1,202.9L1434.3,202.9L1434.5,202.9L1434.7,202.8L1434.9,202.7L1439.4,200.9L1439.6,200.8L1439.8,200.7L1439.9,200.6L1440.1,200.4L1440.2,200.3L1440.3,200.1L1440.4,200.0L1440.5,199.8L1440.6,199.6L1440.6,199.4L1440.6,199.2L1440.6,199.0L1440.6,198.8L1440.6,198.6L1440.6,198.4L1440.5,198.2L1439.5,196.0L1439.4,195.8L1439.3,195.6L1439.2,195.5L1439.0,195.3L1438.9,195.2L1438.7,195.1L1438.6,195.0L1438.4,194.9L1438.2,194.9L1438.0,194.8L1437.8,194.8L1432.1,194.4L1431.9,194.4L1431.7,194.4L1431.5,194.5L1431.3,194.5L1431.1,194.6L1431.0,194.7L1430.8,194.8L1430.6,194.9L1430.5,195.0L1430.4,195.2L1430.3,195.3L1428.6,198.1L1428.5,198.2L1428.4,198.4L1428.4,198.6L1428.3,198.8L1428.3,199.0ZM1457.6,212.2L1457.8,212.2L1458.0,212.2L1458.2,212.2L1458.4,212.1L1458.6,212.0L1458.8,211.9L1464.8,208.3L1464.9,208.2L1465.1,208.0L1465.2,207.9L1465.3,207.7L1465.4,207.6L1465.5,207.4L1465.6,207.2L1465.7,207.0L1465.7,206.8L1465.7,206.6L1465.7,206.5L1465.7,206.3L1465.6,206.1L1465.6,205.9L1465.5,205.7L1465.4,205.5L1465.3,205.4L1465.2,205.2L1465.0,205.1L1464.9,204.9L1464.7,204.8L1462.1,203.3L1461.9,203.2L1461.7,203.2L1461.6,203.1L1461.4,203.1L1461.2,203.1L1461.0,203.1L1460.8,203.1L1460.6,203.1L1455.3,204.5L1455.1,204.6L1454.9,204.6L1454.8,204.7L1454.6,204.8L1454.5,205.0L1454.3,205.1L1454.2,205.3L1454.1,205.4L1454.0,205.6L1453.9,205.8L1453.9,206.0L1453.8,206.1L1453.8,206.3L1453.8,206.5L1453.8,206.7L1453.9,206.9L1454.5,209.7L1454.6,209.9L1454.7,210.1L1454.7,210.3L1454.9,210.4L1455.0,210.6L1455.1,210.7L1455.2,210.8L1456.5,211.8L1456.7,211.9L1456.8,212.0L1457.0,212.1L1457.2,212.2L1457.4,212.2ZM1431.8,213.2L1432.0,213.2L1432.2,213.2L1432.4,213.1L1432.6,213.1L1432.7,213.0L1432.9,212.9L1433.1,212.7L1433.2,212.6L1433.3,212.4L1433.4,212.3L1433.5,212.1L1433.6,211.9L1433.7,211.7L1433.7,211.5L1433.7,211.3L1433.7,211.1L1433.7,210.9L1433.0,206.4L1433.0,206.2L1432.9,206.1L1432.8,205.9L1432.7,205.7L1432.6,205.5L1432.5,205.4L1432.4,205.3L1432.2,205.1L1432.0,205.0L1431.9,204.9L1428.9,203.5L1428.7,203.5L1428.5,203.4L1428.3,203.4L1428.1,203.3L1427.9,203.3L1427.7,203.4L1427.5,203.4L1427.3,203.5L1427.2,203.5L1427.0,203.6L1426.8,203.7L1426.7,203.9L1426.5,204.0L1425.6,205.1L1425.5,205.3L1425.3,205.4L1425.2,205.6L1425.2,205.8L1425.1,206.0L1425.1,206.2L1424.9,208.0L1424.9,208.2L1424.9,208.4L1425.0,208.6L1425.0,208.8L1425.1,209.0L1425.2,209.2L1425.3,209.3L1425.4,209.5L1425.5,209.6L1425.7,209.8L1425.9,209.9L1430.6,212.9L1430.8,213.0L1431.0,213.1L1431.2,213.2L1431.4,213.2L1431.6,213.2ZM1442.6,202.4L1442.5,202.4L1436.9,204.7L1436.7,204.8L1436.6,204.9L1436.4,205.0L1436.3,205.1L1436.2,205.3L1436.0,205.4L1435.9,205.6L1435.8,205.8L1435.8,205.9L1435.7,206.1L1435.7,206.3L1435.7,206.5L1435.7,206.7L1435.7,206.9L1436.3,210.6L1436.3,210.8L1436.4,211.0L1436.4,211.1L1436.5,211.3L1436.6,211.5L1436.8,211.6L1436.9,211.8L1437.0,211.9L1437.2,212.0L1437.4,212.1L1437.5,212.2L1437.7,212.2L1437.9,212.3L1438.1,212.3L1438.3,212.3L1442.4,212.3L1442.6,212.3L1442.7,212.3L1442.8,212.3L1443.0,212.4L1443.1,212.4L1443.2,212.5L1443.3,212.6L1445.0,214.1L1445.2,214.2L1445.3,214.3L1445.5,214.4L1445.7,214.5L1445.9,214.6L1446.1,214.6L1446.3,214.6L1446.5,214.6L1446.7,214.6L1446.9,214.5L1447.1,214.5L1447.3,214.4L1447.4,214.3L1447.6,214.2L1451.1,211.4L1451.2,211.3L1451.3,211.2L1451.5,211.0L1451.6,210.9L1451.7,210.7L1451.7,210.5L1451.8,210.3L1451.8,210.1L1451.8,210.0L1451.8,209.8L1451.8,209.6L1451.8,209.4L1450.9,205.6L1450.8,205.5L1450.8,205.3L1450.7,205.1L1450.6,205.0L1450.5,204.8L1450.3,204.7L1450.2,204.5L1450.0,204.4L1448.5,203.4L1448.3,203.3L1448.1,203.2L1448.0,203.2L1447.8,203.1L1447.6,203.1L1447.4,203.1L1447.2,203.1L1446.8,203.1L1446.6,203.1L1446.5,203.1L1446.4,203.1L1446.2,203.1L1443.8,202.4L1443.6,202.3L1443.4,202.3L1443.2,202.3L1443.0,202.3L1442.8,202.3ZM1469.3,206.3L1469.2,206.5L1469.1,206.6L1469.1,206.8L1469.0,207.0L1468.9,207.5L1468.9,207.7L1468.8,207.9L1468.9,208.1L1468.9,208.3L1468.9,208.5L1469.0,208.6L1470.7,213.6L1470.8,213.8L1470.9,214.0L1471.0,214.2L1471.1,214.3L1471.2,214.4L1471.3,214.6L1471.5,214.7L1471.6,214.8L1476.1,213.3L1471.6,204.8L1470.0,205.7L1469.8,205.8L1469.7,205.9L1469.5,206.0L1469.4,206.2ZM1468.3,214.8L1468.3,214.6L1468.2,214.4L1467.5,212.5L1467.5,212.3L1467.4,212.1L1467.3,211.9L1467.1,211.8L1467.0,211.7L1466.8,211.5L1466.7,211.4L1466.5,211.3L1466.3,211.2L1466.1,211.2L1465.9,211.1L1465.7,211.1L1465.5,211.1L1465.3,211.2L1465.1,211.2L1465.0,211.2L1464.8,211.3L1464.6,211.4L1460.1,214.2L1460.0,214.3L1459.8,214.4L1459.7,214.5L1459.5,214.7L1459.4,214.9L1459.3,215.1L1459.3,215.2L1459.2,215.4L1459.2,215.6L1459.2,215.8L1459.2,216.0L1459.2,216.2L1459.6,218.7L1459.8,218.7L1468.1,215.9L1468.2,215.8L1468.2,215.6L1468.3,215.4L1468.3,215.2L1468.3,215.0ZM1449.6,216.3L1449.6,216.5L1449.5,216.7L1449.5,216.9L1449.5,217.0L1449.5,217.2L1449.6,217.4L1449.6,217.6L1449.7,217.8L1449.8,218.0L1449.9,218.1L1450.0,218.2L1457.0,218.5L1456.5,215.7L1456.4,215.5L1456.3,215.3L1456.2,215.1L1456.1,214.9L1456.0,214.8L1455.9,214.6L1455.7,214.5L1454.8,213.8L1454.6,213.7L1454.5,213.6L1454.3,213.5L1454.1,213.4L1453.9,213.4L1453.7,213.3L1453.5,213.3L1453.4,213.3L1453.2,213.4L1453.0,213.4L1452.8,213.5L1452.6,213.6L1452.5,213.7L1452.3,213.8L1450.3,215.4L1450.1,215.5L1450.0,215.6L1449.9,215.8L1449.8,215.9L1449.7,216.1ZM1437.3,215.3L1437.1,215.5L1437.0,215.6L1436.9,215.8L1436.8,215.9L1436.7,216.1L1436.6,216.3L1436.6,216.5L1436.6,216.6L1436.5,216.8L1436.5,217.0L1436.6,217.2L1436.8,218.7L1439.6,217.8L1439.7,217.7L1439.8,217.7L1439.9,217.7L1440.1,217.7L1444.1,217.9L1444.1,217.7L1444.1,217.5L1444.1,217.3L1444.1,217.2L1444.0,217.0L1443.9,216.8L1443.8,216.6L1443.7,216.5L1443.6,216.3L1443.5,216.2L1442.5,215.4L1442.4,215.2L1442.2,215.1L1442.0,215.0L1441.8,215.0L1441.6,214.9L1441.4,214.9L1441.2,214.9L1438.5,214.9L1438.3,214.9L1438.1,214.9L1438.0,215.0L1437.8,215.1L1437.6,215.1L1437.4,215.2ZM1433.6,217.3L1433.5,217.2L1433.3,217.1L1433.1,217.0L1433.0,216.9L1432.8,216.8L1432.6,216.8L1432.4,216.7L1432.2,216.7L1432.0,216.7L1431.8,216.8L1431.6,216.8L1431.4,216.9L1431.2,216.9L1431.1,217.0L1430.9,217.2L1428.7,218.9L1428.5,219.1L1428.4,219.2L1428.3,219.3L1428.2,219.5L1428.1,219.7L1428.0,219.9L1428.0,220.0L1427.9,220.2L1427.9,220.4L1427.9,220.6L1427.9,220.8L1428.0,221.0L1428.0,221.2L1428.1,221.4L1428.2,221.5L1428.2,221.6L1434.3,219.5L1434.1,218.4L1434.1,218.2L1434.0,218.0L1433.9,217.8L1433.8,217.7L1433.7,217.5Z" fill="#050505"/>
<path d="M1364,212 C1385,214 1400,224 1410,230 C1425,236 1445,226 1460,224 C1470,224 1480,226 1490,230" stroke="#111" stroke-width="3" fill="none"/>
<path d="M1365,220 C1385,222 1400,232 1410,238 C1425,244 1445,234 1460,232 C1470,232 1480,234 1491,238" stroke="#8a8a8a" stroke-width="6" fill="none" stroke-dasharray="1.5 1.5"/>
</g>
<line x1="1687.4" y1="91.2" x2="1687.4" y2="473.8" stroke="#000" stroke-width="3" />
<line x1="1671.3" y1="92.7" x2="1687.4" y2="92.7" stroke="#000" stroke-width="3" />
<line x1="1671.3" y1="219.2" x2="1687.4" y2="219.2" stroke="#000" stroke-width="3" />
<line x1="1671.3" y1="345.8" x2="1687.4" y2="345.8" stroke="#000" stroke-width="3" />
<line x1="1671.3" y1="472.3" x2="1941.5" y2="472.3" stroke="#000" stroke-width="3" />
<line x1="1758.8" y1="472.3" x2="1758.8" y2="488.3" stroke="#000" stroke-width="3" />
<line x1="1867.0" y1="472.3" x2="1867.0" y2="488.3" stroke="#000" stroke-width="3" />
<text transform="translate(1661.5,103.9) scale(1,1.0)" font-size="34" text-anchor="end" font-weight="normal" fill="#231815" >30</text>
<text transform="translate(1661.5,230.4) scale(1,1.0)" font-size="34" text-anchor="end" font-weight="normal" fill="#231815" >20</text>
<text transform="translate(1661.5,357.0) scale(1,1.0)" font-size="34" text-anchor="end" font-weight="normal" fill="#231815" >10</text>
<text transform="translate(1658.3,481.5) scale(1,1.0)" font-size="34" text-anchor="end" font-weight="normal" fill="#231815" >0</text>
<text transform="translate(1605.4,332.5) rotate(-90) scale(1,1.04)" font-size="34.8" fill="#231815">BV/TV%</text>
<circle cx="1759.2" cy="135.3" r="5.7" fill="#808080" />
<circle cx="1747.9" cy="170.9" r="5.7" fill="#808080" />
<circle cx="1770.6" cy="169.7" r="5.7" fill="#808080" />
<circle cx="1759.2" cy="199.0" r="5.7" fill="#808080" />
<circle cx="1759.2" cy="228.6" r="5.7" fill="#808080" />
<line x1="1723.4" y1="180.3" x2="1795.2" y2="180.3" stroke="#000" stroke-width="2" />
<line x1="1741.0" y1="164.7" x2="1777.0" y2="164.7" stroke="#000" stroke-width="2" />
<line x1="1741.0" y1="196.1" x2="1777.0" y2="196.1" stroke="#000" stroke-width="2" />
<line x1="1759.4" y1="164.7" x2="1759.4" y2="196.1" stroke="#000" stroke-width="2" />
<circle cx="1867.4" cy="321.9" r="5.7" fill="#e23c3c" />
<circle cx="1867.4" cy="336.0" r="5.7" fill="#e23c3c" />
<circle cx="1856.0" cy="365.1" r="5.7" fill="#e23c3c" />
<circle cx="1878.4" cy="371.4" r="5.7" fill="#e23c3c" />
<circle cx="1867.4" cy="396.2" r="5.7" fill="#e23c3c" />
<line x1="1831.6" y1="358.3" x2="1903.4" y2="358.3" stroke="#000" stroke-width="2" />
<line x1="1849.3" y1="344.7" x2="1885.3" y2="344.7" stroke="#000" stroke-width="2" />
<line x1="1849.3" y1="371.4" x2="1885.3" y2="371.4" stroke="#000" stroke-width="2" />
<line x1="1867.4" y1="344.7" x2="1867.4" y2="371.4" stroke="#000" stroke-width="2" />
<line x1="1748.3" y1="107.2" x2="1869.0" y2="107.2" stroke="#000" stroke-width="2.3" />
<text transform="translate(1810.7,112.4) scale(1,1.06)" font-size="43.3" text-anchor="middle" font-weight="bold" fill="#000" letter-spacing="3.4">***</text>
<text transform="translate(1748.3,531.2) scale(1,1.04)" font-size="34.2" text-anchor="middle" font-weight="normal" fill="#231815" >A549</text>
<text transform="translate(1878.6,531.2) scale(1,1.04)" font-size="33.8" text-anchor="middle" font-weight="normal" fill="#231815" >A549-BM</text>
<line x1="204.8" y1="738.6" x2="204.8" y2="1176.5" stroke="#000" stroke-width="3" />
<line x1="194.6" y1="1158.4" x2="204.8" y2="1158.4" stroke="#000" stroke-width="3" />
<line x1="194.6" y1="1074.7" x2="204.8" y2="1074.7" stroke="#000" stroke-width="3" />
<line x1="194.6" y1="991.1" x2="204.8" y2="991.1" stroke="#000" stroke-width="3" />
<line x1="194.6" y1="907.4" x2="204.8" y2="907.4" stroke="#000" stroke-width="3" />
<line x1="194.6" y1="823.8" x2="204.8" y2="823.8" stroke="#000" stroke-width="3" />
<line x1="194.6" y1="740.1" x2="204.8" y2="740.1" stroke="#000" stroke-width="3" />
<line x1="204.0" y1="1175.0" x2="665.8" y2="1175.0" stroke="#000" stroke-width="3" />
<line x1="204.8" y1="1175.0" x2="204.8" y2="1186.0" stroke="#000" stroke-width="3" />
<line x1="296.6" y1="1175.0" x2="296.6" y2="1186.0" stroke="#000" stroke-width="3" />
<line x1="388.4" y1="1175.0" x2="388.4" y2="1186.0" stroke="#000" stroke-width="3" />
<line x1="480.2" y1="1175.0" x2="480.2" y2="1186.0" stroke="#000" stroke-width="3" />
<line x1="572.0" y1="1175.0" x2="572.0" y2="1186.0" stroke="#000" stroke-width="3" />
<line x1="663.8" y1="1175.0" x2="663.8" y2="1186.0" stroke="#000" stroke-width="3" />
<text transform="translate(173.3,1172.4) scale(1,1.0)" font-size="34" text-anchor="end" font-weight="normal" fill="#231815" >0</text>
<text transform="translate(178.8,1088.7) scale(1,1.0)" font-size="34" text-anchor="end" font-weight="normal" fill="#231815" >50</text>
<text transform="translate(181.0,1005.1) scale(1,1.0)" font-size="34" text-anchor="end" font-weight="normal" fill="#231815" >100</text>
<text transform="translate(181.0,921.4) scale(1,1.0)" font-size="34" text-anchor="end" font-weight="normal" fill="#231815" >150</text>
<text transform="translate(181.0,837.8) scale(1,1.0)" font-size="34" text-anchor="end" font-weight="normal" fill="#231815" >200</text>
<text transform="translate(181.8,754.1) scale(1,1.0)" font-size="34" text-anchor="end" font-weight="normal" fill="#231815" >250</text>
<text transform="translate(203.8,1227.8) scale(1,1.04)" font-size="35" text-anchor="middle" font-weight="normal" fill="#231815" >0</text>
<text transform="translate(295.6,1227.8) scale(1,1.04)" font-size="35" text-anchor="middle" font-weight="normal" fill="#231815" >1</text>
<text transform="translate(387.4,1227.8) scale(1,1.04)" font-size="35" text-anchor="middle" font-weight="normal" fill="#231815" >2</text>
<text transform="translate(479.2,1227.8) scale(1,1.04)" font-size="35" text-anchor="middle" font-weight="normal" fill="#231815" >3</text>
<text transform="translate(571.0,1227.8) scale(1,1.04)" font-size="35" text-anchor="middle" font-weight="normal" fill="#231815" >4</text>
<text transform="translate(662.8,1227.8) scale(1,1.04)" font-size="35" text-anchor="middle" font-weight="normal" fill="#231815" >5</text>
<text transform="translate(435.3,1283.0) scale(1,1.04)" font-size="34.6" text-anchor="middle" font-weight="normal" fill="#231815" >Fold change (A549BM/A549)</text>
<text transform="translate(63.5,959.5) rotate(-90) scale(1,1.04)" font-size="34.6" text-anchor="middle" fill="#231815">miRNA epxression</text>
<text transform="translate(103.2,955) rotate(-90) scale(1,1.04)" font-size="33.2" text-anchor="middle" fill="#231815">(A549BM,FPKM x 10<tspan font-size="21" dy="-13">3</tspan><tspan dy="13">)</tspan></text>
<circle cx="207.0" cy="1158.0" r="3.5" fill="#838383" />
<circle cx="209.2" cy="1157.7" r="3.5" fill="#838383" />
<circle cx="211.4" cy="1158.5" r="3.5" fill="#838383" />
<circle cx="213.6" cy="1157.6" r="3.5" fill="#838383" />
<circle cx="215.8" cy="1158.4" r="3.5" fill="#838383" />
<circle cx="218.0" cy="1158.1" r="3.5" fill="#838383" />
<circle cx="220.2" cy="1157.6" r="3.5" fill="#838383" />
<circle cx="222.4" cy="1158.3" r="3.5" fill="#838383" />
<circle cx="224.6" cy="1157.6" r="3.5" fill="#838383" />
<circle cx="226.8" cy="1158.2" r="3.5" fill="#838383" />
<circle cx="229.0" cy="1157.6" r="3.5" fill="#838383" />
<circle cx="231.2" cy="1157.6" r="3.5" fill="#838383" />
<circle cx="233.4" cy="1158.2" r="3.5" fill="#838383" />
<circle cx="235.6" cy="1158.8" r="3.5" fill="#838383" />
<circle cx="237.8" cy="1157.7" r="3.5" fill="#838383" />
<circle cx="240.0" cy="1157.9" r="3.5" fill="#838383" />
<circle cx="242.2" cy="1158.5" r="3.5" fill="#838383" />
<circle cx="244.4" cy="1159.0" r="3.5" fill="#838383" />
<circle cx="246.6" cy="1158.4" r="3.5" fill="#838383" />
<circle cx="248.8" cy="1158.1" r="3.5" fill="#838383" />
<circle cx="251.0" cy="1159.1" r="3.5" fill="#838383" />
<circle cx="253.2" cy="1157.6" r="3.5" fill="#838383" />
<circle cx="255.4" cy="1158.9" r="3.5" fill="#838383" />
<circle cx="257.6" cy="1158.0" r="3.5" fill="#838383" />
<circle cx="259.8" cy="1157.7" r="3.5" fill="#838383" />
<circle cx="262.0" cy="1157.7" r="3.5" fill="#838383" />
<circle cx="264.2" cy="1158.0" r="3.5" fill="#838383" />
<circle cx="266.4" cy="1158.8" r="3.5" fill="#838383" />
<circle cx="268.6" cy="1157.8" r="3.5" fill="#838383" />
<circle cx="270.8" cy="1158.4" r="3.5" fill="#838383" />
<circle cx="273.0" cy="1158.5" r="3.5" fill="#838383" />
<circle cx="275.2" cy="1158.1" r="3.5" fill="#838383" />
<circle cx="277.4" cy="1158.4" r="3.5" fill="#838383" />
<circle cx="279.6" cy="1157.6" r="3.5" fill="#838383" />
<circle cx="281.8" cy="1157.6" r="3.5" fill="#838383" />
<circle cx="284.0" cy="1157.8" r="3.5" fill="#838383" />
<circle cx="286.2" cy="1158.6" r="3.5" fill="#838383" />
<circle cx="288.4" cy="1158.2" r="3.5" fill="#838383" />
<circle cx="290.6" cy="1158.0" r="3.5" fill="#838383" />
<circle cx="292.8" cy="1158.4" r="3.5" fill="#838383" />
<circle cx="295.0" cy="1158.2" r="3.5" fill="#838383" />
<circle cx="297.2" cy="1158.0" r="3.5" fill="#838383" />
<circle cx="299.4" cy="1158.8" r="3.5" fill="#838383" />
<circle cx="301.6" cy="1158.6" r="3.5" fill="#838383" />
<circle cx="303.8" cy="1157.9" r="3.5" fill="#838383" />
<circle cx="306.0" cy="1158.4" r="3.5" fill="#838383" />
<circle cx="308.2" cy="1158.3" r="3.5" fill="#838383" />
<circle cx="310.4" cy="1158.9" r="3.5" fill="#838383" />
<circle cx="312.6" cy="1158.7" r="3.5" fill="#838383" />
<circle cx="314.8" cy="1158.0" r="3.5" fill="#838383" />
<circle cx="317.0" cy="1159.1" r="3.5" fill="#838383" />
<circle cx="319.2" cy="1157.7" r="3.5" fill="#838383" />
<circle cx="321.4" cy="1158.2" r="3.5" fill="#838383" />
<circle cx="323.6" cy="1158.7" r="3.5" fill="#838383" />
<circle cx="325.8" cy="1157.7" r="3.5" fill="#838383" />
<circle cx="328.0" cy="1158.3" r="3.5" fill="#838383" />
<circle cx="330.2" cy="1157.6" r="3.5" fill="#838383" />
<circle cx="332.4" cy="1158.6" r="3.5" fill="#838383" />
<circle cx="334.6" cy="1158.7" r="3.5" fill="#838383" />
<circle cx="336.8" cy="1158.4" r="3.5" fill="#838383" />
<circle cx="339.0" cy="1158.9" r="3.5" fill="#838383" />
<circle cx="341.2" cy="1158.0" r="3.5" fill="#838383" />
<circle cx="343.4" cy="1158.6" r="3.5" fill="#838383" />
<circle cx="345.6" cy="1158.5" r="3.5" fill="#838383" />
<circle cx="347.8" cy="1158.4" r="3.5" fill="#838383" />
<circle cx="350.0" cy="1158.2" r="3.5" fill="#838383" />
<circle cx="352.2" cy="1158.8" r="3.5" fill="#838383" />
<circle cx="354.4" cy="1159.0" r="3.5" fill="#838383" />
<circle cx="356.6" cy="1158.3" r="3.5" fill="#838383" />
<circle cx="358.8" cy="1158.6" r="3.5" fill="#838383" />
<circle cx="361.0" cy="1157.6" r="3.5" fill="#838383" />
<circle cx="363.2" cy="1158.6" r="3.5" fill="#838383" />
<circle cx="365.4" cy="1158.5" r="3.5" fill="#838383" />
<circle cx="367.6" cy="1159.1" r="3.5" fill="#838383" />
<circle cx="369.8" cy="1158.8" r="3.5" fill="#838383" />
<circle cx="372.0" cy="1158.0" r="3.5" fill="#838383" />
<circle cx="374.2" cy="1158.1" r="3.5" fill="#838383" />
<circle cx="376.4" cy="1158.6" r="3.5" fill="#838383" />
<circle cx="378.6" cy="1157.5" r="3.5" fill="#838383" />
<circle cx="380.8" cy="1158.2" r="3.5" fill="#838383" />
<circle cx="383.0" cy="1157.8" r="3.5" fill="#838383" />
<circle cx="385.2" cy="1157.7" r="3.5" fill="#838383" />
<circle cx="387.4" cy="1157.6" r="3.5" fill="#838383" />
<circle cx="389.6" cy="1158.7" r="3.5" fill="#838383" />
<circle cx="391.8" cy="1157.7" r="3.5" fill="#838383" />
<circle cx="394.0" cy="1157.9" r="3.5" fill="#838383" />
<circle cx="396.2" cy="1158.1" r="3.5" fill="#838383" />
<circle cx="398.4" cy="1158.9" r="3.5" fill="#838383" />
<circle cx="400.6" cy="1157.6" r="3.5" fill="#838383" />
<circle cx="402.8" cy="1158.2" r="3.5" fill="#838383" />
<circle cx="405.0" cy="1158.4" r="3.5" fill="#838383" />
<circle cx="407.2" cy="1158.9" r="3.5" fill="#838383" />
<circle cx="409.4" cy="1158.8" r="3.5" fill="#838383" />
<circle cx="411.6" cy="1158.9" r="3.5" fill="#838383" />
<circle cx="413.8" cy="1157.9" r="3.5" fill="#838383" />
<circle cx="416.0" cy="1158.2" r="3.5" fill="#838383" />
<circle cx="418.2" cy="1158.1" r="3.5" fill="#838383" />
<circle cx="420.4" cy="1158.9" r="3.5" fill="#838383" />
<circle cx="422.6" cy="1159.0" r="3.5" fill="#838383" />
<circle cx="424.8" cy="1157.7" r="3.5" fill="#838383" />
<circle cx="427.0" cy="1157.8" r="3.5" fill="#838383" />
<circle cx="429.2" cy="1157.9" r="3.5" fill="#838383" />
<circle cx="431.4" cy="1157.9" r="3.5" fill="#838383" />
<circle cx="433.6" cy="1158.3" r="3.5" fill="#838383" />
<circle cx="435.8" cy="1158.4" r="3.5" fill="#838383" />
<circle cx="438.0" cy="1157.9" r="3.5" fill="#838383" />
<circle cx="440.2" cy="1157.5" r="3.5" fill="#838383" />
<circle cx="442.4" cy="1158.2" r="3.5" fill="#838383" />
<circle cx="444.6" cy="1158.1" r="3.5" fill="#838383" />
<circle cx="450.7" cy="1158.4" r="3.5" fill="#838383" />
<circle cx="454.8" cy="1159.0" r="3.5" fill="#838383" />
<circle cx="463.0" cy="1158.6" r="3.5" fill="#838383" />
<circle cx="467.2" cy="1158.3" r="3.5" fill="#838383" />
<circle cx="479.5" cy="1158.5" r="3.5" fill="#838383" />
<circle cx="496.0" cy="1158.6" r="3.5" fill="#838383" />
<circle cx="504.2" cy="1157.6" r="3.5" fill="#838383" />
<circle cx="508.3" cy="1158.9" r="3.5" fill="#838383" />
<circle cx="511.7" cy="1158.7" r="3.5" fill="#838383" />
<circle cx="520.6" cy="1158.9" r="3.5" fill="#838383" />
<circle cx="524.7" cy="1158.8" r="3.5" fill="#838383" />
<circle cx="528.8" cy="1158.1" r="3.5" fill="#838383" />
<circle cx="546.0" cy="1158.1" r="3.5" fill="#838383" />
<circle cx="567.2" cy="1157.7" r="3.5" fill="#838383" />
<circle cx="571.3" cy="1158.5" r="3.5" fill="#838383" />
<circle cx="575.4" cy="1157.6" r="3.5" fill="#838383" />
<circle cx="579.6" cy="1157.6" r="3.5" fill="#838383" />
<circle cx="583.7" cy="1157.8" r="3.5" fill="#838383" />
<circle cx="587.8" cy="1157.8" r="3.5" fill="#838383" />
<circle cx="591.9" cy="1158.0" r="3.5" fill="#838383" />
<circle cx="597.4" cy="1157.6" r="3.5" fill="#838383" />
<circle cx="611.8" cy="1157.5" r="3.5" fill="#838383" />
<circle cx="620.7" cy="1157.7" r="3.5" fill="#838383" />
<circle cx="648.8" cy="1157.7" r="3.5" fill="#838383" />
<circle cx="653.6" cy="1158.1" r="3.5" fill="#838383" />
<circle cx="658.4" cy="1157.5" r="3.5" fill="#838383" />
<circle cx="483.6" cy="1156.2" r="3.5" fill="#838383" />
<circle cx="535.7" cy="1156.0" r="3.5" fill="#838383" />
<circle cx="554.9" cy="1154.9" r="3.5" fill="#838383" />
<circle cx="556.9" cy="1155.5" r="3.5" fill="#838383" />
<circle cx="280.0" cy="794.4" r="3.5" fill="#838383" />
<circle cx="334.3" cy="957.1" r="3.5" fill="#838383" />
<circle cx="311.4" cy="982.4" r="3.5" fill="#838383" />
<circle cx="310.3" cy="999.3" r="3.5" fill="#838383" />
<circle cx="327.8" cy="1037.4" r="3.5" fill="#838383" />
<circle cx="338.3" cy="1088.3" r="3.5" fill="#838383" />
<circle cx="268.0" cy="1092.0" r="3.5" fill="#838383" />
<circle cx="291.0" cy="1105.0" r="3.5" fill="#838383" />
<circle cx="272.6" cy="1111.2" r="3.5" fill="#838383" />
<circle cx="269.8" cy="1118.9" r="3.5" fill="#838383" />
<circle cx="307.7" cy="1118.2" r="3.5" fill="#838383" />
<circle cx="296.5" cy="1124.7" r="3.5" fill="#838383" />
<circle cx="294.0" cy="1133.5" r="3.5" fill="#838383" />
<circle cx="336.9" cy="1133.5" r="3.5" fill="#838383" />
<circle cx="314.6" cy="1132.1" r="3.5" fill="#838383" />
<circle cx="319.5" cy="1132.5" r="3.5" fill="#838383" />
<circle cx="296.5" cy="1141.2" r="3.5" fill="#838383" />
<circle cx="274.7" cy="1140.2" r="3.5" fill="#838383" />
<circle cx="244.3" cy="1138.4" r="3.5" fill="#838383" />
<circle cx="250.6" cy="1141.2" r="3.5" fill="#838383" />
<circle cx="248.5" cy="1144.0" r="3.5" fill="#838383" />
<circle cx="261.7" cy="1138.0" r="3.5" fill="#838383" />
<circle cx="261.0" cy="1145.4" r="3.5" fill="#838383" />
<circle cx="257.5" cy="1148.1" r="3.5" fill="#838383" />
<circle cx="253.4" cy="1149.1" r="3.5" fill="#838383" />
<circle cx="265.9" cy="1150.2" r="3.5" fill="#838383" />
<circle cx="224.1" cy="1146.3" r="3.5" fill="#838383" />
<circle cx="233.9" cy="1144.9" r="3.5" fill="#838383" />
<circle cx="322.3" cy="1143.0" r="3.5" fill="#838383" />
<circle cx="317.4" cy="1146.7" r="3.5" fill="#838383" />
<circle cx="306.3" cy="1148.1" r="3.5" fill="#838383" />
<circle cx="329.2" cy="1150.5" r="3.5" fill="#838383" />
<circle cx="299.3" cy="1151.6" r="3.5" fill="#838383" />
<circle cx="270.0" cy="1151.0" r="3.5" fill="#838383" />
<circle cx="285.0" cy="1152.0" r="3.5" fill="#838383" />
<circle cx="240.0" cy="1152.0" r="3.5" fill="#838383" />
<circle cx="315.0" cy="1152.0" r="3.5" fill="#838383" />
<circle cx="361.0" cy="920.5" r="3.7" fill="#c3261f" />
<circle cx="376.3" cy="1035.3" r="3.7" fill="#c3261f" />
<circle cx="473.1" cy="997.1" r="3.7" fill="#c3261f" />
<circle cx="484.0" cy="1008.9" r="3.7" fill="#c3261f" />
<circle cx="588.2" cy="985.2" r="3.7" fill="#c3261f" />
<circle cx="527.4" cy="1133.9" r="3.7" fill="#c3261f" />
<circle cx="395.1" cy="1093.5" r="3.7" fill="#c3261f" />
<circle cx="350.0" cy="1115.7" r="3.7" fill="#c3261f" />
<circle cx="349.2" cy="1123.6" r="3.7" fill="#c3261f" />
<circle cx="351.3" cy="1123.1" r="3.7" fill="#c3261f" />
<circle cx="350.0" cy="1145.6" r="3.7" fill="#c3261f" />
<circle cx="399.7" cy="1133.5" r="3.7" fill="#c3261f" />
<circle cx="383.9" cy="1141.0" r="3.7" fill="#c3261f" />
<circle cx="381.3" cy="1148.7" r="3.7" fill="#c3261f" />
<circle cx="375.4" cy="1152.1" r="3.7" fill="#c3261f" />
<circle cx="448.0" cy="1152.1" r="3.7" fill="#c3261f" />
<circle cx="482.2" cy="1151.4" r="3.7" fill="#c3261f" />
<line x1="342.9" y1="745.3" x2="342.9" y2="1175.0" stroke="#000" stroke-width="2.2" stroke-dasharray="4.3 4.5"/>
<line x1="206.0" y1="1152.1" x2="661.0" y2="1152.1" stroke="#000" stroke-width="2.2" stroke-dasharray="4.3 4.5"/>
<line x1="364.3" y1="915.5" x2="372.9" y2="907.4" stroke="#111" stroke-width="2" />
<line x1="378.0" y1="1029.1" x2="385.0" y2="1018.9" stroke="#111" stroke-width="2" />
<line x1="476.2" y1="990.0" x2="485.0" y2="981.8" stroke="#111" stroke-width="2" />
<line x1="487.5" y1="1015.2" x2="496.3" y2="1022.6" stroke="#111" stroke-width="2" />
<line x1="593.3" y1="981.3" x2="601.7" y2="973.0" stroke="#111" stroke-width="2" />
<line x1="532.3" y1="1129.0" x2="542.3" y2="1122.0" stroke="#111" stroke-width="2" />
<line x1="398.5" y1="1088.2" x2="404.8" y2="1078.2" stroke="#111" stroke-width="2" />
<line x1="405.6" y1="1130.8" x2="416.9" y2="1124.6" stroke="#111" stroke-width="2" />
<line x1="389.4" y1="1142.0" x2="402.8" y2="1143.8" stroke="#111" stroke-width="2" />
<line x1="378.0" y1="1156.4" x2="388.4" y2="1162.0" stroke="#111" stroke-width="2" />
<line x1="329.1" y1="1162.7" x2="338.7" y2="1155.5" stroke="#111" stroke-width="2" />
<text transform="translate(375.7,904.3) scale(1,1.04)" font-size="16.9" text-anchor="start" font-weight="normal" fill="#111" >let-7-f</text>
<text transform="translate(384.5,1013.7) scale(1,1.04)" font-size="16.9" text-anchor="start" font-weight="normal" fill="#111" >let-7g</text>
<text transform="translate(475.2,976.0) scale(1,1.04)" font-size="16.9" text-anchor="start" font-weight="normal" fill="#111" >miR−191</text>
<text transform="translate(498.9,1031.4) scale(1,1.04)" font-size="16.9" text-anchor="start" font-weight="normal" fill="#111" >miR−99a</text>
<text transform="translate(604.4,972.5) scale(1,1.04)" font-size="16.9" text-anchor="start" font-weight="normal" fill="#111" >miR−99b</text>
<text transform="translate(546.4,1122.0) scale(1,1.04)" font-size="16.9" text-anchor="start" font-weight="normal" fill="#111" >miR-183</text>
<text transform="translate(406.7,1073.3) scale(1,1.04)" font-size="16.9" text-anchor="start" font-weight="normal" fill="#111" >miR-186</text>
<text transform="translate(355.4,1113.0) scale(1,1.04)" font-size="16.9" text-anchor="start" font-weight="normal" fill="#111" >miR-125b</text>
<text transform="translate(420.0,1127.2) scale(1,1.04)" font-size="16.9" text-anchor="start" font-weight="normal" fill="#111" >miR-151a</text>
<text transform="translate(406.9,1146.7) scale(1,1.04)" font-size="16.9" text-anchor="start" font-weight="normal" fill="#111" >miR-182</text>
<text transform="translate(392.3,1168.2) scale(1,1.04)" font-size="16.9" text-anchor="start" font-weight="normal" fill="#111" >miR-9</text>
<text transform="translate(260.6,1170.0) scale(1,1.04)" font-size="16.9" text-anchor="start" font-weight="normal" fill="#111" >miR-582</text>
<text transform="translate(1024.5,680.0) scale(1,1.0)" font-size="30.3" text-anchor="middle" font-weight="normal" fill="#231815" >miRNAs upregulated in A549-BM cells</text>
<line x1="797.9" y1="735.1" x2="797.9" y2="1174.7" stroke="#000" stroke-width="3" />
<line x1="785.1" y1="1085.9" x2="797.9" y2="1085.9" stroke="#000" stroke-width="3" />
<line x1="785.1" y1="998.6" x2="797.9" y2="998.6" stroke="#000" stroke-width="3" />
<line x1="785.1" y1="911.3" x2="797.9" y2="911.3" stroke="#000" stroke-width="3" />
<line x1="785.1" y1="824.0" x2="797.9" y2="824.0" stroke="#000" stroke-width="3" />
<line x1="785.1" y1="736.7" x2="797.9" y2="736.7" stroke="#000" stroke-width="3" />
<line x1="785.2" y1="1173.2" x2="1290.8" y2="1173.2" stroke="#000" stroke-width="3" />
<line x1="798.0" y1="1173.2" x2="798.0" y2="1186.1" stroke="#000" stroke-width="3" />
<line x1="896.2" y1="1173.2" x2="896.2" y2="1186.1" stroke="#000" stroke-width="3" />
<line x1="992.6" y1="1173.2" x2="992.6" y2="1186.1" stroke="#000" stroke-width="3" />
<line x1="1091.7" y1="1173.2" x2="1091.7" y2="1186.1" stroke="#000" stroke-width="3" />
<line x1="1189.9" y1="1173.2" x2="1189.9" y2="1186.1" stroke="#000" stroke-width="3" />
<line x1="1288.4" y1="1173.2" x2="1288.4" y2="1186.1" stroke="#000" stroke-width="3" />
<text transform="translate(773.6,1185.0) scale(1,1.05)" font-size="34.5" text-anchor="end" font-weight="normal" fill="#231815" >0</text>
<text transform="translate(773.6,1097.7) scale(1,1.05)" font-size="34.5" text-anchor="end" font-weight="normal" fill="#231815" >10</text>
<text transform="translate(773.6,1010.4) scale(1,1.05)" font-size="34.5" text-anchor="end" font-weight="normal" fill="#231815" >20</text>
<text transform="translate(773.6,923.1) scale(1,1.05)" font-size="34.5" text-anchor="end" font-weight="normal" fill="#231815" >30</text>
<text transform="translate(773.6,835.8) scale(1,1.05)" font-size="34.5" text-anchor="end" font-weight="normal" fill="#231815" >40</text>
<text transform="translate(773.6,748.5) scale(1,1.05)" font-size="34.5" text-anchor="end" font-weight="normal" fill="#231815" >50</text>
<text transform="translate(795.0,1228.8) scale(1,1.04)" font-size="34" text-anchor="middle" font-weight="normal" fill="#231815" >-6</text>
<text transform="translate(893.2,1228.8) scale(1,1.04)" font-size="34" text-anchor="middle" font-weight="normal" fill="#231815" >-3</text>
<text transform="translate(992.6,1228.8) scale(1,1.04)" font-size="34" text-anchor="middle" font-weight="normal" fill="#231815" >0</text>
<text transform="translate(1091.7,1228.8) scale(1,1.04)" font-size="34" text-anchor="middle" font-weight="normal" fill="#231815" >3</text>
<text transform="translate(1189.9,1228.8) scale(1,1.04)" font-size="34" text-anchor="middle" font-weight="normal" fill="#231815" >6</text>
<text transform="translate(1288.4,1228.8) scale(1,1.04)" font-size="34" text-anchor="middle" font-weight="normal" fill="#231815" >9</text>
<text transform="translate(1072.7,1282.0) scale(1,1.04)" font-size="34.4" text-anchor="middle" font-weight="normal" fill="#231815" >Log<tspan font-size="23" dy="9">2</tspan><tspan dy="-9"> Fold change (T/N)</tspan></text>
<text transform="translate(712.5,989.5) rotate(-90) scale(1,1.04)" font-size="34.5" fill="#231815">-Log <tspan font-style="italic">p</tspan></text>
<line x1="1022.2" y1="739.2" x2="1022.2" y2="1173.0" stroke="#000" stroke-width="2" stroke-dasharray="4.5 3.5"/>
<circle cx="1082.9" cy="989.3" r="6.3" fill="#000" />
<circle cx="1211.3" cy="1011.0" r="6.3" fill="#000" />
<circle cx="922.4" cy="1018.9" r="6.3" fill="#000" />
<circle cx="1009.6" cy="1047.5" r="6.3" fill="#000" />
<circle cx="1036.3" cy="1071.1" r="6.3" fill="#000" />
<circle cx="1025.6" cy="1094.4" r="6.3" fill="#000" />
<circle cx="880.5" cy="1137.8" r="6.3" fill="#000" />
<circle cx="932.4" cy="1129.0" r="6.3" fill="#000" />
<circle cx="1051.4" cy="1136.3" r="6.3" fill="#000" />
<circle cx="957.0" cy="1152.6" r="6.3" fill="#000" />
<circle cx="1008.3" cy="1149.8" r="6.3" fill="#000" />
<circle cx="993.2" cy="1160.8" r="6.3" fill="#000" />
<circle cx="949.1" cy="1173.1" r="6.3" fill="#000" />
<circle cx="962.7" cy="1171.8" r="6.3" fill="#000" />
<circle cx="976.8" cy="1169.3" r="6.3" fill="#000" />
<circle cx="985.3" cy="1166.2" r="6.3" fill="#000" />
<circle cx="992.6" cy="1170.3" r="6.3" fill="#000" />
<circle cx="1088.2" cy="821.1" r="6.3" fill="#b3252a" stroke="#7a1a1a" stroke-width="1"/>
<line x1="1101.8" y1="817.2" x2="1116.5" y2="813.3" stroke="#111" stroke-width="2" />
<line x1="1092.3" y1="982.0" x2="1107.1" y2="977.9" stroke="#111" stroke-width="2" />
<line x1="1223.0" y1="1008.2" x2="1237.8" y2="1004.1" stroke="#111" stroke-width="2" />
<line x1="1046.7" y1="1066.4" x2="1061.5" y2="1058.2" stroke="#111" stroke-width="2" />
<line x1="1037.9" y1="1095.3" x2="1053.9" y2="1097.5" stroke="#111" stroke-width="2" />
<line x1="1063.4" y1="1137.2" x2="1079.1" y2="1138.8" stroke="#111" stroke-width="2" />
<text transform="translate(1126.2,814.6) scale(1,1.04)" font-size="16.6" text-anchor="start" font-weight="normal" fill="#111" >miR−182</text>
<text transform="translate(1116.0,980.5) scale(1,1.04)" font-size="16.6" text-anchor="start" font-weight="normal" fill="#111" >miR−183</text>
<text transform="translate(1246.0,1008.2) scale(1,1.04)" font-size="16.6" text-anchor="start" font-weight="normal" fill="#111" >miR-9</text>
<text transform="translate(1071.0,1060.7) scale(1,1.04)" font-size="16.6" text-anchor="start" font-weight="normal" fill="#111" >miR-151a</text>
<text transform="translate(1061.5,1100.7) scale(1,1.04)" font-size="16.6" text-anchor="start" font-weight="normal" fill="#111" >miR-186</text>
<text transform="translate(1086.0,1142.6) scale(1,1.04)" font-size="16.6" text-anchor="start" font-weight="normal" fill="#111" >miR-582</text>
<line x1="1439.8" y1="726.2" x2="1439.8" y2="1166.7" stroke="#000" stroke-width="3" />
<line x1="1426.3" y1="1077.7" x2="1439.8" y2="1077.7" stroke="#000" stroke-width="3" />
<line x1="1426.3" y1="990.2" x2="1439.8" y2="990.2" stroke="#000" stroke-width="3" />
<line x1="1426.3" y1="902.7" x2="1439.8" y2="902.7" stroke="#000" stroke-width="3" />
<line x1="1426.3" y1="815.2" x2="1439.8" y2="815.2" stroke="#000" stroke-width="3" />
<line x1="1426.3" y1="727.7" x2="1439.8" y2="727.7" stroke="#000" stroke-width="3" />
<line x1="1425.9" y1="1165.2" x2="1968.4" y2="1165.2" stroke="#000" stroke-width="3" />
<line x1="1544.9" y1="1165.2" x2="1544.9" y2="1181.5" stroke="#000" stroke-width="3" />
<line x1="1703.0" y1="1165.2" x2="1703.0" y2="1181.5" stroke="#000" stroke-width="3" />
<line x1="1861.9" y1="1165.2" x2="1861.9" y2="1181.5" stroke="#000" stroke-width="3" />
<text transform="translate(1412.5,1175.4) scale(1,0.97)" font-size="35.5" text-anchor="end" font-weight="normal" fill="#231815" >0</text>
<text transform="translate(1412.5,1087.9) scale(1,0.97)" font-size="35.5" text-anchor="end" font-weight="normal" fill="#231815" >5</text>
<text transform="translate(1412.5,1000.4) scale(1,0.97)" font-size="35.5" text-anchor="end" font-weight="normal" fill="#231815" >10</text>
<text transform="translate(1412.5,912.9) scale(1,0.97)" font-size="35.5" text-anchor="end" font-weight="normal" fill="#231815" >15</text>
<text transform="translate(1412.5,825.4) scale(1,0.97)" font-size="35.5" text-anchor="end" font-weight="normal" fill="#231815" >20</text>
<text transform="translate(1412.5,737.9) scale(1,0.97)" font-size="35.5" text-anchor="end" font-weight="normal" fill="#231815" >25</text>
<text transform="translate(1356.5,1159) rotate(-90) scale(1,1.04)" font-size="34" fill="#231815">Relative miR-182 expression</text>
<text transform="translate(1563.5,1216.2) rotate(-45) scale(1,1.04)" font-size="33.6" text-anchor="end" fill="#231815">Normal</text>
<text transform="translate(1733.2,1216.3) rotate(-45) scale(1,1.04)" font-size="33.6" text-anchor="end" fill="#231815">Primary tumor</text>
<text transform="translate(1903,1215.4) rotate(-45) scale(1,1.04)" font-size="33.6" text-anchor="end" fill="#231815">Bone-met</text>
<path d="M1700.1,779.5 V757.1 H1874.7 V779.5" stroke="#1a1a1a" stroke-width="1.8" fill="none"/>
<path d="M1541,885.5 V867.5 H1704.2 V885.5" stroke="#1a1a1a" stroke-width="1.8" fill="none"/>
<text transform="translate(1783.6,809.6) scale(1,1.05)" font-size="39.4" text-anchor="middle" font-weight="bold" fill="#111" letter-spacing="2.8">***</text>
<text transform="translate(1621.6,914.8) scale(1,1.01)" font-size="38.6" text-anchor="middle" font-weight="bold" fill="#111" letter-spacing="2.8">***</text>
<path d="M1545.2,1146.6 C1552,1147.6 1560,1148.6 1569,1149.6 C1572,1150.6 1569,1152.2 1566,1153.4 C1578,1154.4 1590,1155.6 1596.5,1157.6 C1594,1159 1594,1160.2 1596.5,1161.8 L1596,1163.2 L1494.4,1163.2 L1493.9,1161.8 C1496.4,1160.2 1496.4,1159 1493.9,1157.6 C1500.4,1155.6 1512.4,1154.4 1524.4,1153.4 C1521.4,1152.2 1518.4,1150.6 1521.4,1149.6 C1530.4,1148.6 1538.4,1147.6 1545.2,1146.6 Z" fill="#a9a9ab" stroke="#1a1a1a" stroke-width="1.3"/>
<line x1="1526.0" y1="1155.2" x2="1565.0" y2="1155.2" stroke="#2b46c2" stroke-width="1.8" stroke-dasharray="1.8 3.2"/>
<line x1="1500.0" y1="1158.8" x2="1592.0" y2="1158.8" stroke="#2b46c2" stroke-width="2.2" stroke-dasharray="5 3"/>
<line x1="1500.0" y1="1161.6" x2="1592.0" y2="1161.6" stroke="#2b46c2" stroke-width="1.8" stroke-dasharray="1.8 3.2"/>
<line x1="1545.2" y1="1100.5" x2="1545.2" y2="1147.0" stroke="#2a2a2a" stroke-width="1.4" />
<path d="M1541.2,1099.6 L1549.2,1099.6 L1545.2,1103.2 Z" fill="#2a2a2a" stroke="#2a2a2a" stroke-width="1"/>
<path d="M1545.2,1141.6 L1548.8,1144.7 L1545.2,1147.8 L1541.6,1144.7 Z" fill="#cfcfcf" stroke="#2a2a2a" stroke-width="1.2"/>
<path d="M1694.60,939.00C1694.45,939.67 1693.87,941.40 1693.70,943.00C1693.53,944.60 1693.40,946.93 1693.60,948.60C1693.80,950.27 1694.30,951.43 1694.90,953.00C1695.50,954.57 1696.38,956.17 1697.20,958.00C1698.02,959.83 1699.10,962.08 1699.80,964.00C1700.50,965.92 1700.95,967.33 1701.40,969.50C1701.85,971.67 1702.28,973.25 1702.50,977.00C1702.72,980.75 1702.70,986.90 1702.70,992.00C1702.70,997.10 1702.88,1003.73 1702.50,1007.60C1702.12,1011.47 1701.02,1012.80 1700.40,1015.20C1699.78,1017.60 1699.40,1019.45 1698.80,1022.00C1698.20,1024.55 1697.70,1027.50 1696.80,1030.50C1695.90,1033.50 1694.63,1036.83 1693.40,1040.00C1692.17,1043.17 1690.90,1046.67 1689.40,1049.50C1687.90,1052.33 1686.10,1054.45 1684.40,1057.00C1682.70,1059.55 1681.03,1062.30 1679.20,1064.80C1677.37,1067.30 1675.13,1069.78 1673.40,1072.00C1671.67,1074.22 1669.90,1076.27 1668.80,1078.10C1667.70,1079.93 1667.22,1081.42 1666.80,1083.00C1666.38,1084.58 1666.20,1086.10 1666.30,1087.60C1666.40,1089.10 1666.80,1090.43 1667.40,1092.00C1668.00,1093.57 1669.12,1095.18 1669.90,1097.00C1670.68,1098.82 1671.68,1100.65 1672.10,1102.90C1672.52,1105.15 1672.85,1107.98 1672.40,1110.50C1671.95,1113.02 1670.90,1115.47 1669.40,1118.00C1667.90,1120.53 1665.27,1123.37 1663.40,1125.70C1661.53,1128.03 1659.75,1129.78 1658.20,1132.00C1656.65,1134.22 1655.12,1136.83 1654.10,1139.00C1653.08,1141.17 1652.47,1143.40 1652.10,1145.00C1651.73,1146.60 1651.60,1147.43 1651.90,1148.60C1652.20,1149.77 1652.82,1150.73 1653.90,1152.00C1654.98,1153.27 1656.32,1154.62 1658.40,1156.20C1660.48,1157.78 1652.73,1160.62 1666.40,1161.50L1740.40,1161.50C1754.07,1160.62 1746.32,1157.78 1748.40,1156.20C1750.48,1154.62 1751.82,1153.27 1752.90,1152.00C1753.98,1150.73 1754.60,1149.77 1754.90,1148.60C1755.20,1147.43 1755.07,1146.60 1754.70,1145.00C1754.33,1143.40 1753.72,1141.17 1752.70,1139.00C1751.68,1136.83 1750.15,1134.22 1748.60,1132.00C1747.05,1129.78 1745.27,1128.03 1743.40,1125.70C1741.53,1123.37 1738.90,1120.53 1737.40,1118.00C1735.90,1115.47 1734.85,1113.02 1734.40,1110.50C1733.95,1107.98 1734.28,1105.15 1734.70,1102.90C1735.12,1100.65 1736.12,1098.82 1736.90,1097.00C1737.68,1095.18 1738.80,1093.57 1739.40,1092.00C1740.00,1090.43 1740.40,1089.10 1740.50,1087.60C1740.60,1086.10 1740.42,1084.58 1740.00,1083.00C1739.58,1081.42 1739.10,1079.93 1738.00,1078.10C1736.90,1076.27 1735.13,1074.22 1733.40,1072.00C1731.67,1069.78 1729.43,1067.30 1727.60,1064.80C1725.77,1062.30 1724.10,1059.55 1722.40,1057.00C1720.70,1054.45 1718.90,1052.33 1717.40,1049.50C1715.90,1046.67 1714.63,1043.17 1713.40,1040.00C1712.17,1036.83 1710.90,1033.50 1710.00,1030.50C1709.10,1027.50 1708.60,1024.55 1708.00,1022.00C1707.40,1019.45 1707.02,1017.60 1706.40,1015.20C1705.78,1012.80 1704.68,1011.47 1704.30,1007.60C1703.92,1003.73 1704.10,997.10 1704.10,992.00C1704.10,986.90 1704.08,980.75 1704.30,977.00C1704.52,973.25 1704.95,971.67 1705.40,969.50C1705.85,967.33 1706.30,965.92 1707.00,964.00C1707.70,962.08 1708.78,959.83 1709.60,958.00C1710.42,956.17 1711.30,954.57 1711.90,953.00C1712.50,951.43 1713.00,950.27 1713.20,948.60C1713.40,946.93 1713.27,944.60 1713.10,943.00C1712.93,941.40 1712.35,939.67 1712.20,939.00Z" fill="#fcdcc1" stroke="#2a2a2a" stroke-width="1.3"/>
<line x1="1669.6" y1="1081.0" x2="1737.2" y2="1081.0" stroke="#e3241c" stroke-width="2.2" stroke-dasharray="1.8 4.2"/>
<line x1="1670.2" y1="1119.6" x2="1736.6" y2="1119.6" stroke="#e3241c" stroke-width="2.4" stroke-dasharray="6 3.5"/>
<line x1="1654.0" y1="1146.3" x2="1752.8" y2="1146.3" stroke="#e3241c" stroke-width="2.2" stroke-dasharray="1.8 4.2"/>
<circle cx="1703.4" cy="939.6" r="2.7" fill="#5f6064" />
<circle cx="1703.4" cy="952.0" r="2.7" fill="#5f6064" />
<circle cx="1710.1" cy="950.1" r="2.7" fill="#5f6064" />
<circle cx="1703.4" cy="1030.9" r="2.7" fill="#5f6064" />
<circle cx="1703.4" cy="1046.3" r="2.7" fill="#5f6064" />
<circle cx="1703.4" cy="1052.4" r="2.7" fill="#5f6064" />
<circle cx="1703.4" cy="1060.6" r="2.7" fill="#5f6064" />
<circle cx="1703.4" cy="1069.1" r="2.7" fill="#5f6064" />
<circle cx="1700.0" cy="1075.8" r="2.7" fill="#5f6064" />
<circle cx="1706.7" cy="1075.8" r="2.7" fill="#5f6064" />
<circle cx="1696.6" cy="1081.5" r="2.7" fill="#5f6064" />
<circle cx="1703.4" cy="1081.0" r="2.7" fill="#5f6064" />
<circle cx="1710.1" cy="1081.0" r="2.7" fill="#5f6064" />
<circle cx="1700.0" cy="1087.2" r="2.7" fill="#5f6064" />
<circle cx="1706.7" cy="1086.1" r="2.7" fill="#5f6064" />
<circle cx="1696.6" cy="1094.3" r="2.7" fill="#5f6064" />
<circle cx="1703.4" cy="1094.9" r="2.7" fill="#5f6064" />
<circle cx="1710.1" cy="1094.9" r="2.7" fill="#5f6064" />
<circle cx="1716.8" cy="1093.9" r="2.7" fill="#5f6064" />
<circle cx="1703.4" cy="1102.9" r="2.7" fill="#5f6064" />
<circle cx="1703.4" cy="1107.6" r="2.7" fill="#5f6064" />
<circle cx="1703.4" cy="1111.4" r="2.7" fill="#5f6064" />
<circle cx="1696.6" cy="1119.6" r="2.7" fill="#5f6064" />
<circle cx="1696.6" cy="1123.8" r="2.7" fill="#5f6064" />
<circle cx="1703.4" cy="1121.3" r="2.7" fill="#5f6064" />
<circle cx="1710.1" cy="1120.6" r="2.7" fill="#5f6064" />
<circle cx="1716.8" cy="1120.4" r="2.7" fill="#5f6064" />
<circle cx="1703.4" cy="1129.5" r="2.7" fill="#5f6064" />
<circle cx="1703.4" cy="1136.2" r="2.7" fill="#5f6064" />
<circle cx="1689.9" cy="1141.9" r="2.7" fill="#5f6064" />
<circle cx="1703.4" cy="1141.9" r="2.7" fill="#5f6064" />
<circle cx="1710.1" cy="1140.0" r="2.7" fill="#5f6064" />
<circle cx="1716.8" cy="1140.6" r="2.7" fill="#5f6064" />
<circle cx="1696.6" cy="1145.7" r="2.7" fill="#5f6064" />
<circle cx="1703.4" cy="1146.7" r="2.7" fill="#5f6064" />
<circle cx="1696.6" cy="1150.1" r="2.7" fill="#5f6064" />
<circle cx="1710.1" cy="1150.1" r="2.7" fill="#5f6064" />
<circle cx="1689.9" cy="1153.9" r="2.7" fill="#5f6064" />
<circle cx="1696.6" cy="1156.2" r="2.7" fill="#5f6064" />
<circle cx="1703.4" cy="1152.8" r="2.7" fill="#5f6064" />
<circle cx="1710.1" cy="1156.2" r="2.7" fill="#5f6064" />
<circle cx="1703.4" cy="1158.1" r="2.7" fill="#5f6064" />
<circle cx="1716.8" cy="1156.2" r="2.7" fill="#5f6064" />
<circle cx="1696.6" cy="1161.5" r="2.7" fill="#5f6064" />
<circle cx="1710.1" cy="1158.1" r="2.7" fill="#5f6064" />
<path d="M1843.10,828.50C1843.48,830.08 1844.58,834.50 1845.40,838.00C1846.22,841.50 1847.03,845.00 1848.00,849.50C1848.97,854.00 1850.50,860.17 1851.20,865.00C1851.90,869.83 1852.23,874.33 1852.20,878.50C1852.17,882.67 1851.63,886.03 1851.00,890.00C1850.37,893.97 1849.62,897.30 1848.40,902.30C1847.18,907.30 1845.48,913.42 1843.70,920.00C1841.92,926.58 1839.37,935.13 1837.70,941.80C1836.03,948.47 1834.87,953.40 1833.70,960.00C1832.53,966.60 1831.45,974.73 1830.70,981.40C1829.95,988.07 1829.58,993.42 1829.20,1000.00C1828.82,1006.58 1828.67,1015.07 1828.40,1020.90C1828.13,1026.73 1827.93,1031.48 1827.60,1035.00C1827.27,1038.52 1827.22,1038.67 1826.40,1042.00C1825.58,1045.33 1824.50,1050.60 1822.70,1055.00C1820.90,1059.40 1817.57,1063.73 1815.60,1068.40C1813.63,1073.07 1811.92,1078.17 1810.90,1083.00C1809.88,1087.83 1809.03,1092.90 1809.50,1097.40C1809.97,1101.90 1811.75,1106.05 1813.70,1110.00C1815.65,1113.95 1818.95,1117.77 1821.20,1121.10C1823.45,1124.43 1825.48,1127.37 1827.20,1130.00C1828.92,1132.63 1830.17,1134.40 1831.50,1136.90C1832.83,1139.40 1834.08,1142.37 1835.20,1145.00C1836.32,1147.63 1830.03,1151.42 1838.20,1152.70L1884.20,1152.70C1892.37,1151.42 1886.08,1147.63 1887.20,1145.00C1888.32,1142.37 1889.57,1139.40 1890.90,1136.90C1892.23,1134.40 1893.48,1132.63 1895.20,1130.00C1896.92,1127.37 1898.95,1124.43 1901.20,1121.10C1903.45,1117.77 1906.75,1113.95 1908.70,1110.00C1910.65,1106.05 1912.43,1101.90 1912.90,1097.40C1913.37,1092.90 1912.52,1087.83 1911.50,1083.00C1910.48,1078.17 1908.77,1073.07 1906.80,1068.40C1904.83,1063.73 1901.50,1059.40 1899.70,1055.00C1897.90,1050.60 1896.82,1045.33 1896.00,1042.00C1895.18,1038.67 1895.13,1038.52 1894.80,1035.00C1894.47,1031.48 1894.27,1026.73 1894.00,1020.90C1893.73,1015.07 1893.58,1006.58 1893.20,1000.00C1892.82,993.42 1892.45,988.07 1891.70,981.40C1890.95,974.73 1889.87,966.60 1888.70,960.00C1887.53,953.40 1886.37,948.47 1884.70,941.80C1883.03,935.13 1880.48,926.58 1878.70,920.00C1876.92,913.42 1875.22,907.30 1874.00,902.30C1872.78,897.30 1872.03,893.97 1871.40,890.00C1870.77,886.03 1870.23,882.67 1870.20,878.50C1870.17,874.33 1870.50,869.83 1871.20,865.00C1871.90,860.17 1873.43,854.00 1874.40,849.50C1875.37,845.00 1876.18,841.50 1877.00,838.00C1877.82,834.50 1878.92,830.08 1879.30,828.50Z" fill="#f29d42" stroke="#2a2a2a" stroke-width="1.3"/>
<line x1="1837.1" y1="953.7" x2="1885.3" y2="953.7" stroke="#6b6b6b" stroke-width="2.2" stroke-dasharray="1.8 4.2"/>
<line x1="1827.4" y1="1045.4" x2="1895.0" y2="1045.4" stroke="#6b6b6b" stroke-width="2.4" stroke-dasharray="6 3.5"/>
<line x1="1813.4" y1="1103.2" x2="1909.0" y2="1103.2" stroke="#6b6b6b" stroke-width="2.2" stroke-dasharray="1.8 4.2"/>
<circle cx="1858.0" cy="828.5" r="2.6" fill="#5f6064" />
<circle cx="1865.1" cy="828.5" r="2.6" fill="#5f6064" />
<circle cx="1861.2" cy="917.3" r="2.6" fill="#5f6064" />
<circle cx="1861.2" cy="953.7" r="2.6" fill="#5f6064" />
<circle cx="1861.2" cy="983.2" r="2.6" fill="#5f6064" />
<circle cx="1861.2" cy="993.8" r="2.6" fill="#5f6064" />
<circle cx="1861.2" cy="1015.6" r="2.6" fill="#5f6064" />
<circle cx="1861.2" cy="1046.0" r="2.6" fill="#5f6064" />
<circle cx="1861.2" cy="1059.4" r="2.6" fill="#5f6064" />
<circle cx="1861.2" cy="1091.0" r="2.6" fill="#5f6064" />
<circle cx="1858.0" cy="1100.0" r="2.6" fill="#5f6064" />
<circle cx="1865.1" cy="1103.2" r="2.6" fill="#5f6064" />
<circle cx="1861.2" cy="1109.2" r="2.6" fill="#5f6064" />
<circle cx="1861.2" cy="1113.7" r="2.6" fill="#5f6064" />
<circle cx="1861.2" cy="1152.7" r="2.6" fill="#5f6064" />
</svg>
</body></html>
